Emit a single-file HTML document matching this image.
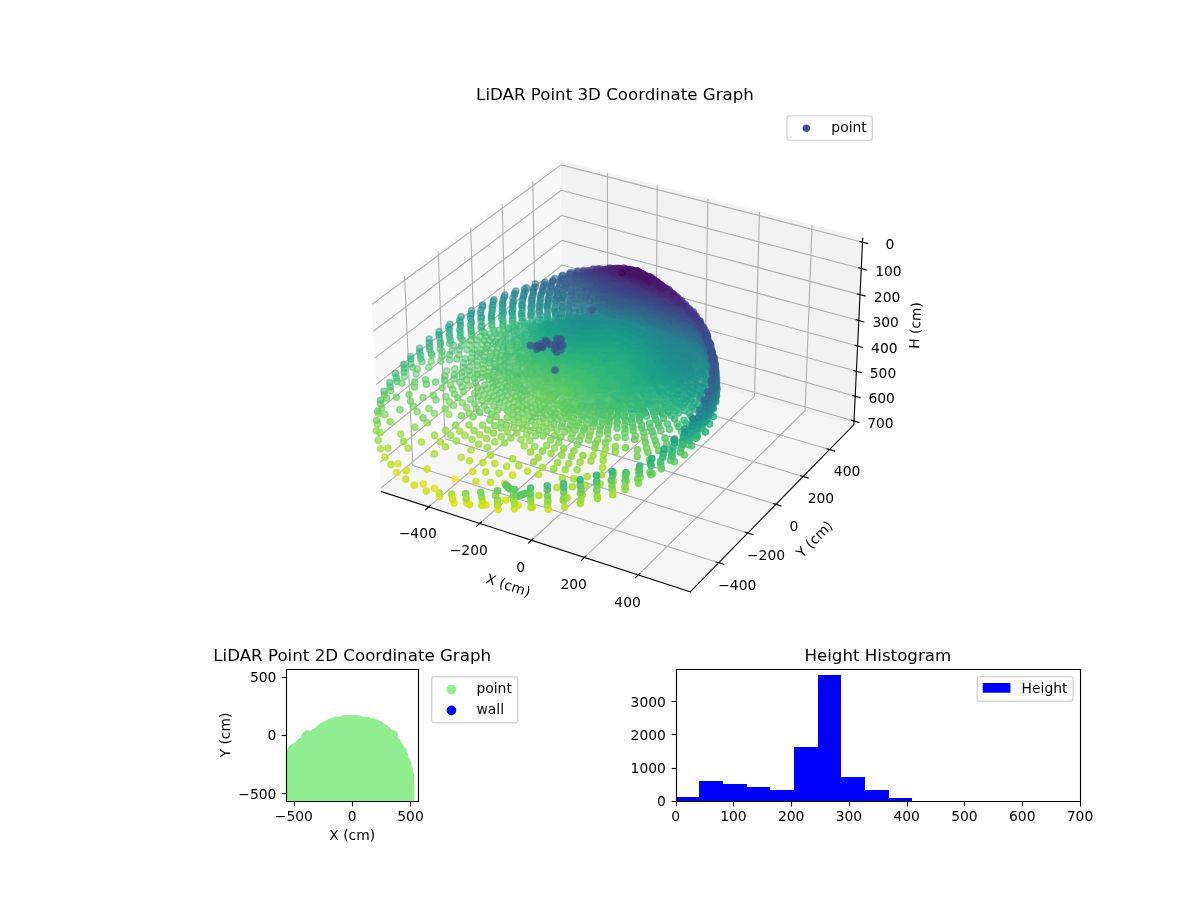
<!DOCTYPE html>
<html><head><meta charset="utf-8"><title>LiDAR Point Graphs</title>
<style>html,body{margin:0;padding:0;background:#fff}svg{display:block}</style></head>
<body>
<svg width="1200" height="900" viewBox="0 0 864 648" version="1.1">
 
 <defs>
  <style type="text/css">*{stroke-linejoin:round;stroke-linecap:butt}.d path{stroke-linecap:round;fill:none!important}.d use{stroke-width:1}.c0{stroke:#440154;fill:#440154}.c1{stroke:#460a5d;fill:#460a5d}.c2{stroke:#481467;fill:#481467}.c3{stroke:#481c6e;fill:#481c6e}.c4{stroke:#482576;fill:#482576}.c5{stroke:#472d7b;fill:#472d7b}.c6{stroke:#453581;fill:#453581}.c7{stroke:#433d84;fill:#433d84}.c8{stroke:#404588;fill:#404588}.c9{stroke:#3d4d8a;fill:#3d4d8a}.c10{stroke:#3a538b;fill:#3a538b}.c11{stroke:#375b8d;fill:#375b8d}.c12{stroke:#34618d;fill:#34618d}.c13{stroke:#31688e;fill:#31688e}.c14{stroke:#2e6e8e;fill:#2e6e8e}.c15{stroke:#2b748e;fill:#2b748e}.c16{stroke:#297b8e;fill:#297b8e}.c17{stroke:#26818e;fill:#26818e}.c18{stroke:#24878e;fill:#24878e}.c19{stroke:#228d8d;fill:#228d8d}.c20{stroke:#20938c;fill:#20938c}.c21{stroke:#1f998a;fill:#1f998a}.c22{stroke:#1fa088;fill:#1fa088}.c23{stroke:#21a585;fill:#21a585}.c24{stroke:#25ac82;fill:#25ac82}.c25{stroke:#2db27d;fill:#2db27d}.c26{stroke:#35b779;fill:#35b779}.c27{stroke:#40bd72;fill:#40bd72}.c28{stroke:#4cc26c;fill:#4cc26c}.c29{stroke:#5ac864;fill:#5ac864}.c30{stroke:#67cc5c;fill:#67cc5c}.c31{stroke:#77d153;fill:#77d153}.c32{stroke:#89d548;fill:#89d548}.c33{stroke:#98d83e;fill:#98d83e}.c34{stroke:#aadc32;fill:#aadc32}.c35{stroke:#bade28;fill:#bade28}.c36{stroke:#cde11d;fill:#cde11d}.c37{stroke:#dde318;fill:#dde318}.c38{stroke:#efe51c;fill:#efe51c}.c39{stroke:#fde725;fill:#fde725}</style>
 </defs>
 <defs><circle id="k" r="2.236"/></defs><g id="figure_1">
  <g id="patch_1">
   <path d="M 0 648 
L 864 648 
L 864 0 
L 0 0 
z
" style="fill: #ffffff"/>
  </g>
  <g id="patch_2">
   <path d="M 252.72 457.92 
L 632.88 457.92 
L 632.88 77.76 
L 252.72 77.76 
z
" style="fill: #ffffff"/>
  </g>
  <g id="pane3d_1">
   <g id="patch_3">
    <path d="M 267.680796 216.18586 
L 403.881306 116.035228 
L 405.421245 245.571476 
L 274.565229 353.897859 
" style="fill: #f2f2f2; opacity: 0.5; stroke: #f2f2f2; stroke-linejoin: miter"/>
   </g>
  </g>
  <g id="pane3d_2">
   <g id="patch_4">
    <path d="M 403.881306 116.035228 
L 621.142482 171.595328 
L 614.776617 305.757118 
L 405.421245 245.571476 
" style="fill: #e6e6e6; opacity: 0.5; stroke: #e6e6e6; stroke-linejoin: miter"/>
   </g>
  </g>
  <g id="pane3d_3">
   <g id="patch_5">
    <path d="M 274.565229 353.897859 
L 497.017399 426.096021 
L 614.776617 305.757118 
L 405.421245 245.571476 
" style="fill: #ececec; opacity: 0.5; stroke: #ececec; stroke-linejoin: miter"/>
   </g>
  </g>
  <g id="grid3d_1">
   <g id="Line3DCollection_1">
    <path d="M 308.711138 364.980115 
L 437.68707 254.84728 
L 437.312753 124.584636 
" style="fill: none; stroke: #b0b0b0; stroke-width: 0.8"/>
    <path d="M 345.381222 376.881607 
L 472.285316 264.793611 
L 473.182238 133.757523 
" style="fill: none; stroke: #b0b0b0; stroke-width: 0.8"/>
    <path d="M 382.734945 389.004978 
L 507.472512 274.909252 
L 509.685004 143.092358 
" style="fill: none; stroke: #b0b0b0; stroke-width: 0.8"/>
    <path d="M 420.791602 401.35649 
L 543.263826 285.198567 
L 546.837973 152.59347 
" style="fill: none; stroke: #b0b0b0; stroke-width: 0.8"/>
    <path d="M 459.571225 413.942645 
L 579.67495 295.666064 
L 584.658671 162.26534 
" style="fill: none; stroke: #b0b0b0; stroke-width: 0.8"/>
   </g>
  </g>
  <g id="grid3d_2">
   <g id="Line3DCollection_2">
    <path d="M 291.32191 198.802133 
L 297.215645 335.147192 
L 517.481529 405.183595 
" style="fill: none; stroke: #b0b0b0; stroke-width: 0.8"/>
    <path d="M 315.492775 181.02887 
L 320.400922 315.953751 
L 538.393797 383.813214 
" style="fill: none; stroke: #b0b0b0; stroke-width: 0.8"/>
    <path d="M 338.91015 163.809662 
L 342.889816 297.336797 
L 558.644113 363.119286 
" style="fill: none; stroke: #b0b0b0; stroke-width: 0.8"/>
    <path d="M 361.608727 147.118999 
L 364.713236 279.270741 
L 578.263417 343.070192 
" style="fill: none; stroke: #b0b0b0; stroke-width: 0.8"/>
    <path d="M 383.621102 130.932912 
L 385.90029 261.731487 
L 597.280752 323.636255 
" style="fill: none; stroke: #b0b0b0; stroke-width: 0.8"/>
   </g>
  </g>
  <g id="grid3d_3">
   <g id="Line3DCollection_3">
    <path d="M 621.010408 174.37882 
L 403.913197 118.717846 
L 267.823838 219.047196 
" style="fill: none; stroke: #b0b0b0; stroke-width: 0.8"/>
    <path d="M 620.110153 193.351864 
L 404.130642 137.008834 
L 268.798619 238.546111 
" style="fill: none; stroke: #b0b0b0; stroke-width: 0.8"/>
    <path d="M 619.219215 212.12855 
L 404.34595 155.120025 
L 269.762905 257.835104 
" style="fill: none; stroke: #b0b0b0; stroke-width: 0.8"/>
    <path d="M 618.33745 230.71191 
L 404.559151 173.054054 
L 270.716866 276.917548 
" style="fill: none; stroke: #b0b0b0; stroke-width: 0.8"/>
    <path d="M 617.464717 249.104914 
L 404.770277 190.81351 
L 271.660665 295.796741 
" style="fill: none; stroke: #b0b0b0; stroke-width: 0.8"/>
    <path d="M 616.600878 267.310473 
L 404.979358 208.400929 
L 272.594466 314.475915 
" style="fill: none; stroke: #b0b0b0; stroke-width: 0.8"/>
    <path d="M 615.745799 285.331436 
L 405.186424 225.818799 
L 273.518425 332.958231 
" style="fill: none; stroke: #b0b0b0; stroke-width: 0.8"/>
    <path d="M 614.899345 303.170599 
L 405.391502 243.069559 
L 274.432698 351.246786 
" style="fill: none; stroke: #b0b0b0; stroke-width: 0.8"/>
   </g>
  </g>
  <g id="axis3d_1">
   <g id="line2d_1">
    <path d="M 274.565229 353.897859 
L 497.017399 426.096021 
" style="fill: none; stroke: #000000; stroke-width: 0.8; stroke-linecap: square"/>
   </g>
   <g id="xtick_1">
    <g id="line2d_2">
     <path d="M 309.838522 364.017439 
L 306.451304 366.909792 
" style="fill: none; stroke: #000000; stroke-width: 0.8; stroke-linecap: square"/>
    </g>
    <g id="text_1">
     <text style="font-size: 10px; font-family: 'DejaVu Sans', 'Liberation Sans', sans-serif; text-anchor: middle" x="300.806394" y="387.354919" transform="rotate(-0 300.806394 387.354919)">−400</text>
    </g>
   </g>
   <g id="xtick_2">
    <g id="line2d_3">
     <path d="M 346.491365 375.901074 
L 343.155905 378.847118 
" style="fill: none; stroke: #000000; stroke-width: 0.8; stroke-linecap: square"/>
    </g>
    <g id="text_2">
     <text style="font-size: 10px; font-family: 'DejaVu Sans', 'Liberation Sans', sans-serif; text-anchor: middle" x="337.52168" y="399.431758" transform="rotate(-0 337.52168 399.431758)">−200</text>
    </g>
   </g>
   <g id="xtick_3">
    <g id="line2d_4">
     <path d="M 383.827003 388.006087 
L 380.54583 391.007331 
" style="fill: none; stroke: #000000; stroke-width: 0.8; stroke-linecap: square"/>
    </g>
    <g id="text_3">
     <text style="font-size: 10px; font-family: 'DejaVu Sans', 'Liberation Sans', sans-serif; text-anchor: middle" x="374.923677" y="411.734478" transform="rotate(-0 374.923677 411.734478)">0</text>
    </g>
   </g>
   <g id="xtick_4">
    <g id="line2d_5">
     <path d="M 421.864697 400.33872 
L 418.640455 403.39673 
" style="fill: none; stroke: #000000; stroke-width: 0.8; stroke-linecap: square"/>
    </g>
    <g id="text_4">
     <text style="font-size: 10px; font-family: 'DejaVu Sans', 'Liberation Sans', sans-serif; text-anchor: middle" x="413.031834" y="424.269476" transform="rotate(-0 413.031834 424.269476)">200</text>
    </g>
   </g>
   <g id="xtick_5">
    <g id="line2d_6">
     <path d="M 460.624436 412.905456 
L 457.459891 416.021858 
" style="fill: none; stroke: #000000; stroke-width: 0.8; stroke-linecap: square"/>
    </g>
    <g id="text_5">
     <text style="font-size: 10px; font-family: 'DejaVu Sans', 'Liberation Sans', sans-serif; text-anchor: middle" x="451.86634" y="437.043394" transform="rotate(-0 451.86634 437.043394)">400</text>
    </g>
   </g>
   <g id="text_6">
    <text style="font-size: 10px; font-family: 'DejaVu Sans', 'Liberation Sans', sans-serif; text-anchor: middle" x="364.836861" y="424.649564" transform="rotate(-342.018856 364.836861 424.649564)">X (cm)</text>
   </g>
  </g>
  <g id="axis3d_2">
   <g id="line2d_7">
    <path d="M 614.776617 305.757118 
L 497.017399 426.096021 
" style="fill: none; stroke: #000000; stroke-width: 0.8; stroke-linecap: square"/>
   </g>
   <g id="xtick_6">
    <g id="line2d_8">
     <path d="M 515.622193 404.592395 
L 521.20517 406.367575 
" style="fill: none; stroke: #000000; stroke-width: 0.8; stroke-linecap: square"/>
    </g>
    <g id="text_7">
     <text style="font-size: 10px; font-family: 'DejaVu Sans', 'Liberation Sans', sans-serif; text-anchor: middle" x="530.838385" y="424.970802" transform="rotate(-0 530.838385 424.970802)">−400</text>
    </g>
   </g>
   <g id="xtick_7">
    <g id="line2d_9">
     <path d="M 536.555195 383.240872 
L 542.075836 384.959404 
" style="fill: none; stroke: #000000; stroke-width: 0.8; stroke-linecap: square"/>
    </g>
    <g id="text_8">
     <text style="font-size: 10px; font-family: 'DejaVu Sans', 'Liberation Sans', sans-serif; text-anchor: middle" x="551.554691" y="403.384783" transform="rotate(-0 551.554691 403.384783)">−200</text>
    </g>
   </g>
   <g id="xtick_8">
    <g id="line2d_10">
     <path d="M 556.825874 362.564913 
L 562.285297 364.229466 
" style="fill: none; stroke: #000000; stroke-width: 0.8; stroke-linecap: square"/>
    </g>
    <g id="text_9">
     <text style="font-size: 10px; font-family: 'DejaVu Sans', 'Liberation Sans', sans-serif; text-anchor: middle" x="571.614661" y="382.482655" transform="rotate(-0 571.614661 382.482655)">0</text>
    </g>
   </g>
   <g id="xtick_9">
    <g id="line2d_11">
     <path d="M 576.465174 342.532956 
L 581.864485 344.146033 
" style="fill: none; stroke: #000000; stroke-width: 0.8; stroke-linecap: square"/>
    </g>
    <g id="text_10">
     <text style="font-size: 10px; font-family: 'DejaVu Sans', 'Liberation Sans', sans-serif; text-anchor: middle" x="591.048999" y="362.232423" transform="rotate(-0 591.048999 362.232423)">200</text>
    </g>
   </g>
   <g id="xtick_10">
    <g id="line2d_12">
     <path d="M 595.502143 323.115373 
L 600.842432 324.679327 
" style="fill: none; stroke: #000000; stroke-width: 0.8; stroke-linecap: square"/>
    </g>
    <g id="text_11">
     <text style="font-size: 10px; font-family: 'DejaVu Sans', 'Liberation Sans', sans-serif; text-anchor: middle" x="609.886525" y="342.604058" transform="rotate(-0 609.886525 342.604058)">400</text>
    </g>
   </g>
   <g id="text_12">
    <text style="font-size: 10px; font-family: 'DejaVu Sans', 'Liberation Sans', sans-serif; text-anchor: middle" x="588.842829" y="390.652061" transform="rotate(-45.620749 588.842829 390.652061)">Y (cm)</text>
   </g>
  </g>
  <g id="axis3d_3">
   <g id="line2d_13">
    <path d="M 614.776617 305.757118 
L 621.142482 171.595328 
" style="fill: none; stroke: #000000; stroke-width: 0.8; stroke-linecap: square"/>
   </g>
   <g id="xtick_11">
    <g id="line2d_14">
     <path d="M 619.181675 173.909956 
L 624.672565 175.317751 
" style="fill: none; stroke: #000000; stroke-width: 0.8; stroke-linecap: square"/>
    </g>
    <g id="text_13">
     <text style="font-size: 10px; font-family: 'DejaVu Sans', 'Liberation Sans', sans-serif; text-anchor: middle" x="640.677285" y="179.489939" transform="rotate(-0 640.677285 179.489939)">0</text>
    </g>
   </g>
   <g id="xtick_12">
    <g id="line2d_15">
     <path d="M 618.29131 192.877379 
L 623.752479 194.302046 
" style="fill: none; stroke: #000000; stroke-width: 0.8; stroke-linecap: square"/>
    </g>
    <g id="text_14">
     <text style="font-size: 10px; font-family: 'DejaVu Sans', 'Liberation Sans', sans-serif; text-anchor: middle" x="639.67699" y="198.433139" transform="rotate(-0 639.67699 198.433139)">100</text>
    </g>
   </g>
   <g id="xtick_13">
    <g id="line2d_16">
     <path d="M 617.410157 211.648585 
L 622.841923 213.089699 
" style="fill: none; stroke: #000000; stroke-width: 0.8; stroke-linecap: square"/>
    </g>
    <g id="text_15">
     <text style="font-size: 10px; font-family: 'DejaVu Sans', 'Liberation Sans', sans-serif; text-anchor: middle" x="638.687024" y="217.180728" transform="rotate(-0 638.687024 217.180728)">200</text>
    </g>
   </g>
   <g id="xtick_14">
    <g id="line2d_17">
     <path d="M 616.538072 230.226602 
L 621.94075 231.683751 
" style="fill: none; stroke: #000000; stroke-width: 0.8; stroke-linecap: square"/>
    </g>
    <g id="text_16">
     <text style="font-size: 10px; font-family: 'DejaVu Sans', 'Liberation Sans', sans-serif; text-anchor: middle" x="637.707229" y="235.735721" transform="rotate(-0 637.707229 235.735721)">300</text>
    </g>
   </g>
   <g id="xtick_15">
    <g id="line2d_18">
     <path d="M 615.674916 248.614398 
L 621.048816 250.087179 
" style="fill: none; stroke: #000000; stroke-width: 0.8; stroke-linecap: square"/>
    </g>
    <g id="text_17">
     <text style="font-size: 10px; font-family: 'DejaVu Sans', 'Liberation Sans', sans-serif; text-anchor: middle" x="636.737447" y="254.101072" transform="rotate(-0 636.737447 254.101072)">400</text>
    </g>
   </g>
   <g id="xtick_16">
    <g id="line2d_19">
     <path d="M 614.820553 266.81488 
L 620.16598 268.302898 
" style="fill: none; stroke: #000000; stroke-width: 0.8; stroke-linecap: square"/>
    </g>
    <g id="text_18">
     <text style="font-size: 10px; font-family: 'DejaVu Sans', 'Liberation Sans', sans-serif; text-anchor: middle" x="635.777526" y="272.279671" transform="rotate(-0 635.777526 272.279671)">500</text>
    </g>
   </g>
   <g id="xtick_17">
    <g id="line2d_20">
     <path d="M 613.974849 284.830894 
L 619.292102 286.333766 
" style="fill: none; stroke: #000000; stroke-width: 0.8; stroke-linecap: square"/>
    </g>
    <g id="text_19">
     <text style="font-size: 10px; font-family: 'DejaVu Sans', 'Liberation Sans', sans-serif; text-anchor: middle" x="634.827318" y="290.274354" transform="rotate(-0 634.827318 290.274354)">600</text>
    </g>
   </g>
   <g id="xtick_18">
    <g id="line2d_21">
     <path d="M 613.137674 302.665232 
L 618.427047 304.182583 
" style="fill: none; stroke: #000000; stroke-width: 0.8; stroke-linecap: square"/>
    </g>
    <g id="text_20">
     <text style="font-size: 10px; font-family: 'DejaVu Sans', 'Liberation Sans', sans-serif; text-anchor: middle" x="633.886674" y="308.087898" transform="rotate(-0 633.886674 308.087898)">700</text>
    </g>
   </g>
   <g id="text_21">
    <text style="font-size: 10px; font-family: 'DejaVu Sans', 'Liberation Sans', sans-serif; text-anchor: middle" x="662.549299" y="234.4502" transform="rotate(-87.2834 662.549299 234.4502)">H (cm)</text>
   </g>
  </g>
  <g id="axes_1">
   <g id="SCATTER3D">
    <defs>
     <path id="m24099ccb27" d="M 0 2.236068 
C 0.593012 2.236068 1.161816 2.000462 1.581139 1.581139 
C 2.000462 1.161816 2.236068 0.593012 2.236068 0 
C 2.236068 -0.593012 2.000462 -1.161816 1.581139 -1.581139 
C 1.161816 -2.000462 0.593012 -2.236068 0 -2.236068 
C -0.593012 -2.236068 -1.161816 -2.000462 -1.581139 -1.581139 
C -2.000462 -1.161816 -2.236068 -0.593012 -2.236068 0 
C -2.236068 0.593012 -2.000462 1.161816 -1.581139 1.581139 
C -1.161816 2.000462 -0.593012 2.236068 0 2.236068 
z
" style="stroke: #3b528b"/>
    </defs>
    <g clip-path="url(#pcbff7d88e8)">
     <g class="d" stroke-width="5.47"><g class="c25" fill-opacity=".5" stroke-opacity=".5"><use href="#k" x="377.5" y="232.5"/><use href="#k" x="375.9" y="231.4"/><use href="#k" x="369" y="230.9"/></g><path class="c25" opacity=".51" d="M379.9 233h0"/><g class="c21" fill-opacity=".5" stroke-opacity=".5"><use href="#k" x="394.1" y="227.4"/><use href="#k" x="389" y="226.7"/><use href="#k" x="388.3" y="224.6"/><use href="#k" x="382.6" y="224.7"/></g><path class="c21" opacity=".51" d="M400 228.5h0M399.9 231.1h0"/><path class="c21" opacity=".51" d="M401.8 229.5h0"/><g class="c23" fill-opacity=".5" stroke-opacity=".5"><use href="#k" x="375.7" y="227.2"/></g><path class="c23" opacity=".51" d="M388.4 229.9h0M385.9 231.8h0"/><path class="c23" opacity=".51" d="M390.6 230.8h0M387.7 232.5h0"/><g class="c22" fill-opacity=".5" stroke-opacity=".5"><use href="#k" x="382.5" y="227.2"/><use href="#k" x="382.1" y="226.1"/><use href="#k" x="375.4" y="225.7"/></g><path class="c22" opacity=".51" d="M388.1 228.6h0M395.6 230.2h0"/><path class="c22" opacity=".51" d="M394.1 228.9h0M397.6 231.2h0M394.7 232h0"/><path class="c22" opacity=".51" d="M393.4 230.9h0"/><g class="c24" fill-opacity=".5" stroke-opacity=".5"><use href="#k" x="375.9" y="229.2"/><use href="#k" x="369.2" y="229.5"/></g><path class="c24" opacity=".51" d="M383.2 231.2h0"/><path class="c24" opacity=".51" d="M382.6 230h0M382.8 233.1h0"/><g class="c27" fill-opacity=".5" stroke-opacity=".5"><use href="#k" x="362.1" y="234.9"/></g><g class="c20" fill-opacity=".5" stroke-opacity=".5"><use href="#k" x="399.9" y="226.6"/><use href="#k" x="394" y="226.1"/><use href="#k" x="388.5" y="223.3"/></g><path class="c20" opacity=".51" d="M404.5 228.2h0M407.6 229.6h0M404.7 231.2h0"/><path class="c20" opacity=".51" d="M405.9 229.7h0M402.6 229.9h0"/><g class="c19" fill-opacity=".5" stroke-opacity=".5"><use href="#k" x="399.9" y="225.3"/><use href="#k" x="404.5" y="225.2"/><use href="#k" x="394.6" y="223.3"/><use href="#k" x="399.4" y="223.8"/></g><path class="c19" opacity=".51" d="M409.7 228.5h0M414.5 228.8h0M404.3 226.6h0M412.2 229.8h0M418.1 228.6h0M421.1 228.6h0"/><path class="c19" opacity=".51" d="M409.5 227.1h0M413.7 227.9h0M419 229.5h0"/><path class="c19" opacity=".51" d="M411.6 228.9h0M415.6 229.1h0"/><g class="c26" fill-opacity=".5" stroke-opacity=".5"><use href="#k" x="369.1" y="233.1"/><use href="#k" x="371.5" y="233.8"/><use href="#k" x="362.1" y="233.4"/><use href="#k" x="373.9" y="234.7"/></g><g class="c18" fill-opacity=".5" stroke-opacity=".5"><use href="#k" x="409.7" y="224.9"/><use href="#k" x="404.5" y="223"/></g><path class="c18" opacity=".51" d="M418 227.3h0M414.2 225.7h0M420.9 226.6h0"/><g class="c17" fill-opacity=".5" stroke-opacity=".5"><use href="#k" x="409.5" y="223.5"/><use href="#k" x="405" y="221.7"/></g><path class="c17" opacity=".51" d="M414 224.7h0"/><g class="c27" fill-opacity=".5" stroke-opacity=".5"><use href="#k" x="365.7" y="236"/><use href="#k" x="354.2" y="235.5"/><use href="#k" x="355.6" y="237.8"/></g><path class="c21" opacity=".51" d="M400.9 231.3h0"/><g class="c17" fill-opacity=".5" stroke-opacity=".5"><use href="#k" x="409.4" y="221.8"/></g><path class="c17" opacity=".51" d="M417.6 225.7h0M424.7 226.8h0"/><path class="c17" opacity=".51" d="M417.4 223.8h0"/><g class="c18" fill-opacity=".5" stroke-opacity=".5"><use href="#k" x="399.4" y="222.1"/><use href="#k" x="399.9" y="220.6"/></g><path class="c18" opacity=".51" d="M425.6 228.1h0M422.1 228.7h0"/><path class="c18" opacity=".51" d="M427.9 229h0"/><g class="c23" fill-opacity=".5" stroke-opacity=".5"><use href="#k" x="369.1" y="227.2"/></g><path class="c23" opacity=".51" d="M390.1 233.4h0"/><g class="c25" fill-opacity=".5" stroke-opacity=".5"><use href="#k" x="362.3" y="231.2"/></g><path class="c25" opacity=".51" d="M377.9 235.1h0"/><g class="c20" fill-opacity=".5" stroke-opacity=".5"><use href="#k" x="382.4" y="221.8"/></g><path class="c20" opacity=".51" d="M409.6 230.3h0M406.3 231h0"/><path class="c20" opacity=".51" d="M410.6 231h0"/><path class="c16" opacity=".51" d="M413.8 222.3h0M409.9 220.4h0"/><g class="c19" fill-opacity=".5" stroke-opacity=".5"><use href="#k" x="393.9" y="221.6"/><use href="#k" x="388.5" y="221.2"/></g><path class="c19" opacity=".51" d="M413.7 230.3h0M425.8 229.5h0M416.9 230.1h0M419.7 229.3h0"/><path class="c24" opacity=".51" d="M385.2 233.8h0"/><path class="c26" opacity=".51" d="M369.4 235.8h0"/><g class="c22" fill-opacity=".5" stroke-opacity=".5"><use href="#k" x="376" y="224.1"/></g><path class="c22" opacity=".51" d="M396.3 232h0"/><g class="c17" fill-opacity=".5" stroke-opacity=".5"><use href="#k" x="404.5" y="220.7"/><use href="#k" x="400" y="218.2"/></g><path class="c17" opacity=".51" d="M421.1 225.1h0M427.7 227.4h0"/><g class="c27" fill-opacity=".5" stroke-opacity=".5"><use href="#k" x="359.2" y="237.9"/></g><g class="c22" fill-opacity=".5" stroke-opacity=".5"><use href="#k" x="368.7" y="225.1"/></g><path class="c22" opacity=".51" d="M392.4 233.3h0M398.6 233.5h0"/><g class="c21" fill-opacity=".5" stroke-opacity=".5"><use href="#k" x="375.9" y="221.6"/></g><path class="c21" opacity=".51" d="M402.6 232.4h0"/><path class="c25" opacity=".51" d="M380.1 235.1h0"/><g class="c19" fill-opacity=".5" stroke-opacity=".5"><use href="#k" x="388.3" y="220.2"/></g><path class="c19" opacity=".51" d="M417.7 230.4h0M420.9 230.3h0M426 229.9h0M414.8 231.2h0M411.7 231.4h0"/><path class="c19" opacity=".51" d="M423.1 229.9h0"/><path class="c16" opacity=".51" d="M421.6 224h0M417.6 222.4h0M424.7 225.1h0M413.8 221.2h0"/><path class="c16" opacity=".51" d="M424.6 223.7h0"/><g class="c18" fill-opacity=".5" stroke-opacity=".5"><use href="#k" x="393.8" y="220.1"/><use href="#k" x="394.7" y="219"/></g><path class="c18" opacity=".51" d="M430.9 228.5h0M428.5 229.5h0M433.5 228.7h0"/><path class="c18" opacity=".51" d="M430.8 229.5h0"/><path class="c26" opacity=".51" d="M371.6 237.2h0"/><g class="c20" fill-opacity=".5" stroke-opacity=".5"><use href="#k" x="382.4" y="221"/></g><path class="c20" opacity=".51" d="M407.5 232h0"/><g class="c24" fill-opacity=".5" stroke-opacity=".5"><use href="#k" x="361.3" y="229.5"/></g><path class="c24" opacity=".51" d="M388 235.3h0"/><g class="c16" fill-opacity=".5" stroke-opacity=".5"><use href="#k" x="409.4" y="218.8"/><use href="#k" x="404.8" y="218.1"/><use href="#k" x="404.7" y="216.6"/><use href="#k" x="399.9" y="215.5"/><use href="#k" x="401" y="214.1"/></g><path class="c16" opacity=".52" d="M427.4 225.2h0M420.6 221.9h0M430.5 225.1h0M435.8 225.7h0"/><path class="c16" opacity=".52" d="M433 225.2h0"/><g class="c27" fill-opacity=".5" stroke-opacity=".5"><use href="#k" x="348.7" y="239.5"/><use href="#k" x="346.9" y="238.2"/></g><path class="c27" opacity=".52" d="M362.6 238.2h0M356.5 240.1h0"/><g class="c28" fill-opacity=".5" stroke-opacity=".5"><use href="#k" x="352.7" y="240.3"/></g><g class="c22" fill-opacity=".5" stroke-opacity=".5"><use href="#k" x="368.7" y="223.8"/><use href="#k" x="362.6" y="225.4"/><use href="#k" x="361.5" y="224.1"/></g><path class="c22" opacity=".52" d="M394.1 233.7h0M391.7 234.8h0M397.5 234.7h0"/><path class="c22" opacity=".52" d="M395.9 234.3h0M393.6 235.6h0"/><g class="c24" fill-opacity=".5" stroke-opacity=".5"><use href="#k" x="354.1" y="230.7"/><use href="#k" x="353.7" y="229.2"/></g><path class="c24" opacity=".52" d="M382.6 235.8h0M387.4 236.4h0"/><path class="c24" opacity=".52" d="M384.7 236.6h0"/><g class="c23" fill-opacity=".5" stroke-opacity=".5"><use href="#k" x="361.4" y="227.4"/><use href="#k" x="353.8" y="227.4"/></g><path class="c23" opacity=".52" d="M389.8 235h0"/><g class="c21" fill-opacity=".5" stroke-opacity=".5"><use href="#k" x="369.2" y="222.1"/></g><path class="c21" opacity=".52" d="M400.1 232.9h0M402.5 234.5h0M407.3 234.2h0M410 235.2h0"/><path class="c21" opacity=".52" d="M404.1 234.6h0"/><g class="c20" fill-opacity=".5" stroke-opacity=".5"><use href="#k" x="375.9" y="219.9"/><use href="#k" x="375.9" y="219.2"/><use href="#k" x="369.2" y="219.7"/></g><path class="c20" opacity=".52" d="M404.1 232.7h0M413.4 232.1h0M409.1 232.9h0M419.1 233.8h0"/><path class="c20" opacity=".52" d="M414.7 232.9h0M405.3 233.2h0M410.6 233.3h0"/><path class="c20" opacity=".52" d="M411.4 233.4h0M408.4 234.4h0"/><g class="c18" fill-opacity=".5" stroke-opacity=".5"><use href="#k" x="388.9" y="218.2"/><use href="#k" x="388.8" y="216.5"/><use href="#k" x="383.1" y="216.1"/></g><path class="c18" opacity=".52" d="M433.5 229.2h0M436 228.4h0M427.1 230.3h0M440.6 229.7h0M429.9 230.3h0"/><path class="c18" opacity=".52" d="M437.9 229.6h0M432.3 230.3h0M441.5 230.3h0"/><path class="c18" opacity=".52" d="M436.5 230.1h0M439 230.7h0"/><path class="c18" opacity=".52" d="M438.3 229.8h0"/><path class="c18" opacity=".52" d="M440.4 230.1h0"/><g class="c17" fill-opacity=".5" stroke-opacity=".5"><use href="#k" x="394.8" y="217"/><use href="#k" x="400.1" y="216.6"/><use href="#k" x="394.6" y="215.7"/><use href="#k" x="389.3" y="215"/><use href="#k" x="394.9" y="214.5"/><use href="#k" x="389.2" y="212.9"/></g><path class="c17" opacity=".52" d="M430.3 226.7h0M433.5 227.1h0M438.2 227.2h0"/><path class="c17" opacity=".52" d="M435.8 226.7h0M440.3 227.4h0"/><g class="c19" fill-opacity=".5" stroke-opacity=".5"><use href="#k" x="383" y="219.3"/><use href="#k" x="382.6" y="216.9"/><use href="#k" x="376.1" y="216.5"/></g><path class="c19" opacity=".52" d="M416.1 231.5h0M424 230.3h0M429.5 230h0M419.2 231.9h0M434.1 230.4h0M422.2 232.8h0M426.6 232.4h0"/><path class="c19" opacity=".52" d="M425.5 231.1h0M421.8 231.5h0M431.9 230.4h0M417.4 232.6h0M436.2 230.9h0M429 231.3h0M414.6 232.9h0"/><path class="c19" opacity=".52" d="M419.7 232.2h0M423.3 231.7h0M430.4 231.8h0M427.9 231.4h0M435 231.2h0"/><path class="c19" opacity=".52" d="M425.6 231.7h0M418.4 232.6h0M433 231.3h0"/><path class="c19" opacity=".52" d="M423.4 232.1h0M420.8 232.3h0"/><g class="c15" fill-opacity=".5" stroke-opacity=".5"><use href="#k" x="405.2" y="214.8"/><use href="#k" x="405.5" y="213.5"/></g><path class="c15" opacity=".52" d="M418 220.7h0M413.9 218.7h0M425 222.3h0M421.4 220.2h0M410.4 217.1h0M427.6 222.8h0M430.8 223h0"/><path class="c15" opacity=".52" d="M418 218.9h0M413.9 217.8h0M424.8 220.2h0M410.4 216.4h0M421.5 219h0M433.2 223.4h0M428.1 221.5h0"/><path class="c15" opacity=".52" d="M414 216.5h0M430.5 221.7h0"/><g class="c26" fill-opacity=".5" stroke-opacity=".5"><use href="#k" x="354.2" y="233.7"/><use href="#k" x="346.3" y="235.7"/><use href="#k" x="366.5" y="237.1"/></g><path class="c26" opacity=".52" d="M369.5 238.5h0"/><g class="c25" fill-opacity=".5" stroke-opacity=".5"><use href="#k" x="346.9" y="234.6"/></g><path class="c25" opacity=".52" d="M374.8 236.7h0M377.9 237.1h0M380.6 237.7h0"/><path class="c14" opacity=".52" d="M418.3 217.3h0M424.5 218.6h0M427.9 220.5h0M422 217.5h0"/><path class="c14" opacity=".52" d="M418 215.9h0"/><g class="c16" fill-opacity=".5" stroke-opacity=".5"><use href="#k" x="395.7" y="212.6"/><use href="#k" x="389.8" y="211.4"/></g><path class="c16" opacity=".52" d="M440.3 226.5h0"/><path class="c16" opacity=".52" d="M438 225.9h0"/><g class="c28" fill-opacity=".5" stroke-opacity=".5"><use href="#k" x="340.3" y="241.9"/><use href="#k" x="345.7" y="242.6"/></g><g class="c22" fill-opacity=".5" stroke-opacity=".5"><use href="#k" x="354" y="225.5"/></g><path class="c22" opacity=".52" d="M399.6 235.6h0M395.1 236.2h0"/><g class="c21" fill-opacity=".5" stroke-opacity=".5"><use href="#k" x="361.8" y="221.4"/></g><path class="c21" opacity=".52" d="M401.5 235.4h0M405.4 235.5h0"/><path class="c21" opacity=".52" d="M407.1 235.7h0"/><g class="c14" fill-opacity=".5" stroke-opacity=".5"><use href="#k" x="410.6" y="212.6"/></g><path class="c14" opacity=".52" d="M425.4 217.4h0M428.5 218.7h0M414 215.3h0M430.8 221h0M422 215.9h0M418.3 214.7h0"/><path class="c14" opacity=".52" d="M415 213.1h0"/><g class="c24" fill-opacity=".5" stroke-opacity=".5"><use href="#k" x="346.4" y="231.3"/></g><path class="c24" opacity=".52" d="M389.4 237.5h0M382.6 237.5h0"/><g class="c19" fill-opacity=".5" stroke-opacity=".5"><use href="#k" x="376.4" y="215"/><use href="#k" x="369.8" y="217"/></g><path class="c19" opacity=".52" d="M435 231.6h0M431.2 231.8h0M424.8 232.7h0M412.8 233.5h0M427.4 232.6h0M439.2 231.4h0M417.9 233.7h0"/><path class="c19" opacity=".52" d="M429.7 232.7h0M433.3 232.2h0M441.2 231.8h0M424 233.2h0"/><path class="c19" opacity=".52" d="M431.9 232.1h0"/><g class="c15" fill-opacity=".5" stroke-opacity=".5"><use href="#k" x="405.7" y="212.5"/><use href="#k" x="405.5" y="212.1"/></g><path class="c15" opacity=".52" d="M400.7 212.6h0M409.6 214.1h0M436.3 223h0M433.8 221.9h0"/><path class="c15" opacity=".52" d="M438.2 224.1h0"/><g class="c27" fill-opacity=".5" stroke-opacity=".5"><use href="#k" x="339.3" y="240.4"/><use href="#k" x="364" y="240.8"/></g><path class="c27" opacity=".52" d="M360.2 240.8h0"/><g class="c20" fill-opacity=".5" stroke-opacity=".5"><use href="#k" x="369.1" y="218.2"/><use href="#k" x="362.1" y="219.5"/></g><path class="c20" opacity=".52" d="M416.4 233.6h0M420.7 234.2h0"/><path class="c20" opacity=".52" d="M414.5 234.5h0"/><g class="c17" fill-opacity=".5" stroke-opacity=".5"><use href="#k" x="383.7" y="212.9"/></g><path class="c17" opacity=".52" d="M442.1 228.7h0"/><g class="c18" fill-opacity=".5" stroke-opacity=".5"><use href="#k" x="382.9" y="214.5"/></g><path class="c18" opacity=".52" d="M436.9 231h0M445.7 230h0M440.1 231.1h0M442.8 230.4h0"/><path class="c18" opacity=".52" d="M444 230.4h0M437.6 231h0"/><path class="c18" opacity=".52" d="M446.1 230.9h0"/><path class="c18" opacity=".52" d="M444.4 231h0"/><path class="c26" opacity=".52" d="M372.4 238.9h0M375.4 239.5h0"/><path class="c17" opacity=".53" d="M444.4 228.8h0"/><g class="c16" fill-opacity=".5" stroke-opacity=".5"><use href="#k" x="395.7" y="210.9"/></g><path class="c16" opacity=".53" d="M441.8 226.4h0"/><path class="c23" opacity=".53" d="M391.5 236.8h0"/><path class="c20" opacity=".53" d="M421.2 234.4h0"/><g class="c26" fill-opacity=".5" stroke-opacity=".5"><use href="#k" x="339.3" y="238.4"/></g><path class="c19" opacity=".53" d="M430.6 233h0M442.4 231.5h0M434 232.2h0"/><path class="c19" opacity=".53" d="M435.4 232.6h0"/><g class="c15" fill-opacity=".5" stroke-opacity=".5"><use href="#k" x="400.9" y="210.7"/></g><path class="c15" opacity=".53" d="M435.7 222.1h0"/><path class="c14" opacity=".53" d="M433 220.3h0"/><g class="c18" fill-opacity=".5" stroke-opacity=".5"><use href="#k" x="377.1" y="213.3"/></g><path class="c18" opacity=".53" d="M447.2 231.2h0"/><path class="c21" opacity=".53" d="M403 236h0"/><g class="c19" fill-opacity=".5" stroke-opacity=".5"><use href="#k" x="369.3" y="214.6"/></g><path class="c19" opacity=".53" d="M432.5 232.9h0M439.3 231.9h0M425.9 233.2h0"/><path class="c19" opacity=".53" d="M438.1 232.5h0M423.7 234.1h0"/><path class="c13" opacity=".53" d="M424.9 216.4h0M418.6 213.4h0"/><g class="c15" fill-opacity=".5" stroke-opacity=".5"><use href="#k" x="395.7" y="209.9"/></g><g class="c21" fill-opacity=".5" stroke-opacity=".5"><use href="#k" x="354.6" y="223.2"/></g><g class="c16" fill-opacity=".5" stroke-opacity=".5"><use href="#k" x="390.6" y="210"/></g><path class="c16" opacity=".53" d="M443.9 227.2h0"/><path class="c22" opacity=".53" d="M397.5 237h0"/><g class="c25" fill-opacity=".5" stroke-opacity=".5"><use href="#k" x="339.1" y="236.6"/></g><path class="c14" opacity=".53" d="M438.3 221.9h0M431.1 218.7h0"/><path class="c20" opacity=".53" d="M411.7 234.8h0"/><g class="c27" fill-opacity=".5" stroke-opacity=".5"><use href="#k" x="349.7" y="242.2"/></g><path class="c14" opacity=".53" d="M411.3 211.7h0M435.4 220.5h0"/><g class="c15" fill-opacity=".5" stroke-opacity=".5"><use href="#k" x="401" y="209.6"/></g><path class="c15" opacity=".53" d="M442 224.5h0"/><path class="c15" opacity=".53" d="M440 224.4h0"/><path class="c26" opacity=".53" d="M367.1 240.7h0"/><path class="c13" opacity=".53" d="M427.9 217.2h0M421.7 214.3h0M414.9 212.2h0M431.1 217.4h0"/><g class="c20" fill-opacity=".5" stroke-opacity=".5"><use href="#k" x="361.8" y="218.3"/></g><path class="c20" opacity=".53" d="M418.5 235.8h0"/><path class="c19" opacity=".53" d="M437.1 233.1h0M428.3 233.5h0M444.3 231.9h0M434.6 232.9h0"/><path class="c19" opacity=".53" d="M429.1 233.8h0M426.3 234h0M433.3 233.9h0"/><g class="c18" fill-opacity=".5" stroke-opacity=".5"><use href="#k" x="377.1" y="212.1"/></g><path class="c18" opacity=".53" d="M447.3 231.2h0"/><path class="c18" opacity=".53" d="M448.9 231.3h0"/><path class="c24" opacity=".53" d="M385.3 238.4h0"/><g class="c22" fill-opacity=".5" stroke-opacity=".5"><use href="#k" x="346.5" y="228"/></g><path class="c22" opacity=".53" d="M394.1 237.3h0M399.9 236.7h0"/><path class="c21" opacity=".53" d="M408.4 236.1h0M404.6 236.7h0"/><path class="c21" opacity=".53" d="M410 236.7h0"/><path class="c16" opacity=".53" d="M445.5 227.4h0"/><g class="c17" fill-opacity=".5" stroke-opacity=".5"><use href="#k" x="384" y="210.8"/></g><path class="c25" opacity=".53" d="M377.7 239.9h0"/><g class="c28" fill-opacity=".5" stroke-opacity=".5"><use href="#k" x="354.2" y="243"/></g><path class="c24" opacity=".53" d="M387.7 238.8h0"/><g class="c16" fill-opacity=".5" stroke-opacity=".5"><use href="#k" x="390.7" y="208.8"/><use href="#k" x="384.1" y="209.5"/></g><path class="c16" opacity=".53" d="M443.4 225.8h0M445.8 226.2h0"/><g class="c28" fill-opacity=".5" stroke-opacity=".5"><use href="#k" x="333.4" y="245"/></g><path class="c20" opacity=".53" d="M420.2 235.2h0M415.7 235.1h0M412.9 235.5h0"/><path class="c20" opacity=".53" d="M422.6 235.2h0M416.6 235.6h0M411.1 236.7h0"/><g class="c13" fill-opacity=".5" stroke-opacity=".5"><use href="#k" x="411.2" y="209.7"/></g><path class="c13" opacity=".53" d="M426 214.2h0M428.3 215.5h0M433.6 218.4h0M422 213.4h0M418.9 212h0M415.6 210.9h0M410.8 210.3h0M436.1 219.1h0"/><path class="c13" opacity=".53" d="M422.1 212.3h0"/><g class="c18" fill-opacity=".5" stroke-opacity=".5"><use href="#k" x="370.6" y="212.3"/></g><path class="c18" opacity=".53" d="M446.5 231.2h0M450.2 231.3h0"/><path class="c18" opacity=".53" d="M447.9 231.8h0M450.7 231.6h0"/><g class="c19" fill-opacity=".5" stroke-opacity=".5"><use href="#k" x="362.2" y="216.2"/></g><path class="c19" opacity=".53" d="M430.9 233.3h0M442.7 232.3h0M424.6 234.3h0M437.9 232.8h0M449 232.1h0M435.6 233.7h0M451.6 232.3h0M446 232.3h0M427.9 234.8h0"/><path class="c19" opacity=".53" d="M441.1 232.2h0M431.1 234h0M436.9 232.9h0M444.4 232.8h0M425.6 234.8h0"/><path class="c19" opacity=".53" d="M442.3 232.6h0M430 234h0M427 234.3h0"/><path class="c19" opacity=".53" d="M440.5 232.4h0M444.6 233.2h0"/><path class="c19" opacity=".53" d="M441.6 233.1h0"/><g class="c21" fill-opacity=".5" stroke-opacity=".5"><use href="#k" x="354.3" y="221.3"/></g><path class="c21" opacity=".53" d="M406.3 236.8h0M403 237.3h0"/><g class="c15" fill-opacity=".5" stroke-opacity=".5"><use href="#k" x="396.5" y="207.8"/></g><path class="c15" opacity=".53" d="M441.7 223h0"/><path class="c15" opacity=".53" d="M440.6 222.8h0"/><path class="c17" opacity=".53" d="M447 228.7h0"/><path class="c17" opacity=".53" d="M449.2 229.6h0"/><path class="c25" opacity=".53" d="M381 240.1h0"/><path class="c22" opacity=".53" d="M396 238.1h0"/><g class="c14" fill-opacity=".5" stroke-opacity=".5"><use href="#k" x="405.9" y="209.3"/><use href="#k" x="400.9" y="208.6"/></g><path class="c14" opacity=".53" d="M438.1 220h0"/><path class="c14" opacity=".53" d="M440 220.8h0"/><g class="c27" fill-opacity=".5" stroke-opacity=".5"><use href="#k" x="332" y="243.7"/></g><g class="c23" fill-opacity=".5" stroke-opacity=".5"><use href="#k" x="346.4" y="229.3"/></g><path class="c23" opacity=".53" d="M389.2 238.8h0M391.9 239.8h0"/><path class="c26" opacity=".53" d="M370.5 241.3h0"/><g class="c24" fill-opacity=".5" stroke-opacity=".5"><use href="#k" x="338.8" y="233.9"/></g><path class="c24" opacity=".53" d="M383.4 240.1h0"/><path class="c27" opacity=".53" d="M358.3 242.9h0M361.9 243.3h0"/><g class="c17" fill-opacity=".5" stroke-opacity=".5"><use href="#k" x="370.4" y="211.2"/><use href="#k" x="378" y="210.1"/></g><path class="c17" opacity=".53" d="M452.1 230.4h0"/><path class="c17" opacity=".53" d="M450.7 228.7h0"/><path class="c22" opacity=".53" d="M397.7 238.2h0"/><path class="c22" opacity=".53" d="M399 239h0"/><g class="c21" fill-opacity=".5" stroke-opacity=".5"><use href="#k" x="345.9" y="225.2"/></g><path class="c21" opacity=".53" d="M401.5 237.5h0M407.7 237.4h0M404.7 238.1h0"/><g class="c20" fill-opacity=".5" stroke-opacity=".5"><use href="#k" x="355" y="219.8"/></g><path class="c20" opacity=".53" d="M414.5 236.2h0M420.3 235.8h0M417.4 236.5h0M424.4 235.9h0"/><path class="c20" opacity=".53" d="M415.6 236.3h0M426.6 235.6h0M419.5 236.7h0"/><g class="c13" fill-opacity=".5" stroke-opacity=".5"><use href="#k" x="406.5" y="207.9"/></g><path class="c13" opacity=".53" d="M415.4 210h0M430.9 215.9h0M419 210.4h0M434.2 217.5h0M438.1 218.9h0"/><path class="c13" opacity=".53" d="M436.1 217.2h0"/><g class="c16" fill-opacity=".5" stroke-opacity=".5"><use href="#k" x="384.2" y="207.7"/><use href="#k" x="377.7" y="208.1"/></g><path class="c16" opacity=".53" d="M448.4 227.7h0"/><path class="c16" opacity=".53" d="M447.7 226.7h0"/><g class="c28" fill-opacity=".5" stroke-opacity=".5"><use href="#k" x="338.9" y="245.1"/><use href="#k" x="343.3" y="244.8"/></g><path class="c19" opacity=".53" d="M436.5 234.1h0M423 234.4h0M447.8 232.9h0M439 233.4h0M433.8 234.5h0M451.8 232.6h0M442.8 233.2h0M430.7 235h0"/><path class="c19" opacity=".53" d="M435.3 234.3h0M440.1 234.2h0M449 232.4h0M432 233.9h0"/><path class="c19" opacity=".53" d="M440.6 233h0M447.8 233.4h0"/><path class="c19" opacity=".53" d="M439.5 233.4h0"/><path class="c19" opacity=".53" d="M441.6 233.2h0"/><path class="c12" opacity=".53" d="M425.8 213.1h0M431.1 214.4h0M428.4 214.8h0"/><path class="c12" opacity=".53" d="M425.8 211.6h0M428.5 213.2h0"/><g class="c14" fill-opacity=".5" stroke-opacity=".5"><use href="#k" x="401.8" y="207.4"/><use href="#k" x="396.7" y="206.4"/></g><path class="c14" opacity=".53" d="M442.3 221.7h0"/><path class="c15" opacity=".53" d="M446.1 224.3h0"/><path class="c15" opacity=".53" d="M444.8 223.7h0M447.3 225h0"/><path class="c18" opacity=".53" d="M453.6 232.3h0M450.5 232.5h0M446.1 232.4h0"/><g class="c26" fill-opacity=".5" stroke-opacity=".5"><use href="#k" x="331.3" y="241.9"/></g><path class="c26" opacity=".53" d="M373.2 241.3h0"/><path class="c24" opacity=".53" d="M385.8 240.6h0"/><path class="c26" opacity=".53" d="M375.3 242.2h0"/><path class="c21" opacity=".53" d="M409.4 238.1h0M405.9 238.6h0"/><g class="c15" fill-opacity=".5" stroke-opacity=".5"><use href="#k" x="390.9" y="207.1"/><use href="#k" x="385.4" y="206.6"/></g><g class="c13" fill-opacity=".5" stroke-opacity=".5"><use href="#k" x="403.2" y="205.2"/></g><path class="c13" opacity=".53" d="M407.3 207.1h0M411.5 207.3h0M440 219.8h0M438.4 217.6h0"/><path class="c13" opacity=".53" d="M407.4 205.7h0M441.9 220.2h0"/><g class="c18" fill-opacity=".5" stroke-opacity=".5"><use href="#k" x="362.9" y="214"/><use href="#k" x="363.5" y="212.5"/></g><path class="c18" opacity=".53" d="M454.1 231.1h0"/><path class="c18" opacity=".53" d="M454.2 232.9h0"/><path class="c18" opacity=".53" d="M452.8 232.8h0"/><path class="c16" opacity=".53" d="M449.6 226.5h0M452 228h0"/><path class="c16" opacity=".53" d="M450.7 226.4h0"/><path class="c20" opacity=".53" d="M422 236.5h0M412.3 236.8h0M429.9 235.8h0M436.2 235.2h0M432.8 235.2h0M416.8 237.2h0M425.3 236.3h0"/><path class="c20" opacity=".53" d="M420 237.4h0M427.8 236.7h0M413.8 237.3h0M434.7 235.3h0M423 236.9h0"/><path class="c20" opacity=".53" d="M433.4 235.5h0"/><g class="c25" fill-opacity=".5" stroke-opacity=".5"><use href="#k" x="331.5" y="239.3"/></g><path class="c12" opacity=".53" d="M423.3 210.7h0M419.3 209.2h0M433.7 215.3h0M415.3 207.8h0M436.2 216.2h0M428.8 211.7h0"/><path class="c12" opacity=".53" d="M423.1 209.4h0"/><g class="c28" fill-opacity=".5" stroke-opacity=".5"><use href="#k" x="348.5" y="245.1"/></g><g class="c14" fill-opacity=".5" stroke-opacity=".5"><use href="#k" x="396.8" y="205.8"/><use href="#k" x="391.8" y="205.8"/></g><path class="c14" opacity=".53" d="M443.6 221.6h0"/><g class="c19" fill-opacity=".5" stroke-opacity=".5"><use href="#k" x="355.1" y="217.2"/></g><path class="c19" opacity=".53" d="M442.4 234.2h0M449.2 232.7h0M435 234.5h0M444.8 233.2h0M452.7 232.9h0M428.9 235.4h0"/><path class="c19" opacity=".53" d="M446.3 233.5h0M437.2 234.5h0M449.9 233.5h0M443.6 233.6h0M431.3 235h0M440.2 234.5h0"/><path class="c19" opacity=".53" d="M451.6 233.3h0M447.1 233.2h0"/><g class="c23" fill-opacity=".5" stroke-opacity=".5"><use href="#k" x="339.5" y="231.8"/></g><path class="c23" opacity=".53" d="M394.2 239.7h0"/><path class="c22" opacity=".53" d="M401.2 238.9h0"/><g class="c17" fill-opacity=".5" stroke-opacity=".5"><use href="#k" x="371.4" y="209.6"/></g><path class="c17" opacity=".53" d="M453.3 229.5h0"/><path class="c24" opacity=".54" d="M388.1 240.8h0"/><path class="c17" opacity=".54" d="M455.3 231h0"/><path class="c27" opacity=".54" d="M365.3 243.5h0M368.5 243.6h0"/><path class="c12" opacity=".54" d="M426 210.6h0M411.1 206.1h0M433.7 214.3h0M416 207.1h0M438.1 216h0M431.1 213h0M418.9 207.9h0"/><path class="c12" opacity=".54" d="M436.2 214.6h0"/><path class="c21" opacity=".54" d="M415 238.2h0M410.8 238.4h0M407.9 239.2h0"/><g class="c14" fill-opacity=".5" stroke-opacity=".5"><use href="#k" x="385.4" y="204.4"/><use href="#k" x="391.8" y="204.5"/></g><path class="c14" opacity=".54" d="M446 222.7h0"/><path class="c14" opacity=".54" d="M447.7 222.7h0"/><path class="c25" opacity=".54" d="M378.7 241.1h0M382 242h0"/><g class="c18" fill-opacity=".5" stroke-opacity=".5"><use href="#k" x="355.6" y="215.9"/></g><path class="c18" opacity=".54" d="M456.2 232.3h0M453.7 233.2h0"/><path class="c18" opacity=".54" d="M457.3 232.4h0"/><path class="c18" opacity=".54" d="M455.5 232.1h0"/><path class="c19" opacity=".54" d="M445.7 234.2h0M440.7 234.6h0M428 235.8h0M449.9 233.9h0M435.7 235.1h0"/><path class="c19" opacity=".54" d="M441 234.3h0M444 234.7h0M448.9 234.2h0M437.7 235h0M452 233.5h0"/><path class="c19" opacity=".54" d="M444.8 234.1h0M448.5 234.4h0"/><path class="c15" opacity=".54" d="M449.2 224h0"/><path class="c15" opacity=".54" d="M450.3 224.8h0"/><g class="c16" fill-opacity=".5" stroke-opacity=".5"><use href="#k" x="379.1" y="207.3"/></g><path class="c16" opacity=".54" d="M452.8 227.1h0M454.6 228.9h0"/><g class="c22" fill-opacity=".5" stroke-opacity=".5"><use href="#k" x="338.8" y="229.4"/></g><path class="c22" opacity=".54" d="M395.9 239.7h0M403.2 240h0"/><path class="c22" opacity=".54" d="M397 240.2h0"/><g class="c20" fill-opacity=".5" stroke-opacity=".5"><use href="#k" x="346.4" y="223.2"/><use href="#k" x="347.5" y="220.8"/></g><path class="c20" opacity=".54" d="M417.8 236.9h0M436.5 235.5h0M421.5 237.5h0M412.5 238h0M442.6 235h0M431.7 236.4h0M426.3 236.3h0M439.6 235.8h0"/><path class="c20" opacity=".54" d="M438.5 235.5h0M430.4 236.1h0M443.6 235.3h0M418.8 237.5h0M427.6 237.3h0"/><path class="c13" opacity=".54" d="M440 217.6h0M446.3 220.6h0"/><path class="c13" opacity=".54" d="M444 220.3h0"/><path class="c11" opacity=".54" d="M422.7 207.8h0"/><g class="c28" fill-opacity=".5" stroke-opacity=".5"><use href="#k" x="326.5" y="248.6"/></g><path class="c14" opacity=".54" d="M448.2 223.3h0M450.7 223.4h0"/><path class="c26" opacity=".54" d="M371.1 244.2h0M374.2 243.6h0"/><path class="c22" opacity=".54" d="M404.4 240.2h0M399 240.4h0"/><path class="c22" opacity=".54" d="M401.9 240.5h0"/><g class="c13" fill-opacity=".5" stroke-opacity=".5"><use href="#k" x="403.3" y="204.4"/><use href="#k" x="392.4" y="203.2"/><use href="#k" x="398" y="202.7"/></g><path class="c13" opacity=".54" d="M442.3 218.3h0M407.8 205.1h0M397.2 203.8h0M402.8 202.9h0M447.4 221.1h0"/><path class="c13" opacity=".54" d="M443.4 218.5h0M447.5 219.5h0"/><path class="c13" opacity=".54" d="M446.1 219.7h0M449 220.9h0"/><g class="c23" fill-opacity=".5" stroke-opacity=".5"><use href="#k" x="331.6" y="234.6"/></g><path class="c23" opacity=".54" d="M390 240.9h0M394 241h0"/><path class="c23" opacity=".54" d="M392.4 240.7h0M396 241.5h0"/><path class="c18" opacity=".54" d="M458.3 233.6h0M455.5 233.4h0"/><path class="c18" opacity=".54" d="M459.5 233.6h0M457 233.9h0"/><path class="c18" opacity=".54" d="M458.1 232.6h0M454.6 234h0M460.6 233.8h0"/><path class="c18" opacity=".54" d="M456.7 233.9h0"/><path class="c18" opacity=".54" d="M457.9 234.1h0"/><g class="c19" fill-opacity=".5" stroke-opacity=".5"><use href="#k" x="347.5" y="219.5"/></g><path class="c19" opacity=".54" d="M447.4 235.1h0M450.1 234.4h0M454.8 233.9h0M443.2 235.3h0"/><path class="c19" opacity=".54" d="M446.1 234.7h0M451.7 233.7h0M454.1 234.7h0M448.8 234.6h0"/><path class="c19" opacity=".54" d="M451.6 234.2h0M447.9 234.9h0M444.4 235.3h0"/><path class="c19" opacity=".54" d="M452.9 234.3h0M446.5 235.1h0M449.5 235h0"/><path class="c19" opacity=".54" d="M447.8 235.5h0M451.5 234.8h0"/><path class="c20" opacity=".54" d="M422.1 237.7h0M442.4 235.6h0M437.2 235.7h0M434.2 235.7h0M428.8 236.9h0M415.9 238.1h0M445 235.4h0M426.2 237.8h0M431.4 237h0M439.6 236.6h0"/><path class="c20" opacity=".54" d="M423.5 236.9h0M441.7 235.2h0M435.7 236.7h0M420.5 238h0M432.8 236.7h0M417.4 238.5h0M427.9 237h0M445.1 235.5h0"/><path class="c20" opacity=".54" d="M424.5 237.7h0M440 236.1h0M434.8 236.8h0M429.8 237.3h0M421.1 238.5h0"/><path class="c20" opacity=".54" d="M423.4 237.8h0M440.1 236.6h0M431.7 237.5h0M427 238.3h0M436.4 236.3h0"/><path class="c20" opacity=".54" d="M439.5 236.1h0M442.1 236.5h0M428.4 237.9h0M433.3 236.9h0M436 237.1h0"/><path class="c20" opacity=".90" d="M434.3 237.6h0"/><g class="c24" fill-opacity=".5" stroke-opacity=".5"><use href="#k" x="331" y="237.3"/></g><path class="c24" opacity=".54" d="M383.7 242.1h0M386.8 242.6h0"/><path class="c12" opacity=".54" d="M412 204.7h0M440.1 216.8h0M419.5 207h0M416.3 205.5h0M407.9 203.9h0M438.2 214.9h0M404.1 202.2h0"/><path class="c12" opacity=".54" d="M441.9 216.4h0M412.3 203.6h0"/><path class="c12" opacity=".54" d="M440 215h0"/><g class="c21" fill-opacity=".5" stroke-opacity=".5"><use href="#k" x="338.7" y="227.3"/><use href="#k" x="339.5" y="225.9"/></g><path class="c21" opacity=".54" d="M409.5 239h0M413.8 238.5h0M406.2 239.5h0"/><path class="c21" opacity=".54" d="M415.1 239h0M410.3 239.1h0M407.7 239.6h0"/><path class="c21" opacity=".54" d="M412.4 239.3h0"/><path class="c21" opacity=".54" d="M413.3 240h0"/><path class="c15" opacity=".54" d="M451.6 226.1h0M454.2 227.4h0"/><path class="c15" opacity=".54" d="M451.5 224.5h0"/><path class="c15" opacity=".54" d="M453.1 225.9h0"/><path class="c11" opacity=".54" d="M426.5 208.9h0M431.9 211.9h0M429 210.3h0M423 206.9h0M420 205.1h0M435.6 214h0M417.1 204.7h0M434.4 210.7h0"/><path class="c11" opacity=".54" d="M433.9 213.1h0M429 208.5h0M426.5 208.1h0"/><path class="c11" opacity=".54" d="M433.7 211.5h0"/><g class="c28" fill-opacity=".5" stroke-opacity=".5"><use href="#k" x="332.2" y="249"/><use href="#k" x="337.5" y="248.2"/></g><path class="c16" opacity=".54" d="M455.8 229.2h0M459 230.2h0"/><path class="c16" opacity=".54" d="M457.4 228h0"/><path class="c17" opacity=".54" d="M457 230.1h0M459.6 231.8h0"/><g class="c27" fill-opacity=".5" stroke-opacity=".5"><use href="#k" x="352.4" y="245.2"/><use href="#k" x="356.8" y="245.9"/><use href="#k" x="323.8" y="247.4"/></g><path class="c27" opacity=".54" d="M360.7 246h0"/><g class="c26" fill-opacity=".5" stroke-opacity=".5"><use href="#k" x="324.4" y="245.1"/></g><path class="c26" opacity=".54" d="M377 244h0"/><path class="c25" opacity=".54" d="M379.7 243.8h0"/><path class="c19" opacity=".54" d="M448.5 235.6h0M452.3 235h0M459.1 234.9h0M456.3 234.9h0"/><path class="c19" opacity=".54" d="M454.8 234.9h0M446.9 235.6h0M449.4 235.9h0M458.4 235.1h0"/><path class="c19" opacity=".54" d="M453.6 234.8h0M457.1 234.9h0"/><path class="c14" opacity=".54" d="M453.1 224.5h0"/><path class="c14" opacity=".54" d="M452 222.5h0M454.6 225.1h0"/><g class="c13" fill-opacity=".5" stroke-opacity=".5"><use href="#k" x="398.2" y="201.8"/></g><path class="c13" opacity=".54" d="M450.2 221.3h0"/><path class="c18" opacity=".54" d="M456.6 234.4h0M460.2 233.7h0M463 234.5h0"/><path class="c18" opacity=".54" d="M462 233.5h0"/><path class="c18" opacity=".54" d="M461.3 234.3h0"/><path class="c15" opacity=".54" d="M455.7 226.8h0M458.3 228.2h0"/><g class="c20" fill-opacity=".5" stroke-opacity=".5"><use href="#k" x="339.6" y="223.6"/></g><path class="c20" opacity=".54" d="M419.8 238.9h0M438 236.4h0M424.5 238.4h0M443 236.7h0M451.1 236.1h0M430.3 237.6h0"/><path class="c20" opacity=".54" d="M438.1 236.6h0M418.9 238.9h0M444.2 236.2h0M440.8 236.7h0M422.5 238.5h0M448.7 236.2h0M432.5 237.7h0"/><path class="c20" opacity=".54" d="M436.9 237.7h0M442.4 236.5h0M445.4 236.2h0"/><path class="c22" opacity=".54" d="M402.9 241.4h0"/><path class="c22" opacity=".54" d="M404.8 241h0"/><path class="c12" opacity=".54" d="M408.1 202.8h0M444.3 217.1h0M447.1 218.7h0"/><path class="c21" opacity=".54" d="M415.8 239.5h0M409.2 240.9h0"/><path class="c21" opacity=".54" d="M417.4 239.6h0"/><path class="c11" opacity=".54" d="M431.5 210.7h0M442.9 214.8h0M416.5 203.6h0M436.2 211.8h0M426.3 206.7h0M420.1 204.9h0M423.1 205.6h0M428.8 208h0M438.6 213.3h0"/><path class="c11" opacity=".54" d="M440.8 214h0M431.9 209.1h0M443.4 215.3h0"/><path class="c27" opacity=".54" d="M364 245.9h0"/><path class="c24" opacity=".54" d="M388.5 243h0"/><path class="c24" opacity=".54" d="M391 243.1h0"/><g class="c28" fill-opacity=".5" stroke-opacity=".5"><use href="#k" x="342.6" y="248.2"/></g><path class="c27" opacity=".54" d="M367.3 246.2h0"/><path class="c16" opacity=".54" d="M459.5 230.6h0"/><g class="c12" fill-opacity=".5" stroke-opacity=".5"><use href="#k" x="399.5" y="200.6"/></g><path class="c12" opacity=".54" d="M445.9 217.2h0M449.5 219.3h0M404.5 200.9h0"/><path class="c12" opacity=".54" d="M450.5 219.5h0"/><path class="c15" opacity=".54" d="M457.1 226.5h0"/><path class="c24" opacity=".54" d="M392.4 243.1h0"/><path class="c23" opacity=".54" d="M398.3 242.3h0"/><path class="c21" opacity=".54" d="M418.1 240h0M410.6 240.4h0M429.3 239.1h0M414.6 240.6h0M433.3 238.7h0"/><path class="c14" opacity=".54" d="M454.6 223.5h0"/><path class="c14" opacity=".54" d="M455.8 224.7h0"/><path class="c19" opacity=".54" d="M451.8 235.8h0M457 235h0"/><path class="c19" opacity=".54" d="M449.9 235.7h0M453.9 235.7h0"/><path class="c19" opacity=".54" d="M453.8 236.1h0M450.6 235.6h0"/><path class="c20" opacity=".54" d="M439.7 237.5h0M447.7 236.3h0M445.1 236.3h0M425 238.6h0M435.8 237.2h0M429.6 238.1h0M421.5 239.2h0M452.2 236.5h0M432.5 238.7h0"/><path class="c20" opacity=".54" d="M438.4 237.8h0M446.2 236.7h0M431.8 238.5h0M434.5 237.8h0M443.2 237.1h0M427.8 238.6h0M423.3 239.2h0M452.5 237.3h0"/><path class="c20" opacity=".54" d="M437.1 238.1h0M441 236.9h0"/><path class="c20" opacity=".54" d="M436.4 237.8h0M441.8 237.1h0"/><path class="c20" opacity=".54" d="M440.5 237.7h0"/><g class="c25" fill-opacity=".5" stroke-opacity=".5"><use href="#k" x="323.6" y="242.5"/></g><path class="c25" opacity=".54" d="M382.4 244h0"/><path class="c13" opacity=".54" d="M451.5 221.5h0"/><path class="c11" opacity=".54" d="M438.5 211.7h0M412.6 202.5h0M409.2 200.8h0"/><path class="c11" opacity=".54" d="M437.2 210.3h0M440.5 212.2h0"/><path class="c17" opacity=".54" d="M461.4 232.6h0M464.2 234.1h0"/><path class="c17" opacity=".54" d="M462.6 232.2h0"/><g class="c22" fill-opacity=".5" stroke-opacity=".5"><use href="#k" x="331.5" y="232.5"/></g><path class="c22" opacity=".54" d="M399.8 242.2h0M405.7 241.6h0"/><path class="c10" opacity=".54" d="M434.6 208.7h0M429.4 206.9h0"/><path class="c10" opacity=".54" d="M432.4 208.2h0"/><g class="c28" fill-opacity=".5" stroke-opacity=".5"><use href="#k" x="347.3" y="247.8"/></g><path class="c18" opacity=".54" d="M459.9 234.9h0"/><path class="c18" opacity=".54" d="M462 234.7h0M457.8 235h0"/><path class="c18" opacity=".54" d="M460.6 234.5h0"/><path class="c25" opacity=".55" d="M385.3 244.4h0"/><path class="c10" opacity=".55" d="M426.4 206.2h0M436.3 209.4h0M438.5 210.8h0M423.5 205.1h0M429.9 206.1h0M432.1 208h0M420.4 202.7h0"/><path class="c10" opacity=".55" d="M434.6 208.1h0M423.6 203.3h0M427.1 205.1h0"/><path class="c11" opacity=".55" d="M445.8 215.8h0M441.9 213.7h0M413.4 201.7h0M417.6 202.7h0M420.5 203.1h0M408.7 200.5h0"/><path class="c11" opacity=".55" d="M444.2 214.1h0M417.3 201.2h0M413.3 201.1h0"/><path class="c11" opacity=".55" d="M445.8 215.1h0M442.8 212.1h0"/><path class="c11" opacity=".55" d="M443.6 212.8h0"/><path class="c19" opacity=".55" d="M460.3 235.9h0M455.3 235.6h0M450.8 236.3h0"/><path class="c19" opacity=".55" d="M457.1 236.1h0M454 236.2h0"/><path class="c19" opacity=".55" d="M456.4 236h0M453.3 236h0M459.1 236.2h0"/><path class="c19" opacity=".55" d="M454.5 235.9h0"/><path class="c19" opacity=".55" d="M455.9 236.1h0M453.3 236.2h0"/><path class="c19" opacity=".91" d="M454.1 236.9h0"/><path class="c18" opacity=".55" d="M459.4 235h0M463.7 235.8h0"/><path class="c18" opacity=".55" d="M461.6 235.3h0M465 235.4h0"/><path class="c18" opacity=".55" d="M463.5 235.4h0"/><path class="c18" opacity=".55" d="M461.7 235.7h0"/><path class="c22" opacity=".55" d="M402 242.3h0M408.4 241.7h0M405.6 242.7h0"/><path class="c22" opacity=".55" d="M409.5 241.9h0M403.8 242.9h0"/><path class="c22" opacity=".55" d="M410.7 242.6h0"/><g class="c12" fill-opacity=".5" stroke-opacity=".5"><use href="#k" x="404.2" y="200"/></g><path class="c12" opacity=".55" d="M447.2 217h0M450.3 218.5h0"/><path class="c12" opacity=".55" d="M449 217.7h0M452 219.9h0"/><path class="c26" opacity=".55" d="M370 245.8h0M372.7 245.8h0M376 245.8h0"/><g class="c20" fill-opacity=".5" stroke-opacity=".5"><use href="#k" x="332" y="228"/></g><path class="c20" opacity=".55" d="M424.2 239.3h0M438.8 237.6h0M430.5 238.5h0M444.5 237.8h0M435.2 238.6h0M449.4 237.2h0M415.4 239.9h0M427.3 238.7h0M452.3 237.2h0M441.9 238.2h0"/><path class="c20" opacity=".55" d="M426.1 238.5h0M441.1 238h0M446.1 237.1h0M438.3 238.5h0M448.7 237.1h0M434.2 238.5h0M451.4 236.8h0M431.1 238.9h0"/><path class="c20" opacity=".55" d="M442.9 237.7h0M447.6 237.1h0M439.2 238.2h0M450.9 237.3h0M428.8 239.5h0M433.2 239.1h0"/><path class="c20" opacity=".55" d="M444.1 236.9h0M447.2 237.4h0M438.5 238.4h0M433.7 239.2h0M430.1 238.9h0"/><path class="c20" opacity=".55" d="M446.5 237.4h0M449.2 237.3h0M440.5 237.9h0"/><path class="c20" opacity=".91" d="M446.2 237.2h0M446.1 237.3h0M444.2 237.7h0M449.5 237.4h0M442.2 237.4h0"/><path class="c16" opacity=".55" d="M461.2 229.5h0M463.8 232.1h0"/><path class="c16" opacity=".55" d="M462.8 231.7h0"/><path class="c16" opacity=".55" d="M462.4 229.4h0"/><path class="c16" opacity=".55" d="M462.6 229.9h0"/><path class="c23" opacity=".55" d="M394.7 242.7h0M397.4 242.9h0"/><g class="c21" fill-opacity=".5" stroke-opacity=".5"><use href="#k" x="330.9" y="230.6"/></g><path class="c21" opacity=".55" d="M412.6 240.9h0M436.9 238.6h0M425.3 239.9h0M422.7 240h0M429.8 239.4h0M419.6 240.1h0"/><path class="c21" opacity=".55" d="M435.8 239.5h0M421 240.6h0M417.2 240.8h0M413.6 241.1h0M426.2 240.3h0"/><path class="c21" opacity=".55" d="M423 240.2h0M419 241h0M414.8 241.9h0"/><path class="c21" opacity=".55" d="M424.9 240.2h0"/><path class="c15" opacity=".55" d="M459.6 228h0M462.4 228h0"/><path class="c15" opacity=".55" d="M458.6 226.6h0"/><g class="c24" fill-opacity=".5" stroke-opacity=".5"><use href="#k" x="323.4" y="240.3"/></g><path class="c24" opacity=".55" d="M387 244.4h0M389.5 244h0"/><path class="c13" opacity=".55" d="M453.6 222.1h0"/><path class="c13" opacity=".55" d="M454.8 222.1h0"/><path class="c13" opacity=".55" d="M455.5 223.2h0M453.3 220.6h0"/><path class="c14" opacity=".55" d="M456.8 223.8h0"/><path class="c17" opacity=".55" d="M466.5 234.9h0"/><path class="c17" opacity=".55" d="M465.2 234.4h0"/><g class="c28" fill-opacity=".5" stroke-opacity=".5"><use href="#k" x="318.3" y="253"/><use href="#k" x="350.8" y="248.5"/><use href="#k" x="325.5" y="252.7"/><use href="#k" x="316.9" y="251.3"/></g><g class="c27" fill-opacity=".5" stroke-opacity=".5"><use href="#k" x="355.2" y="247.7"/></g><path class="c12" opacity=".55" d="M451.4 218.3h0M454.1 220h0"/><path class="c12" opacity=".55" d="M452.5 218.9h0M456.1 220.7h0"/><path class="c12" opacity=".55" d="M454 219.2h0"/><path class="c12" opacity=".55" d="M455.8 220h0"/><path class="c27" opacity=".55" d="M359.1 248h0M362.9 248.4h0M366.1 248.4h0M369.3 248.2h0"/><g class="c10" fill-opacity=".5" stroke-opacity=".5"><use href="#k" x="410" y="197.7"/><use href="#k" x="410.4" y="196.6"/></g><path class="c10" opacity=".55" d="M438.6 209.4h0M440.9 211.1h0M417.7 200.2h0M424.4 202.6h0M430.1 203.9h0M434.7 207.3h0M421.2 201.6h0M426.7 203.9h0M414 199.6h0M445.8 212.8h0M432.4 205.5h0M444.7 210.3h0"/><path class="c10" opacity=".55" d="M436.8 208.4h0M441.3 209.5h0M430 205.1h0M427.8 203h0M444.7 211.7h0M424.7 201.7h0M417.9 199.2h0M421.7 200.7h0M414.6 199.1h0M434.8 206.6h0M447.4 213.2h0"/><path class="c10" opacity=".55" d="M442.5 211.1h0M436.8 207.8h0M440 209.1h0M446.1 212.4h0M421.5 199.7h0M414.6 197.9h0M418.6 198.1h0"/><path class="c10" opacity=".55" d="M442.4 210.3h0M438.3 208.2h0"/><path class="c10" opacity=".55" d="M442.3 209.2h0"/><path class="c14" opacity=".55" d="M458.8 224.2h0M463.1 227.3h0"/><path class="c14" opacity=".55" d="M460.8 225.7h0"/><path class="c14" opacity=".55" d="M458.9 225.9h0M461.7 226.1h0"/><path class="c14" opacity=".55" d="M460 224.5h0M463 226.3h0"/><g class="c11" fill-opacity=".5" stroke-opacity=".5"><use href="#k" x="404.7" y="198.6"/><use href="#k" x="405.3" y="198.2"/></g><path class="c11" opacity=".55" d="M448.7 216.2h0M409.4 198.9h0M451.8 216.7h0M454.4 217.1h0"/><path class="c11" opacity=".55" d="M446.8 215.7h0M450.3 217.2h0M449.2 214.7h0M453.4 217.7h0"/><path class="c11" opacity=".55" d="M447.9 215.1h0M451.8 215.3h0"/><path class="c11" opacity=".55" d="M450.1 216h0"/><path class="c11" opacity=".55" d="M452.5 215.9h0"/><path class="c18" opacity=".55" d="M462.2 236.3h0M465.6 236h0M459.7 235.9h0M468.5 236.9h0"/><path class="c18" opacity=".55" d="M460.5 235.9h0M464.5 236h0M467.4 236.1h0"/><path class="c18" opacity=".55" d="M463.4 236.4h0M467.2 236.2h0"/><path class="c18" opacity=".55" d="M461.5 236.3h0M465.3 236.3h0"/><path class="c18" opacity=".55" d="M464.5 236.5h0M462.1 237.2h0"/><path class="c18" opacity=".91" d="M463.5 237.2h0M466.5 236.7h0M466.6 236.8h0M465 237.6h0M466.5 237.6h0M464.3 237.4h0"/><g class="c26" fill-opacity=".5" stroke-opacity=".5"><use href="#k" x="317" y="248"/></g><path class="c26" opacity=".55" d="M378.6 246.1h0M371.9 247.7h0"/><path class="c20" opacity=".55" d="M445 237.9h0M448.1 237.6h0M437.4 239h0M440.3 238.3h0M453.1 237.4h0M434.2 239.3h0M428.7 240.3h0M450.5 238.7h0"/><path class="c20" opacity=".55" d="M446.9 238.3h0M444.4 238.5h0M453.3 238.3h0M449.8 237.9h0M439.6 239.1h0"/><path class="c20" opacity=".55" d="M443.8 238.4h0M448.4 238.3h0M452.2 237.9h0"/><path class="c20" opacity=".55" d="M442.4 238.5h0M446.2 238.3h0M449.8 238.1h0M453.7 238.3h0"/><path class="c20" opacity=".55" d="M442.3 239h0M447.4 238.6h0M451.5 238.7h0M454.4 238.7h0"/><path class="c20" opacity=".91" d="M449.6 239h0M447.1 238.2h0M449.9 238.2h0M441.4 239h0M448.3 238.9h0M445.4 238.4h0M448 239.2h0M451.7 238.7h0M447.8 239h0M451.1 239h0M445.9 239.4h0M443.2 239.3h0M446.8 239.2h0M453.1 238.4h0M450 239h0M452.5 238.6h0"/><path class="c16" opacity=".55" d="M465.5 232.3h0M464.1 230.2h0M468.7 233.8h0"/><path class="c16" opacity=".55" d="M467.9 233h0M465.1 230.9h0"/><path class="c16" opacity=".55" d="M466.8 233.3h0"/><g class="c28" fill-opacity=".5" stroke-opacity=".5"><use href="#k" x="330.8" y="251.7"/><use href="#k" x="336.3" y="251.8"/><use href="#k" x="341.4" y="251.9"/><use href="#k" x="346.1" y="251.9"/></g><path class="c21" opacity=".55" d="M422.6 240.6h0M432.8 239.5h0M420.2 241.8h0M440 239.2h0M443.9 239h0M428.3 240.7h0M435.6 239.4h0M425.4 240.7h0M416.2 241.3h0M412.2 242.2h0M407.1 242.1h0M437.9 240.8h0M447 239.7h0"/><path class="c21" opacity=".55" d="M435 239.4h0M427.3 240.6h0M430.9 240.1h0M422.7 240.5h0M438.5 239.4h0M444.4 239.1h0M414.7 242.6h0M417.3 241.4h0M441.2 240.1h0M419.8 242.1h0"/><path class="c21" opacity=".55" d="M433 239.7h0M436.9 239.6h0M446.3 239.2h0M440.5 239.3h0M429.7 240.8h0M420.6 241h0M424 241.1h0M427.2 241.9h0M415.1 242.6h0M418.5 242.6h0M443.5 239.8h0"/><path class="c21" opacity=".55" d="M436.5 239.9h0M433.4 239.8h0M442.8 240h0M422.2 241.7h0M426.7 241.4h0M431.3 241.2h0M416.7 242.9h0M446 239.7h0M439.3 240h0"/><path class="c21" opacity=".55" d="M438.9 239.3h0M431.5 240.1h0M435.1 240.4h0M422.8 242.5h0M441.8 240h0M446 240.3h0"/><path class="c21" opacity=".91" d="M431.3 240.9h0M436.9 239.9h0M438.8 239.6h0M429.5 240.7h0M434.3 240.5h0M437 240.2h0M438.6 240.3h0M432.6 240.7h0M435.6 240.1h0M444.6 239.6h0M442.4 240.4h0"/><g class="c23" fill-opacity=".5" stroke-opacity=".5"><use href="#k" x="323.6" y="237.4"/></g><path class="c23" opacity=".55" d="M398.8 244h0M401.8 244.1h0M405.3 244.7h0"/><path class="c23" opacity=".55" d="M400.6 243.5h0M397.7 245.5h0"/><path class="c23" opacity=".55" d="M399.3 245.3h0"/><path class="c19" opacity=".55" d="M456.5 236.3h0M459.1 236.2h0M451.3 236.7h0M454 237.1h0M463 237.5h0"/><path class="c19" opacity=".55" d="M458.4 236.4h0M455.7 236.9h0M461.3 238h0"/><path class="c19" opacity=".55" d="M456.3 236.6h0M459.9 236.6h0"/><path class="c19" opacity=".55" d="M455 237.5h0M460.5 237.1h0M457.8 238.1h0"/><path class="c19" opacity=".55" d="M457.3 236.9h0M460.2 237.1h0M454.9 237.9h0"/><path class="c19" opacity=".91" d="M455.4 237.7h0M458.9 237.6h0M458.9 237.6h0M456.7 238h0M456.1 238.2h0M460 238.1h0M457.2 238.4h0M456.6 238.4h0M459 238.4h0"/><path class="c24" opacity=".55" d="M392 244.4h0M395.6 245.3h0"/><path class="c24" opacity=".55" d="M393.9 244.7h0M390.6 246.3h0"/><path class="c25" opacity=".55" d="M381.2 246.3h0M384.3 246.1h0M388.4 246.3h0"/><path class="c25" opacity=".55" d="M386 246.6h0"/><path class="c15" opacity=".55" d="M460.6 228h0M466.3 230.4h0M464.2 228.1h0"/><path class="c13" opacity=".55" d="M456.4 223h0M460 223.9h0"/><path class="c13" opacity=".55" d="M457.6 222.2h0"/><path class="c13" opacity=".55" d="M456.9 221.4h0"/><path class="c13" opacity=".55" d="M459.1 222.4h0"/><g class="c22" fill-opacity=".5" stroke-opacity=".5"><use href="#k" x="323" y="235.6"/></g><path class="c22" opacity=".55" d="M409.9 242.8h0M403.7 243.8h0M421.7 243.1h0M412.6 243.5h0M407.3 243.9h0"/><path class="c22" opacity=".55" d="M408.1 242.4h0M410.9 243.6h0M413.4 243.4h0"/><path class="c17" opacity=".55" d="M468.5 236.1h0"/><path class="c17" opacity=".55" d="M469.5 236.1h0"/><path class="c17" opacity=".55" d="M470 234.7h0"/><path class="c17" opacity=".55" d="M469.3 236.6h0"/><path class="c9" opacity=".55" d="M432.4 205.1h0M439.2 207.5h0M427.5 202h0M430.2 203h0M435.4 205.2h0M425.2 200.8h0"/><path class="c9" opacity=".55" d="M441 207.6h0M432.7 203.9h0"/><path class="c26" opacity=".56" d="M375.4 248.5h0M381 248.2h0"/><path class="c26" opacity=".56" d="M377.6 247.8h0"/><path class="c12" opacity=".56" d="M456.3 219.9h0M458.5 221.2h0"/><path class="c12" opacity=".56" d="M457.9 220.9h0"/><path class="c12" opacity=".56" d="M458.2 220h0"/><path class="c12" opacity=".56" d="M460 220.9h0"/><path class="c10" opacity=".56" d="M449.3 213.5h0M445.6 211.5h0M411.3 196.3h0M452.9 214.4h0M455.9 215h0"/><path class="c10" opacity=".56" d="M448.8 212h0M451.7 212.9h0M454.7 215.3h0"/><path class="c10" opacity=".56" d="M447.4 211.4h0M450 213.3h0M454.4 213.6h0"/><path class="c10" opacity=".56" d="M447.3 211.1h0"/><path class="c18" opacity=".56" d="M468 237.1h0M463.6 237.5h0M470.9 237.3h0"/><path class="c18" opacity=".56" d="M470 237.6h0M465.5 238.3h0"/><path class="c18" opacity=".56" d="M471.6 237.8h0M466.3 238.3h0"/><path class="c18" opacity=".56" d="M467.3 238h0M470.5 237.8h0"/><path class="c18" opacity=".56" d="M469.3 238.1h0M466.3 238.4h0"/><path class="c18" opacity=".91" d="M467.7 238.4h0M466.8 238.4h0M469.6 238.5h0"/><path class="c20" opacity=".56" d="M449.3 239.2h0M458.5 239.1h0M455.1 238.9h0M452.2 239.6h0M445.4 239.6h0"/><path class="c20" opacity=".56" d="M448 239.5h0M451.5 238.7h0M456.1 238.9h0M458.8 240.1h0"/><path class="c20" opacity=".56" d="M454.1 238.9h0M446.3 239.6h0M449.2 239.9h0M457.8 239.2h0M451.7 239.8h0"/><path class="c20" opacity=".56" d="M453.3 239h0M449.1 239.5h0M456.1 239.5h0"/><path class="c20" opacity=".56" d="M455.1 238.7h0M450.6 239.6h0M447.7 239.9h0M457.6 239.7h0"/><path class="c20" opacity=".91" d="M455.3 239h0M451.9 239.4h0M449 239.8h0M454.6 239.8h0M453.9 239.5h0M454.1 239.5h0M453.2 240.2h0M457 240h0M453 239.9h0M451.2 239.7h0M456 239.9h0M449.3 240.1h0M450.4 239.9h0M455.2 240.2h0M450.9 240.5h0M454.2 239.7h0"/><g class="c28" fill-opacity=".5" stroke-opacity=".5"><use href="#k" x="350.4" y="250.8"/><use href="#k" x="354.9" y="251.3"/><use href="#k" x="358.3" y="250.8"/><use href="#k" x="311" y="255.8"/><use href="#k" x="318.1" y="256.2"/></g><path class="c16" opacity=".56" d="M467.5 232.2h0M470.5 232.9h0"/><path class="c16" opacity=".56" d="M468.9 232.1h0M471.4 233.9h0"/><g class="c24" fill-opacity=".5" stroke-opacity=".5"><use href="#k" x="316.5" y="243.2"/></g><path class="c24" opacity=".56" d="M393.6 246.2h0M398.8 247.1h0"/><path class="c24" opacity=".56" d="M395.2 246.3h0"/><g class="c21" fill-opacity=".5" stroke-opacity=".5"><use href="#k" x="324" y="233.5"/></g><path class="c21" opacity=".56" d="M440.2 240.4h0M435.4 240.9h0M428.8 241.4h0M425.8 241.6h0M448.1 239.8h0M451.2 240.1h0M417.2 242.5h0M443.6 240.3h0M422.1 243h0M431.3 242.1h0M446.4 241.9h0M419.6 244h0"/><path class="c21" opacity=".56" d="M433.5 241.1h0M441.1 240.7h0M428 242.6h0M430.7 241.4h0M437 240.3h0M419 242.8h0M448.2 240.2h0M424.7 242.1h0M444 240.1h0M452.7 240.6h0M439.1 242.1h0M422.5 243.6h0"/><path class="c21" opacity=".56" d="M439.3 240.8h0M436.8 240.7h0M425.8 242.4h0M433.2 241.7h0M441.9 240.5h0M429.1 241.7h0M446.2 240.3h0M423.3 242.9h0M419.7 242.7h0M449.3 240.6h0"/><path class="c21" opacity=".56" d="M441.4 240.5h0M426.4 242h0M435.9 241.3h0M445.6 240.9h0M438.4 241.1h0M429.1 242.7h0M418.7 243.8h0M431.8 242.2h0M448.7 240.5h0M423.6 243h0"/><path class="c21" opacity=".56" d="M428.4 242.4h0M442.9 241.1h0M437.8 241.4h0M434.9 242.1h0M447.8 240.4h0M431.8 242.8h0M445.5 241.6h0M425.5 243.6h0"/><path class="c21" opacity=".91" d="M426.5 242.4h0M439.5 240.2h0M444.6 240.7h0M433.6 241.6h0M444.3 240.3h0M441.4 241h0M440.5 241.1h0M437.3 241.6h0M445 240.8h0M437.5 241.5h0M443.7 241.4h0M443.6 240.9h0M441.9 241.4h0M443.1 241h0M441.4 241.8h0M436.2 242.3h0M447.2 241.1h0M432.7 242.4h0M432.2 242.6h0M447.9 241h0M439.9 241.1h0M446.4 240.9h0M427.1 243h0M434.9 242.5h0M435.2 241.9h0M446 240.8h0M450.2 240.7h0M448.1 240.8h0"/><path class="c9" opacity=".56" d="M437 205.9h0M428.3 201.2h0M434.9 204h0M425.3 199.7h0M443.2 208.6h0M414.9 197.1h0M446.3 209.9h0M418.5 197.9h0M422.4 199h0M441.1 206.8h0M430.7 199.9h0"/><path class="c9" opacity=".56" d="M430.1 202h0M433.5 203h0M439.2 206.5h0M444.7 209.6h0M437 204.7h0M447.6 209.3h0M442.1 206.8h0M425.7 200.1h0M422.7 197.8h0M415.4 195.9h0M419.3 197.2h0M428.2 199.7h0"/><path class="c9" opacity=".56" d="M439.1 205.2h0M434.9 203.5h0M430.2 201.3h0M446.5 208.8h0M427.6 200.7h0"/><path class="c9" opacity=".56" d="M433.4 202.4h0M436.9 204.1h0M445 208.5h0"/><path class="c9" opacity=".56" d="M437 203.2h0"/><path class="c9" opacity=".91" d="M439 204.5h0"/><path class="c14" opacity=".56" d="M465.8 228.3h0M464.5 225.9h0"/><path class="c14" opacity=".56" d="M466.2 228.6h0"/><path class="c14" opacity=".56" d="M465.6 226.2h0"/><path class="c14" opacity=".56" d="M466.3 227.5h0"/><path class="c19" opacity=".56" d="M462.2 238.1h0M458.7 238.3h0"/><path class="c19" opacity=".56" d="M462.3 238h0M456.8 238.2h0M459.6 239.7h0"/><path class="c19" opacity=".56" d="M462.6 238h0M458.8 239h0"/><path class="c19" opacity=".56" d="M460.1 239.2h0M464.4 238.6h0"/><path class="c19" opacity=".56" d="M461.1 238.6h0M458.6 239.2h0"/><path class="c19" opacity=".91" d="M461.3 238.5h0M462.1 238.5h0M463.4 238.6h0M460.7 239.4h0M463.1 239.3h0M461.2 239.1h0"/><path class="c11" opacity=".56" d="M450.6 214.6h0M455.6 218.6h0M455.5 216h0M459.6 219.1h0"/><path class="c11" opacity=".56" d="M456.8 217.2h0"/><path class="c11" opacity=".56" d="M457.5 217.5h0"/><path class="c13" opacity=".56" d="M461.6 224.3h0M464.7 225.4h0"/><path class="c13" opacity=".56" d="M461 222.8h0M463.8 224.3h0"/><path class="c13" opacity=".56" d="M461.5 222.5h0"/><path class="c13" opacity=".56" d="M462.1 224.7h0"/><path class="c22" opacity=".56" d="M408.4 244.7h0M415.6 243.6h0M430.1 242.6h0M412.4 244.3h0M404 244.7h0M439.8 242.3h0M421.8 243.9h0M435.1 242.7h0"/><path class="c22" opacity=".56" d="M409.9 244.2h0M416.3 243.8h0M406.7 245.4h0M413.9 244.8h0M433 243h0M421.4 245.1h0"/><path class="c22" opacity=".56" d="M408 245.8h0M414.6 244.9h0"/><path class="c22" opacity=".56" d="M409 245.2h0"/><g class="c25" fill-opacity=".5" stroke-opacity=".5"><use href="#k" x="317.1" y="246.4"/></g><path class="c25" opacity=".56" d="M383.3 247.9h0M388.2 248.4h0"/><path class="c25" opacity=".56" d="M386 248.2h0"/><g class="c23" fill-opacity=".5" stroke-opacity=".5"><use href="#k" x="316" y="241.1"/></g><path class="c23" opacity=".56" d="M401.8 245.5h0M396.9 246.1h0M412.8 246.1h0"/><path class="c23" opacity=".56" d="M403.2 245.8h0"/><path class="c23" opacity=".56" d="M400.8 246.5h0"/><path class="c17" opacity=".56" d="M471.5 235.4h0M473.3 237.9h0"/><path class="c17" opacity=".56" d="M472.5 237h0"/><path class="c15" opacity=".56" d="M467.6 229.6h0"/><path class="c15" opacity=".56" d="M468.2 230.5h0"/><path class="c27" opacity=".56" d="M362.6 250.2h0"/><path class="c8" opacity=".56" d="M422.9 196.9h0M435.4 202.3h0"/><path class="c16" opacity=".56" d="M472.2 234.7h0"/><path class="c16" opacity=".56" d="M473.6 235.8h0"/><g class="c27" fill-opacity=".5" stroke-opacity=".5"><use href="#k" x="310.5" y="254.3"/></g><path class="c27" opacity=".56" d="M369.1 250.5h0M365.2 250.7h0M374.8 250.4h0"/><path class="c27" opacity=".56" d="M371.5 250.3h0"/><path class="c25" opacity=".56" d="M389.6 248h0"/><path class="c23" opacity=".56" d="M402.9 246h0M409.2 246.3h0M405.9 246.4h0"/><path class="c23" opacity=".56" d="M404.4 246h0M407.4 246.4h0"/><path class="c18" opacity=".56" d="M466.5 238.9h0M470.1 239.1h0"/><path class="c18" opacity=".56" d="M468.7 238.4h0M471.3 238.5h0"/><path class="c18" opacity=".56" d="M467.6 239.3h0M471.4 239.7h0"/><path class="c18" opacity=".56" d="M469.7 239.1h0M467 239.4h0"/><path class="c18" opacity=".56" d="M469.2 239.9h0"/><path class="c11" opacity=".56" d="M456.8 217.1h0M459.4 219.4h0"/><path class="c11" opacity=".56" d="M458.7 217.6h0M460.9 219.1h0"/><path class="c11" opacity=".56" d="M459.9 217.4h0"/><g class="c28" fill-opacity=".5" stroke-opacity=".5"><use href="#k" x="323.7" y="255.5"/><use href="#k" x="330.4" y="255.4"/><use href="#k" x="345.4" y="254.2"/><use href="#k" x="340.2" y="254.2"/></g><path class="c21" opacity=".56" d="M452.3 240.8h0M430.6 242.9h0M437.6 242.1h0M423.7 243.8h0M448.1 241h0M426.4 243.2h0M433.2 242.4h0M445 241.1h0M440.1 242.7h0"/><path class="c21" opacity=".56" d="M439.9 241.8h0M436.7 242.6h0M449.7 241.3h0M443.9 241.5h0M446.7 241.6h0M453.3 241.2h0M429.1 243.3h0M432.6 243.3h0"/><path class="c21" opacity=".56" d="M438.7 242.2h0M444.1 241.6h0M451.2 241.5h0M447.9 241.3h0M435.3 242.9h0M441.3 242.3h0M428.5 243.8h0"/><path class="c21" opacity=".56" d="M451.2 241.3h0M443.4 242.2h0M440 241.9h0M447.5 241.7h0M430.6 243.6h0M436.5 243.3h0"/><path class="c21" opacity=".56" d="M445 242.2h0M438.8 241.8h0M448.7 241.2h0M441.8 242.2h0M452.9 241.3h0"/><path class="c21" opacity=".92" d="M444.9 241.5h0M443 241.7h0M442.7 241.9h0M440.8 241.8h0M447.8 242h0M443.2 242.3h0M443.9 242.4h0M450.1 242.3h0M446.9 242.4h0M448.1 241.4h0M446.9 241.6h0M442.5 242.6h0M449.1 241.9h0M451.5 242h0M444.6 242.4h0M446 242.2h0M444.1 242.4h0M452.5 242.2h0M449.6 242.1h0M451.3 241.5h0M447.9 242h0M447.7 242.6h0M446.3 242.8h0M450.1 242.3h0M447.1 242h0"/><path class="c10" opacity=".56" d="M453 213h0M450.1 211.8h0M456 214.3h0M458.4 216.5h0"/><path class="c10" opacity=".56" d="M451.9 211.6h0M453.9 213.3h0M456.5 215.8h0"/><path class="c10" opacity=".56" d="M457.4 214.7h0"/><path class="c10" opacity=".56" d="M456.1 214.3h0"/><path class="c9" opacity=".56" d="M448.6 211.2h0M425.7 198.7h0M443.4 206h0M440.7 206.5h0M446.4 207.7h0M451.8 211.3h0M449 208.6h0M455 212.6h0"/><path class="c9" opacity=".56" d="M444.6 207.1h0M441.2 205.2h0M448.6 210h0M451 211h0M453.9 212.1h0"/><path class="c9" opacity=".56" d="M444.4 206.8h0M447.5 207.9h0M452 212.3h0M449.5 209.5h0"/><path class="c9" opacity=".56" d="M451.3 210.4h0M448.4 207.9h0"/><path class="c17" opacity=".56" d="M472.6 238.2h0M475 237.2h0"/><path class="c17" opacity=".56" d="M473.8 238.6h0"/><path class="c17" opacity=".56" d="M475.5 238.9h0M471.4 238.8h0"/><path class="c17" opacity=".56" d="M473.9 238.2h0"/><path class="c17" opacity=".56" d="M475.5 238.6h0"/><path class="c19" opacity=".56" d="M462 240h0M465.5 239.4h0M459.1 239.9h0"/><path class="c19" opacity=".56" d="M464.3 239.8h0M461.8 239.6h0M466.8 240.3h0"/><path class="c19" opacity=".56" d="M459.5 239.8h0M462.2 240h0M466.2 240.2h0"/><path class="c19" opacity=".56" d="M462.6 240h0M465.1 239.9h0"/><path class="c19" opacity=".56" d="M463.9 239.7h0M460.5 239.8h0"/><path class="c19" opacity=".92" d="M464.6 239.7h0M461.4 240.7h0M462.6 240.8h0M463.8 240.8h0"/><path class="c15" opacity=".56" d="M469.9 231.4h0M474.3 233.6h0"/><path class="c15" opacity=".56" d="M471.2 232.1h0"/><path class="c15" opacity=".56" d="M472 232.3h0"/><path class="c12" opacity=".56" d="M462.6 222.4h0M466.3 223.3h0"/><path class="c12" opacity=".56" d="M461.4 221.1h0M464 222.9h0"/><path class="c12" opacity=".56" d="M462.5 220.7h0M464.5 222.9h0"/><path class="c12" opacity=".56" d="M464 221.3h0"/><path class="c14" opacity=".56" d="M467.1 227.8h0M469.4 229.2h0"/><path class="c14" opacity=".56" d="M467.6 228.4h0M470.3 230.2h0"/><g class="c22" fill-opacity=".5" stroke-opacity=".5"><use href="#k" x="316.2" y="238.8"/></g><path class="c22" opacity=".56" d="M431.7 243.3h0M428.6 243.6h0M420.8 244.5h0M425 244.4h0M411.4 245.7h0M415.9 244.8h0M436.2 243h0M440 243h0M445.9 242.8h0M443 243.1h0"/><path class="c22" opacity=".56" d="M428.3 243.7h0M423.2 244.5h0M413.9 245.7h0M417.8 244.9h0M436.8 243.2h0M420.3 244.5h0M440.9 243h0M434 243.5h0M410.8 246.2h0M443.8 242.9h0M446.5 243.5h0"/><path class="c22" opacity=".56" d="M430.7 244.2h0M426.4 244.1h0M418.3 245h0M414.9 245.1h0M435.1 243.7h0M438.3 243.1h0M441.1 243h0M422.7 245.1h0M445.7 243.1h0"/><path class="c22" opacity=".56" d="M429.9 244.3h0M425 244.7h0M438.3 243.6h0M432.8 244.1h0M421.2 245.3h0M441.8 243.1h0M416.8 245.8h0"/><path class="c22" opacity=".56" d="M431.9 244.5h0M425.3 245.5h0M438 243.3h0M428.5 244.2h0"/><path class="c22" opacity=".92" d="M435.9 243.7h0M438.9 243.2h0M427.6 245.1h0M427.1 245.2h0M433.7 243.8h0M433.9 244.2h0"/><path class="c24" opacity=".56" d="M393 248h0M400.2 247.9h0M396.2 247.9h0"/><path class="c24" opacity=".56" d="M394.7 248.2h0M398.1 247.7h0"/><path class="c13" opacity=".56" d="M466.3 224.9h0M468.2 226.7h0"/><path class="c13" opacity=".56" d="M467.4 225.8h0"/><path class="c20" opacity=".56" d="M451.2 240.6h0M456 240.3h0M459 240.9h0"/><path class="c20" opacity=".56" d="M453.5 240.3h0M457.1 239.8h0M449.2 240.9h0M459.4 241.7h0"/><path class="c20" opacity=".56" d="M452.2 240.7h0M457.5 239.9h0M455.1 240.8h0M460.4 240.8h0"/><path class="c20" opacity=".56" d="M451.9 240.7h0M455.8 240h0M459.4 241.2h0"/><path class="c20" opacity=".56" d="M456.2 241h0M453.1 241h0M460 240.9h0"/><path class="c20" opacity=".92" d="M454.2 240.7h0M455.2 240.7h0M456.7 240.3h0M457 241.3h0M453.6 241.2h0M457.1 241.1h0M454.1 240.9h0M456.3 241.1h0M455.1 241h0M457.8 240.8h0M450.8 241.3h0"/><path class="c8" opacity=".56" d="M433.4 201.4h0M431.4 199.3h0M416.2 195.2h0M419.5 195.9h0M428.1 199h0M443 205.4h0M425.8 197.6h0M437.4 202.4h0M439.7 203.7h0M423.3 196.9h0M447.3 206.3h0"/><path class="c8" opacity=".56" d="M435.3 201.3h0M441.2 203.5h0M420.2 195.5h0M426.3 196.7h0M423.6 195.5h0M428.9 198.3h0M433.5 199.5h0M446.1 206.9h0"/><path class="c8" opacity=".56" d="M433.7 200.7h0M439.7 202.7h0M431.5 198.7h0"/><g class="c26" fill-opacity=".5" stroke-opacity=".5"><use href="#k" x="309.3" y="251.6"/></g><path class="c26" opacity=".56" d="M377.6 250h0"/><path class="c26" opacity=".56" d="M380 249.9h0"/><g class="c28" fill-opacity=".5" stroke-opacity=".5"><use href="#k" x="357.5" y="253.6"/><use href="#k" x="349.3" y="253.6"/><use href="#k" x="353.5" y="254"/></g><path class="c11" opacity=".56" d="M462.6 219.1h0"/><path class="c11" opacity=".56" d="M464.3 219.8h0M461.3 217.9h0"/><path class="c11" opacity=".56" d="M463.4 219.4h0"/><g class="c25" fill-opacity=".5" stroke-opacity=".5"><use href="#k" x="309.4" y="249.6"/></g><path class="c25" opacity=".56" d="M385.2 249.6h0M390.3 250.1h0M394.5 249.9h0"/><path class="c25" opacity=".56" d="M388.3 249.4h0M391.9 249.7h0"/><path class="c13" opacity=".56" d="M466.7 224.5h0M469 227.4h0"/><path class="c13" opacity=".56" d="M467.4 224.9h0"/><path class="c13" opacity=".56" d="M469.3 225.5h0"/><path class="c16" opacity=".56" d="M476 236.8h0"/><path class="c16" opacity=".56" d="M474.2 235.2h0M477.3 236.7h0"/><path class="c18" opacity=".56" d="M470.6 240.2h0M468 240h0M474.4 240.4h0"/><path class="c18" opacity=".56" d="M473 240h0M469.5 240.4h0M466.8 240.6h0"/><path class="c18" opacity=".56" d="M472.3 239.9h0M469.6 241.2h0"/><path class="c18" opacity=".56" d="M471.4 239.8h0"/><path class="c18" opacity=".56" d="M470.2 240.8h0M472.7 240.4h0"/><path class="c18" opacity=".92" d="M473.1 240.5h0"/><path class="c10" opacity=".56" d="M458.3 216.3h0M456.8 213.8h0M460.8 216.2h0"/><path class="c10" opacity=".56" d="M458.3 215.2h0M462.1 217.4h0"/><path class="c10" opacity=".56" d="M459.8 216h0"/><path class="c10" opacity=".56" d="M459.7 215.6h0"/><path class="c9" opacity=".56" d="M453.4 210.4h0M450.4 208.4h0M456 212.2h0"/><path class="c9" opacity=".56" d="M455.4 211.5h0M452.6 209.3h0"/><path class="c9" opacity=".56" d="M454.1 211.2h0"/><path class="c8" opacity=".56" d="M435.9 200.5h0M444.5 205.3h0M420.3 194.7h0M447.1 206.2h0M441.1 203h0M433.3 199.1h0M450.8 208.7h0"/><path class="c8" opacity=".56" d="M437.6 201.8h0M444.6 205.2h0M449.2 207.5h0M443 202.5h0M447.1 205.3h0"/><path class="c8" opacity=".56" d="M446.1 206.1h0M439.6 202h0M443.3 204h0M448.5 207.4h0M451.2 208.3h0"/><path class="c8" opacity=".56" d="M437.7 200.8h0M443.3 204.5h0M441.6 201.4h0"/><path class="c8" opacity=".56" d="M445.8 204.8h0M441.4 202.4h0"/><path class="c23" opacity=".56" d="M412.6 246.9h0M403.5 247.9h0M407.3 247.8h0M400 248.6h0"/><path class="c23" opacity=".56" d="M402.3 247.9h0M405.5 247.9h0M410.6 247.8h0"/><path class="c23" opacity=".56" d="M408.8 247.8h0"/><path class="c14" opacity=".56" d="M472.1 230.9h0M471.4 228.3h0"/><path class="c14" opacity=".56" d="M472.2 229.3h0"/><path class="c22" opacity=".56" d="M438.8 243.3h0M418.3 245.2h0M413.2 246.5h0M436.1 244.5h0M420.9 246.7h0M443.6 243.6h0M432.4 244.2h0M423.5 245.3h0M427.7 244.6h0M446.3 243.4h0"/><path class="c22" opacity=".56" d="M439.8 243.3h0M434.4 244.3h0M430.4 244.6h0M419.5 246.3h0M425.3 245.9h0M415.5 245.9h0M442.1 244.2h0M422.1 246h0M437.5 244.7h0M446.2 243.8h0M411.9 247.3h0"/><path class="c22" opacity=".56" d="M440.7 243.8h0M438 244h0M431.5 244.8h0M434.8 244.4h0M429 245.2h0M417.9 246.7h0M423.1 246.2h0M426.4 245.2h0M444.6 244h0"/><path class="c22" opacity=".56" d="M440.4 243.4h0M436.7 243.6h0M429.6 244.6h0M443.2 243.5h0M418.9 246.5h0M432.8 244.8h0M424.6 245.9h0M427.1 245.8h0M421.6 247.1h0M446.2 244.4h0"/><path class="c22" opacity=".56" d="M439.4 243.5h0M436 244.5h0M442.6 243.8h0M416.6 246.4h0M432.6 244.8h0M426.6 246.3h0"/><path class="c22" opacity=".92" d="M441.1 243.5h0M440.7 244.1h0M441.7 244.1h0M436.5 244.8h0M442.8 243.8h0M436.4 244.9h0M439.2 244.3h0M439.7 243.8h0M436 244.2h0M435.1 244.8h0M444 243.7h0M444.6 243.8h0M431 244.9h0M442.2 244.5h0M434.3 244.5h0M438.9 244.4h0M428.9 246.1h0"/><path class="c21" opacity=".56" d="M452.5 241.7h0M438.6 243.1h0M455 241.9h0M449.4 242h0M444.9 242.4h0M435 243.5h0M441.9 243.2h0"/><path class="c21" opacity=".56" d="M452 241.6h0M446.8 242.6h0M443.3 242h0M456 242.7h0M449.3 242.3h0M439.7 243.4h0"/><path class="c21" opacity=".56" d="M450 242.6h0M452.6 242.6h0M444.3 242.6h0M447.2 243.2h0M438.2 243.7h0M456.2 242.8h0"/><path class="c21" opacity=".56" d="M452 241.9h0M449.1 242.4h0M445 243.2h0"/><path class="c21" opacity=".56" d="M450.9 242.1h0M448.4 242.8h0M443.1 242.8h0M453.7 242.8h0"/><path class="c21" opacity=".92" d="M451.4 242.4h0M453.4 242h0M447.2 243.2h0M451.7 242.1h0M454.3 242.7h0M444.6 242.8h0M453.3 242.8h0M450.5 243h0M447.9 243.4h0M446.8 242.7h0M447.2 243h0M451.2 242.8h0M451.7 242.5h0M449.2 242.6h0M450 242.9h0M449.3 243h0M450.1 243.2h0M445.2 243.4h0M452.1 242.8h0M448.2 243.1h0M448.1 243.2h0M448.1 243.5h0M443.6 243.3h0M450.8 243.2h0M448 243.5h0M443 243.5h0M452.2 243.3h0M451.7 243.5h0M449.9 243.3h0M448.6 243.2h0M450.2 243.6h0M446.3 243.4h0M453.6 243.4h0M454.1 242.5h0"/><path class="c19" opacity=".56" d="M463.2 241.2h0M468.3 241.1h0M460.2 241.1h0"/><path class="c19" opacity=".56" d="M462.2 240.8h0M465.9 241.4h0"/><path class="c19" opacity=".56" d="M464.2 240.7h0"/><path class="c19" opacity=".56" d="M464 241.5h0"/><path class="c19" opacity=".56" d="M465.5 241.6h0M462.2 241.1h0"/><path class="c19" opacity=".92" d="M464.7 241h0M466.3 241.3h0M463.5 241.8h0"/><path class="c15" opacity=".56" d="M473.3 232.4h0"/><path class="c15" opacity=".56" d="M475.1 233.2h0"/><path class="c20" opacity=".56" d="M455.2 241.6h0M458.8 241h0M461.2 242.3h0"/><path class="c20" opacity=".56" d="M458.2 241.7h0M454.5 241.9h0M460.9 241.9h0"/><path class="c20" opacity=".56" d="M455.9 241.9h0M458.9 241.6h0"/><path class="c20" opacity=".56" d="M458 241.6h0M455 241.9h0M461 241.8h0"/><path class="c20" opacity=".56" d="M456.2 241.5h0M459.7 241.7h0"/><path class="c20" opacity=".92" d="M456.8 242h0M454 242.1h0M457.8 242.2h0M459 242.1h0M460.4 242.2h0M457.3 242h0M456.9 242.6h0M461.4 241.8h0"/><path class="c12" opacity=".56" d="M464.6 221.4h0"/><path class="c12" opacity=".56" d="M465.3 222h0"/><path class="c12" opacity=".56" d="M466.6 222.7h0"/><path class="c17" opacity=".56" d="M476.9 239.3h0M473.6 239.4h0"/><path class="c17" opacity=".56" d="M475.8 239.5h0M478.7 239.8h0"/><path class="c17" opacity=".56" d="M477.1 238.3h0"/><path class="c17" opacity=".56" d="M476.5 240.2h0"/><path class="c7" opacity=".56" d="M427.5 196.2h0M431.9 198.1h0M435.7 199.5h0M423.6 195h0M439.9 201.2h0"/><path class="c7" opacity=".56" d="M429.3 197h0M434.1 198.8h0M437.6 200.8h0"/><path class="c7" opacity=".56" d="M427.3 195.8h0M436.5 199.3h0M431.6 197.3h0"/><path class="c7" opacity=".56" d="M428.8 196.4h0"/><path class="c26" opacity=".56" d="M382.2 249.6h0M376.8 251.7h0M380.2 251.5h0"/><path class="c26" opacity=".56" d="M382.7 251.7h0"/><path class="c27" opacity=".56" d="M361.5 252.9h0M365.2 252.9h0M371.2 252.5h0M367.7 252.6h0"/><path class="c24" opacity=".56" d="M397.8 249.4h0"/><path class="c24" opacity=".56" d="M396.2 248.9h0"/><path class="c27" opacity=".57" d="M374 252.7h0"/><path class="c13" opacity=".57" d="M470.3 226.6h0M473.3 228.7h0"/><path class="c13" opacity=".57" d="M471.4 227.5h0"/><path class="c11" opacity=".57" d="M465.9 220.2h0"/><path class="c11" opacity=".57" d="M466.8 220.6h0"/><path class="c19" opacity=".57" d="M466.6 241.6h0M462.4 241.8h0"/><path class="c19" opacity=".57" d="M468.1 241.6h0M464.6 241.5h0"/><path class="c19" opacity=".57" d="M463.9 242.1h0M468.4 241.9h0"/><path class="c19" opacity=".57" d="M466.5 242.9h0"/><path class="c19" opacity=".57" d="M466.4 241.8h0"/><path class="c19" opacity=".92" d="M465.4 241.7h0M465.5 242.4h0M468.8 242.1h0"/><path class="c9" opacity=".57" d="M458.4 213.4h0M455.4 210.7h0M460.9 213.7h0"/><path class="c9" opacity=".57" d="M456.3 212h0M453.7 209.6h0M459.9 213.7h0"/><path class="c9" opacity=".57" d="M457.2 212.5h0M455.9 210h0"/><path class="c9" opacity=".57" d="M458.8 212.3h0"/><path class="c9" opacity=".57" d="M456.9 211.7h0"/><path class="c26" opacity=".57" d="M384.9 251.7h0"/><g class="c24" fill-opacity=".5" stroke-opacity=".5"><use href="#k" x="309" y="246.8"/></g><path class="c24" opacity=".57" d="M401.9 249.3h0M395.6 250.5h0"/><path class="c23" opacity=".57" d="M405.5 248.5h0M416.1 248.2h0M413.4 247.8h0M419 247.9h0M408.9 248.9h0M422.9 247.5h0M437 246.4h0M433.2 246.9h0M426.4 247.8h0"/><path class="c23" opacity=".57" d="M403.9 248.6h0M420.7 247.8h0M411.5 249h0M406.8 249.3h0M414.5 249h0"/><path class="c23" opacity=".57" d="M410 249h0"/><path class="c7" opacity=".57" d="M424.2 194.9h0M434.5 197.6h0M440.2 200.1h0M442.5 201.9h0M429.6 195.8h0M426.8 194h0M437.8 199.4h0M445.9 203.5h0"/><path class="c7" opacity=".57" d="M441.3 200.7h0M435.5 198.7h0M431.7 196.8h0M438.2 198.9h0M444.5 202.1h0"/><path class="c7" opacity=".57" d="M440.1 199.7h0M436 197.9h0M443.4 201.2h0"/><path class="c7" opacity=".57" d="M434.5 197.3h0"/><path class="c8" opacity=".57" d="M448.9 206.4h0M452.9 209.1h0M445.2 203.8h0M451.3 205.7h0"/><path class="c8" opacity=".57" d="M450.3 206.7h0M446.5 203.9h0M454.2 209.7h0M449.1 204.1h0"/><path class="c8" opacity=".57" d="M451.9 207.3h0M446.8 204.9h0M449.9 205.7h0"/><path class="c8" opacity=".57" d="M444.9 203.5h0M449.1 204.8h0M453.7 208.3h0"/><path class="c8" opacity=".57" d="M452.7 207.9h0M448 204.3h0"/><path class="c14" opacity=".57" d="M473.3 230.3h0"/><path class="c14" opacity=".57" d="M475 232h0"/><path class="c14" opacity=".57" d="M474.7 230h0"/><path class="c22" opacity=".57" d="M433.6 245.3h0M438.2 245.2h0M425.9 246.2h0M429.3 245.2h0M444.4 244.5h0M441.9 244.7h0M420.2 246.4h0M447.2 244.1h0M449.6 244.8h0M414.8 247.6h0"/><path class="c22" opacity=".57" d="M434.1 246h0M439.2 245.2h0M431.1 245.7h0M424.6 247.1h0M443.2 244.9h0M417.9 247.4h0M427.9 246.3h0M446.4 244.5h0M449.5 245h0"/><path class="c22" opacity=".57" d="M436.5 245.5h0M440.3 244.6h0M432.6 245.5h0M444.9 243.9h0M429.4 246.1h0M425.4 247.2h0M448.5 244.3h0M422.2 247.1h0"/><path class="c22" opacity=".57" d="M434.8 245.8h0M430.5 246.4h0M444.7 244.1h0M440.8 245.4h0M437.2 245.3h0M447.4 244.4h0M427.7 247h0M424.2 247.6h0"/><path class="c22" opacity=".57" d="M445.3 244.2h0M439.8 244.3h0M442.7 244.2h0M437.3 245.4h0M431.5 245.7h0M448.3 244.5h0M426.9 247h0M434.7 246.2h0"/><path class="c22" opacity=".92" d="M443.2 244.4h0M442.1 245h0M442.3 244.2h0M438.8 245.6h0M441.7 245.1h0M444.8 244.6h0M445.5 244.6h0M438.7 245.3h0M443.6 244.7h0M438.5 245.5h0M441.4 245.8h0M436 245.7h0M446.9 244.3h0M433 245.7h0M430.4 246.3h0M445.8 244.2h0M440.5 245.4h0M433.4 246.4h0M438.6 245.9h0M443.3 245.2h0M446.9 245h0M447.6 244.4h0M444.9 244.3h0M439.1 245.8h0M431.8 246.2h0M446.5 245.4h0M441.6 245.4h0M445.1 244.7h0M445.6 244.9h0M433.9 246h0M446.5 245h0M444.2 245.4h0M437.5 246h0M440.9 245.5h0M429.1 246.9h0M447.6 244.9h0M443.2 245.3h0M438.9 245.4h0M440.9 245.2h0"/><path class="c18" opacity=".57" d="M471.5 241.2h0M475 240.8h0"/><path class="c18" opacity=".57" d="M473.8 240.5h0M470.4 241.1h0"/><path class="c18" opacity=".57" d="M469.4 241.3h0M473.2 241.6h0"/><path class="c18" opacity=".57" d="M472.2 241.7h0M469.5 241.5h0"/><path class="c18" opacity=".57" d="M470.6 242.2h0"/><path class="c21" opacity=".57" d="M455.1 242.7h0M446.3 243.1h0M450.3 243.4h0M457.9 243.7h0"/><path class="c21" opacity=".57" d="M453.6 243.1h0M448.3 243.3h0M456.7 243.6h0M451.1 243.6h0"/><path class="c21" opacity=".57" d="M453.8 243.3h0M456.5 243h0M446.4 243.5h0M449.1 243.7h0"/><path class="c21" opacity=".57" d="M453.7 243.4h0M449.9 244.1h0M446.9 243.6h0"/><path class="c21" opacity=".57" d="M452.1 243.6h0M455.7 243h0M448.9 243.9h0"/><path class="c21" opacity=".92" d="M452.7 243.9h0M451.4 243.4h0M453.3 242.9h0M454.6 243.3h0M456 243.6h0M449.3 244h0M452 244.4h0M455.1 243.2h0M449.7 244h0M450.7 243.8h0M453.6 243.8h0M450.7 244.3h0M452.4 243.8h0M451.9 244.2h0M453.5 244.3h0M453.3 244.1h0M452 243.8h0M450.4 244.3h0M448.7 244.1h0M455.7 243.6h0M446.6 244.3h0M455.6 243.7h0M454.4 244h0"/><g class="c29" fill-opacity=".5" stroke-opacity=".5"><use href="#k" x="310.5" y="260.2"/><use href="#k" x="317.4" y="260"/></g><path class="c20" opacity=".57" d="M459.1 242.1h0M454.8 242.4h0M462.9 242.5h0"/><path class="c20" opacity=".57" d="M458.4 242.4h0M455.1 242.5h0M463.8 242.8h0M460.9 242.8h0"/><path class="c20" opacity=".57" d="M460.2 242.3h0M457.5 242.9h0M463 242.9h0"/><path class="c20" opacity=".57" d="M458.6 242.7h0M464 243.2h0"/><path class="c20" opacity=".57" d="M458.5 243.5h0M462.2 242.7h0"/><path class="c20" opacity=".92" d="M459 242.6h0M462.6 243.5h0M460.9 243.1h0M462.8 243.1h0M457.2 243.2h0"/><path class="c16" opacity=".57" d="M478.9 238.4h0"/><path class="c16" opacity=".57" d="M478.5 236.7h0"/><path class="c12" opacity=".57" d="M468.2 222.7h0"/><path class="c12" opacity=".57" d="M469.2 224h0"/><path class="c25" opacity=".57" d="M386.5 251.2h0M391.8 251h0M397.7 250.9h0M389.2 251.3h0"/><path class="c25" opacity=".57" d="M394.2 250.9h0"/><path class="c10" opacity=".57" d="M462.6 218h0M460.6 215.1h0M465.8 218.4h0"/><path class="c10" opacity=".57" d="M462.1 217.1h0"/><path class="c10" opacity=".57" d="M464 218.5h0M461.5 215.5h0"/><path class="c10" opacity=".57" d="M463.4 216.8h0"/><path class="c15" opacity=".57" d="M475.9 234.3h0"/><path class="c15" opacity=".57" d="M477.2 234.6h0"/><path class="c15" opacity=".57" d="M475.7 233.5h0"/><path class="c17" opacity=".57" d="M477.3 240.4h0M479.9 239.9h0"/><path class="c17" opacity=".57" d="M479 241.1h0M475.7 241.2h0"/><path class="c17" opacity=".57" d="M478.1 240.4h0"/><g class="c28" fill-opacity=".5" stroke-opacity=".5"><use href="#k" x="303.8" y="260.5"/><use href="#k" x="329" y="258.5"/><use href="#k" x="353.2" y="256.6"/><use href="#k" x="323.8" y="259"/></g><path class="c6" opacity=".57" d="M430.4 194.4h0M438.6 197.7h0M427.2 193.7h0"/><path class="c24" opacity=".57" d="M405.2 250h0M399.8 250.1h0"/><path class="c24" opacity=".57" d="M401.6 250h0M406.9 250.2h0"/><path class="c24" opacity=".57" d="M403.1 250.4h0"/><path class="c10" opacity=".57" d="M463.3 217.3h0"/><path class="c10" opacity=".57" d="M463.1 215.5h0M465.2 217.1h0"/><path class="c10" opacity=".57" d="M465.7 217.8h0"/><path class="c11" opacity=".57" d="M468 221.9h0M466 219.2h0M470.5 223.1h0"/><path class="c11" opacity=".57" d="M468.6 222.2h0"/><path class="c11" opacity=".57" d="M467.8 220h0"/><path class="c11" opacity=".57" d="M468.8 220.7h0"/><path class="c20" opacity=".57" d="M461.7 243.7h0M456.9 243.3h0"/><path class="c20" opacity=".57" d="M459.6 243.4h0M463.4 243.7h0"/><path class="c20" opacity=".57" d="M461.5 243.6h0M457.2 243.4h0"/><path class="c20" opacity=".57" d="M459.5 243.3h0M462.7 243.7h0"/><path class="c20" opacity=".57" d="M459.5 243.6h0"/><path class="c20" opacity=".92" d="M460.1 243.9h0M457.3 243.8h0M459.8 244.3h0M460.9 244.1h0M460 244.1h0"/><g class="c28" fill-opacity=".5" stroke-opacity=".5"><use href="#k" x="339.2" y="257.7"/><use href="#k" x="357.3" y="256.3"/><use href="#k" x="334.9" y="258.2"/><use href="#k" x="349" y="257.1"/><use href="#k" x="344.3" y="256.7"/><use href="#k" x="361.1" y="255.7"/></g><path class="c21" opacity=".57" d="M450.2 244.3h0M456 244.5h0M453 244.3h0"/><path class="c21" opacity=".57" d="M451.1 244.6h0M447.8 244.4h0M454.4 243.8h0M458 244h0"/><path class="c21" opacity=".57" d="M448.7 244.5h0M451.7 244h0M455.8 244.1h0"/><path class="c21" opacity=".57" d="M451.7 244.5h0M448.7 244.5h0M457.7 245.3h0M454.6 245.3h0"/><path class="c21" opacity=".57" d="M453.4 244h0M457.8 244h0M448.3 244.5h0"/><path class="c21" opacity=".92" d="M451.5 244.8h0M451.3 244.7h0M453.9 244.2h0M453.2 244.3h0M449.1 244.4h0M453.9 245h0M454.1 244.5h0M452.3 244.8h0M456.1 244.3h0M450.2 244.9h0M450.5 244.5h0M448.7 244.7h0M452.8 244.7h0M454.6 244.5h0M456.4 244h0M453.5 244.7h0M454.7 244.3h0"/><path class="c19" opacity=".57" d="M468.2 242.9h0M465.1 242.7h0"/><path class="c19" opacity=".57" d="M467.1 242.9h0M463.4 242.9h0"/><path class="c19" opacity=".57" d="M469.5 243h0M465.8 243.1h0"/><path class="c19" opacity=".57" d="M468 242.4h0M464.9 243.2h0"/><path class="c19" opacity=".57" d="M466.6 242.9h0"/><path class="c19" opacity=".92" d="M464.9 243.2h0"/><path class="c7" opacity=".57" d="M442.6 200.5h0M446.3 202.3h0M440 199.2h0M450.3 204.5h0"/><path class="c7" opacity=".57" d="M447.5 203.1h0M443.8 200.2h0M451.5 205.4h0"/><path class="c7" opacity=".57" d="M441.6 199.6h0M444.5 200.8h0"/><path class="c7" opacity=".57" d="M445.1 201.2h0"/><path class="c7" opacity=".57" d="M446.5 201.7h0"/><path class="c13" opacity=".57" d="M472.3 227.2h0M475.3 229.8h0"/><path class="c13" opacity=".57" d="M473.6 228h0"/><path class="c12" opacity=".57" d="M470.4 224h0"/><path class="c12" opacity=".57" d="M471.7 225.9h0"/><path class="c12" opacity=".57" d="M470.9 223.7h0"/><path class="c6" opacity=".57" d="M434.3 196.2h0M436.7 197.1h0M430 194.3h0M440.5 198.5h0"/><path class="c6" opacity=".57" d="M432.2 196h0M436.6 196.6h0M430.7 193.6h0"/><path class="c6" opacity=".57" d="M432.5 195.2h0M438.9 197.3h0M435.6 195.5h0"/><path class="c6" opacity=".57" d="M432.8 195.1h0"/><path class="c17" opacity=".57" d="M476.9 240.8h0M479.3 241.4h0"/><path class="c17" opacity=".57" d="M474.7 241.2h0M479.2 241.9h0M481.4 240.4h0"/><path class="c17" opacity=".57" d="M477.3 241.8h0M480.7 241.1h0"/><path class="c16" opacity=".57" d="M480.8 238.3h0"/><path class="c22" opacity=".57" d="M448 245.1h0M450.5 245h0M422.9 247.6h0M441.4 245.6h0M436.6 246h0M445.2 245.3h0M431.5 246.6h0M427.6 247.7h0M419.9 248.5h0"/><path class="c22" opacity=".57" d="M449.5 244.8h0M447 245h0M443.2 244.8h0M436 246.5h0M432.7 246.7h0M440.1 246.2h0M451.9 245.5h0M421.9 248.2h0"/><path class="c22" opacity=".57" d="M446.4 245.7h0M450.5 244.9h0M435.1 246.3h0M441.9 245.9h0M430.6 246.7h0M439 246.2h0"/><path class="c22" opacity=".57" d="M448.2 245.3h0M450.8 245.1h0M444.3 245.1h0M435.8 246.8h0M440.2 245.7h0M433.1 246.7h0"/><path class="c22" opacity=".57" d="M446 244.6h0M442.2 245.7h0M451 245h0M448.3 245.6h0M433.5 246.5h0M437.3 246.1h0"/><path class="c22" opacity=".92" d="M447.8 244.6h0M445.2 245.2h0M443.5 244.9h0M445.8 245.1h0M443 246.2h0M444.5 245h0M444.1 245.5h0M450.7 245.2h0M449 245.5h0M447.5 245.1h0M447.4 244.7h0M443.6 246.1h0M450.1 245h0M446 245.4h0M442.6 245.5h0M447.1 245.6h0M449.7 245h0M436.2 246.9h0M446.1 245.6h0M444.7 245.7h0M446.4 245.4h0M434.5 246.7h0M446.2 245.6h0M439.5 245.8h0M447.5 245.5h0M444.8 244.9h0M444 245.9h0M443 245.6h0M443.7 246.3h0M446.8 245.4h0M444.9 245.9h0M443.9 245.9h0M449.7 244.9h0M445.2 246.3h0M442.4 245.8h0M442.4 246h0M445.6 246h0M444.3 245.2h0M440.4 246h0M434.6 246.9h0M450.7 245.2h0M449.9 245.3h0M448.9 245.4h0M436.9 247h0M449.4 245.6h0M448.8 245.5h0M441.3 246.6h0M438.1 246.8h0M436 246.9h0M450.3 246h0M448.5 245.8h0M450 245.5h0M437.3 246.1h0M451.2 245.5h0M445.2 246.7h0M449.6 245.9h0M440.2 245.5h0M451.7 245.5h0M447.5 246h0M442.7 246.5h0M450.6 245.3h0M441.7 246.4h0M447 246.4h0M446 246.1h0M445.7 245.8h0M447.9 245.5h0M449.3 245.8h0M443.9 246.1h0"/><g class="c23" fill-opacity=".5" stroke-opacity=".5"><use href="#k" x="309.1" y="244.2"/></g><path class="c23" opacity=".57" d="M425.2 248.4h0M412.9 248.7h0M438.7 246.6h0M417.7 248.3h0M429.5 247.9h0M422.6 249h0M408.2 249.7h0M434.2 247.6h0"/><path class="c23" opacity=".57" d="M418.9 248.6h0M415.7 248.7h0M424.4 248.3h0M438.4 247h0M421.5 249.1h0M430.6 247.6h0M412.9 249.8h0M409.9 250h0"/><path class="c23" opacity=".57" d="M419.7 248.8h0M425.2 248.2h0M411.8 249.8h0M439.1 247.3h0"/><path class="c9" opacity=".57" d="M457.8 211.2h0M462.1 214h0M464.3 215.5h0M460.2 212.2h0"/><path class="c9" opacity=".57" d="M459.6 211.7h0M461.4 214h0"/><path class="c9" opacity=".57" d="M459.7 211.4h0"/><path class="c14" opacity=".57" d="M476.2 231h0"/><path class="c14" opacity=".57" d="M477.4 233.2h0"/><path class="c18" opacity=".57" d="M473.7 241.4h0M476.8 242.7h0"/><path class="c18" opacity=".57" d="M471.5 242.5h0M474.9 242.4h0"/><path class="c18" opacity=".57" d="M472.5 241.7h0"/><path class="c18" opacity=".57" d="M473.8 242.8h0"/><path class="c8" opacity=".57" d="M452.8 206.3h0M457.2 210.1h0M454.8 207.9h0"/><path class="c8" opacity=".57" d="M453.5 207.6h0M455.4 209.5h0"/><path class="c8" opacity=".57" d="M454.7 207.9h0M457.7 210.1h0"/><path class="c8" opacity=".57" d="M456.9 209.4h0"/><g class="c27" fill-opacity=".5" stroke-opacity=".5"><use href="#k" x="302.8" y="258.3"/></g><path class="c27" opacity=".57" d="M364.7 255.1h0"/><path class="c15" opacity=".57" d="M479 234h0"/><path class="c15" opacity=".57" d="M479.8 236.4h0"/><path class="c26" opacity=".57" d="M389.6 253h0"/><path class="c28" opacity=".57" d="M367.4 255.5h0"/><path class="c27" opacity=".57" d="M373.7 254.7h0M376.8 254.8h0M371.2 254.6h0"/><path class="c19" opacity=".57" d="M467.6 243.9h0M471.7 243.5h0"/><path class="c19" opacity=".57" d="M469.1 243h0M466.4 243.9h0"/><path class="c19" opacity=".57" d="M469.7 243.8h0M466.4 243.5h0"/><path class="c19" opacity=".57" d="M470.7 243.4h0M468 243.8h0"/><path class="c19" opacity=".57" d="M469.7 244.3h0"/><path class="c12" opacity=".57" d="M472.7 225.2h0"/><path class="c12" opacity=".57" d="M473.9 226.5h0"/><path class="c7" opacity=".57" d="M450.2 203.8h0M447 202h0M452.7 205.4h0"/><path class="c7" opacity=".57" d="M448.2 204h0M451.6 204h0M453.8 205.9h0"/><path class="c7" opacity=".57" d="M452.5 205.4h0M448.5 202.7h0"/><path class="c7" opacity=".57" d="M449.9 203.1h0"/><path class="c7" opacity=".57" d="M450.9 204.2h0"/><path class="c11" opacity=".57" d="M470.3 221.2h0"/><path class="c11" opacity=".57" d="M471 223.3h0"/><path class="c14" opacity=".57" d="M476.8 231.1h0"/><path class="c14" opacity=".57" d="M478 232.9h0"/><path class="c21" opacity=".57" d="M451.3 244.8h0M455.3 244.3h0M457.9 244.8h0"/><path class="c21" opacity=".57" d="M449.8 244.9h0M454.8 245.2h0M458.5 245.6h0"/><path class="c21" opacity=".57" d="M452.9 245.2h0M456.9 244.3h0M459.5 245.1h0"/><path class="c21" opacity=".57" d="M457.1 245.4h0M452.8 245.1h0"/><path class="c21" opacity=".57" d="M456.1 245.2h0M452.5 245.5h0M459.1 245.3h0"/><path class="c21" opacity=".92" d="M453.6 245.3h0M455.6 245.8h0M455.5 245h0M453.7 245.4h0M458.2 245h0M454.3 245h0M456.2 244.8h0M455.6 245.1h0M457 245.1h0M451.4 245.4h0M451.8 245.6h0"/><path class="c6" opacity=".57" d="M437 196.4h0M432.6 194.7h0M440.6 197.8h0M443.5 199.5h0M446.6 200.3h0"/><path class="c6" opacity=".57" d="M434.8 195.5h0M438.5 197.2h0M446.7 200.8h0M443.6 199.1h0"/><path class="c6" opacity=".57" d="M444.9 200h0M442.1 200h0M447.2 201.1h0"/><path class="c6" opacity=".57" d="M442.5 197.8h0"/><g class="c26" fill-opacity=".5" stroke-opacity=".5"><use href="#k" x="302.9" y="255.7"/></g><path class="c26" opacity=".57" d="M380.1 253.3h0M382.7 253.7h0M387.2 252.9h0"/><path class="c26" opacity=".57" d="M384.6 252.8h0"/><path class="c25" opacity=".57" d="M393.5 252.5h0"/><path class="c25" opacity=".57" d="M391.3 252.9h0"/><path class="c22" opacity=".57" d="M447.4 245.8h0M430.5 247.3h0M442.5 246.4h0M426.2 247.9h0M454.1 245.6h0M433.7 247.1h0M439 246.7h0M450 246.6h0M445 246.5h0"/><path class="c22" opacity=".57" d="M448.6 245.1h0M446.2 246.5h0M451.8 245.9h0M427.9 248h0M442.5 245.5h0M432.8 247.2h0M440.3 247h0M435.8 247.4h0M456.2 246.2h0"/><path class="c22" opacity=".57" d="M447.6 245.8h0M443.3 246.1h0M451.4 245.5h0M440.2 246.7h0M430.5 247.5h0M454.1 245.8h0"/><path class="c22" opacity=".57" d="M447.6 245.5h0M444.9 246.1h0M441.1 246.5h0M450.6 246h0M432.4 247.4h0M453.8 246h0M438.3 247.1h0"/><path class="c22" opacity=".57" d="M446.6 245.6h0M449.3 245.6h0M443.7 246.7h0M452.1 245.6h0M438.3 246.9h0M440.9 246.7h0"/><path class="c22" opacity=".92" d="M446.2 246.3h0M448.5 245.6h0M448.5 245.8h0M448.2 245.1h0M445.4 245.6h0M445.4 245.5h0M447 246.3h0M444.3 246.4h0M448.7 246.3h0M449.3 245.5h0M448.2 246.4h0M446.2 245.9h0M446.5 245.8h0M450.6 246.1h0M450 246.5h0M449.1 245.7h0M450.3 246h0M447.8 246.4h0M446.8 246.7h0M450.9 245.9h0M447.6 245.9h0M447 246.2h0M449.2 245.8h0M445.3 246.5h0M448.2 246h0M451.2 245.9h0M451.2 246.1h0M444.7 246.8h0M445.9 246.4h0M447.7 246h0M443.8 246.3h0M449 246.1h0M446.2 246h0M444.8 246.9h0M444.7 246.6h0M449.1 246h0M448.9 246.4h0M446.5 246.9h0M450.1 246.3h0M445 246.7h0M451.9 245.9h0M442.5 246.8h0M441.3 246.8h0M444.4 247h0M442.3 246.9h0M439 247.1h0M446.1 246.4h0M447.5 246.2h0M440 246h0M438.5 247.2h0M447.3 245.9h0M449.2 247h0M449.6 246.4h0M446.3 246.5h0M448.8 246.7h0M448 246.5h0M447.2 247h0M446.6 246.7h0M450.5 246.6h0M444 246.4h0M443.8 246.8h0M447.8 246h0M451.7 246.7h0M445.2 246.9h0M448.5 246.4h0M449 246.4h0M447.2 246h0M448.5 246.8h0M446 246.4h0M443.3 246.8h0M446.9 247h0"/><path class="c20" opacity=".57" d="M463.1 243.8h0M459 244.2h0"/><path class="c20" opacity=".57" d="M464.2 244.2h0M460.7 244.1h0"/><path class="c20" opacity=".57" d="M461.9 244.1h0M464.5 244.6h0"/><path class="c20" opacity=".57" d="M462.1 244.3h0M464.8 244.8h0"/><path class="c20" opacity=".57" d="M461.2 244.7h0"/><path class="c20" opacity=".92" d="M459.8 244.5h0M461.5 245.1h0M462.4 244.9h0M463.4 244.8h0M463.4 244.3h0"/><path class="c23" opacity=".57" d="M414.5 249h0M418.5 249.1h0M428.9 248.3h0M424.2 248.5h0M438 247.8h0M433.3 248.9h0M442.2 247.4h0"/><path class="c23" opacity=".57" d="M416.2 250.3h0M437 247.4h0M433.8 247.6h0M422.7 249.1h0M427.5 249.1h0M440 247.4h0M431 248.8h0M420.1 249.8h0"/><path class="c23" opacity=".57" d="M414.9 250.6h0M436.1 247.8h0M426.2 249h0M417.8 250.2h0M428.8 248.8h0"/><path class="c23" opacity=".57" d="M416.9 249.6h0M437.5 247.9h0M425.8 249.3h0"/><path class="c23" opacity=".57" d="M436.7 247.5h0M416 249.9h0M418.7 250.1h0"/><path class="c8" opacity=".57" d="M453.7 207h0M459.9 211.3h0M456.7 208.3h0"/><path class="c8" opacity=".57" d="M455.6 207.7h0M459 209.8h0M461.5 211.9h0"/><path class="c8" opacity=".57" d="M454.6 206.7h0M458.1 208.6h0"/><path class="c8" opacity=".57" d="M455.5 207.4h0M459.9 210.3h0"/><path class="c17" opacity=".57" d="M481.2 242h0"/><path class="c17" opacity=".57" d="M482.6 241.5h0M478.9 242.6h0"/><path class="c17" opacity=".57" d="M483.1 241.8h0"/><path class="c10" opacity=".57" d="M467.4 219.1h0M464.8 216.3h0M469.8 220.1h0"/><path class="c10" opacity=".57" d="M466.2 216.7h0M468.5 219.6h0"/><path class="c13" opacity=".57" d="M475.4 227.9h0"/><path class="c13" opacity=".57" d="M476.3 229.7h0"/><path class="c18" opacity=".57" d="M473.3 243h0M480 242.7h0M476.5 243.2h0"/><path class="c18" opacity=".57" d="M475.4 242.3h0M473 243.1h0"/><path class="c18" opacity=".57" d="M477.8 242.7h0M474.3 243.5h0"/><path class="c18" opacity=".57" d="M472 243h0"/><path class="c24" opacity=".57" d="M409.8 250.9h0M403.3 251.5h0M399.4 251.7h0M406.9 251.4h0M396.1 251.8h0"/><path class="c24" opacity=".57" d="M397.5 251.8h0M401.5 251.8h0M405.9 251.4h0"/><path class="c16" opacity=".57" d="M481 238.5h0"/><path class="c9" opacity=".57" d="M461.5 212h0M463.2 214.2h0"/><path class="c9" opacity=".57" d="M462.1 212.9h0M464.9 215.2h0"/><path class="c9" opacity=".57" d="M463.4 213.3h0"/><path class="c15" opacity=".57" d="M480 234.4h0M481.9 236.9h0"/><path class="c24" opacity=".58" d="M409.1 251.2h0"/><path class="c12" opacity=".58" d="M473.8 224.8h0"/><path class="c10" opacity=".58" d="M467.2 217.3h0"/><path class="c10" opacity=".58" d="M469 218.8h0"/><path class="c10" opacity=".58" d="M468.5 218.1h0"/><path class="c20" opacity=".58" d="M464.4 245.3h0M460.4 244.9h0"/><path class="c20" opacity=".58" d="M462 245.3h0M465.4 244.5h0"/><path class="c20" opacity=".58" d="M462.7 244.5h0M466.2 245.2h0"/><path class="c20" opacity=".58" d="M461 245.1h0"/><path class="c20" opacity=".58" d="M461.1 245.2h0"/><path class="c6" opacity=".58" d="M441.4 198.2h0M438.9 196.3h0M444.8 198.8h0M447.7 200.7h0"/><path class="c6" opacity=".58" d="M437.7 196.2h0M440.5 197.5h0M443.4 198.4h0M446.2 199.8h0M448.6 201.4h0"/><path class="c6" opacity=".58" d="M440.3 197.1h0M447.3 200.2h0"/><path class="c21" opacity=".58" d="M455.8 245.8h0M459.5 245.3h0M452.3 245.9h0"/><path class="c21" opacity=".58" d="M453.5 245.7h0M458.1 245.6h0"/><path class="c21" opacity=".58" d="M454.2 245.7h0M457.1 246h0"/><path class="c21" opacity=".58" d="M453.5 245.8h0M457.4 245.4h0"/><path class="c21" opacity=".58" d="M458.1 246.1h0M454.6 245.8h0"/><path class="c21" opacity=".92" d="M455.6 245.9h0M456.7 246h0M455.7 245.5h0M456.1 246.3h0M458.7 245.6h0M453.8 246.1h0M454 246.1h0M457.3 245.8h0M457.2 246.7h0"/><path class="c14" opacity=".58" d="M478.4 231.4h0"/><path class="c7" opacity=".58" d="M452 204.8h0M454.7 206h0M448.3 202.5h0"/><path class="c7" opacity=".58" d="M453.1 205.3h0M450.7 202.6h0M455.9 206.9h0"/><path class="c7" opacity=".58" d="M450 202.5h0M454.5 205.3h0"/><path class="c7" opacity=".58" d="M451.8 203.3h0M455.4 205.9h0"/><path class="c22" opacity=".58" d="M450.3 246.7h0M441.3 247.1h0M446.3 246.8h0M454.8 247h0M431.5 247.7h0M436.5 247.5h0"/><path class="c22" opacity=".58" d="M448 246.6h0M451.3 246h0M442.9 246.7h0M438.9 246.9h0M445.4 247.2h0M454.4 246.8h0"/><path class="c22" opacity=".58" d="M449.2 246.3h0M453.3 246.1h0M446.3 246.9h0M442.3 247h0M439.5 247.3h0"/><path class="c22" opacity=".58" d="M450.3 246.1h0M446.8 246.3h0M443.9 246.8h0M441 247.4h0M453.4 246.8h0"/><path class="c22" opacity=".58" d="M448.8 247h0M451.9 246.6h0M446.2 246.9h0M443.3 247.3h0M438.7 247.7h0"/><path class="c22" opacity=".92" d="M449.3 247.1h0M448.9 246.7h0M450.1 245.7h0M447.9 246.9h0M452.6 246.4h0M447.4 247.1h0M447.7 246.2h0M444.5 247h0M451.1 246.7h0M446.7 246.6h0M449.1 246.8h0M447.2 246.3h0M444.4 247.1h0M445.1 246.8h0M446.2 246.9h0M447.6 246.2h0M442.3 247.3h0M449.1 245.6h0M449.7 246.7h0M451.1 246.6h0M449.5 246.2h0M450.8 246.8h0M443.3 247.3h0M446.9 247.4h0M441 247.1h0M445 246.4h0M448.9 247.4h0M447.5 246.6h0M447.8 246.7h0M446.2 247.2h0M446.6 246.8h0M449.1 245.9h0M446.8 246.7h0M448.1 246.6h0M447 246.4h0M447.6 247h0M450.1 246.1h0M447.5 246.2h0M450 246.4h0M451.6 246.9h0M447.6 247h0M447.4 246.9h0M446.6 247h0M452.7 246.2h0M448.8 247.1h0M446.7 246.3h0M445.1 246.8h0M448.2 247.3h0M448 247.2h0M447.9 247h0M444.2 247.4h0M449.9 247.1h0M441.8 247.1h0M447.8 247h0M448.2 246.7h0M445.2 247.5h0M447.2 247h0M448.2 247.1h0M451 247.1h0M446.4 247.4h0M448.3 246.8h0M449.1 247.1h0M447.2 247.1h0M447.7 246.8h0M447 247h0M448.2 246.8h0M443.2 247.2h0M447 247h0M447.9 247.4h0M448.2 246.7h0M448.9 247.3h0M450.1 246.4h0M449.1 246.7h0M449.5 246.5h0M451.6 246.8h0M448.3 246.5h0M447.8 246.8h0M450.3 246.8h0M448.9 247.6h0M446.1 246.9h0M449.7 246.9h0M439.9 247.5h0M448.1 247.2h0M448.5 246.7h0M448 247.2h0M449.6 247.2h0M444.6 246.9h0M448.1 247.4h0M447.8 247.1h0M446.4 247h0M447.3 247.4h0M446.8 247.6h0M446.6 247.1h0M448.7 246.6h0M442.7 247.5h0M450.4 246.2h0M448.9 247h0M448.6 247.7h0M448.1 247.2h0M448.4 247.1h0M450.8 246.5h0M447.9 246.9h0M448.1 246.8h0M451.6 246.5h0M454.2 246.4h0M448 247.4h0M447.7 247.4h0M445.1 246.8h0M447.8 246.6h0M448.4 246.8h0M453.7 246.4h0"/><path class="c23" opacity=".58" d="M445.7 247.4h0M411.3 250.7h0M441.5 247.4h0M428.3 249.2h0M433.5 248.6h0M424.1 249.8h0M439 248h0"/><path class="c23" opacity=".58" d="M430.4 248.4h0M444 247.8h0M434.5 247.9h0M413.5 250.2h0M422.6 249.4h0M447.7 247.6h0M425.6 249.4h0M440.2 247.9h0"/><path class="c23" opacity=".58" d="M445.3 247.5h0M441.9 247.9h0M433.9 248.7h0M431.1 248.5h0M421.6 249.8h0M427.2 249.8h0"/><path class="c23" opacity=".58" d="M435.3 248.1h0M432.2 248.6h0M429.6 249.3h0M443.3 248h0M447.1 247.7h0M440.2 248.3h0M426.7 249.8h0"/><path class="c23" opacity=".58" d="M435.6 248.2h0M444.1 247.9h0M433.1 248.8h0M447.3 247.6h0M441.4 248.3h0M429.7 249h0"/><path class="c23" opacity=".92" d="M435.4 248.7h0M434.6 248.7h0M435 248.7h0M447.6 247.9h0M443.5 247.9h0M442.4 248h0M446.2 247.9h0M429.8 249h0"/><path class="c8" opacity=".58" d="M456.6 207.4h0M458.9 209.1h0M461.1 211.4h0"/><path class="c8" opacity=".58" d="M462.3 211.9h0M459 208.2h0"/><path class="c8" opacity=".58" d="M457.6 208.3h0"/><path class="c8" opacity=".58" d="M459.2 208.8h0"/><path class="c19" opacity=".58" d="M469.2 243.8h0M465.3 243.8h0"/><path class="c19" opacity=".58" d="M466.9 244.7h0M471.3 244.9h0"/><path class="c19" opacity=".58" d="M468.5 244.1h0"/><path class="c19" opacity=".58" d="M467.6 244.4h0"/><path class="c5" opacity=".58" d="M432.8 193.7h0M435.6 194.1h0"/><path class="c5" opacity=".58" d="M434.5 194.2h0"/><path class="c18" opacity=".58" d="M470.9 243.6h0M475 244.3h0M478.3 243.5h0"/><path class="c18" opacity=".58" d="M472.7 244.2h0M477.2 243.5h0"/><path class="c18" opacity=".58" d="M475.8 244h0"/><path class="c9" opacity=".58" d="M465.4 216h0M464.4 213.4h0"/><path class="c9" opacity=".58" d="M467 215.8h0"/><g class="c25" fill-opacity=".5" stroke-opacity=".5"><use href="#k" x="302.1" y="253.5"/></g><path class="c11" opacity=".58" d="M472.3 223.5h0"/><path class="c11" opacity=".58" d="M470.7 221.9h0"/><path class="c11" opacity=".58" d="M472.3 221.9h0"/><path class="c16" opacity=".58" d="M482.9 238.9h0"/><path class="c17" opacity=".58" d="M480.9 243.4h0"/><path class="c13" opacity=".58" d="M476 228h0"/><path class="c14" opacity=".58" d="M479.7 233.8h0"/><path class="c17" opacity=".58" d="M485.3 241.8h0M479.2 243.3h0"/><path class="c17" opacity=".58" d="M481.5 243.4h0M484.3 242.8h0"/><path class="c17" opacity=".58" d="M483.5 243.2h0M479.7 243.6h0"/><path class="c15" opacity=".58" d="M481.3 234.9h0"/><path class="c20" opacity=".58" d="M466.8 245.2h0M463.3 245.1h0"/><path class="c20" opacity=".58" d="M465.1 245h0M462.2 245.2h0"/><path class="c20" opacity=".58" d="M463.7 245.8h0"/><path class="c20" opacity=".58" d="M463.2 245.8h0"/><path class="c20" opacity=".58" d="M465.5 245.9h0M462.3 245.8h0"/><path class="c19" opacity=".58" d="M470.7 245.1h0M468 245.4h0"/><path class="c19" opacity=".58" d="M468.8 244.5h0M471.5 245.2h0"/><path class="c5" opacity=".58" d="M437 194.9h0M442.6 196.7h0"/><path class="c5" opacity=".58" d="M440.9 196.3h0M435.6 194.3h0"/><path class="c5" opacity=".58" d="M438.8 195.7h0M442.5 196.8h0"/><path class="c5" opacity=".58" d="M439.2 195.2h0"/><path class="c5" opacity=".58" d="M437.4 194.4h0"/><path class="c21" opacity=".58" d="M455.5 245.6h0M459.6 246.1h0M462.4 246.8h0"/><path class="c21" opacity=".58" d="M460.7 246.7h0M457.7 245.9h0M453.8 246.3h0"/><path class="c21" opacity=".58" d="M459 245.4h0M455.3 246.3h0"/><path class="c21" opacity=".58" d="M458.6 245.9h0M454.6 245.9h0"/><path class="c21" opacity=".58" d="M457.4 246.5h0"/><path class="c21" opacity=".93" d="M456.6 246.6h0M458 246.6h0M456.3 246.9h0M456.4 246.4h0"/><path class="c28" opacity=".58" d="M360.1 258h0"/><path class="c22" opacity=".58" d="M447.8 247.6h0M452 246.2h0M444.1 247.5h0M439.8 247.6h0M454.9 247.1h0"/><path class="c22" opacity=".58" d="M447.7 246.9h0M440.9 247.7h0M451.9 246.8h0M445.2 247.3h0"/><path class="c22" opacity=".58" d="M448.4 247.2h0M445.6 247.6h0M451.8 246.3h0M441.6 247.4h0"/><path class="c22" opacity=".58" d="M447.8 247.2h0M450.2 246.7h0M445.2 247.7h0M453 247.1h0M442.7 247.9h0"/><path class="c22" opacity=".58" d="M447.1 247.3h0M449.9 246.8h0M453.7 247h0M444.2 247.3h0"/><path class="c22" opacity=".93" d="M447.6 247.1h0M447.3 247.4h0M448.3 247.3h0M449.2 247.6h0M447.7 247.4h0M448.8 247.4h0M446.1 247.4h0M447.8 247.1h0M447.7 247.8h0M446.7 247.3h0M448.8 246.7h0M446.5 247.7h0M448.1 247.4h0M447.6 247.5h0M447.7 247.7h0M447.4 247h0M448.8 247.2h0M448 247h0M447.7 247.2h0M447.7 247.3h0M449.5 246.7h0M448.4 247.5h0M448.8 246.9h0M448.3 247.3h0M447.6 247.8h0M448.8 247.6h0M447.2 246.9h0M448.7 247.4h0M447.5 247.5h0M447.6 247.2h0M448 247.3h0M446.1 247.1h0M448.5 247.8h0M448.6 246.8h0M449.4 247.2h0M448.4 246.6h0M448.1 246.9h0M447.7 246.9h0M447.7 246.9h0M447.8 247.2h0M446.4 247.5h0M448.7 246.5h0M448.6 247.2h0M448.7 247.7h0M448 247.1h0M452.6 246.9h0M452 246.5h0M451.8 247h0M448.6 247.7h0M449.9 247.1h0M447 247.5h0M449.8 247h0M448.3 247.7h0M447.6 247.9h0M445.5 247.1h0M451 247.4h0M448.1 247.5h0M443 247.4h0M447.3 246.9h0M449 247.5h0M447.4 247.8h0M448.1 247.6h0M446.2 247.3h0M447.7 247.5h0M451.1 247.5h0M449.9 247.4h0M450.7 247.3h0M451 247.4h0M446.8 247.5h0M448.9 247.1h0M449 247.7h0M447 247.4h0M451.4 246.6h0M446.7 247.9h0M449.3 247.5h0M448.6 247.6h0M449.3 247.8h0M447.5 247.6h0M447.9 247.4h0M446.2 247.3h0M448.7 246.7h0M446.1 247.6h0M447.4 247.3h0M446.3 246.9h0M450.2 247.9h0M447.1 247.5h0M450.3 247.5h0M448 247.9h0M447.6 247.5h0M449.1 247.6h0M450 247.4h0M448.3 247.5h0M450.8 246.5h0M447.8 247.6h0M448.9 247.1h0M449.3 247.8h0M448.3 248h0M444.5 247.5h0M450.3 247.5h0M445.9 247.8h0M452.7 247.1h0M452 246.9h0"/><path class="c13" opacity=".58" d="M478.1 229.3h0"/><path class="c13" opacity=".58" d="M479.3 231.4h0"/><path class="c12" opacity=".58" d="M474.9 226.6h0"/><path class="c12" opacity=".58" d="M476.3 226.3h0"/><path class="c26" opacity=".58" d="M388.8 254.5h0M391.9 254.7h0M384.3 255.2h0"/><path class="c23" opacity=".58" d="M437 248.9h0M423 250.6h0M427.4 249.8h0M446.5 247.9h0M432.6 249.5h0M417.5 251.4h0M414.1 251.5h0M443.2 248.6h0M440.6 247.9h0"/><path class="c23" opacity=".58" d="M438.2 248.2h0M444.4 248.1h0M447.6 248.3h0M421.4 250.7h0M424.1 250.4h0M435.5 249.7h0M418.7 251.2h0M431.1 249.6h0M428.2 249.5h0M440.7 249.5h0"/><path class="c23" opacity=".58" d="M437.8 248.6h0M419.5 251.1h0M445.5 248h0M434.3 249.5h0M442.3 248.2h0M448.3 248.2h0"/><path class="c23" opacity=".58" d="M437.1 248.4h0M446.5 248h0M439.6 248.6h0M443.8 248.4h0M433.4 248.8h0"/><path class="c23" opacity=".58" d="M444.1 247.9h0M439.4 248.6h0M446.8 248.1h0"/><path class="c23" opacity=".93" d="M444.1 248.1h0M438.1 250h0M439.8 248.8h0M446.6 248.2h0M445.3 248.2h0M437.4 248.5h0M438.4 248.9h0M439.5 249.3h0M446.1 248.2h0M444.4 248.5h0M441 248.3h0M444.2 248.4h0"/><path class="c6" opacity=".58" d="M443.8 198.4h0M448.6 200.6h0M446.3 199.2h0M451.6 202.2h0"/><path class="c6" opacity=".58" d="M444.8 199.3h0M449.3 201.9h0M447.3 200.2h0M452 202.6h0"/><path class="c6" opacity=".58" d="M450.2 201.1h0M445.7 198.6h0"/><path class="c7" opacity=".58" d="M453.4 204.3h0M456.2 206h0"/><path class="c7" opacity=".58" d="M453.1 203.2h0M455.7 205.4h0M457.8 207.4h0"/><path class="c7" opacity=".58" d="M454.1 204.4h0M457.3 206.6h0"/><path class="c9" opacity=".58" d="M467.9 217h0M466.5 214.7h0"/><path class="c9" opacity=".58" d="M465.1 213.7h0"/><path class="c8" opacity=".58" d="M462.9 211.4h0M461 209.4h0"/><path class="c8" opacity=".58" d="M462.1 211h0M460 208.6h0"/><path class="c24" opacity=".58" d="M401.2 252.4h0M411.8 251.7h0M404.8 252.6h0M416.2 251.6h0M424.2 251.6h0M408.4 252.1h0"/><path class="c24" opacity=".58" d="M412.9 252.1h0M409.9 252.6h0M406.4 252.8h0"/><path class="c18" opacity=".58" d="M473.3 243.9h0M477.1 244.3h0"/><path class="c18" opacity=".58" d="M475.5 244.8h0"/><path class="c18" opacity=".58" d="M474.6 244.6h0"/><path class="c25" opacity=".58" d="M397.7 253.2h0M393.6 253.9h0"/><path class="c25" opacity=".58" d="M395.6 254.4h0M399.8 253.2h0"/><path class="c11" opacity=".58" d="M473.3 222.7h0"/><path class="c11" opacity=".58" d="M472.9 221.5h0M475 224.5h0"/><path class="c27" opacity=".58" d="M370.7 256.6h0M366.8 256.9h0"/><path class="c10" opacity=".58" d="M470.4 219.9h0"/><path class="c18" opacity=".58" d="M481 244.5h0M472.5 244.9h0"/><g class="c29" fill-opacity=".5" stroke-opacity=".5"><use href="#k" x="343.4" y="260.3"/><use href="#k" x="308.6" y="264.6"/><use href="#k" x="339.4" y="260.6"/></g><path class="c27" opacity=".58" d="M378.9 256.4h0M375.3 257h0"/><path class="c27" opacity=".58" d="M374.3 256.7h0"/><path class="c26" opacity=".58" d="M381.7 255.5h0M386.8 254.6h0"/><path class="c12" opacity=".58" d="M478.1 228.3h0"/><path class="c10" opacity=".58" d="M471.7 220.5h0M470.5 218h0"/><path class="c19" opacity=".58" d="M466.5 245.1h0M469.1 245h0M474 245.8h0"/><path class="c19" opacity=".58" d="M466.9 245.2h0M470.2 245h0M474 245.7h0"/><path class="c19" opacity=".58" d="M467.6 245.8h0M470.3 245.6h0"/><path class="c19" opacity=".58" d="M472.7 245.5h0"/><path class="c22" opacity=".58" d="M448.7 247.3h0M451.2 248.1h0M454.8 247.5h0M444.8 247.8h0M441.8 248.1h0"/><path class="c22" opacity=".58" d="M447.9 247.6h0M454.2 247.2h0M445.4 247.3h0M450.9 248.1h0M457.1 248.1h0"/><path class="c22" opacity=".58" d="M449.2 247.8h0M455.4 247.4h0M445.3 247.9h0M451.8 247.3h0"/><path class="c22" opacity=".58" d="M447.7 247.7h0M450.4 246.5h0M452.9 246.9h0M455.6 247.2h0M444.7 247.9h0"/><path class="c22" opacity=".58" d="M448.4 247.2h0M454 247.3h0M451.4 248.1h0M443.7 248.1h0"/><path class="c22" opacity=".93" d="M448.1 248h0M448.6 247.3h0M449.8 248h0M447.8 247.1h0M448.8 248.1h0M448.3 248h0M449.9 247.3h0M450 247.7h0M448.8 247h0M448.7 247.7h0M447.7 247.1h0M447.4 247.8h0M447.7 247.7h0M446.9 247.9h0M447.9 247.4h0M449.1 247.4h0M447.8 248h0M450.8 247.1h0M450.6 246.9h0M448 247.6h0M449.7 247.4h0M447 247.8h0M449.6 247.8h0M446.5 247.9h0M446.7 248h0M449.2 248h0M447.6 248.2h0M448.6 247.4h0M446.7 248.1h0M449 248h0M447.3 248.1h0M450.4 247.3h0M449.3 247.6h0M447.4 248h0M454.7 247.6h0M452.4 247.7h0M446.7 248.2h0M454.6 247.8h0M448.2 248.2h0M452.8 247.7h0M451 247.4h0M446.3 247.8h0M451.9 248h0M447.1 247.8h0M448.3 247.9h0M449.7 247.9h0M448 248.3h0M451.2 247.5h0M454.3 247.9h0M448.6 248.3h0M446.8 248.3h0M448.8 248.4h0M453.7 247.5h0M451.3 247.6h0M452.1 247.7h0M447.9 248h0M449.2 248.1h0M449.8 248.1h0M449.8 247.8h0M452.9 247.9h0M453.4 248h0M454.3 247.4h0M447.5 248.3h0M448.1 248.4h0M453.5 247.9h0M450.4 248.6h0M452.4 248h0M446.7 248.2h0"/><path class="c17" opacity=".58" d="M484.6 243.9h0M479 244.2h0"/><path class="c17" opacity=".58" d="M482.9 244h0M486.3 243.5h0"/><path class="c17" opacity=".58" d="M482.2 243.7h0M485.8 243h0"/><path class="c9" opacity=".58" d="M469.3 217.5h0M466.1 214.2h0"/><path class="c9" opacity=".58" d="M467.4 216.3h0"/><path class="c9" opacity=".58" d="M468.7 216.5h0"/><path class="c13" opacity=".58" d="M478.5 229.4h0"/><path class="c23" opacity=".58" d="M442.2 249h0M433.6 250.1h0M439.3 248.8h0M425.1 249.8h0M445.7 248.4h0M428.6 250.5h0M419.9 250.7h0M436.5 249.6h0M448.7 248.5h0"/><path class="c23" opacity=".58" d="M440.3 248.8h0M432 250.1h0M434.5 249.6h0M447.3 248.2h0M444.3 248.1h0M429.4 250.1h0M426 250.8h0M437.3 249.5h0M423.2 250.6h0"/><path class="c23" opacity=".58" d="M441.2 248.8h0M433.1 249.4h0M438.7 249.7h0M445.9 248.1h0M425.4 250.9h0M427.7 249.8h0M448.7 248.8h0M436.1 249.7h0"/><path class="c23" opacity=".58" d="M440.7 248.7h0M445.1 248.3h0M432.4 249.7h0M448 248.3h0M426.6 251.4h0M436.4 249.2h0"/><path class="c23" opacity=".58" d="M446.1 248.2h0M442.2 248.5h0M439.4 248.8h0M430.8 249.8h0M424.9 251.4h0M448.5 248.5h0"/><path class="c23" opacity=".93" d="M446.5 248.4h0M441.2 248.8h0M444.4 248.9h0M445.5 248.3h0M445.5 248.4h0M441.7 248.8h0M446 248.8h0M447.4 248.7h0M443.7 248.8h0M441.7 248.8h0M443.9 248.7h0M438.8 248.7h0M441.7 249.3h0M445.7 248.6h0M447.2 248.4h0M447.3 248.3h0M430.9 250.7h0M437.5 249.7h0M445 248.6h0M445.8 249.7h0M444.5 249.1h0M429 250.9h0M442.3 249.3h0M446.3 249h0"/><g class="c28" fill-opacity=".5" stroke-opacity=".5"><use href="#k" x="352.2" y="259"/><use href="#k" x="356.6" y="258.4"/><use href="#k" x="348.4" y="259.6"/><use href="#k" x="333.7" y="261.2"/><use href="#k" x="297.2" y="264.6"/></g><path class="c28" opacity=".58" d="M363.9 257.6h0"/><path class="c16" opacity=".58" d="M485 240.2h0"/><path class="c21" opacity=".58" d="M459.6 246.2h0M462.2 247h0M457.2 246.8h0"/><path class="c21" opacity=".58" d="M461.3 246.3h0M456.2 246.9h0"/><path class="c21" opacity=".58" d="M459.3 246.8h0M456.4 247.5h0"/><path class="c21" opacity=".58" d="M460.1 246.6h0M457.3 247.5h0"/><path class="c21" opacity=".58" d="M458.9 246.6h0M461.5 246.8h0"/><path class="c21" opacity=".93" d="M458.4 246.8h0M459.7 246.4h0M460 247h0M457.7 247h0"/><path class="c8" opacity=".58" d="M464.2 212.5h0M460.4 208.7h0"/><path class="c8" opacity=".58" d="M465.1 213.2h0M462.8 211.2h0"/><path class="c8" opacity=".58" d="M461.7 209.6h0M463.7 211.4h0"/><path class="c8" opacity=".58" d="M462.4 209.7h0M464.9 212.1h0"/><path class="c8" opacity=".58" d="M463.4 210.8h0"/><path class="c7" opacity=".58" d="M456.6 205.5h0M458.8 208.1h0"/><path class="c7" opacity=".58" d="M458.1 206.6h0"/><path class="c7" opacity=".58" d="M459.3 208h0M458.1 205.5h0"/><path class="c5" opacity=".58" d="M443 197.6h0M439.5 195h0M446.2 198.8h0M437.3 193.7h0M448.7 199h0"/><path class="c5" opacity=".58" d="M439.8 194.8h0M445.1 197.7h0M442.5 196.2h0M447.8 199.3h0"/><path class="c5" opacity=".58" d="M438.3 194h0M440.9 195.3h0M446.1 198h0M443.4 197.1h0"/><path class="c5" opacity=".58" d="M440.8 195.5h0M447 198.6h0"/><path class="c5" opacity=".58" d="M443 195.6h0"/><g class="c24" fill-opacity=".5" stroke-opacity=".5"><use href="#k" x="302.1" y="250.8"/></g><path class="c24" opacity=".58" d="M403.2 252.8h0M416.2 252.2h0M410.6 253.6h0"/><path class="c24" opacity=".58" d="M417.7 252.7h0"/><path class="c15" opacity=".58" d="M483 237.6h0"/><path class="c15" opacity=".58" d="M483.2 235.9h0"/><path class="c15" opacity=".58" d="M484.7 237.5h0"/><path class="c6" opacity=".58" d="M452 202.1h0M449 200.3h0M455.6 203.9h0"/><path class="c6" opacity=".58" d="M452.6 202.6h0M450.3 200.5h0"/><path class="c6" opacity=".58" d="M450.7 202.1h0M453.5 203.5h0"/><path class="c6" opacity=".58" d="M450.8 201.6h0"/><path class="c6" opacity=".58" d="M452.7 202.3h0"/><path class="c6" opacity=".93" d="M452 201.9h0"/><path class="c14" opacity=".58" d="M481.2 233.6h0"/><path class="c20" opacity=".58" d="M464.7 246.7h0M469.2 246.6h0"/><path class="c20" opacity=".58" d="M464.4 246.2h0M467.1 246.5h0"/><path class="c20" opacity=".58" d="M463.2 246h0M466.3 246.3h0"/><path class="c20" opacity=".58" d="M465.3 246.1h0"/><path class="c20" opacity=".58" d="M466.2 246.4h0"/><path class="c11" opacity=".58" d="M475.2 223.3h0"/><path class="c11" opacity=".58" d="M476.6 224.6h0"/><path class="c13" opacity=".58" d="M480.8 231.7h0"/><path class="c14" opacity=".58" d="M482.8 234.4h0"/><path class="c9" opacity=".58" d="M469.7 217.5h0M467.3 214.5h0"/><path class="c9" opacity=".58" d="M468.5 215.4h0M471 217.6h0"/><path class="c9" opacity=".58" d="M469.5 215.2h0"/><g class="c29" fill-opacity=".5" stroke-opacity=".5"><use href="#k" x="300.6" y="265.6"/></g><path class="c12" opacity=".58" d="M477.1 226.2h0M479.1 228.8h0"/><path class="c10" opacity=".58" d="M471.3 219.8h0M474.3 221.6h0"/><path class="c10" opacity=".58" d="M472.8 220.9h0"/><path class="c10" opacity=".58" d="M472.8 219.1h0"/><path class="c18" opacity=".58" d="M476.1 245.5h0M478.7 244.5h0M481.8 245.3h0"/><path class="c18" opacity=".58" d="M475 245.4h0M479.8 245h0"/><path class="c18" opacity=".58" d="M476.9 244.7h0"/><path class="c24" opacity=".58" d="M408.4 253.2h0M410.9 252.8h0M403.1 253.8h0M434.9 251.1h0M417.3 253.1h0M426.7 251.9h0"/><path class="c24" opacity=".58" d="M406.7 254h0M413.3 252.9h0M416.1 253.6h0"/><path class="c24" opacity=".58" d="M404.6 253.4h0"/><path class="c7" opacity=".58" d="M461.7 208.7h0M456.2 204.7h0M459.8 206.9h0"/><path class="c7" opacity=".58" d="M460.8 208.2h0M455.9 204.7h0"/><path class="c7" opacity=".58" d="M457.9 205.6h0M461.8 207.5h0"/><path class="c7" opacity=".58" d="M456.9 205h0M462.8 208.8h0M459 206.7h0"/><path class="c7" opacity=".58" d="M461.2 207.3h0"/><path class="c22" opacity=".58" d="M451.2 247.6h0M447.4 248.1h0M454.5 248.1h0M444 248.3h0M458.8 248.4h0"/><path class="c22" opacity=".58" d="M449.5 248.1h0M453.1 247.5h0M446.7 247.9h0M456.5 248.3h0"/><path class="c22" opacity=".58" d="M452.6 247.1h0M449.4 248.6h0M455.1 247.9h0M446.5 248.4h0"/><path class="c22" opacity=".58" d="M452 248.3h0M447.4 248.5h0M455.1 248.6h0"/><path class="c22" opacity=".58" d="M451.1 247.7h0M448 248.6h0M453.7 248.6h0"/><path class="c22" opacity=".93" d="M451.4 247.9h0M452.9 248.1h0M450.9 248.4h0M452.7 248.5h0M450.7 248.6h0M449.6 247.5h0M450.3 247.5h0M452.1 248.2h0M450.2 248.3h0M450.7 248.9h0M448.8 248.4h0M452.9 248.1h0M451.1 248.8h0M449.2 248.7h0M452.4 248.1h0M452.2 249h0M449.5 248.6h0M448.1 248.7h0M451.2 248.1h0M450.2 248.8h0M447.9 248.8h0M453.9 248h0M455.9 248.5h0M449.3 248.5h0M454.2 248.7h0M448.9 248.9h0M448.2 248.6h0M451.8 248.8h0M451.6 249.2h0M449.2 248.9h0M452.9 248.4h0M449.7 248.8h0M448.7 248.8h0M453.6 248.5h0M454.6 248.3h0M453.1 247.9h0M450.9 248.8h0"/><path class="c21" opacity=".58" d="M459 246.9h0M456 247.4h0"/><path class="c21" opacity=".58" d="M461 246.9h0M456.9 247.7h0"/><path class="c21" opacity=".58" d="M460.5 247.6h0M457.9 247.1h0"/><path class="c21" opacity=".58" d="M456.7 247.9h0M459.2 247.7h0"/><path class="c21" opacity=".58" d="M458 247.4h0M461.3 247.4h0"/><path class="c21" opacity=".93" d="M459.6 247.7h0M457.7 248.2h0M458 247.5h0M457.4 247.9h0"/><path class="c25" opacity=".58" d="M401.3 254.3h0M397.4 255h0M392.8 255.2h0"/><path class="c25" opacity=".58" d="M399.3 254.6h0"/><path class="c20" opacity=".58" d="M462.6 246.4h0M468.3 246.5h0M465.3 247.6h0"/><path class="c20" opacity=".58" d="M464 246.6h0M467.1 246.5h0"/><path class="c20" opacity=".58" d="M462.7 247h0M466.2 246.7h0"/><path class="c20" opacity=".58" d="M462.3 247h0M468.1 247.1h0"/><path class="c20" opacity=".58" d="M463.6 247h0"/><path class="c23" opacity=".58" d="M444.6 248.8h0M434.6 249.7h0M442.1 249h0M418.8 251.8h0M421.4 251.3h0M430.6 249.6h0M449.5 248.9h0M414.1 252.2h0M439.5 250.1h0M428 251h0M452.6 249.5h0"/><path class="c23" opacity=".58" d="M442.8 249h0M446 249.1h0M433.5 250h0M422.6 251.7h0M430.9 250.9h0M439.5 250.5h0M436.5 250.1h0M426 251.8h0M450.3 249.3h0"/><path class="c23" opacity=".58" d="M444 249h0M435.2 250.6h0M431.7 250.5h0M440.5 249h0M423.8 251.4h0M437.6 249.9h0M447.7 248.8h0M428.5 251h0M420.3 252.3h0"/><path class="c23" opacity=".58" d="M445.1 248.6h0M442.5 249.8h0M435.6 250.1h0M438.3 249.9h0M447.8 249.3h0M430.4 251.4h0M432.8 250.9h0M421 251.8h0"/><path class="c23" opacity=".58" d="M445 248.9h0M442.4 248.7h0M434.7 250.3h0M437.4 249.7h0M431.9 251.2h0M447.5 249.8h0M439.9 250h0M428.4 251.6h0"/><path class="c23" opacity=".93" d="M446.4 248.8h0M444.8 249h0M441.1 249.3h0M446.3 249.1h0M446.5 249.3h0M444.9 249.6h0M446.1 249.6h0M440.3 249.8h0M447.1 249h0M443.1 249h0M443.3 249.4h0M444.9 249.5h0M443.4 249.9h0M443.6 249.3h0M445.2 249h0M446 248.9h0M447.1 249.1h0M447.2 249.4h0M438.6 250.2h0M446.5 249.8h0M442.7 249.3h0M436.3 250.8h0M445.1 249.7h0M445.6 250h0M440.8 249.8h0M440.7 249.9h0M445.1 249h0M448.9 249.1h0M447.2 249.7h0M448.7 249.4h0M441.3 249.5h0M442.3 249.7h0M440.3 250.2h0M447.8 249.3h0M445.1 250h0M449.6 249.8h0M446.5 249.7h0M445.9 249.8h0M431.3 251.2h0M446.4 249.3h0M439.4 250.3h0M444.5 249.5h0M430.2 251.5h0M444.1 249.4h0M435.5 251.1h0M442.1 250.3h0"/><path class="c19" opacity=".58" d="M472 245.6h0M469.6 246.6h0"/><path class="c19" opacity=".58" d="M470.5 245.9h0M473.9 246.3h0"/><path class="c19" opacity=".58" d="M472.9 246.8h0"/><path class="c5" opacity=".58" d="M445.5 197.5h0M449.4 200.1h0"/><path class="c5" opacity=".58" d="M443.8 196.2h0M450.8 200.3h0M447.8 198.6h0"/><path class="c5" opacity=".58" d="M445.2 197.1h0M448.8 199h0M451 200.9h0"/><path class="c5" opacity=".58" d="M443.9 196.2h0M449.6 199.4h0"/><path class="c5" opacity=".58" d="M445.9 197.4h0M448.6 198.1h0M451.6 200.7h0"/><path class="c5" opacity=".93" d="M450.2 198.9h0"/><path class="c4" opacity=".58" d="M438.8 193.8h0M441.5 194.6h0"/><path class="c4" opacity=".58" d="M441.1 194.7h0"/><path class="c4" opacity=".58" d="M442.3 195.5h0M439.3 193h0"/><path class="c4" opacity=".58" d="M440.6 193.6h0"/><path class="c4" opacity=".58" d="M442.6 194.9h0"/><path class="c6" opacity=".58" d="M452.8 202.3h0M455.4 202.7h0"/><path class="c6" opacity=".58" d="M454 202.2h0"/><path class="c6" opacity=".58" d="M454.1 202.9h0M452.3 201h0"/><path class="c6" opacity=".58" d="M455.3 203.3h0"/><path class="c6" opacity=".58" d="M454.1 201.2h0"/><path class="c6" opacity=".93" d="M455.6 203h0"/><path class="c17" opacity=".58" d="M480.9 244.9h0M486.9 245.1h0"/><path class="c17" opacity=".58" d="M482.6 244.3h0M488.1 244.9h0"/><path class="c17" opacity=".58" d="M484.8 245h0"/><path class="c15" opacity=".58" d="M484.6 237h0"/><path class="c8" opacity=".58" d="M464.7 210.7h0M467.1 213.1h0"/><path class="c8" opacity=".58" d="M465.6 212.9h0M463.4 210.2h0M467.7 214.6h0"/><path class="c8" opacity=".58" d="M466.8 212h0"/><path class="c26" opacity=".58" d="M394.9 255.6h0M391.2 256.4h0"/><path class="c11" opacity=".58" d="M475.5 223.8h0"/><path class="c16" opacity=".58" d="M486.4 241.2h0"/><path class="c27" opacity=".58" d="M382.1 257.6h0"/><path class="c13" opacity=".59" d="M480.7 230.4h0"/><path class="c10" opacity=".59" d="M473.3 220.5h0"/><path class="c10" opacity=".59" d="M474.8 222.1h0"/><g class="c27" fill-opacity=".5" stroke-opacity=".5"><use href="#k" x="295.7" y="262"/></g><path class="c27" opacity=".59" d="M376.8 257.8h0M373.5 258.5h0"/><path class="c27" opacity=".59" d="M378.5 257.7h0"/><path class="c12" opacity=".59" d="M478.4 226.5h0M480.2 228.4h0"/><path class="c26" opacity=".59" d="M387.1 256.9h0M384.3 256.3h0M389.2 255.4h0M395.3 257h0"/><path class="c20" opacity=".59" d="M465.2 247.3h0M468 248.1h0"/><path class="c20" opacity=".59" d="M464.3 247.6h0M467.1 247.5h0"/><path class="c20" opacity=".59" d="M465.5 247.9h0M468.5 247.7h0"/><path class="c20" opacity=".59" d="M467.2 248.2h0M463.7 247.7h0"/><path class="c14" opacity=".59" d="M482.3 232.9h0M484 235.2h0"/><path class="c19" opacity=".59" d="M471.4 246h0M473.8 246.9h0"/><path class="c19" opacity=".59" d="M472 247.4h0"/><path class="c19" opacity=".59" d="M469.6 247.1h0M472.4 247.7h0"/><path class="c19" opacity=".59" d="M470.4 247.1h0"/><path class="c19" opacity=".59" d="M471.6 247.1h0"/><path class="c5" opacity=".59" d="M446.1 196.8h0M449 197.8h0M451.4 199.1h0M453.9 200.9h0"/><path class="c5" opacity=".59" d="M445.3 196.9h0M450.8 199h0M447.7 197.9h0M454.8 201h0"/><path class="c5" opacity=".59" d="M446.2 196.9h0M450 198.4h0M452.6 200.3h0"/><path class="c5" opacity=".59" d="M449.1 197.5h0M451.9 199.7h0"/><path class="c5" opacity=".59" d="M450.5 199h0M453.1 200.4h0"/><path class="c24" opacity=".59" d="M410.9 253.3h0M414.2 253.5h0M418.9 252.9h0M434 252h0M430.9 252.3h0M421.8 253.4h0M424.7 253.3h0M439.4 251.8h0"/><path class="c24" opacity=".59" d="M412.7 253.5h0M419.2 253.9h0M424.1 253h0M431.3 252.3h0M435.8 252.3h0"/><path class="c24" opacity=".59" d="M410.4 254.2h0M417.3 253.6h0M422.8 252.9h0M420.1 253.1h0M429.8 252.4h0M433.6 252.6h0"/><path class="c24" opacity=".59" d="M423.3 253.5h0"/><path class="c24" opacity=".59" d="M422.1 252.9h0"/><path class="c18" opacity=".59" d="M477.5 246.3h0M481.5 246.5h0"/><path class="c18" opacity=".59" d="M475.4 246.3h0M478.5 246.2h0"/><path class="c18" opacity=".59" d="M476.2 246h0M479.9 246.4h0"/><path class="c18" opacity=".59" d="M480.8 246.1h0M478.2 247.2h0"/><path class="c18" opacity=".59" d="M477 247.1h0"/><path class="c21" opacity=".59" d="M459.6 248.2h0M462.9 247.8h0"/><path class="c21" opacity=".59" d="M460.3 247.8h0M463.3 248.7h0"/><path class="c21" opacity=".59" d="M458.4 248.2h0M461.3 248.4h0M464.3 248.5h0"/><path class="c21" opacity=".59" d="M461.3 247.7h0M458.6 248.9h0M465.2 248.6h0"/><path class="c21" opacity=".59" d="M460.4 248.2h0"/><path class="c21" opacity=".93" d="M461.2 248.5h0M459.6 248.3h0M459.5 248.5h0M458.1 248.3h0M462.7 248.5h0M461.5 248.2h0"/><path class="c6" opacity=".59" d="M454.9 202h0M457.9 204.3h0M460.2 205.8h0"/><path class="c6" opacity=".59" d="M453.1 201.7h0M457.3 204.2h0"/><path class="c6" opacity=".59" d="M457.7 204.4h0M455.9 202.5h0"/><path class="c6" opacity=".59" d="M456.7 203.7h0"/><path class="c6" opacity=".59" d="M458.6 204.9h0M456.1 203.1h0"/><path class="c6" opacity=".93" d="M458.2 204h0M456 203h0M458.5 203.6h0"/><path class="c11" opacity=".59" d="M477.1 225h0"/><path class="c11" opacity=".59" d="M477.3 223.5h0"/><path class="c11" opacity=".59" d="M478.2 224.6h0"/><path class="c23" opacity=".59" d="M434.4 251.2h0M440.6 250.7h0M443.4 249.6h0M448.2 249.5h0M437.9 250.2h0M427.9 251.5h0M451 249.7h0"/><path class="c23" opacity=".59" d="M436 250.6h0M443.8 250.4h0M439.5 250.3h0M446.9 249.8h0M449.5 249.4h0M426.6 252h0M432.5 251.5h0M451.8 250.5h0"/><path class="c23" opacity=".59" d="M433.7 251.1h0M443.2 249.2h0M447.4 249.7h0M438.6 250.8h0M450.7 249.9h0M427.4 252.1h0"/><path class="c23" opacity=".59" d="M445.5 249.9h0M449.2 249.6h0M441.7 250.5h0M439 251h0M435.8 250.6h0M433.4 251.8h0"/><path class="c23" opacity=".59" d="M444.1 250.6h0M447.2 249.5h0M449.7 250.1h0M436.9 251.1h0M441.3 250.6h0M432.1 251.8h0"/><path class="c23" opacity=".93" d="M443.5 250.8h0M445.7 250h0M447.5 249.4h0M447.7 249.5h0M445.7 250.3h0M449 249.8h0M447.8 250.2h0M442.5 251h0M449.1 249.9h0M442.8 250.6h0M447 250h0M446.8 250.2h0M447.8 249.9h0M438.5 250.4h0M445.6 250.3h0M436.5 251.3h0M447.7 249.7h0M446.9 250.9h0M446.3 249.7h0M448.7 249.7h0M442 250.5h0M448.3 249.5h0M450.6 250h0M440.6 251.1h0M447.6 250.1h0M442.3 250.7h0M447.9 250.6h0M440.1 250.7h0M447.1 250.1h0M444.3 250.2h0M444.4 250.3h0M435.3 251.5h0M443 250.6h0M439.6 250.6h0M445.9 249.9h0M438.9 251.6h0M448.6 249.8h0M444.1 251.1h0M441.4 250.6h0M437.2 251.7h0M444.1 250.5h0M446.2 249.9h0"/><path class="c22" opacity=".59" d="M450.7 248.7h0M456.2 248.2h0M453.8 249.3h0"/><path class="c22" opacity=".59" d="M450.8 249.3h0M455.5 248.5h0"/><path class="c22" opacity=".59" d="M451.6 248.9h0M454.1 248.6h0M448.7 249h0M456.7 248.7h0"/><path class="c22" opacity=".59" d="M451.7 249.5h0M456.4 249.2h0M448.5 249.4h0"/><path class="c22" opacity=".59" d="M449.7 249.1h0M452.8 249.3h0M456.2 249.1h0"/><path class="c22" opacity=".93" d="M450.5 249.2h0M450.6 249.2h0M452.2 248.9h0M451 249.2h0M452.2 248.9h0M457.6 248.9h0M454.1 249.5h0M454.4 248.7h0M452.9 249.3h0M451.8 249.7h0M456.4 249.3h0M452.3 249.7h0M454.8 248.7h0M453.2 249.7h0M454.3 250.2h0M454.6 248.9h0"/><path class="c25" opacity=".59" d="M405.2 254.7h0M401.2 256.1h0"/><path class="c25" opacity=".59" d="M406.7 255h0M403.4 255.5h0M399.2 255.6h0"/><path class="c7" opacity=".59" d="M462.8 209.1h0M460.1 206.6h0"/><path class="c7" opacity=".59" d="M460.1 205.8h0M464.3 210.2h0"/><path class="c7" opacity=".59" d="M461.3 207.6h0M463.9 209.1h0"/><path class="c7" opacity=".59" d="M460.7 206.3h0M463.6 208.2h0"/><path class="c7" opacity=".59" d="M462.2 206.8h0M465.2 209.8h0"/><path class="c8" opacity=".59" d="M465.1 211.7h0M468.4 213h0"/><path class="c8" opacity=".59" d="M465.9 211.2h0"/><path class="c8" opacity=".59" d="M465.1 210.8h0"/><path class="c17" opacity=".59" d="M486 245.1h0M483.5 245.9h0"/><path class="c17" opacity=".59" d="M484.7 245.3h0M488.4 245.3h0"/><path class="c17" opacity=".59" d="M487.4 245.8h0"/><path class="c4" opacity=".59" d="M446.3 196.3h0M448.7 196.9h0M442.5 195h0"/><path class="c4" opacity=".59" d="M447.7 196.8h0M444 195.9h0M440.9 193.6h0"/><path class="c4" opacity=".59" d="M445.1 196h0M447.7 196.6h0M442.6 194.3h0"/><path class="c4" opacity=".59" d="M443.8 195.5h0M447.7 196.3h0"/><path class="c4" opacity=".59" d="M445.6 195.4h0M443.6 193.9h0M449.6 197.4h0"/><path class="c4" opacity=".93" d="M446.9 195.6h0"/><path class="c9" opacity=".59" d="M469.5 215.5h0M472.6 217.8h0"/><path class="c9" opacity=".59" d="M471.3 217h0M474.1 219h0"/><path class="c9" opacity=".59" d="M473.5 218.2h0"/><path class="c9" opacity=".59" d="M472.1 216.9h0"/><path class="c16" opacity=".59" d="M488.6 242.7h0"/><g class="c28" fill-opacity=".5" stroke-opacity=".5"><use href="#k" x="352.4" y="261.5"/><use href="#k" x="360.3" y="260.4"/></g><path class="c28" opacity=".59" d="M370.9 259.5h0M367 259.9h0M363.8 259.7h0"/><path class="c15" opacity=".59" d="M486.3 239.4h0"/><path class="c15" opacity=".59" d="M486.4 237.6h0"/><path class="c16" opacity=".59" d="M488.2 240.3h0"/><path class="c8" opacity=".59" d="M469.4 213.4h0M467.4 211.2h0"/><path class="c8" opacity=".59" d="M470.1 213.5h0"/><path class="c8" opacity=".59" d="M470.2 214.6h0"/><path class="c8" opacity=".59" d="M468.7 212.7h0"/><path class="c13" opacity=".59" d="M482.2 230.8h0"/><path class="c13" opacity=".59" d="M483.6 231.5h0"/><path class="c11" opacity=".59" d="M480.2 225.3h0"/><path class="c11" opacity=".59" d="M478.7 223.4h0"/><path class="c10" opacity=".59" d="M476.6 222.1h0M474.5 220.2h0"/><path class="c10" opacity=".59" d="M476.2 220.5h0"/><path class="c10" opacity=".59" d="M477.9 222.2h0"/><path class="c18" opacity=".59" d="M475.9 246.8h0M479.5 246.5h0M483.2 247h0"/><path class="c18" opacity=".59" d="M475.1 247.2h0M481.1 247.2h0M477.4 248.2h0"/><path class="c18" opacity=".59" d="M481.5 246.4h0"/><path class="c12" opacity=".59" d="M480.1 227.4h0"/><path class="c12" opacity=".59" d="M481.6 229.4h0"/><path class="c12" opacity=".59" d="M481.3 227.9h0"/><g class="c28" fill-opacity=".5" stroke-opacity=".5"><use href="#k" x="347.6" y="262.4"/><use href="#k" x="355.9" y="261.8"/></g><path class="c21" opacity=".59" d="M461.8 248h0M457.5 248.9h0"/><path class="c21" opacity=".59" d="M460.9 249.1h0M457.8 248.3h0"/><path class="c21" opacity=".59" d="M462.6 248.2h0M460.3 249.6h0M457.5 249h0"/><path class="c21" opacity=".59" d="M462.3 249.2h0M459.2 249.4h0"/><path class="c21" opacity=".59" d="M463.3 248.7h0M460.4 249.8h0"/><path class="c21" opacity=".93" d="M461.4 250h0M462.5 249.3h0M463.2 249.8h0M462.1 249.2h0"/><path class="c6" opacity=".59" d="M457.5 203.2h0M460.6 206h0"/><path class="c6" opacity=".59" d="M457.4 202.8h0M459.7 204.7h0M462.6 206.1h0"/><path class="c6" opacity=".59" d="M458.4 204h0M461.6 205.9h0"/><path class="c6" opacity=".59" d="M459.5 204.2h0"/><path class="c6" opacity=".59" d="M461 205.3h0"/><path class="c6" opacity=".93" d="M461.5 204.9h0"/><path class="c19" opacity=".59" d="M474.6 248h0M470.4 248.1h0"/><path class="c19" opacity=".59" d="M473.7 247.6h0M470.8 247.9h0"/><path class="c19" opacity=".59" d="M472.4 247.7h0M475.6 248.1h0"/><path class="c19" opacity=".59" d="M470.5 247.8h0"/><path class="c23" opacity=".59" d="M444 251.4h0M449.1 250.4h0M446.6 251.2h0M440.3 251.5h0M453.4 250.4h0M436.9 251.3h0M425.7 253.1h0M433.8 252.1h0"/><path class="c23" opacity=".59" d="M445.5 251h0M440.3 251h0M442.8 250.9h0M451 250.1h0M448.5 250.8h0M433.9 252.4h0M437.3 252.2h0M428 252.7h0"/><path class="c23" opacity=".59" d="M444.4 251h0M440.3 251.4h0M450.8 250.3h0M447.4 250.7h0M435.9 251.8h0"/><path class="c23" opacity=".59" d="M446.5 250.9h0M443 251.1h0M452.3 250.6h0M449.2 250h0M438.9 251.8h0"/><path class="c23" opacity=".59" d="M445.5 250.4h0M442.1 251.3h0M451.9 250.5h0M448.6 250.6h0M438.1 251.8h0"/><path class="c23" opacity=".93" d="M444.5 250.4h0M446.5 250.5h0M445.8 250.7h0M442.1 251.4h0M443.4 251.8h0M451.6 250.9h0M450 250.8h0M446.8 250.8h0M449.2 250.8h0M442.9 251.3h0M452.5 250.8h0M443 251.4h0M444.9 251.2h0M449.7 250.7h0M448.4 250.7h0M442.9 251.6h0M440.8 251.7h0M447.8 251.4h0M441.4 251.4h0M449.9 250.5h0M446.2 251.7h0M447.3 250.8h0M442.2 251.2h0M451 251h0M447 251.5h0M443.8 250.9h0M446.4 252.2h0M449.4 250.9h0M450 250.5h0M450.9 250.9h0M444 252.1h0M443 252.2h0"/><path class="c17" opacity=".59" d="M485.1 246.2h0M489.8 245.6h0"/><path class="c17" opacity=".59" d="M490.3 244.4h0M485.4 246.8h0"/><path class="c14" opacity=".59" d="M484 233.8h0M485.7 235.6h0"/><path class="c22" opacity=".59" d="M450.4 249.7h0M455.3 249.3h0M458.1 249.5h0"/><path class="c22" opacity=".59" d="M450.1 249.2h0M456 249.4h0M452.7 249.3h0M459.2 250.4h0"/><path class="c22" opacity=".59" d="M451.3 249.8h0M455.5 249.5h0"/><path class="c22" opacity=".59" d="M453.9 249.6h0M456.7 249.6h0M450.9 250.1h0"/><path class="c22" opacity=".59" d="M455.7 249.3h0M453.1 250.5h0"/><path class="c22" opacity=".93" d="M456.9 249.1h0M455.7 249.8h0M456.8 250h0M454.4 249.9h0M454.3 250.1h0M454.3 250.6h0M457.9 249.6h0M454.8 250.4h0M456.2 250.1h0M452.6 250h0M453.5 249.7h0"/><path class="c9" opacity=".59" d="M470.7 215.6h0M474.8 219.4h0"/><path class="c9" opacity=".59" d="M472 215.7h0M474.4 217.9h0"/><path class="c9" opacity=".59" d="M472.5 216.6h0"/><path class="c20" opacity=".59" d="M467.8 248.4h0M464.5 248.6h0"/><path class="c20" opacity=".59" d="M467.4 248.6h0M464.4 249h0"/><path class="c20" opacity=".59" d="M465.4 248.2h0M469.3 248.3h0"/><path class="c20" opacity=".59" d="M466 248.9h0"/><path class="c20" opacity=".59" d="M467.9 248.9h0"/><path class="c20" opacity=".93" d="M467.7 249.1h0M465.8 249.5h0"/><path class="c24" opacity=".59" d="M427.3 252.8h0M408.4 254.2h0M421 253.3h0M414.6 254.4h0M435.1 252.1h0M430.8 252.5h0M411.5 254.9h0M423.7 253.5h0M439.9 252.2h0M445.2 252.1h0"/><path class="c24" opacity=".59" d="M429 252.7h0M415.8 253.6h0M431.8 252.8h0M434.9 252.7h0M419.7 254.2h0M410 254.3h0M438.6 252.6h0M425.4 254.2h0M445.1 252.2h0M422.7 253.8h0"/><path class="c24" opacity=".59" d="M429.3 252.9h0M426.6 253.1h0M433.1 252.4h0M413.5 254.4h0M418.9 253.8h0M435.7 252.7h0M440.8 252.5h0"/><path class="c24" opacity=".59" d="M435.5 252.5h0M430.6 253.2h0M416.7 254.4h0M427.3 253.7h0M439.8 252.7h0"/><path class="c24" opacity=".59" d="M430.2 253.8h0M432.7 253.4h0M415.8 254.6h0"/><path class="c24" opacity=".93" d="M428.7 253.9h0"/><g class="c26" fill-opacity=".5" stroke-opacity=".5"><use href="#k" x="295.8" y="258.5"/></g><path class="c26" opacity=".59" d="M397.3 257.1h0M389.3 257.7h0M393.4 257.5h0"/><path class="c26" opacity=".59" d="M391.5 257.4h0"/><path class="c7" opacity=".59" d="M465.6 210.6h0M463.2 207.7h0"/><path class="c7" opacity=".59" d="M464.6 208.5h0M466.9 210.9h0"/><path class="c7" opacity=".59" d="M464.1 208.5h0"/><path class="c7" opacity=".59" d="M463.2 207.5h0M465.6 209.5h0"/><path class="c7" opacity=".59" d="M463.5 207.4h0"/><path class="c7" opacity=".93" d="M464.4 208h0"/><path class="c4" opacity=".59" d="M444.5 194.8h0M449.7 197.9h0M447.6 195.8h0M453.6 199.3h0"/><path class="c4" opacity=".59" d="M446.9 195.1h0M442.7 193.5h0M451.1 198.1h0"/><path class="c4" opacity=".59" d="M445.3 195.4h0M450.9 197.4h0M448.4 196.7h0"/><path class="c4" opacity=".59" d="M443.6 194.2h0M449.3 196.7h0M452 198.2h0M446.5 194.8h0"/><path class="c4" opacity=".59" d="M450.8 198h0M445.3 194.7h0M449 196.2h0"/><path class="c4" opacity=".93" d="M444.7 194.3h0M447.3 194.9h0M450.7 197.3h0M447.4 194.7h0M446.5 194.8h0"/><path class="c5" opacity=".59" d="M456 201.4h0M453.3 199.3h0M458.7 203h0"/><path class="c5" opacity=".59" d="M454.8 201.1h0M451.7 198.8h0M457.1 202.4h0"/><path class="c5" opacity=".59" d="M453.6 200.5h0M456.7 201.7h0"/><path class="c5" opacity=".59" d="M455.1 200.2h0M452.7 198.7h0"/><path class="c5" opacity=".59" d="M453.8 199.6h0"/><path class="c5" opacity=".93" d="M454.5 199.8h0M455.2 201.3h0M455.6 201.2h0M455.1 200.1h0"/><path class="c25" opacity=".59" d="M406.8 255.9h0M404.1 256.5h0"/><path class="c25" opacity=".59" d="M405.9 256.2h0M408.6 255.8h0"/><g class="c29" fill-opacity=".5" stroke-opacity=".5"><use href="#k" x="343.6" y="263.1"/><use href="#k" x="327.5" y="265.6"/><use href="#k" x="338.2" y="264.1"/><use href="#k" x="321.6" y="267.2"/></g><path class="c3" opacity=".59" d="M445.6 194h0"/><path class="c3" opacity=".59" d="M443.8 193.1h0"/><path class="c3" opacity=".59" d="M445.5 193.4h0"/><path class="c15" opacity=".59" d="M487.8 239.2h0"/><path class="c27" opacity=".59" d="M378.8 259.2h0M384.1 258.4h0M381.5 258.8h0"/><path class="c11" opacity=".59" d="M478.6 224.1h0M481.5 226.3h0"/><path class="c12" opacity=".59" d="M483.4 230.3h0"/><path class="c19" opacity=".59" d="M473.6 248.9h0M470.6 249.1h0M477.4 249.2h0"/><path class="c19" opacity=".59" d="M472 248.4h0M474.8 248.4h0"/><path class="c19" opacity=".59" d="M475.5 248.7h0M472.6 249.1h0"/><path class="c19" opacity=".59" d="M473.5 249.1h0"/><path class="c19" opacity=".59" d="M471.3 248.8h0"/><path class="c9" opacity=".59" d="M472.5 216.5h0M475.8 219.8h0"/><path class="c9" opacity=".59" d="M474.2 216.5h0"/><path class="c9" opacity=".59" d="M475.8 217.7h0"/><path class="c16" opacity=".59" d="M490.3 242.2h0"/><path class="c7" opacity=".59" d="M466.7 209.9h0M469.6 211.3h0"/><path class="c7" opacity=".59" d="M466.2 208.4h0M468.1 211.6h0"/><path class="c7" opacity=".59" d="M468.1 210.5h0"/><path class="c7" opacity=".59" d="M467.1 209.3h0"/><path class="c7" opacity=".59" d="M467.9 210.4h0"/><path class="c7" opacity=".93" d="M468.6 211h0"/><path class="c23" opacity=".59" d="M446.1 251.7h0M448.9 251.3h0M433.5 252.6h0M441.2 252.2h0M455 251.5h0M452.5 252.1h0"/><path class="c23" opacity=".59" d="M446.1 251.5h0M451.1 252h0M453.6 251.8h0M441.9 252.4h0M434.1 252.9h0M439.3 252.5h0M448.5 252.6h0"/><path class="c23" opacity=".59" d="M447.6 251.1h0M444.5 251.8h0M451.4 251.7h0M454 251.3h0"/><path class="c23" opacity=".59" d="M447.6 252.1h0M444 252.3h0M452.4 251.1h0"/><path class="c23" opacity=".59" d="M449.8 251.3h0M442.8 252.3h0M452.4 251.5h0M446.7 252.2h0"/><path class="c23" opacity=".93" d="M449.3 251.5h0M448.7 251.5h0M448.6 251.7h0M449.2 251.1h0M445.7 252.1h0M451 251.6h0M449.6 252h0M447.7 252.2h0M445 252.4h0M444.2 252.2h0M444.7 252.1h0M447.2 251.6h0M450.5 251.9h0M448.1 252.1h0M450.5 252h0M445.2 252.7h0M446.9 252.4h0M444.8 252.9h0"/><path class="c5" opacity=".59" d="M456.3 200.6h0M459.2 203.1h0"/><path class="c5" opacity=".59" d="M457.3 201.9h0M460.2 203.1h0"/><path class="c5" opacity=".59" d="M456 201.5h0M461 204h0M458.9 201.9h0"/><path class="c5" opacity=".59" d="M457.8 202.2h0"/><path class="c5" opacity=".59" d="M457.9 201.2h0M460.1 202.8h0"/><path class="c5" opacity=".93" d="M459.1 202.9h0M456.8 200.8h0M457.9 201.9h0M459.7 203.1h0M458 201.6h0"/><path class="c22" opacity=".59" d="M451.6 250.5h0M457.3 250.4h0M454.4 250.3h0M461.3 251.3h0"/><path class="c22" opacity=".59" d="M459.7 250.4h0M455.2 250.5h0M451.8 250.9h0"/><path class="c22" opacity=".59" d="M457.7 250.1h0M452.8 251h0M460.7 251h0"/><path class="c22" opacity=".59" d="M458.7 250.4h0M455 250.8h0"/><path class="c22" opacity=".59" d="M456.5 251.1h0M453.2 251.1h0M459.1 251.4h0"/><path class="c22" opacity=".93" d="M457.6 250.8h0M455.7 251.2h0M458.6 250.6h0M457.6 250.9h0M454.8 251.2h0M457.9 250.9h0"/><path class="c8" opacity=".59" d="M469.1 212.6h0M470.6 214.8h0M473.8 216.1h0"/><path class="c8" opacity=".59" d="M470.5 213.8h0"/><path class="c8" opacity=".59" d="M472.2 214.5h0"/><path class="c20" opacity=".59" d="M464.8 249.3h0M469.4 248.9h0"/><path class="c20" opacity=".59" d="M466 248.7h0M470.8 249.3h0"/><path class="c20" opacity=".59" d="M467.4 248.8h0M471.3 249.9h0"/><path class="c20" opacity=".59" d="M467.2 249.6h0"/><path class="c20" opacity=".59" d="M469.5 249.7h0"/><path class="c20" opacity=".93" d="M468.1 249.5h0"/><path class="c18" opacity=".59" d="M477.9 247.9h0M481.7 247.7h0"/><path class="c18" opacity=".59" d="M479.1 247.4h0M483.2 247.9h0"/><path class="c18" opacity=".59" d="M480 247.8h0M476.9 248.4h0M484.1 248.1h0"/><path class="c18" opacity=".59" d="M478.3 248.4h0"/><path class="c18" opacity=".59" d="M480.3 248.6h0"/><path class="c21" opacity=".59" d="M465.7 250.2h0M459.6 249.7h0M462.6 250.4h0"/><path class="c21" opacity=".59" d="M459.8 249.3h0M463.5 249.4h0"/><path class="c21" opacity=".59" d="M461 250h0M463.9 250.6h0"/><path class="c21" opacity=".59" d="M460.3 250.5h0M465.4 250.6h0"/><path class="c21" opacity=".59" d="M460.4 250.7h0M464.8 250h0"/><path class="c21" opacity=".93" d="M461.7 250.2h0M462.2 251h0"/><path class="c4" opacity=".59" d="M452.2 197.9h0M448.4 196.7h0M454.9 199h0"/><path class="c4" opacity=".59" d="M453.5 199.1h0M449.7 195.9h0M456.7 200.1h0"/><path class="c4" opacity=".59" d="M451.9 197.1h0M448.9 195.6h0M454.9 199h0"/><path class="c4" opacity=".59" d="M451.8 198.2h0M449 196h0M454.6 199.6h0"/><path class="c4" opacity=".59" d="M448.2 195.6h0M453.4 198.6h0M450.8 196.4h0M456.6 200.5h0"/><path class="c4" opacity=".93" d="M450.3 195.9h0M452.4 198.1h0M452.7 197.1h0M451.8 197.2h0M450.1 196.1h0M454 198.5h0M453.1 197.8h0M455.5 199.2h0M456.1 199.6h0M452.4 196.9h0"/><path class="c13" opacity=".59" d="M485.7 233.8h0"/><path class="c13" opacity=".59" d="M485.4 232.4h0"/><path class="c24" opacity=".59" d="M421.6 254.3h0M414.1 255.6h0M443.2 253.5h0M433.7 253.7h0M429.3 254.4h0M437.4 252.8h0M440.5 252.9h0M411.1 255.5h0M424.3 254.2h0M417.9 255.1h0"/><path class="c24" opacity=".59" d="M419.3 255.1h0M442.3 252.6h0M431.3 254h0M436.8 253.2h0M427.5 253.7h0M412.6 255.7h0M422.1 255.3h0M425.1 254.8h0M433.9 253.8h0"/><path class="c24" opacity=".59" d="M420 254.4h0M430.5 254.2h0M440.4 252.8h0M436.9 252.9h0M426.1 254.4h0M444.4 252.8h0M423 254.9h0M414.9 255.8h0"/><path class="c24" opacity=".59" d="M435.8 253.4h0M440.8 252.8h0M432.8 253.7h0M428 255.2h0M438.5 254h0M420.4 255.5h0"/><path class="c24" opacity=".59" d="M437.9 253.4h0M441.8 253.5h0M434.7 253.3h0M431.7 253.8h0M429.4 255.3h0"/><path class="c24" opacity=".93" d="M439.9 253.1h0M432.1 254.5h0M441.5 253h0M442.1 253h0M441.3 253.3h0M436.7 254.1h0M436.5 253.9h0M430.1 254.1h0"/><path class="c17" opacity=".59" d="M484.3 247.1h0M489.8 246.5h0M487.1 246.3h0"/><path class="c17" opacity=".59" d="M488.4 247.2h0M491.3 247.4h0"/><path class="c17" opacity=".59" d="M486.4 247.7h0"/><path class="c6" opacity=".59" d="M463.2 205.8h0M460.2 204.2h0M465.9 207.8h0"/><path class="c6" opacity=".59" d="M462.5 205.9h0M464.8 207h0"/><path class="c6" opacity=".59" d="M461.2 204.9h0M464.2 206.8h0"/><path class="c6" opacity=".59" d="M462.1 204.7h0M465 206.9h0"/><path class="c6" opacity=".59" d="M463.9 206.7h0"/><g class="c25" fill-opacity=".5" stroke-opacity=".5"><use href="#k" x="295.7" y="256.7"/></g><path class="c25" opacity=".59" d="M401.8 256.8h0M415.4 256h0M409.8 256.8h0M404.6 257.3h0"/><path class="c25" opacity=".59" d="M399.6 257h0M408.4 256.5h0"/><path class="c25" opacity=".59" d="M406.7 256.9h0"/><path class="c10" opacity=".59" d="M478.9 222.6h0"/><path class="c10" opacity=".59" d="M477 221h0"/><path class="c26" opacity=".59" d="M386.5 257.9h0M398.4 257.8h0M395.7 258h0M391.6 259.1h0"/><path class="c26" opacity=".59" d="M393.7 258.5h0"/><g class="c28" fill-opacity=".5" stroke-opacity=".5"><use href="#k" x="333.4" y="264.4"/><use href="#k" x="363.3" y="262.7"/></g><path class="c28" opacity=".59" d="M373 260.6h0M376.2 260.7h0M369.9 261h0M366.7 261.6h0"/><path class="c3" opacity=".59" d="M446.6 193.7h0M449.6 195h0"/><path class="c3" opacity=".59" d="M446.2 194.2h0M448.7 195.1h0M451.4 196.2h0"/><path class="c3" opacity=".59" d="M447.8 194.9h0"/><path class="c3" opacity=".59" d="M447.9 194.6h0"/><path class="c3" opacity=".59" d="M445.9 193.4h0M449.1 194.9h0"/><path class="c3" opacity=".93" d="M447.2 194.3h0M447.5 193.9h0M449.8 195.2h0"/><path class="c14" opacity=".59" d="M488.1 236.9h0"/><path class="c15" opacity=".59" d="M489.8 240.7h0"/><path class="c17" opacity=".60" d="M491.9 245.8h0M488.6 247.9h0"/><path class="c17" opacity=".60" d="M488.5 248h0"/><path class="c17" opacity=".60" d="M486.9 248h0"/><path class="c12" opacity=".60" d="M482.7 228.3h0M485.1 231h0"/><path class="c12" opacity=".60" d="M485.3 229.5h0"/><path class="c11" opacity=".60" d="M481.1 225.3h0M482.7 227.3h0"/><path class="c11" opacity=".60" d="M482.6 225.5h0"/><path class="c10" opacity=".60" d="M479 221.5h0"/><path class="c10" opacity=".60" d="M480.4 223.3h0"/><path class="c23" opacity=".60" d="M456.2 252.2h0M447.1 252.1h0M451.5 253h0M444.7 253h0"/><path class="c23" opacity=".60" d="M451.6 252h0M448.5 252.4h0M454.5 252.7h0M444.3 253h0"/><path class="c23" opacity=".60" d="M452 252.4h0M446.6 253h0M455.2 252.5h0M449.5 252.9h0M444 252.9h0"/><path class="c23" opacity=".60" d="M447.1 252.8h0M449.8 252.3h0M453.1 252.5h0M456.6 253.4h0"/><path class="c23" opacity=".60" d="M448.4 253.1h0M452.7 252.1h0"/><path class="c23" opacity=".93" d="M450.6 252.4h0M450.8 252.5h0M450.6 253h0M447.8 253.1h0M447.5 252.5h0M446.6 253h0M448.7 252.8h0M453.4 252h0M447.1 253.3h0M449.6 253.5h0M453.3 252.5h0M448.1 253.5h0M450 252.8h0M451 252.1h0M449 253h0M452.8 252.9h0M452.4 252.2h0M453.4 252.8h0M452.4 253.8h0"/><g class="c29" fill-opacity=".5" stroke-opacity=".5"><use href="#k" x="299.6" y="269.2"/><use href="#k" x="291.3" y="271.1"/><use href="#k" x="352.2" y="264.7"/><use href="#k" x="342.4" y="266.4"/></g><path class="c27" opacity=".60" d="M386.7 260.4h0M383.7 260.8h0"/><path class="c27" opacity=".60" d="M389 259.9h0M381.4 261.1h0"/><path class="c22" opacity=".60" d="M456.7 251.8h0M460.1 251.2h0M453.9 251.1h0M462.6 251.9h0"/><path class="c22" opacity=".60" d="M455.1 251.8h0M459.2 251.8h0M461.7 251.9h0"/><path class="c22" opacity=".60" d="M457.1 251.8h0M461.2 251.7h0"/><path class="c22" opacity=".60" d="M455.8 251.5h0M459.9 251.5h0"/><path class="c22" opacity=".60" d="M454.9 252h0M458.1 251.6h0"/><path class="c22" opacity=".93" d="M456.5 251.8h0M457.2 252.4h0M460.3 252h0M458 251.2h0M455 252.5h0M458.8 252h0"/><path class="c20" opacity=".60" d="M466.6 250.4h0M469.5 250h0"/><path class="c20" opacity=".60" d="M467.7 250h0M470.5 250.8h0"/><path class="c20" opacity=".60" d="M468.1 249.6h0"/><path class="c20" opacity=".60" d="M467.5 250.6h0"/><path class="c20" opacity=".60" d="M469.4 251.2h0"/><path class="c20" opacity=".93" d="M468.9 250.5h0"/><path class="c9" opacity=".60" d="M475.4 217.9h0M478.9 221h0"/><path class="c9" opacity=".60" d="M476.6 220.1h0"/><path class="c9" opacity=".60" d="M477.6 218.2h0"/><path class="c6" opacity=".60" d="M463.4 205.4h0M466.6 207.9h0"/><path class="c6" opacity=".60" d="M463.3 205.3h0M466.1 207.7h0M468.3 209.3h0"/><path class="c6" opacity=".60" d="M465.5 206.9h0"/><path class="c6" opacity=".60" d="M467 208.3h0"/><path class="c6" opacity=".60" d="M466.1 206.5h0"/><path class="c19" opacity=".60" d="M474.6 249.6h0M472.1 250.1h0"/><path class="c19" opacity=".60" d="M476 249.5h0M472.5 249.9h0"/><path class="c19" opacity=".60" d="M474.3 250.1h0"/><path class="c19" opacity=".60" d="M476 249.9h0"/><path class="c24" opacity=".60" d="M440.6 253.4h0M445.1 253.4h0M437.5 253.9h0M434.5 254h0M424 255.5h0M419.5 256h0M427.1 255.1h0M430.3 255.3h0"/><path class="c24" opacity=".60" d="M440.5 253.3h0M443 253.5h0M438.1 254.3h0M418.1 256.2h0M423 255.5h0M432.4 253.7h0M446.1 254h0M428.5 255.5h0M435.3 254.7h0"/><path class="c24" opacity=".60" d="M442.6 253.1h0M439.7 253.7h0M424.9 255.9h0M432.3 254.7h0M437.3 254.6h0M445.1 253.5h0M428.6 255.5h0"/><path class="c24" opacity=".60" d="M438.7 254h0M442.2 253.5h0M432.8 254.8h0M430.1 255.3h0M435.8 254.4h0M425 255.9h0M446.9 254.2h0"/><path class="c24" opacity=".60" d="M443.2 254h0M433.9 254.4h0M437 254.5h0M427.1 255.6h0M440 253.8h0M423.2 256.1h0"/><path class="c24" opacity=".93" d="M441 254.1h0M442.7 254h0M431.7 255.1h0M438.4 254.3h0M438.7 254.3h0M433.4 254.9h0M436.4 254.7h0M432.6 255.1h0M426.5 255.7h0M441.8 253.9h0M442.3 254.1h0M439.5 255.2h0M435.5 255.4h0"/><path class="c7" opacity=".60" d="M469.8 211.6h0M467.7 208.9h0M472.4 212.9h0"/><path class="c7" opacity=".60" d="M471 212.2h0M468.7 209.8h0"/><path class="c7" opacity=".60" d="M471.3 212.2h0"/><path class="c7" opacity=".60" d="M470.1 210.7h0"/><path class="c7" opacity=".60" d="M471.1 211.6h0"/><path class="c5" opacity=".60" d="M461.5 204h0M458.6 201.8h0M464.7 205.2h0"/><path class="c5" opacity=".60" d="M462.2 203.2h0M464.5 205h0"/><path class="c5" opacity=".60" d="M463 204.7h0M460.7 202.6h0M466.2 205.6h0"/><path class="c5" opacity=".60" d="M463.9 204.7h0M460.5 203.1h0"/><path class="c5" opacity=".60" d="M461.5 202.7h0M463.6 204.5h0"/><path class="c5" opacity=".93" d="M462.3 203.4h0M461.6 202.6h0"/><path class="c8" opacity=".60" d="M471.5 213.2h0M474.8 216.2h0"/><path class="c8" opacity=".60" d="M473 214.5h0"/><path class="c8" opacity=".60" d="M472.4 213.9h0M474.7 215.4h0"/><path class="c21" opacity=".60" d="M464 251.2h0"/><path class="c21" opacity=".60" d="M465.1 251h0M462 251.2h0"/><path class="c21" opacity=".60" d="M466.1 251.6h0M462.8 250.9h0"/><path class="c21" opacity=".60" d="M463.5 250.9h0M466.4 251.5h0"/><path class="c21" opacity=".60" d="M464.9 252h0"/><path class="c21" opacity=".93" d="M463.3 251.9h0"/><path class="c15" opacity=".60" d="M490.3 238.7h0"/><path class="c4" opacity=".60" d="M453.7 198.5h0M456.9 199.9h0M460 201.5h0"/><path class="c4" opacity=".60" d="M453.7 198h0M457.9 200.4h0M460.4 202h0"/><path class="c4" opacity=".60" d="M453.5 196.9h0M457.7 200.3h0M455.3 199.2h0M460.7 201.6h0"/><path class="c4" opacity=".60" d="M457.3 200.1h0M454.9 198.2h0"/><path class="c4" opacity=".60" d="M458.9 201.3h0M454.9 197.5h0"/><path class="c4" opacity=".93" d="M458.2 200.9h0M456 198.8h0M455.8 199h0M456.7 199.1h0M458.9 201.2h0M454.8 197.7h0M455.5 198.4h0M454.5 198.1h0"/><path class="c16" opacity=".60" d="M492.1 244.3h0"/><path class="c26" opacity=".60" d="M401.3 258.8h0M397.5 259h0"/><path class="c26" opacity=".60" d="M399.2 259.3h0M402.3 258.3h0"/><g class="c28" fill-opacity=".5" stroke-opacity=".5"><use href="#k" x="356.9" y="263.9"/><use href="#k" x="359.9" y="263.4"/></g><path class="c28" opacity=".60" d="M379.2 262h0"/><path class="c13" opacity=".60" d="M486.8 234.3h0"/><path class="c3" opacity=".60" d="M450.6 195.7h0M453.8 197.2h0M449 193h0"/><path class="c3" opacity=".60" d="M449.3 194.3h0M452.4 196.6h0"/><path class="c3" opacity=".60" d="M451.3 195.8h0M448.5 194.6h0M454.2 197.5h0"/><path class="c3" opacity=".60" d="M451.5 195.6h0M448.7 194.3h0"/><path class="c3" opacity=".60" d="M452.1 196h0M449.9 194.4h0"/><path class="c3" opacity=".93" d="M452.9 196.8h0M451.3 195h0M450.6 194.6h0M452.2 195.7h0M451 195.2h0M450.4 194.7h0M452.3 195.9h0M452.3 194.9h0M451.2 195.3h0M449.3 194.2h0M453.3 196h0M452.9 196.5h0M450.6 194.1h0"/><path class="c25" opacity=".60" d="M413 256.5h0M416.8 256.7h0M410.2 257.6h0M421 256.8h0M407.1 258.3h0"/><path class="c25" opacity=".60" d="M411.6 257.6h0M415.2 257.2h0"/><path class="c25" opacity=".60" d="M413.7 257.7h0"/><path class="c14" opacity=".60" d="M487.7 236.2h0M489.8 237.9h0"/><path class="c18" opacity=".60" d="M491.2 248.4h0M482.9 248.7h0M477.5 249.2h0M487.1 249.5h0M480.2 249.1h0"/><path class="c18" opacity=".60" d="M481.9 248.2h0M492.6 248.3h0M478.4 249.3h0M485.3 248.7h0"/><path class="c18" opacity=".60" d="M479.3 249h0M483.7 249.3h0"/><path class="c19" opacity=".60" d="M472.8 250.7h0M475.5 250.8h0"/><path class="c19" opacity=".60" d="M476.9 249.9h0M473.6 250.7h0"/><path class="c19" opacity=".60" d="M474.8 251.1h0"/><path class="c9" opacity=".60" d="M478.3 218.7h0M479.8 221.1h0"/><path class="c9" opacity=".60" d="M479.2 220.1h0"/><path class="c6" opacity=".60" d="M466.6 207h0M470.1 209.6h0"/><path class="c6" opacity=".60" d="M468.4 208.2h0"/><path class="c6" opacity=".60" d="M466.6 206.7h0M469.2 208.4h0"/><path class="c6" opacity=".60" d="M468.4 207.4h0"/><path class="c6" opacity=".60" d="M469.1 208.2h0"/><path class="c6" opacity=".94" d="M469.1 207.6h0"/><g class="c29" fill-opacity=".6" stroke-opacity=".6"><use href="#k" x="347.8" y="265.4"/><use href="#k" x="332.6" y="268"/><use href="#k" x="337.6" y="267.2"/></g><path class="c17" opacity=".60" d="M494.4 247.7h0M489.5 249.4h0"/><path class="c17" opacity=".60" d="M494.1 246.1h0"/><path class="c23" opacity=".60" d="M449.3 252.6h0M453.5 252.8h0M456.2 253.1h0M446.5 253.9h0M451.8 254.8h0"/><path class="c23" opacity=".60" d="M451.5 253.3h0M448.1 253.8h0M455.3 253.5h0M444.5 253.9h0"/><path class="c23" opacity=".60" d="M453.1 253.7h0M450.5 253.3h0M456.4 253.5h0"/><path class="c23" opacity=".60" d="M449.3 253.8h0M453.2 253.8h0"/><path class="c23" opacity=".60" d="M455.1 253.6h0M450.3 253.6h0"/><path class="c23" opacity=".94" d="M452.6 253.9h0M449.3 253.5h0M451.5 254.1h0M453.5 254.6h0M453.5 253.7h0M450.5 254.8h0"/><g class="c28" fill-opacity=".6" stroke-opacity=".6"><use href="#k" x="291" y="268"/></g><path class="c28" opacity=".60" d="M373.4 262.8h0M370.8 263.6h0"/><path class="c5" opacity=".60" d="M462.3 203.8h0M466.5 206h0"/><path class="c5" opacity=".60" d="M462.3 202.6h0M465.2 205.5h0M467.5 206.8h0"/><path class="c5" opacity=".60" d="M463.2 203.6h0"/><path class="c5" opacity=".60" d="M464.8 205.2h0"/><path class="c5" opacity=".60" d="M464.2 204.2h0"/><path class="c5" opacity=".94" d="M463.6 203.5h0"/><path class="c26" opacity=".60" d="M395.6 259.8h0M405 258.9h0M393 260h0M402.1 259.8h0M407.6 259.7h0"/><path class="c26" opacity=".60" d="M403.3 259.1h0M400.1 260.6h0"/><path class="c22" opacity=".60" d="M460.9 252.5h0M458.1 252.6h0M455.3 252.6h0M463.7 252.8h0"/><path class="c22" opacity=".60" d="M459.7 252.4h0M454.8 252.7h0M462.2 252.9h0"/><path class="c22" opacity=".60" d="M457.9 252.9h0"/><path class="c22" opacity=".60" d="M458.1 252.8h0"/><path class="c22" opacity=".60" d="M458.5 253h0"/><path class="c22" opacity=".94" d="M459.2 252.8h0M460.2 252.9h0M456.4 253.3h0M459.7 252.6h0M457.2 253h0M459.4 253.9h0M458.6 253.7h0"/><path class="c25" opacity=".60" d="M422.5 257.9h0M408.7 258.5h0M427.6 257.1h0M412 258.2h0M418.8 257.5h0M416.5 258.3h0"/><path class="c25" opacity=".60" d="M410.3 258.3h0M417.3 257.5h0M422.6 257.5h0M412.9 259.3h0"/><path class="c25" opacity=".60" d="M409.3 259.1h0M419.6 257.5h0M415.2 258.7h0"/><path class="c25" opacity=".60" d="M418.4 258.2h0"/><path class="c20" opacity=".60" d="M468.9 251.9h0M472.5 251.9h0"/><path class="c20" opacity=".60" d="M468 251.3h0M470.6 251h0"/><path class="c20" opacity=".60" d="M469.6 251.5h0"/><path class="c20" opacity=".60" d="M467.6 251.9h0M471.8 251.1h0"/><path class="c20" opacity=".60" d="M471 252.5h0"/><path class="c13" opacity=".60" d="M486.2 232.3h0M488.3 234.5h0"/><path class="c11" opacity=".60" d="M484.1 228.2h0"/><path class="c11" opacity=".60" d="M484.1 226.9h0"/><path class="c8" opacity=".60" d="M476.1 217.8h0M473.7 214.5h0"/><path class="c8" opacity=".60" d="M476 216.7h0"/><path class="c8" opacity=".60" d="M477.5 217.8h0M475.1 214.6h0"/><path class="c8" opacity=".60" d="M477.2 217.3h0"/><path class="c8" opacity=".60" d="M475.8 216.1h0"/><path class="c7" opacity=".60" d="M469.4 209.9h0M471.8 212h0"/><path class="c7" opacity=".60" d="M470.4 210.7h0M473.8 213.5h0"/><path class="c7" opacity=".60" d="M472.4 210.8h0"/><path class="c7" opacity=".60" d="M473.2 212.4h0"/><path class="c16" opacity=".60" d="M491.7 242.3h0M494.4 244.6h0"/><path class="c24" opacity=".60" d="M420.1 256.4h0M443.6 254h0M446.3 254.2h0M434.4 255.7h0M440.2 254.6h0M429.3 256.7h0M437.6 254.6h0M424.8 256.8h0M451.1 254.6h0M432 256.8h0"/><path class="c24" opacity=".60" d="M443.9 254.4h0M447.5 254.3h0M436.1 255.1h0M440.9 254.6h0M430.2 255.9h0M426.6 256.7h0M420.5 257h0M433.1 255.9h0"/><path class="c24" opacity=".60" d="M435.9 255.8h0M446.8 254.1h0M440.8 254.8h0M431.9 255.6h0M424.3 256.6h0M443.7 255h0M427.8 256.9h0M449.7 254.8h0M438.5 255.8h0"/><path class="c24" opacity=".60" d="M437.2 255.4h0M434.4 255.6h0M442.4 255h0M445 254.2h0M447.8 255.1h0M430.2 256.4h0M425.6 256.9h0"/><path class="c24" opacity=".60" d="M439.3 255.1h0M445.7 254.3h0M442.6 255h0M435.3 256.4h0M426.8 257.3h0M448.7 255h0"/><path class="c24" opacity=".94" d="M447.5 254.8h0M441.5 254.5h0M439.3 255.4h0M440.4 255.1h0M445.3 254.5h0M441.7 255.3h0M445.7 255.2h0M447 255.3h0M446.7 254.9h0M444.9 255.4h0M441.1 255.7h0M438.5 255.8h0"/><path class="c4" opacity=".60" d="M456.6 199.1h0M459 200.1h0M461.1 201.9h0"/><path class="c4" opacity=".60" d="M457.7 199.2h0M460.6 201.3h0M462.7 203h0"/><path class="c4" opacity=".60" d="M457.5 199.8h0M460.1 200.4h0M462.2 202.3h0"/><path class="c4" opacity=".60" d="M459.2 199.6h0M461 201.6h0"/><path class="c4" opacity=".60" d="M457.6 198.7h0M459.3 201.1h0M462.4 201.9h0"/><path class="c4" opacity=".94" d="M459.1 199.7h0M459.7 199.9h0M458.1 199h0M458.6 199.5h0M458.6 199h0M461 201.1h0M461 200.9h0M459.8 199.6h0M460.1 200.8h0M460.3 199.7h0M462.1 201.7h0M461.6 200.8h0"/><path class="c10" opacity=".60" d="M480.2 222h0M482.2 224.4h0"/><path class="c10" opacity=".60" d="M481.4 222.9h0"/><path class="c3" opacity=".60" d="M452.9 195.7h0M455.9 198.1h0M450.1 194.8h0M459.3 199.4h0"/><path class="c3" opacity=".60" d="M453.8 196.8h0M457.4 198h0M451.6 195h0"/><path class="c3" opacity=".60" d="M454.9 196.8h0M452.6 194.8h0M457.7 198.8h0"/><path class="c3" opacity=".60" d="M455 197.1h0M458.1 198.1h0"/><path class="c3" opacity=".60" d="M456.3 198.4h0M454 196.2h0"/><path class="c3" opacity=".94" d="M456.4 197.5h0M455.8 197.7h0M452.9 195.9h0M454.1 196.3h0M455.8 197.4h0M454.4 196.2h0M457.1 197.6h0M456 197.7h0M453.4 195.3h0M456.6 197h0M455.4 197.9h0M453.5 195.5h0M457.3 197.4h0"/><g class="c27" fill-opacity=".6" stroke-opacity=".6"><use href="#k" x="291.1" y="265.1"/></g><path class="c27" opacity=".60" d="M376.2 261.4h0M390.9 260.5h0M385.8 261.9h0"/><path class="c27" opacity=".60" d="M388.8 261.1h0"/><path class="c21" opacity=".60" d="M466 251.8h0M462.8 252.4h0"/><path class="c21" opacity=".60" d="M463.5 252.5h0M467.8 252.2h0"/><path class="c21" opacity=".60" d="M463.6 253.2h0"/><path class="c21" opacity=".60" d="M464.6 252.5h0"/><path class="c21" opacity=".60" d="M465.7 251.8h0"/><path class="c14" opacity=".60" d="M489.2 235.5h0"/><path class="c18" opacity=".60" d="M487.5 249.5h0M482.7 250.3h0M490.4 249.4h0M478.3 250.3h0M493.6 249.2h0"/><path class="c18" opacity=".60" d="M481.9 250.1h0M479.3 250.5h0M485.7 249.7h0M495.8 249.4h0"/><path class="c18" opacity=".60" d="M484.3 250.4h0M481.1 250.7h0M487.3 250.1h0"/><path class="c2" opacity=".60" d="M449.6 193.6h0M452.2 194.1h0"/><path class="c2" opacity=".60" d="M451.1 194.2h0"/><path class="c2" opacity=".60" d="M451.2 193.9h0"/><path class="c2" opacity=".60" d="M450.6 194.4h0M453.3 194h0"/><path class="c2" opacity=".60" d="M452 194.4h0"/><path class="c2" opacity=".94" d="M451.5 194.3h0M452.8 194.5h0"/><path class="c12" opacity=".60" d="M486.4 231h0"/><path class="c12" opacity=".60" d="M486.4 229.8h0"/><path class="c15" opacity=".60" d="M491.4 240.8h0"/><path class="c15" opacity=".60" d="M490.8 239.4h0"/><path class="c11" opacity=".60" d="M486.4 227.8h0"/><path class="c11" opacity=".60" d="M486 226.6h0"/><path class="c9" opacity=".60" d="M479.3 219.1h0M481.3 221.6h0"/><path class="c9" opacity=".60" d="M480.9 219.4h0"/><path class="c9" opacity=".60" d="M480.8 219.4h0"/><path class="c16" opacity=".60" d="M493.7 242.5h0"/><path class="c6" opacity=".60" d="M471.4 210h0M469.5 208.1h0"/><path class="c6" opacity=".60" d="M470.2 209.1h0M472.5 210.4h0"/><path class="c6" opacity=".60" d="M471.6 208.8h0"/><path class="c6" opacity=".60" d="M471.9 209.6h0"/><path class="c6" opacity=".60" d="M470.7 208.7h0"/><path class="c17" opacity=".60" d="M488.5 249.8h0M496.2 247.8h0"/><path class="c17" opacity=".60" d="M490.8 250.2h0"/><path class="c20" opacity=".60" d="M468 252.6h0M472.2 252h0"/><path class="c20" opacity=".60" d="M470.1 252.3h0"/><path class="c20" opacity=".60" d="M471.4 253.1h0"/><path class="c10" opacity=".60" d="M484.1 225.2h0"/><path class="c10" opacity=".60" d="M483 224.4h0"/><path class="c10" opacity=".60" d="M483.1 223.1h0"/><path class="c21" opacity=".60" d="M462 252.7h0M465.7 253.5h0M468.5 252.9h0"/><path class="c21" opacity=".60" d="M466.6 252.6h0M462.5 253.1h0"/><path class="c21" opacity=".60" d="M464.6 253.5h0M468.7 253.8h0"/><path class="c21" opacity=".60" d="M466.9 253h0"/><path class="c21" opacity=".60" d="M466.6 253.2h0"/><path class="c21" opacity=".94" d="M466.8 253.7h0M465.2 254h0M468.6 254.1h0"/><path class="c22" opacity=".60" d="M461.1 253.4h0M457.8 253.8h0"/><path class="c22" opacity=".60" d="M461.6 253.2h0M459.1 254.1h0"/><path class="c22" opacity=".60" d="M461.6 253.9h0M457.9 254.2h0"/><path class="c22" opacity=".60" d="M459.9 254.2h0M462.8 254h0M457.2 254.5h0"/><path class="c22" opacity=".60" d="M460.5 254.3h0"/><path class="c22" opacity=".94" d="M462.3 254h0"/><path class="c5" opacity=".60" d="M465.7 205h0M469.4 207.2h0"/><path class="c5" opacity=".60" d="M465.2 203.9h0M467.3 205.4h0M469.4 206.9h0"/><path class="c5" opacity=".60" d="M465.8 205.4h0M468.2 206.2h0"/><path class="c5" opacity=".60" d="M466.5 204.5h0M468.8 205.9h0"/><path class="c5" opacity=".60" d="M467.8 206.6h0M465.5 204.4h0"/><path class="c5" opacity=".94" d="M467.2 205.4h0M467.7 205.4h0M467 204.8h0"/><path class="c19" opacity=".60" d="M474 251.9h0M476.6 251h0M480.1 251.7h0"/><path class="c19" opacity=".60" d="M477.1 251.3h0M473.6 252.3h0"/><path class="c19" opacity=".60" d="M475.2 252.2h0M477.9 252.4h0"/><path class="c19" opacity=".60" d="M476.3 252.3h0"/><path class="c19" opacity=".60" d="M475.8 252.9h0"/><path class="c3" opacity=".60" d="M456.5 197.3h0M459 199.6h0M453.8 195.3h0M461.6 200.1h0"/><path class="c3" opacity=".60" d="M454.6 196h0M458.3 198.5h0M460.5 199.9h0"/><path class="c3" opacity=".60" d="M454.6 195.9h0M457.3 198.1h0M460.4 199.5h0"/><path class="c3" opacity=".60" d="M455.3 196.5h0M458 198.3h0M462 200.6h0"/><path class="c3" opacity=".60" d="M455 195.9h0M459.2 198.9h0"/><path class="c3" opacity=".94" d="M454.4 195.9h0M456.6 196h0M454.6 196.6h0M456.1 196.5h0M456.3 195.8h0M456.5 197.3h0M458.1 198.1h0M456.4 197.7h0M458.6 197.8h0M458.1 197.3h0M459.3 198.7h0M458.3 196.9h0M457.5 197.1h0M457.9 197.2h0M461.2 199.7h0M460.2 199.1h0M459 197.1h0M460.3 198.8h0M460.5 198.7h0"/><path class="c8" opacity=".60" d="M476.9 215.3h0"/><path class="c8" opacity=".60" d="M478.2 216.6h0"/><path class="c8" opacity=".60" d="M478.3 216.4h0"/><path class="c24" opacity=".60" d="M436.9 256.4h0M443.5 255.4h0M450.9 255.1h0M429.6 256.7h0M433.4 256.7h0M423.8 257.8h0M440.7 256.1h0M447.4 255.3h0"/><path class="c24" opacity=".60" d="M436.2 256.2h0M443.5 256h0M448.9 255.3h0M439.2 256h0M430.3 257.6h0M446 255.4h0M433.4 257.2h0M451.7 255.9h0"/><path class="c24" opacity=".60" d="M442.7 255.2h0M449 255.1h0M439.2 256.5h0M435.1 257h0M445.7 256.2h0M428.5 257.5h0M431.1 257.7h0"/><path class="c24" opacity=".60" d="M441.3 255.6h0M444.1 255.7h0M436 256.7h0M449.8 255.5h0M431.8 257.3h0M429.2 257.6h0M438.5 257.2h0"/><path class="c24" opacity=".60" d="M435.9 256.1h0M441.2 256.3h0M446 256.4h0M450.2 255.7h0"/><path class="c24" opacity=".94" d="M438.1 256.4h0M442.1 256.2h0M435 257.4h0M444.2 255.6h0M448 255.6h0M433.9 257.3h0M437.4 256.9h0M445.4 256.3h0M440.1 256.9h0M449.6 255.8h0M435.8 257.4h0M444.8 256.5h0M441.8 256.5h0"/><path class="c18" opacity=".60" d="M482 251.1h0M492.8 249.6h0M478.5 251.2h0M490.1 250.4h0M485.6 251.3h0"/><path class="c18" opacity=".60" d="M482.9 251.8h0M492.7 250.8h0"/><path class="c18" opacity=".60" d="M480.7 251.3h0M484.1 251.1h0"/><path class="c18" opacity=".60" d="M481.7 251.7h0"/><path class="c23" opacity=".60" d="M454.9 253.7h0M445.6 254.6h0M449.8 254.8h0M459.4 254.9h0"/><path class="c23" opacity=".60" d="M454.6 254.4h0M452 254.8h0M459.1 255.2h0M445.9 255.2h0"/><path class="c23" opacity=".60" d="M456.2 254.1h0M453.1 254.5h0"/><path class="c23" opacity=".60" d="M455.2 253.9h0M451.2 255.4h0"/><path class="c23" opacity=".60" d="M452.9 254.5h0M456.3 254.7h0"/><path class="c23" opacity=".94" d="M454.7 254.9h0M451.2 255h0M455.2 255h0M454.2 254.6h0"/><path class="c26" opacity=".60" d="M398 260.7h0M406.1 260.5h0M402.7 260.9h0"/><path class="c26" opacity=".60" d="M404.5 260.5h0M396.2 260.9h0M408.1 261.1h0M400.2 261.5h0"/><path class="c27" opacity=".60" d="M383.9 262.3h0M393.9 262.3h0"/><path class="c27" opacity=".60" d="M392 262.7h0"/><g class="c25" fill-opacity=".6" stroke-opacity=".6"><use href="#k" x="290.7" y="262.4"/></g><path class="c25" opacity=".60" d="M432.9 257.2h0M411.8 259.5h0M420.1 258.8h0M416.7 258.3h0M423.4 258.6h0M428.1 258.4h0"/><path class="c25" opacity=".60" d="M431.7 257.9h0M421.5 258.1h0M418.9 258.6h0M409.7 259.9h0M415.6 259.6h0M426 258.5h0"/><path class="c25" opacity=".60" d="M414 260h0M421.6 259.2h0M424.2 259.4h0M417.7 259.7h0"/><path class="c25" opacity=".60" d="M420.6 259.3h0M425.6 258.7h0"/><path class="c25" opacity=".60" d="M425.8 258.7h0"/><path class="c4" opacity=".60" d="M463.1 202.8h0M461.4 200.4h0M466.2 204.2h0"/><path class="c4" opacity=".60" d="M464.5 203.4h0M462.6 201.6h0"/><path class="c4" opacity=".60" d="M463.3 202.5h0M465.9 203.9h0"/><path class="c4" opacity=".60" d="M464.7 203.9h0M463.2 201.1h0"/><path class="c4" opacity=".60" d="M462.9 202h0M465.4 203.4h0"/><path class="c4" opacity=".94" d="M461.9 200.6h0M464.2 201.1h0M464.3 202.5h0M464 203.2h0M465.2 203.1h0"/><g class="c29" fill-opacity=".6" stroke-opacity=".6"><use href="#k" x="320.2" y="270.5"/><use href="#k" x="327.1" y="269.8"/><use href="#k" x="351.8" y="267.7"/><use href="#k" x="306.4" y="273.4"/></g><path class="c14" opacity=".60" d="M491.1 238h0"/><path class="c14" opacity=".60" d="M491.1 235.8h0"/><path class="c7" opacity=".60" d="M473.8 212.8h0M476.2 215h0"/><path class="c7" opacity=".60" d="M473.2 211h0M475.1 213.3h0"/><path class="c7" opacity=".60" d="M474.1 211.5h0M475.9 213.8h0"/><path class="c7" opacity=".60" d="M475.2 212.9h0"/><g class="c28" fill-opacity=".6" stroke-opacity=".6"><use href="#k" x="356.4" y="266.3"/></g><path class="c28" opacity=".60" d="M367.1 264.5h0M360.2 266h0M381.4 263.6h0M363.7 264.4h0M378.4 263.7h0M375.9 264.8h0"/><path class="c2" opacity=".60" d="M453.2 194.9h0M456.1 195.4h0"/><path class="c2" opacity=".60" d="M453.4 195.2h0M456.1 195.9h0"/><path class="c2" opacity=".60" d="M452.8 194.2h0M454.9 195.6h0"/><path class="c2" opacity=".60" d="M453.1 194.7h0M456.8 196.4h0"/><path class="c2" opacity=".60" d="M454 194.8h0M457 196.7h0"/><path class="c2" opacity=".94" d="M454 195.3h0M455.4 194.7h0M454.5 194.8h0M454.7 195.4h0M455.4 196h0"/><path class="c12" opacity=".60" d="M487.9 232.1h0"/><path class="c12" opacity=".60" d="M487.8 229.8h0"/><path class="c12" opacity=".60" d="M487.8 230.5h0"/><path class="c15" opacity=".60" d="M493 241.4h0"/><path class="c17" opacity=".61" d="M496.1 247h0"/><path class="c13" opacity=".61" d="M491 234.8h0"/><path class="c13" opacity=".61" d="M490.1 233.6h0"/><g class="c30" fill-opacity=".6" stroke-opacity=".6"><use href="#k" x="298.6" y="275"/></g><path class="c23" opacity=".61" d="M456 255.7h0M452.3 255.8h0M449.7 256h0"/><path class="c23" opacity=".61" d="M457.9 255.3h0M454.9 255.6h0M452.2 255.8h0"/><path class="c23" opacity=".61" d="M455.5 255.7h0M458 256.4h0M452.8 256.3h0"/><path class="c23" opacity=".61" d="M454.9 255h0M452.3 256.5h0"/><path class="c23" opacity=".61" d="M453.3 255.2h0M456 256.2h0"/><path class="c23" opacity=".94" d="M454.2 256.5h0"/><path class="c21" opacity=".61" d="M464.2 253.6h0M469.6 254.2h0M467 254.9h0"/><path class="c21" opacity=".61" d="M464.5 254.3h0M468 255.1h0"/><path class="c21" opacity=".61" d="M466.4 254.6h0M462.9 254.2h0M469 254.4h0"/><path class="c21" opacity=".61" d="M465.4 254.9h0"/><path class="c21" opacity=".61" d="M466.7 255.1h0"/><path class="c8" opacity=".61" d="M480.2 218.3h0"/><path class="c8" opacity=".61" d="M479.2 217.3h0M482 219.4h0"/><path class="c28" opacity=".61" d="M372.5 264.9h0M386.9 263.9h0M369.2 266.4h0M365.9 267.1h0"/><path class="c28" opacity=".61" d="M384.7 264h0"/><path class="c24" opacity=".61" d="M449.6 256.1h0M436.7 257.7h0M443.3 255.9h0M445.7 256.9h0M440.6 257.2h0M428.4 258.3h0M433.9 258.1h0M454.3 257.2h0M431 258.6h0"/><path class="c24" opacity=".61" d="M447.1 256.1h0M443.6 256.5h0M451.8 256.4h0M437.5 257.5h0M440.1 258h0M429.9 258.4h0"/><path class="c24" opacity=".61" d="M445 256.5h0M442.3 257.5h0M439.4 257.5h0M448.4 256.9h0M451 256.7h0M431.9 258.5h0"/><path class="c24" opacity=".61" d="M447.4 257h0M439.2 257.6h0M444 257h0M450.3 257.1h0"/><path class="c24" opacity=".61" d="M444 257.7h0M446.9 256.9h0M440.8 258.1h0M437.5 258.4h0M449.6 257.3h0"/><path class="c24" opacity=".94" d="M445.7 257.4h0M449.1 256.5h0M446.3 257.3h0M448.3 257.4h0"/><path class="c5" opacity=".61" d="M470.5 207.6h0M468.3 205.5h0M473.9 209.5h0"/><path class="c5" opacity=".61" d="M470.6 207.3h0"/><path class="c5" opacity=".61" d="M471.3 208h0M469.7 205.6h0"/><path class="c5" opacity=".61" d="M471.7 208.5h0"/><path class="c5" opacity=".61" d="M471.3 207.1h0"/><path class="c5" opacity=".94" d="M471 206.7h0"/><path class="c9" opacity=".61" d="M482.5 221.8h0"/><path class="c9" opacity=".61" d="M482.9 221.1h0"/><path class="c9" opacity=".61" d="M484.4 222.5h0"/><path class="c19" opacity=".61" d="M474.4 252.7h0M478.8 252.5h0M481.4 253h0"/><path class="c19" opacity=".61" d="M477.5 253.3h0M481.8 253.4h0"/><path class="c19" opacity=".61" d="M475.9 252.9h0M478.5 253.7h0"/><path class="c10" opacity=".61" d="M485.6 225.3h0"/><path class="c10" opacity=".61" d="M484.6 223.8h0M486.8 226.9h0"/><path class="c14" opacity=".61" d="M492.3 239.6h0"/><path class="c14" opacity=".61" d="M492.9 237.7h0"/><path class="c4" opacity=".61" d="M464 201.3h0M466.4 203.2h0M468.7 204.9h0"/><path class="c4" opacity=".61" d="M464.9 202.5h0M467.1 204.1h0M469.9 205.1h0"/><path class="c4" opacity=".61" d="M466.2 203.1h0M463.9 201.6h0M469.2 205.3h0"/><path class="c4" opacity=".61" d="M465.5 202.4h0M467.9 204h0"/><path class="c4" opacity=".61" d="M464.8 201.6h0M467.1 203.5h0"/><path class="c4" opacity=".94" d="M466.8 202.6h0M467.7 203.9h0M466.4 202.5h0M468.9 204.3h0"/><path class="c27" opacity=".61" d="M389 263.7h0M396.8 262.7h0M399.8 263.3h0"/><path class="c27" opacity=".61" d="M395.1 263.7h0"/><path class="c3" opacity=".61" d="M461.3 199.2h0M458.5 198.1h0M463.4 200.9h0M465.9 201.7h0"/><path class="c3" opacity=".61" d="M460.2 198.8h0M462.8 199.8h0M465.6 201.4h0"/><path class="c3" opacity=".61" d="M459.2 197.8h0M463.3 201.1h0M461.3 199.2h0"/><path class="c3" opacity=".61" d="M460.9 198.8h0M463.4 200.1h0"/><path class="c3" opacity=".61" d="M459.9 197.3h0M461.2 199.7h0M464.4 201.7h0"/><path class="c3" opacity=".94" d="M462 199.8h0M460.5 198.6h0M461.4 198.4h0M463.5 200.6h0M462.4 199.4h0M463.5 201.1h0M464.1 201.1h0M462 198.1h0M462.5 199.1h0M464.8 200.4h0M463 199.4h0M463.7 200.4h0M462.3 199.3h0"/><path class="c6" opacity=".61" d="M473.8 211h0"/><path class="c6" opacity=".61" d="M475.1 211.6h0M473.2 209.5h0"/><path class="c6" opacity=".61" d="M472.6 209.3h0M474.7 211.1h0"/><path class="c6" opacity=".61" d="M474.2 210.4h0"/><path class="c18" opacity=".61" d="M494.1 250.8h0M486.7 251.8h0M480.1 252.1h0M489.7 251.8h0M482.8 252.4h0M498.4 250.8h0"/><path class="c18" opacity=".61" d="M485 252.5h0M495.7 250.7h0M489.1 251.6h0M492.7 251.8h0"/><path class="c18" opacity=".61" d="M491.6 252h0M497 250.9h0M486.4 252.6h0"/><path class="c18" opacity=".61" d="M487 252.9h0"/><path class="c25" opacity=".61" d="M412.2 260.4h0M432.4 258.5h0M435.1 258.3h0M416.4 260.1h0M442.5 258.2h0M422.7 259.9h0M425.5 259.4h0M419.7 260.1h0M429.1 259.4h0"/><path class="c25" opacity=".61" d="M427.2 259.1h0M436.4 258.5h0M421.5 260.1h0M440.7 258.5h0M414.4 260.3h0M417.8 260.9h0M424.7 259.9h0M432.6 259.3h0"/><path class="c25" opacity=".61" d="M435.2 258.6h0M423.2 260.7h0M426.6 259.2h0"/><path class="c25" opacity=".61" d="M436 258.7h0M422.1 260.6h0"/><path class="c11" opacity=".61" d="M487.2 227.8h0"/><path class="c2" opacity=".61" d="M456.3 195.7h0M459.3 196.4h0"/><path class="c2" opacity=".61" d="M455.5 194.8h0M458.1 196.6h0M460.5 197.7h0"/><path class="c2" opacity=".61" d="M454.9 195.2h0M457.3 196.2h0M459.7 197.5h0"/><path class="c2" opacity=".61" d="M455.9 195.7h0M458.6 196.7h0M461.1 197.8h0"/><path class="c2" opacity=".61" d="M457.2 195.9h0M459.7 196.7h0"/><path class="c2" opacity=".94" d="M457.4 195.9h0M456.1 194.9h0M456.5 195.8h0M457.9 196.1h0M457.9 196.7h0M456.7 195.4h0M457.4 196.3h0M458.6 196.8h0M458.7 195h0M458 195.5h0M460.3 197.6h0M456.5 195.4h0M457.3 195.7h0M456.9 196.1h0M459.3 196.3h0M459.2 196.4h0M457.6 195.4h0M457.8 196.1h0M459.9 197.5h0M460.3 197.3h0M460.1 197.3h0M459.2 196.4h0M460.6 197h0M459.2 196.5h0"/><path class="c20" opacity=".61" d="M472.1 253.4h0M469.3 253.9h0M475.1 254.3h0"/><path class="c20" opacity=".61" d="M473.3 253.8h0M470.7 254.7h0"/><path class="c20" opacity=".61" d="M472.9 253.6h0"/><path class="c20" opacity=".61" d="M471.2 253.9h0"/><path class="c20" opacity=".61" d="M472 253.8h0"/><path class="c20" opacity=".94" d="M472.7 254.8h0"/><g class="c29" fill-opacity=".6" stroke-opacity=".6"><use href="#k" x="346.8" y="268.6"/><use href="#k" x="289.4" y="275.8"/><use href="#k" x="338.3" y="270.1"/><use href="#k" x="343.6" y="269.4"/></g><path class="c16" opacity=".61" d="M495.9 245.2h0"/><path class="c16" opacity=".61" d="M495.2 243.9h0"/><path class="c26" opacity=".61" d="M399.2 262h0M406.5 260.9h0M411.4 261h0M403.8 262.5h0M414 261.5h0"/><path class="c26" opacity=".61" d="M405.7 261.6h0M409 261.4h0M401.7 262.5h0M411.8 261.7h0"/><path class="c26" opacity=".61" d="M408.5 262.1h0"/><path class="c7" opacity=".61" d="M478 215.3h0M476.7 213h0"/><path class="c7" opacity=".61" d="M477 213.5h0M478.9 215.2h0"/><path class="c7" opacity=".61" d="M476.9 214.4h0M479.1 215.9h0"/><path class="c22" opacity=".61" d="M461.3 254.7h0M463.8 256h0M457.1 255.4h0"/><path class="c22" opacity=".61" d="M460.3 255.1h0M464.3 255.7h0"/><path class="c22" opacity=".61" d="M461.6 254.5h0M459.1 255h0M464.8 256.3h0"/><path class="c22" opacity=".61" d="M460.8 255.1h0M463.3 255.7h0"/><path class="c22" opacity=".61" d="M462.3 254.9h0M459.9 255.5h0"/><path class="c12" opacity=".61" d="M489.8 231.4h0"/><path class="c13" opacity=".61" d="M492.7 235.8h0"/><path class="c13" opacity=".61" d="M492.3 234.9h0"/><path class="c17" opacity=".61" d="M498.1 248.9h0"/><path class="c17" opacity=".61" d="M498.4 247.4h0"/><path class="c11" opacity=".61" d="M488.7 230h0"/><path class="c11" opacity=".61" d="M488.6 229.1h0"/><path class="c15" opacity=".61" d="M495.8 242.4h0"/><path class="c15" opacity=".61" d="M495.3 240.4h0"/><path class="c19" opacity=".61" d="M483.4 254h0M480.1 253.9h0M476.2 254.4h0"/><path class="c19" opacity=".61" d="M481.9 254.2h0M477.4 254.9h0"/><path class="c19" opacity=".61" d="M481.2 254.4h0M478 255.7h0"/><path class="c19" opacity=".61" d="M479.4 255.2h0"/><path class="c27" opacity=".61" d="M392.3 264.5h0M398.2 264.7h0M402.8 264.1h0"/><path class="c27" opacity=".61" d="M390.6 264.6h0M396.5 264.3h0"/><path class="c6" opacity=".61" d="M476.1 211.7h0"/><path class="c6" opacity=".61" d="M477.9 212.9h0M476.2 210.5h0"/><path class="c6" opacity=".61" d="M477.3 212.5h0"/><path class="c6" opacity=".61" d="M476.8 211.7h0"/><path class="c25" opacity=".61" d="M420.1 260.8h0M428.7 260.1h0M432.1 259.6h0M425.1 260.2h0M436.8 259h0M440.9 259h0M414.4 261.6h0M438.8 260.9h0"/><path class="c25" opacity=".61" d="M427.9 260h0M417.7 260.8h0M437.9 259.1h0M432.8 260.1h0M423.9 261.4h0M420.8 261.6h0M430.5 261.4h0"/><path class="c25" opacity=".61" d="M430.2 259.5h0M426.9 260.3h0M435.1 259.4h0M418.6 260.8h0M437.6 260.5h0M432.4 261h0"/><path class="c25" opacity=".61" d="M434 259.6h0M430.9 260.9h0M428.4 260.7h0M420 261.8h0"/><path class="c25" opacity=".61" d="M435.7 259.3h0M426.3 261.5h0M433.3 260.7h0"/><path class="c23" opacity=".61" d="M455.8 256.5h0M459.3 256.4h0M453.3 257.4h0"/><path class="c23" opacity=".61" d="M456.7 256.7h0M453.4 256.3h0M459.1 258.3h0"/><path class="c23" opacity=".61" d="M457.8 256.4h0M454.3 256.9h0M451.3 257.7h0"/><path class="c23" opacity=".61" d="M455.7 256.7h0M458.5 257.6h0"/><path class="c23" opacity=".61" d="M458 257.1h0M454.5 258.2h0"/><path class="c23" opacity=".94" d="M457.4 257h0M456.2 258h0M457.7 258.1h0M456.2 258.2h0"/><path class="c24" opacity=".61" d="M443.4 258.3h0M451.1 257.2h0M447.2 257.9h0M439.6 258.1h0M433.9 259h0M454 258.3h0"/><path class="c24" opacity=".61" d="M441.5 258h0M445.2 257.9h0M452.1 257.3h0M449 257.5h0M439.2 259.1h0"/><path class="c24" opacity=".61" d="M443.6 258.4h0M439.1 258.1h0M448 257.9h0M452.7 258h0M445.8 259.8h0"/><path class="c24" opacity=".61" d="M441.2 258.9h0M447 258.4h0M450.7 258.1h0M444.2 259.6h0"/><path class="c24" opacity=".61" d="M445.9 258.2h0M442.9 258.1h0M439.6 259.2h0M448.8 258.1h0M451.7 258.3h0"/><path class="c24" opacity=".94" d="M447.5 257.9h0M444.6 259.1h0M445.8 258.3h0M443.5 259.2h0M448 259h0M443.2 259.1h0M447.1 258.2h0M453 258.5h0M450.5 258.9h0M444.3 259.6h0M449.6 259.1h0M441.6 259.7h0"/><path class="c8" opacity=".61" d="M481.4 218.6h0"/><path class="c8" opacity=".61" d="M481.1 217h0"/><path class="c8" opacity=".61" d="M482.6 218.7h0"/><path class="c8" opacity=".61" d="M482.3 217.9h0"/><path class="c5" opacity=".61" d="M472.8 208.4h0M474.9 209.9h0"/><path class="c5" opacity=".61" d="M472.7 207.6h0M474.3 209.5h0"/><path class="c5" opacity=".61" d="M473.7 208.9h0"/><path class="c5" opacity=".61" d="M473.4 208.2h0"/><path class="c5" opacity=".61" d="M473 207.6h0"/><path class="c5" opacity=".94" d="M474.6 208.1h0"/><path class="c21" opacity=".61" d="M468.8 254.9h0M465.9 256.1h0M471.1 256.3h0"/><path class="c21" opacity=".61" d="M467 255.8h0M469.6 255.4h0"/><path class="c21" opacity=".61" d="M467.7 255.8h0"/><path class="c21" opacity=".61" d="M469.6 255.9h0M466.9 256.5h0"/><path class="c4" opacity=".61" d="M468.6 203.7h0M470.9 205.9h0"/><path class="c4" opacity=".61" d="M467.6 203.5h0M471.4 206.8h0M470.2 204.5h0"/><path class="c4" opacity=".61" d="M470.4 205.8h0"/><path class="c4" opacity=".61" d="M471.6 206.2h0M470 203.4h0"/><path class="c4" opacity=".61" d="M470.8 205.2h0"/><path class="c4" opacity=".94" d="M472.3 206.6h0M471.1 205.5h0M472.3 205.8h0"/><path class="c9" opacity=".61" d="M483.7 221.3h0"/><path class="c9" opacity=".61" d="M483.5 221.1h0M485.6 222.6h0"/><path class="c9" opacity=".61" d="M484.9 221.9h0"/><path class="c20" opacity=".61" d="M472.6 255.8h0M475.2 255.6h0"/><path class="c20" opacity=".61" d="M472.4 255.5h0M475.4 255.5h0"/><path class="c20" opacity=".61" d="M474.2 254.4h0M472.1 256.3h0"/><path class="c20" opacity=".61" d="M473.8 256.2h0"/><path class="c22" opacity=".61" d="M460.4 256.3h0M464.6 256.9h0"/><path class="c22" opacity=".61" d="M458.9 255.9h0M462.1 255.9h0M465.2 256.8h0"/><path class="c22" opacity=".61" d="M462.3 256.2h0M466 256.9h0"/><path class="c22" opacity=".61" d="M460.6 257.2h0M463.2 256.3h0"/><path class="c22" opacity=".61" d="M460.6 257h0"/><path class="c22" opacity=".94" d="M460.2 256.9h0M461.5 257.6h0"/><path class="c2" opacity=".61" d="M461.4 197.7h0M458.3 195.6h0M463.9 198.8h0"/><path class="c2" opacity=".61" d="M461.3 198h0M459.3 195.6h0M464.1 199.2h0"/><path class="c2" opacity=".61" d="M460.7 198.1h0M463.2 198.6h0M465.7 199.7h0"/><path class="c2" opacity=".61" d="M462.5 198.2h0M460 196.4h0M465.1 199h0"/><path class="c2" opacity=".61" d="M463.4 198.5h0M460.6 196.9h0"/><path class="c2" opacity=".94" d="M459.7 197.1h0M462.2 198.5h0M462.3 198.2h0M461.6 197.1h0M459.4 196.6h0M461.2 197h0M462.1 197.8h0M462.4 198h0M460.6 196.2h0M460.8 196.7h0M461.7 197h0M463.5 198.3h0M463.3 198.2h0M462.6 197.8h0M462.1 196.9h0M462.1 197.2h0M460.6 196.6h0M464.7 199.6h0M464.2 198.5h0M463.3 197.8h0M464.1 199.1h0"/><path class="c3" opacity=".61" d="M464.7 200.9h0M467.3 202.5h0"/><path class="c3" opacity=".61" d="M466.6 201.6h0M464 199.5h0M469.4 203.4h0"/><path class="c3" opacity=".61" d="M467.5 202.9h0M464.9 200.5h0"/><path class="c3" opacity=".61" d="M466.6 201.9h0M469.1 203.6h0"/><path class="c3" opacity=".61" d="M465.7 201.2h0M468.5 203.1h0"/><path class="c3" opacity=".94" d="M466.1 201.6h0M467.2 201.2h0M468.7 202.7h0M464.8 200.3h0M468.2 202.4h0M465.4 200.2h0M467.7 201.8h0M467.2 201h0M465.9 200.6h0"/><path class="c7" opacity=".61" d="M478.4 213.7h0M479.8 216h0"/><path class="c7" opacity=".61" d="M479.8 214h0"/><path class="c7" opacity=".61" d="M480 215.4h0"/><g class="c29" fill-opacity=".6" stroke-opacity=".6"><use href="#k" x="333" y="271.1"/><use href="#k" x="285.8" y="274.5"/><use href="#k" x="326.9" y="272.8"/><use href="#k" x="355.1" y="269.9"/><use href="#k" x="320.1" y="273.9"/><use href="#k" x="351" y="270.7"/></g><path class="c26" opacity=".61" d="M415.7 262h0M406.2 262.5h0M410.7 262.4h0M423.6 262.1h0M418.3 262.8h0M413.1 263.2h0"/><path class="c26" opacity=".61" d="M404.3 263.1h0M408.7 263.6h0M416.6 262.4h0"/><path class="c26" opacity=".61" d="M408 264.1h0"/><g class="c28" fill-opacity=".6" stroke-opacity=".6"><use href="#k" x="363.1" y="267.5"/><use href="#k" x="359" y="268.4"/></g><path class="c28" opacity=".61" d="M379.6 265.9h0M388.2 265.3h0M376.6 266.7h0M373.7 267.5h0M385.5 266.2h0M370.2 268.3h0M393.8 265.7h0"/><path class="c28" opacity=".61" d="M382 265.6h0"/><path class="c28" opacity=".61" d="M383.4 266.9h0"/><path class="c12" opacity=".61" d="M491.8 233h0"/><path class="c18" opacity=".61" d="M488.8 252.9h0M496.3 252.3h0M485.8 254.3h0M491.4 253.7h0M499.5 252.8h0M494.2 254.1h0"/><path class="c18" opacity=".61" d="M489.9 253h0M494.2 252.8h0M484.2 254h0M487.4 253.9h0M497.1 252.4h0"/><path class="c18" opacity=".61" d="M493 254.3h0"/><path class="c10" opacity=".61" d="M486.3 225.5h0M488.7 226.9h0"/><path class="c10" opacity=".61" d="M486.1 224.1h0"/><path class="c10" opacity=".61" d="M487.8 225.5h0"/><path class="c14" opacity=".61" d="M494.9 238.8h0"/><path class="c13" opacity=".62" d="M494.4 236.7h0"/><path class="c13" opacity=".62" d="M494.2 235.8h0"/><path class="c5" opacity=".62" d="M473.8 207.9h0M476 209.9h0M478.4 211.4h0"/><path class="c5" opacity=".62" d="M476.3 211h0"/><path class="c5" opacity=".62" d="M476 209.9h0"/><path class="c5" opacity=".62" d="M477.5 210h0"/><path class="c5" opacity=".62" d="M477.2 209.9h0"/><path class="c5" opacity=".94" d="M476.8 209h0"/><path class="c15" opacity=".62" d="M497.3 243.8h0"/><path class="c15" opacity=".62" d="M497 241.7h0"/><g class="c27" fill-opacity=".6" stroke-opacity=".6"><use href="#k" x="285.4" y="272.1"/></g><path class="c27" opacity=".62" d="M400.9 264.8h0M391.6 265.7h0M405.7 264.3h0M408.6 265.2h0M394.9 266.5h0"/><path class="c27" opacity=".62" d="M399.3 265.5h0M404.2 265.5h0"/><path class="c27" opacity=".62" d="M402.3 265.8h0M406.1 265.4h0"/><path class="c3" opacity=".62" d="M467.1 200.7h0M468.9 202.6h0M471.4 203.8h0"/><path class="c3" opacity=".62" d="M466.4 201.2h0M470.3 203.6h0M473 205.1h0"/><path class="c3" opacity=".62" d="M467 200.6h0M469.6 202.9h0M471.9 205.1h0"/><path class="c3" opacity=".62" d="M468.7 201.3h0M470.5 203.9h0"/><path class="c3" opacity=".62" d="M468.2 202.3h0M470.8 203h0"/><path class="c3" opacity=".94" d="M469.6 202.5h0M469.6 202.3h0M468.5 202.1h0M470.2 203h0M472.3 204.8h0M469.8 202.2h0M472.1 203.1h0"/><path class="c19" opacity=".62" d="M477.4 255.8h0M480.6 254.7h0M485.7 255.6h0"/><path class="c19" opacity=".62" d="M480 255.7h0M484.4 256.5h0"/><path class="c19" opacity=".62" d="M478.5 256.4h0M481.9 255.9h0"/><path class="c19" opacity=".62" d="M483.6 256.4h0M477.8 256.9h0M480.7 256.8h0"/><path class="c22" opacity=".62" d="M464 257h0M461.5 258.2h0M466.2 258.4h0"/><path class="c22" opacity=".62" d="M464.5 257h0M462.3 258.4h0"/><path class="c22" opacity=".62" d="M462.3 257.9h0M465.2 258.5h0"/><path class="c22" opacity=".62" d="M463.5 257.9h0M460.8 258.6h0"/><path class="c22" opacity=".62" d="M464.3 258.3h0"/><path class="c12" opacity=".62" d="M491.8 230.4h0M493.4 234.4h0"/><path class="c12" opacity=".62" d="M491.5 231.6h0"/><path class="c12" opacity=".62" d="M493.8 232.4h0"/><path class="c8" opacity=".62" d="M485 220.6h0"/><path class="c8" opacity=".62" d="M484.4 219.2h0M486.2 221h0"/><path class="c8" opacity=".62" d="M484 218.8h0"/><path class="c20" opacity=".62" d="M474.7 256.4h0M470 256.2h0M476.6 258.3h0"/><path class="c20" opacity=".62" d="M472.7 256.5h0M475.9 256.7h0"/><path class="c20" opacity=".62" d="M473.6 257.4h0M476.6 256.8h0"/><path class="c20" opacity=".62" d="M475 257.3h0"/><path class="c25" opacity=".62" d="M439.9 260.1h0M422 262.3h0M442.8 260.2h0M434.2 261h0M425.7 261.9h0M429.9 261h0M436.9 261.6h0M431.6 263h0"/><path class="c25" opacity=".62" d="M438.5 260.2h0M426.9 262h0M432.1 261h0M445.3 260.3h0M424.4 262.5h0M436 261.4h0M420.6 262.9h0M441.5 261.1h0"/><path class="c25" opacity=".62" d="M440.9 260.3h0M427.4 262.1h0M432.7 261.4h0M438 261.3h0M423.1 263.2h0M430.1 262.5h0M443.3 261.6h0M435 262.6h0"/><path class="c25" opacity=".62" d="M426.8 262.5h0M439.4 261.4h0M431.1 262.3h0M434.2 262.5h0"/><path class="c25" opacity=".62" d="M425.3 263h0M438.4 261.5h0M435.8 261.5h0M432.1 261.8h0"/><path class="c25" opacity=".94" d="M440.5 260.9h0M434 262.3h0M439.7 261.6h0M438.4 262.4h0M436.6 262.9h0"/><path class="c4" opacity=".62" d="M470.6 204.5h0M474 206.8h0M476.8 208h0"/><path class="c4" opacity=".62" d="M473.7 205.7h0M471.1 205.4h0M475.6 207.5h0"/><path class="c4" opacity=".62" d="M473.1 206.4h0M475.4 208.1h0"/><path class="c4" opacity=".62" d="M474.5 207.3h0"/><path class="c4" opacity=".62" d="M474.4 206h0"/><path class="c2" opacity=".62" d="M462.8 197.7h0M465.5 199.9h0M467.9 201.5h0"/><path class="c2" opacity=".62" d="M463.1 197.6h0M465.3 200.1h0M467.8 200.4h0"/><path class="c2" opacity=".62" d="M463.8 199.1h0M467 200.4h0"/><path class="c2" opacity=".62" d="M465 198.8h0M467.4 200.1h0"/><path class="c2" opacity=".62" d="M465.6 199.6h0M469.3 201.4h0"/><path class="c2" opacity=".94" d="M463.5 198.2h0M463.9 198.4h0M464.4 198.4h0M466.5 199.4h0M466.1 199.5h0M467.3 200.2h0M467.4 199.3h0M468.3 201.4h0M466.1 199.1h0M467.9 200.7h0"/><path class="c18" opacity=".62" d="M484.8 254.6h0M488.3 254.1h0M500.3 252.2h0M491.1 254.1h0M496.2 253.8h0M498.7 254.3h0M501.4 254.9h0"/><path class="c18" opacity=".62" d="M483.3 254.8h0M490.1 254.9h0M486.7 255.5h0M497.6 253.7h0M493 255.2h0"/><path class="c18" opacity=".62" d="M488.2 256.3h0M494.1 255.2h0"/><path class="c18" opacity=".62" d="M486.1 256.3h0"/><path class="c16" opacity=".62" d="M497.6 245.6h0M499.8 247.5h0"/><path class="c24" opacity=".62" d="M436 259.9h0M447.3 260h0M453.1 259.5h0M444 259.9h0M441.4 260.5h0M450.1 261.3h0"/><path class="c24" opacity=".62" d="M436.4 259.9h0M449.5 259.7h0M454.3 259.3h0M445 260.1h0"/><path class="c24" opacity=".62" d="M448.4 260.1h0M451.3 259h0M443.4 260.6h0M454 260.6h0"/><path class="c24" opacity=".62" d="M451 258.8h0M447.4 259.2h0M444.9 260.9h0M453.5 259.5h0M449.2 261.2h0"/><path class="c24" opacity=".62" d="M452.8 259.8h0M448.9 259.8h0M445.7 260.7h0"/><path class="c24" opacity=".94" d="M451.1 259.2h0M447.3 260.3h0M449.6 260h0M451.1 260h0M446.6 261.1h0"/><path class="c21" opacity=".62" d="M467.9 257h0M471 256.8h0"/><path class="c21" opacity=".62" d="M468.7 257.4h0M472.1 257.9h0"/><path class="c21" opacity=".62" d="M467 257.7h0M469.9 258h0"/><path class="c21" opacity=".62" d="M467 257.9h0M469.7 257.9h0"/><path class="c21" opacity=".62" d="M468.3 258.8h0"/><g class="c28" fill-opacity=".6" stroke-opacity=".6"><use href="#k" x="374.5" y="269.3"/></g><path class="c28" opacity=".62" d="M380.8 267.6h0M367.3 268.7h0M397.1 266.4h0M389.9 267.5h0M387.2 267.4h0"/><path class="c28" opacity=".62" d="M378.7 268.8h0"/><path class="c6" opacity=".62" d="M479.1 212.9h0"/><path class="c6" opacity=".62" d="M478.6 212.1h0M480.6 214.7h0"/><path class="c6" opacity=".62" d="M479.5 212.3h0"/><path class="c6" opacity=".62" d="M480.4 213.6h0"/><path class="c23" opacity=".62" d="M455.8 258.8h0M460.2 258.2h0M463 259.7h0M457.8 260.2h0"/><path class="c23" opacity=".62" d="M454.3 258.3h0M458.6 257.9h0M460.9 259.6h0M456.7 260.3h0"/><path class="c23" opacity=".62" d="M457.5 259.7h0M455 259.5h0M460.1 259.8h0"/><path class="c23" opacity=".62" d="M455.8 258.9h0M458.6 258.9h0"/><path class="c23" opacity=".62" d="M456.6 258.2h0M459.3 259.1h0"/><path class="c23" opacity=".94" d="M455.6 259.4h0"/><path class="c10" opacity=".62" d="M487.6 224.9h0M489.8 227.9h0"/><path class="c10" opacity=".62" d="M489.3 226.3h0"/><path class="c17" opacity=".62" d="M500.1 251h0"/><path class="c17" opacity=".62" d="M499.7 249.1h0"/><g class="c29" fill-opacity=".6" stroke-opacity=".6"><use href="#k" x="313.6" y="275.1"/><use href="#k" x="346.9" y="271.6"/><use href="#k" x="363.6" y="269.9"/><use href="#k" x="341.7" y="272.2"/><use href="#k" x="307" y="276.6"/><use href="#k" x="359.8" y="271"/><use href="#k" x="298.3" y="278.6"/></g><g class="c26" fill-opacity=".6" stroke-opacity=".6"><use href="#k" x="284.6" y="268.9"/></g><path class="c26" opacity=".62" d="M411.3 263.1h0M418.5 263.2h0M415 263.3h0M427.4 263.7h0M421.9 263.8h0"/><path class="c26" opacity=".62" d="M416.8 263.6h0M410.4 264.6h0M413.5 264.4h0M420 264h0M429 263.5h0M425.9 263.7h0"/><path class="c26" opacity=".62" d="M416.6 263.8h0M412.6 264.6h0"/><path class="c26" opacity=".62" d="M415.4 265.1h0M418.2 264.2h0"/><path class="c7" opacity=".62" d="M481.9 217.4h0M480.9 215h0"/><path class="c7" opacity=".62" d="M481.6 215.9h0"/><path class="c7" opacity=".62" d="M483.4 217.4h0"/><path class="c7" opacity=".62" d="M483.4 217h0"/><path class="c7" opacity=".62" d="M482.3 215.5h0"/><path class="c14" opacity=".62" d="M497.4 240.4h0"/><path class="c11" opacity=".62" d="M491 228.7h0"/><path class="c9" opacity=".62" d="M487.7 222.8h0M489 225.2h0"/><path class="c9" opacity=".62" d="M486.9 222.8h0"/><path class="c13" opacity=".63" d="M496.2 237.4h0"/><path class="c13" opacity=".63" d="M496 235.1h0"/><path class="c16" opacity=".63" d="M500.3 246.1h0"/><path class="c8" opacity=".63" d="M485.9 219.5h0M488.3 222.2h0"/><path class="c8" opacity=".63" d="M485.7 218.5h0M488 221.5h0"/><path class="c8" opacity=".63" d="M487.4 219.5h0"/><path class="c2" opacity=".63" d="M469.3 201.3h0M471.6 202.7h0M474.4 204.8h0"/><path class="c2" opacity=".63" d="M468.4 200.3h0M471.2 202.6h0M473.7 203.7h0"/><path class="c2" opacity=".63" d="M469.9 201.6h0M472.4 203.5h0"/><path class="c2" opacity=".63" d="M469.1 200.1h0M472.4 202.9h0"/><path class="c2" opacity=".63" d="M470.7 201.3h0M472.8 203.2h0"/><path class="c2" opacity=".95" d="M470.5 201.8h0M472 202.6h0"/><path class="c4" opacity=".63" d="M475.3 207.5h0M478.5 209.6h0"/><path class="c4" opacity=".63" d="M475.9 206.9h0M477.8 209.2h0"/><path class="c4" opacity=".63" d="M477 207.6h0M479.4 210.5h0"/><path class="c4" opacity=".63" d="M477.6 208.2h0"/><path class="c4" opacity=".63" d="M479 209.5h0"/><path class="c20" opacity=".63" d="M476.4 257.9h0M473.4 258.5h0M479.3 258.1h0"/><path class="c20" opacity=".63" d="M477.2 258.4h0M479.7 259.4h0"/><path class="c20" opacity=".63" d="M478.6 258.5h0M475.3 259.1h0"/><path class="c20" opacity=".63" d="M476 259.2h0"/><path class="c11" opacity=".63" d="M492.4 229.8h0M495.2 231h0"/><path class="c11" opacity=".63" d="M492.9 230.8h0"/><path class="c22" opacity=".63" d="M465 259.7h0M468.5 260.3h0"/><path class="c22" opacity=".63" d="M467.3 259.1h0M463.3 259.5h0M465.4 261.4h0"/><path class="c22" opacity=".63" d="M465.8 259.5h0M462.7 259.9h0"/><path class="c22" opacity=".63" d="M464.4 260.4h0"/><path class="c22" opacity=".63" d="M464.5 260.4h0"/><path class="c22" opacity=".95" d="M466.3 260.3h0M466.5 260.6h0"/><path class="c15" opacity=".63" d="M499.5 244.1h0"/><path class="c15" opacity=".63" d="M499.3 243.1h0"/><path class="c14" opacity=".63" d="M496.9 239.1h0M499.3 241.3h0"/><path class="c27" opacity=".63" d="M405.1 266.1h0M409.6 266.1h0M400.1 266.6h0M414.6 267h0M404.4 268.9h0"/><path class="c27" opacity=".63" d="M398.3 267.1h0M403.3 267.6h0M411.8 266.9h0M407.6 267.4h0"/><path class="c27" opacity=".63" d="M400.9 267.8h0M406.2 267.4h0M410.9 267.1h0M413.7 267.7h0"/><g class="c29" fill-opacity=".6" stroke-opacity=".6"><use href="#k" x="355.4" y="271.9"/><use href="#k" x="336" y="273.4"/><use href="#k" x="331.1" y="275.2"/><use href="#k" x="352.1" y="273.2"/><use href="#k" x="365.5" y="272"/><use href="#k" x="342.4" y="275.7"/><use href="#k" x="360.9" y="273.8"/><use href="#k" x="356.8" y="275"/></g><path class="c29" opacity=".63" d="M382.4 269.6h0M368.8 271.2h0M376.2 271.2h0"/><path class="c29" opacity=".63" d="M383.8 271.3h0"/><g class="c28" fill-opacity=".6" stroke-opacity=".6"><use href="#k" x="373.1" y="272"/></g><path class="c28" opacity=".63" d="M393.7 267.2h0M385.2 269.1h0M371.8 270.2h0M396.3 267.7h0M390.7 267.7h0M379.1 269.9h0M388.7 269.2h0M399.7 268.7h0"/><path class="c28" opacity=".63" d="M394.2 269.4h0M386.2 269.9h0"/><path class="c3" opacity=".63" d="M473.7 205.8h0M472 203.8h0M476.3 206.2h0"/><path class="c3" opacity=".63" d="M473 204.5h0M475.4 206.7h0M478 207.8h0"/><path class="c3" opacity=".63" d="M473.4 204h0M477 207h0"/><path class="c3" opacity=".63" d="M473.5 204.5h0M476.1 205.3h0"/><path class="c3" opacity=".63" d="M474.2 205.7h0"/><path class="c3" opacity=".95" d="M473.8 204.3h0M474 204.9h0"/><path class="c24" opacity=".63" d="M446.2 261.3h0M452.1 260.8h0M455 260.8h0M449.8 262.7h0M453.3 263.6h0"/><path class="c24" opacity=".63" d="M450.7 261.6h0M454 261.3h0M447.3 261.8h0"/><path class="c24" opacity=".63" d="M448.4 261.5h0M451.1 261.8h0M455.6 262.2h0"/><path class="c24" opacity=".63" d="M450.1 261.9h0M452.6 261.3h0M446.8 262.6h0"/><path class="c24" opacity=".63" d="M453.1 261.7h0M450.2 261.5h0"/><path class="c24" opacity=".95" d="M452.9 262.8h0M451.4 262.1h0M451.6 263h0M454.6 262.2h0M454.5 262.9h0"/><path class="c26" opacity=".63" d="M424.4 263.9h0M411.5 265.6h0M420.4 264.9h0M417.1 265.7h0M435 265.3h0M431 265.7h0"/><path class="c26" opacity=".63" d="M423.6 264.8h0M413.5 265.6h0M426.6 264.4h0M419.7 265.3h0M416.3 266.1h0"/><path class="c26" opacity=".63" d="M418.8 265.9h0M422.3 265.3h0M424.8 265.2h0"/><path class="c26" opacity=".63" d="M424.3 265.6h0M420.8 266h0M417.5 267.1h0"/><path class="c26" opacity=".63" d="M426 265.4h0"/><path class="c18" opacity=".63" d="M489.9 256h0M495.6 255.4h0M501.9 254.6h0M492.8 257h0M499.1 256.7h0M503.1 257.1h0"/><path class="c18" opacity=".63" d="M491.5 256h0M502.5 253.1h0M497.8 255.9h0M488.3 257.7h0M494.3 256.9h0M501.1 256h0"/><path class="c18" opacity=".63" d="M495.7 257h0M489.7 257.8h0M492.4 257.8h0"/><path class="c18" opacity=".63" d="M491 258.2h0M497.6 258.2h0"/><path class="c21" opacity=".63" d="M472.7 258.2h0M468.7 259.1h0M474.6 260.2h0M472 260.7h0"/><path class="c21" opacity=".63" d="M471.2 258.8h0M474.2 259.2h0M468 259.4h0"/><path class="c21" opacity=".63" d="M469.5 259.9h0M472.6 259.5h0"/><path class="c21" opacity=".63" d="M473.4 260h0M470.9 259.9h0"/><path class="c21" opacity=".63" d="M469 260.2h0"/><path class="c19" opacity=".63" d="M482.2 256.6h0M487.1 256.9h0M483.6 259.4h0"/><path class="c19" opacity=".63" d="M483.1 257.3h0M486.4 258.4h0M481.3 259.5h0"/><path class="c19" opacity=".63" d="M480.7 257.5h0M484.2 257.7h0M488 258.4h0"/><path class="c19" opacity=".63" d="M480.8 257.9h0"/><path class="c19" opacity=".63" d="M482.3 258.7h0"/><path class="c10" opacity=".63" d="M491.5 227.3h0"/><path class="c10" opacity=".63" d="M491.8 228.5h0"/><path class="c10" opacity=".63" d="M491 226.2h0"/><path class="c25" opacity=".63" d="M444.4 261.8h0M440.9 262.6h0M428.3 263.5h0M431 263.7h0M436 263.5h0M448.8 263h0M433.3 264.8h0"/><path class="c25" opacity=".63" d="M439.6 263h0M432.7 263.4h0M444.9 262.1h0M442.1 262.1h0M429.8 264.1h0M435.2 263.9h0M426.9 264.7h0M448.3 263.8h0"/><path class="c25" opacity=".63" d="M438.4 263h0M434.5 263.6h0M445.7 262.2h0M442 262.7h0M429.1 264.3h0"/><path class="c25" opacity=".63" d="M444.2 263h0M432.5 263.8h0M438.8 262.9h0"/><path class="c25" opacity=".63" d="M440.5 263.3h0M437.8 263.8h0M433.4 264.2h0M445.2 262.7h0"/><path class="c25" opacity=".95" d="M440.4 263.5h0M431.2 264.3h0M439.3 263.8h0M437.2 264.7h0M442.6 263.3h0M443.8 263.6h0M446.5 263.4h0M445.5 263.3h0M440 264.4h0M438.1 264.5h0M442 264.2h0"/><path class="c9" opacity=".63" d="M489.1 223.8h0"/><path class="c9" opacity=".63" d="M490.5 224.4h0"/><path class="c5" opacity=".63" d="M478.7 210.7h0M480.8 212.8h0"/><path class="c5" opacity=".63" d="M478.8 210.7h0M482.7 213.5h0"/><path class="c5" opacity=".63" d="M479.9 211.4h0M482.6 212.2h0"/><path class="c5" opacity=".63" d="M479.4 211.1h0"/><path class="c6" opacity=".63" d="M481.8 213.7h0M483.9 215.4h0M485.8 217h0"/><path class="c6" opacity=".63" d="M481.3 213h0M483.3 215.2h0"/><path class="c23" opacity=".63" d="M457.1 260.6h0M461.4 260.8h0M454.1 261.2h0"/><path class="c23" opacity=".63" d="M458.2 260h0M455.4 260.4h0M463 261.3h0"/><path class="c23" opacity=".63" d="M460.3 260.7h0M457.2 261.4h0M462.8 262h0"/><path class="c23" opacity=".63" d="M459.3 261h0M456.7 262.2h0"/><path class="c23" opacity=".63" d="M460.9 261.5h0M458.3 262.5h0"/><path class="c23" opacity=".95" d="M459.3 261.6h0M460.6 261.7h0M459.5 261.9h0M458.3 262.5h0"/><path class="c7" opacity=".63" d="M485.1 217.8h0"/><path class="c7" opacity=".63" d="M484.1 216.8h0M486.5 219.1h0"/><path class="c7" opacity=".63" d="M486.6 217.4h0"/><g class="c30" fill-opacity=".6" stroke-opacity=".6"><use href="#k" x="324.4" y="277.2"/><use href="#k" x="281.3" y="281.2"/><use href="#k" x="318.4" y="279.2"/></g><path class="c12" opacity=".63" d="M495.1 233.9h0"/><path class="c12" opacity=".63" d="M495.1 232.8h0"/><path class="c17" opacity=".63" d="M502.5 251.5h0"/><path class="c17" opacity=".63" d="M502.1 249.9h0"/><path class="c2" opacity=".63" d="M475 204.5h0"/><path class="c2" opacity=".63" d="M476.1 205.8h0"/><path class="c11" opacity=".63" d="M493.7 230.1h0M426.2 223.2h0M496.5 233.3h0"/><path class="c11" opacity=".63" d="M495.7 231.2h0"/><path class="c21" opacity=".63" d="M469.9 260.9h0M472.5 260.4h0M475.3 261h0M473.7 263.6h0"/><path class="c21" opacity=".63" d="M470.7 261.7h0M473.8 261.2h0M476.1 262.5h0"/><path class="c21" opacity=".63" d="M474.2 262h0"/><path class="c21" opacity=".63" d="M472 262.4h0"/><path class="c21" opacity=".63" d="M472.9 262.7h0"/><path class="c8" opacity=".63" d="M488.7 220.8h0M489.9 223.1h0"/><path class="c8" opacity=".63" d="M489.3 221.6h0M491.5 223.2h0"/><path class="c8" opacity=".63" d="M490.7 222.6h0"/><path class="c3" opacity=".63" d="M478.6 208.4h0M482 209.8h0"/><path class="c3" opacity=".63" d="M477.1 206.3h0M479.9 208.6h0"/><path class="c3" opacity=".63" d="M477.3 206.8h0M481.5 208.5h0"/><path class="c3" opacity=".63" d="M478.8 207.5h0"/><path class="c3" opacity=".63" d="M479.3 207.4h0"/><path class="c6" opacity=".63" d="M485.4 215.9h0M487.5 217.5h0"/><path class="c6" opacity=".63" d="M484.8 215.1h0M486.9 217.2h0"/><g class="c28" fill-opacity=".6" stroke-opacity=".6"><use href="#k" x="280.9" y="278.5"/></g><path class="c28" opacity=".63" d="M397.8 270h0M392.8 270h0M403.3 269.7h0M407.5 269.6h0M381 271.8h0M388.1 271.8h0M391 272.3h0"/><path class="c28" opacity=".63" d="M390.5 270.4h0M395 270.4h0M401 270.6h0M398.5 270.8h0M404.3 270.6h0M407.5 271.1h0"/><path class="c28" opacity=".63" d="M393.2 271h0M397.2 272h0M402.2 271.8h0"/><path class="c4" opacity=".63" d="M481.2 210.9h0M483.4 212.4h0"/><path class="c4" opacity=".63" d="M480.4 210.6h0M482.8 211h0"/><path class="c4" opacity=".63" d="M480.4 209.3h0M483.5 211.1h0"/><path class="c4" opacity=".63" d="M482.1 209.9h0"/><path class="c12" opacity=".63" d="M497.7 235h0"/><path class="c14" opacity=".63" d="M498.2 239.5h0M501.2 243.4h0"/><path class="c14" opacity=".63" d="M501.3 241.7h0"/><path class="c15" opacity=".63" d="M501.6 246.1h0"/><path class="c15" opacity=".63" d="M501.3 244.9h0"/><path class="c25" opacity=".63" d="M448.6 263.8h0M436.4 265.4h0M444.7 264.2h0M432.5 265.4h0M440.5 264.8h0M439 266.9h0M450.4 266.1h0M434.7 267.6h0M446.6 266.6h0M443.3 266.6h0"/><path class="c25" opacity=".63" d="M446.9 264.4h0M434.7 265.1h0M443.4 264.5h0M437.7 265.4h0M449.7 265h0M441.7 266.6h0M431.4 266.6h0M445.3 266.7h0"/><path class="c25" opacity=".63" d="M442 265.4h0M439.3 266h0M445.3 265.4h0M436.3 266h0M448.5 265h0M433.5 266.9h0"/><path class="c25" opacity=".63" d="M443.2 265h0M446.8 264.7h0M437.6 266.8h0M448.8 266.3h0"/><path class="c25" opacity=".63" d="M443.1 266h0M445.7 266.2h0M435.8 266.1h0M438.9 267.1h0"/><path class="c25" opacity=".95" d="M446.7 265.6h0M441.8 266.6h0M437.6 267.3h0"/><path class="c9" opacity=".63" d="M492.5 226.1h0"/><path class="c9" opacity=".63" d="M492.3 225.2h0"/><path class="c17" opacity=".63" d="M504.1 254.1h0"/><path class="c17" opacity=".63" d="M504.4 252h0"/><path class="c26" opacity=".63" d="M425.5 266.6h0M428.3 265.9h0M422.5 267h0M419.7 266.8h0M432.1 267.1h0M425.2 269.6h0M436.5 268.8h0M429.2 269.7h0"/><path class="c26" opacity=".63" d="M427.1 267.1h0M422.3 267.7h0M429.7 266.3h0M434.1 266.6h0M417.5 267.7h0M432 268.2h0"/><path class="c26" opacity=".63" d="M424.4 267.4h0M428.7 267h0M421.5 269.1h0"/><path class="c26" opacity=".63" d="M426.7 267.8h0M423.4 268.4h0M430.8 268.3h0"/><path class="c26" opacity=".63" d="M428.4 267.8h0M425.5 268.9h0"/><path class="c26" opacity=".95" d="M426.9 268.5h0"/><path class="c22" opacity=".63" d="M466.5 261.8h0M469.1 262.4h0"/><path class="c22" opacity=".63" d="M467.8 261h0M465 263h0M470.2 263.3h0"/><path class="c22" opacity=".63" d="M468.8 262h0M465.4 263.7h0M471 263.6h0M468.6 264.8h0"/><path class="c22" opacity=".63" d="M466.6 261.8h0M468.3 263.6h0"/><path class="c22" opacity=".63" d="M467.4 262.6h0"/><path class="c22" opacity=".95" d="M465.6 264h0"/><path class="c18" opacity=".63" d="M504.8 256.6h0M498.8 258h0M494.2 258.9h0M502.3 259.1h0M496.1 260.6h0"/><path class="c18" opacity=".63" d="M504.2 255.5h0M500.6 258.3h0M496 259h0M492.2 259.9h0M504.5 259h0"/><path class="c18" opacity=".63" d="M497.8 259.7h0M500.7 260.4h0"/><path class="c18" opacity=".63" d="M499.4 259.8h0"/><path class="c24" opacity=".63" d="M450.7 263.8h0M457.1 263.8h0M453.4 263.5h0M448.1 264.1h0M460.1 264.9h0"/><path class="c24" opacity=".63" d="M452.2 263.8h0M454.8 263.7h0M457.8 264.8h0"/><path class="c24" opacity=".63" d="M451.8 264.2h0M457.1 264.1h0M453.9 265.8h0"/><path class="c24" opacity=".63" d="M454 264.7h0M450.6 265h0"/><path class="c24" opacity=".63" d="M454.9 264.8h0M451.9 265.2h0"/><path class="c24" opacity=".95" d="M453.7 265.4h0M455.7 265h0"/><path class="c23" opacity=".63" d="M456.7 262.5h0M463.8 262.7h0M460.3 262.6h0M461.6 265.1h0"/><path class="c23" opacity=".63" d="M462.1 262.2h0M458.7 263.5h0M463.7 264.6h0M460.6 265.5h0"/><path class="c23" opacity=".63" d="M462.6 262.5h0M459.7 263.6h0M464.5 265h0"/><path class="c23" opacity=".63" d="M461.5 264.1h0"/><path class="c23" opacity=".63" d="M463.7 263.6h0"/><path class="c23" opacity=".95" d="M461.6 264h0"/><path class="c20" opacity=".63" d="M477.8 260.5h0M482.1 260.7h0M479.3 262.7h0"/><path class="c20" opacity=".63" d="M478.8 260.4h0M476.4 261h0M484.1 261.6h0M481.3 262.1h0"/><path class="c20" opacity=".63" d="M479.6 260.9h0M477.1 261.6h0M483.1 262.2h0"/><path class="c20" opacity=".63" d="M478.7 262.5h0"/><path class="c20" opacity=".63" d="M477 263h0"/><g class="c27" fill-opacity=".6" stroke-opacity=".6"><use href="#k" x="280.7" y="275.5"/></g><path class="c27" opacity=".63" d="M416.4 267.6h0M408.7 267.9h0M412.1 267.6h0M406.3 269.5h0M420.9 269h0M415.4 270.5h0M411.9 270.9h0"/><path class="c27" opacity=".63" d="M418.4 268.1h0M411.3 269.2h0M415.3 268.1h0M422.6 269.4h0M413.2 271.4h0"/><path class="c27" opacity=".63" d="M413.7 269h0M409 270h0M416.3 268.9h0M419.1 269.6h0"/><path class="c27" opacity=".63" d="M417.6 269.9h0M410.9 271.5h0"/><path class="c5" opacity=".63" d="M481.6 212.2h0M484.2 214.4h0"/><path class="c5" opacity=".63" d="M483.5 213.5h0M486.3 215.3h0"/><path class="c5" opacity=".63" d="M484.8 213.6h0"/><path class="c5" opacity=".63" d="M485.4 214.3h0"/><path class="c13" opacity=".63" d="M497.8 236.1h0M499.8 240h0"/><path class="c13" opacity=".63" d="M498.1 237.7h0"/><path class="c13" opacity=".63" d="M500.3 238h0"/><path class="c10" opacity=".63" d="M494.1 228.7h0"/><path class="c10" opacity=".63" d="M493.1 226.7h0M495.6 229.9h0"/><path class="c10" opacity=".63" d="M494.9 228.5h0"/><path class="c19" opacity=".63" d="M487.9 259.4h0M485 259.7h0M491.5 259.9h0M494.1 261.6h0M486.6 262.1h0M506.5 260.2h0"/><path class="c19" opacity=".63" d="M489.9 259.6h0M486.7 260.5h0M491.7 261.8h0"/><path class="c19" opacity=".63" d="M488.1 260.8h0M485.1 261.1h0"/><path class="c19" opacity=".63" d="M489.3 261.2h0"/><path class="c19" opacity=".63" d="M490 260.9h0M487.6 262h0"/><g class="c30" fill-opacity=".6" stroke-opacity=".6"><use href="#k" x="337.3" y="277.5"/><use href="#k" x="332.6" y="278.6"/><use href="#k" x="294.5" y="284.1"/><use href="#k" x="325.9" y="280.3"/><use href="#k" x="343.9" y="279.1"/></g><path class="c16" opacity=".63" d="M502.2 248.4h0M504.2 250.4h0"/><path class="c16" opacity=".63" d="M504.2 248.9h0"/><g class="c29" fill-opacity=".6" stroke-opacity=".6"><use href="#k" x="354.4" y="275.8"/><use href="#k" x="366.8" y="274.2"/><use href="#k" x="363.7" y="275.6"/><use href="#k" x="349.1" y="277.2"/><use href="#k" x="371.4" y="276"/><use href="#k" x="358.8" y="276.6"/></g><path class="c29" opacity=".63" d="M370.4 273.3h0M378 273.7h0M375.4 274.5h0M385.2 272.7h0M394.7 273.2h0M388.9 273.6h0"/><path class="c29" opacity=".63" d="M383.4 274h0"/><path class="c7" opacity=".63" d="M488.2 219.4h0"/><path class="c7" opacity=".63" d="M487.9 219h0M490.4 220.5h0"/><path class="c7" opacity=".63" d="M489.6 220.5h0"/><path class="c0" opacity=".63" d="M447.9 196.4h0"/><path class="c4" opacity=".65" d="M484.9 212.6h0M488.2 214.8h0"/><path class="c4" opacity=".65" d="M484.3 211.1h0M486.8 213.3h0"/><path class="c11" opacity=".65" d="M498.4 233.7h0"/><path class="c9" opacity=".65" d="M494.5 227.1h0"/><path class="c9" opacity=".65" d="M493.8 226.5h0"/><path class="c9" opacity=".65" d="M494.1 225h0M495.8 227.9h0"/><path class="c9" opacity=".65" d="M495.1 226.5h0"/><path class="c24" opacity=".65" d="M449.8 266.2h0M458.3 265.7h0M454.4 266.6h0M457.8 268.5h0M453 268.8h0"/><path class="c24" opacity=".65" d="M451.5 266.4h0M455.8 265.6h0M458.5 266.7h0M454.7 267.9h0"/><path class="c24" opacity=".65" d="M452.2 266.7h0M456.7 267h0M460 268.4h0"/><path class="c24" opacity=".65" d="M459.1 266.8h0M452.3 267.8h0M455.2 268.3h0"/><path class="c24" opacity=".65" d="M457.5 267.3h0M459.6 268.7h0"/><path class="c24" opacity=".96" d="M456.9 269h0M455.5 268.8h0"/><path class="c6" opacity=".65" d="M489.5 218.3h0M492.7 220.3h0"/><path class="c6" opacity=".65" d="M487.5 217.2h0M490.9 219.7h0"/><path class="c6" opacity=".65" d="M490.4 218.9h0"/><path class="c3" opacity=".65" d="M485.3 212.2h0"/><path class="c20" opacity=".65" d="M483.5 262.5h0M479.7 263.8h0M487.2 264.6h0M482.1 266.2h0"/><path class="c20" opacity=".65" d="M477.4 263.3h0M484.7 263.3h0M481.3 264h0M478.9 265.9h0M486.9 266.4h0"/><path class="c20" opacity=".65" d="M482.9 264.3h0M478.8 264.3h0M485.7 265.4h0"/><path class="c20" opacity=".65" d="M479.4 265h0M484.4 264.5h0"/><path class="c20" opacity=".65" d="M481.2 264.9h0"/><path class="c26" opacity=".65" d="M427.3 269.9h0M431.7 269h0M434.8 269.2h0M437.9 268.6h0M424 270.2h0M442.3 269.9h0M433.1 272.2h0M430 271.5h0M437.5 271.5h0M426.8 272.8h0"/><path class="c26" opacity=".65" d="M428.8 269.9h0M436.3 269h0M433.4 269.4h0M425.6 270.4h0M422.3 271.2h0M429.2 272.6h0M434.8 271.8h0"/><path class="c26" opacity=".65" d="M431.1 269.8h0M427.7 270.9h0M435.7 270.2h0M436.8 272.5h0M431.3 272.8h0"/><path class="c26" opacity=".65" d="M432.9 270.3h0M430.3 270.8h0M426.9 272.3h0"/><path class="c26" opacity=".65" d="M435 270.4h0"/><path class="c21" opacity=".65" d="M472.1 263.9h0M474.7 263.6h0M476.6 265.3h0M480.2 267.2h0"/><path class="c21" opacity=".65" d="M472.6 264.7h0M475.6 265h0"/><path class="c21" opacity=".65" d="M474.4 265.7h0M477.5 265.6h0"/><path class="c21" opacity=".65" d="M474.4 265.9h0"/><path class="c21" opacity=".65" d="M475.6 266.8h0"/><path class="c21" opacity=".96" d="M476.3 267.2h0"/><path class="c15" opacity=".65" d="M503.4 245.1h0M506.2 249.6h0"/><path class="c15" opacity=".65" d="M503.6 247h0"/><path class="c15" opacity=".65" d="M505.6 248.3h0"/><path class="c5" opacity=".65" d="M487.9 216.9h0"/><path class="c5" opacity=".65" d="M487.3 214.5h0M490 217.8h0"/><path class="c5" opacity=".65" d="M487.6 215.3h0"/><path class="c5" opacity=".65" d="M489.3 216h0"/><path class="c5" opacity=".65" d="M489.6 216.7h0"/><path class="c25" opacity=".65" d="M440.7 267.9h0M447.9 266.8h0M444.2 268.2h0M450.5 267.6h0M437.8 268.6h0M446.8 269.1h0M440.1 270.6h0M442.8 270.5h0M453.6 269.7h0"/><path class="c25" opacity=".65" d="M442.8 267.9h0M448.7 267.6h0M446.2 268.1h0M439.9 269.4h0M451 270h0M443.7 270.7h0M448.3 270.3h0"/><path class="c25" opacity=".65" d="M440.6 268.5h0M444.5 268.5h0M451 268.3h0M448.6 268.9h0M437.7 270.1h0M446.3 270.3h0M441.6 271.3h0"/><path class="c25" opacity=".65" d="M446.3 267.2h0M442.5 267.7h0M448.9 269.6h0M444.4 269.3h0M439.5 270.6h0M446.4 271h0"/><path class="c25" opacity=".65" d="M450.7 268.7h0M444.2 270.8h0"/><path class="c17" opacity=".65" d="M506.9 255.9h0M506.6 253.1h0M509.4 257.8h0"/><path class="c17" opacity=".65" d="M507.2 254.8h0"/><g class="c29" fill-opacity=".6" stroke-opacity=".6"><use href="#k" x="355.3" y="278.7"/><use href="#k" x="365.2" y="278.3"/><use href="#k" x="350.9" y="279.9"/><use href="#k" x="374.2" y="277.1"/><use href="#k" x="361.8" y="279.2"/><use href="#k" x="346.5" y="281"/><use href="#k" x="276.8" y="284.3"/><use href="#k" x="371.4" y="278.9"/><use href="#k" x="357.2" y="280.9"/><use href="#k" x="367.2" y="280.1"/></g><path class="c29" opacity=".65" d="M379.5 275h0M387 275h0M369.1 276.8h0M392.9 274.2h0M398.8 274h0M376.6 276.5h0M384.5 276h0M378.6 278.3h0M393.1 277.5h0"/><path class="c29" opacity=".65" d="M391.1 275.1h0M396.8 275.2h0M381 276.8h0M388.4 276.3h0M400.4 275.3h0"/><path class="c29" opacity=".65" d="M398.6 275.7h0M386.3 277.6h0"/><path class="c22" opacity=".65" d="M467.4 264.3h0M470.1 264.8h0M468.1 266.7h0M472.4 267.4h0"/><path class="c22" opacity=".65" d="M468.4 265.5h0M471.4 266h0M472.9 268h0"/><path class="c22" opacity=".65" d="M466 265.8h0M470.1 265.5h0"/><path class="c22" opacity=".65" d="M466.6 266.5h0M469.6 267.7h0"/><path class="c22" opacity=".65" d="M469 266.9h0"/><path class="c18" opacity=".65" d="M506.9 258.4h0M496.9 261.7h0M509.1 261.1h0"/><path class="c18" opacity=".65" d="M508.7 259.3h0"/><path class="c10" opacity=".65" d="M497.8 231.3h0M497.2 228.8h0"/><path class="c10" opacity=".65" d="M497.3 230.5h0"/><g class="c28" fill-opacity=".6" stroke-opacity=".6"><use href="#k" x="276.5" y="281.7"/></g><path class="c28" opacity=".65" d="M406.7 271.8h0M400.9 273h0M403.7 273.1h0M410.9 273.3h0M406.7 274.6h0M394.4 275.2h0"/><path class="c28" opacity=".65" d="M409.1 272.2h0M402.1 274h0M413.2 273.9h0M407.8 275.9h0"/><path class="c28" opacity=".65" d="M408.2 272.7h0M404.3 275.1h0M411.7 274.9h0"/><path class="c28" opacity=".65" d="M409.7 274.3h0"/><path class="c13" opacity=".65" d="M502.2 240.3h0"/><path class="c19" opacity=".65" d="M503.5 261.3h0M488.8 262.3h0M493.1 262.6h0M499.6 262.2h0M486.1 263.9h0M506.5 262.3h0M496.8 263.7h0M509 262.6h0M488.7 265.2h0M499.9 265h0M504.6 264.6h0"/><path class="c19" opacity=".65" d="M504.8 261.9h0M490.2 264h0M500.8 262.7h0M495.3 262.7h0M498.2 263.7h0"/><path class="c19" opacity=".65" d="M492.2 263.7h0M502.9 262.6h0M495.5 265.2h0"/><path class="c19" opacity=".65" d="M493.7 264.5h0M490.3 265.2h0"/><path class="c12" opacity=".65" d="M499.6 236.5h0M502.1 238.7h0"/><path class="c12" opacity=".65" d="M499.4 235.2h0"/><path class="c12" opacity=".65" d="M501.3 236.4h0"/><path class="c12" opacity=".65" d="M501 236.7h0"/><path class="c27" opacity=".65" d="M417 271.2h0M420.4 270.5h0M412.4 272h0M425.3 271.6h0M422.9 273.7h0M419.9 274.4h0M415.5 274.2h0"/><path class="c27" opacity=".65" d="M415.7 272.2h0M419.4 271.7h0M424.1 272.4h0"/><path class="c27" opacity=".65" d="M421.8 272.1h0M415.2 272.7h0M418.5 272.5h0"/><path class="c27" opacity=".65" d="M416.8 273.6h0M419.9 272.4h0"/><path class="c23" opacity=".65" d="M462.7 266h0M460 266h0M465.5 265.8h0M462.7 268.7h0M467.2 267.9h0"/><path class="c23" opacity=".65" d="M461.2 267.1h0M464.1 266.9h0M463 269.3h0M468.4 268.5h0"/><path class="c23" opacity=".65" d="M462.8 265.6h0M464.7 267.3h0"/><path class="c23" opacity=".65" d="M461.8 267.8h0M464.3 268.5h0"/><g class="c30" fill-opacity=".6" stroke-opacity=".6"><use href="#k" x="285.3" y="286"/><use href="#k" x="312" y="284.7"/><use href="#k" x="278.5" y="286.8"/><use href="#k" x="333.6" y="282"/><use href="#k" x="304.6" y="286.2"/><use href="#k" x="327.4" y="283.9"/><use href="#k" x="295.6" y="288.9"/><use href="#k" x="321.1" y="285.6"/><use href="#k" x="341.7" y="283.3"/></g><path class="c14" opacity=".65" d="M503 243.2h0M505.1 246.3h0"/><path class="c14" opacity=".65" d="M503.2 242.4h0"/><path class="c7" opacity=".65" d="M491.9 222.5h0"/><path class="c7" opacity=".65" d="M491.8 220.6h0M493.7 222.8h0"/><path class="c7" opacity=".65" d="M493.3 221.5h0"/><path class="c16" opacity=".65" d="M506.5 251.4h0"/><path class="c8" opacity=".65" d="M493.3 223.6h0"/><path class="c8" opacity=".65" d="M495.3 225.1h0"/><path class="c8" opacity=".65" d="M494.5 223.8h0"/><path class="c10" opacity=".66" d="M499.7 233.1h0"/><path class="c10" opacity=".66" d="M498.6 231.6h0"/><path class="c14" opacity=".66" d="M504.5 244.7h0"/><path class="c4" opacity=".66" d="M490.7 216.7h0"/><path class="c17" opacity=".66" d="M508.1 256.4h0"/><path class="c24" opacity=".66" d="M453.5 269.9h0M456.2 268.9h0M460.3 269.5h0M456.4 272.4h0M459.1 271.9h0"/><path class="c24" opacity=".66" d="M458.4 270h0M461.1 270.3h0M453.5 270.9h0"/><path class="c24" opacity=".66" d="M456.1 270.5h0M461.7 271.2h0M453.8 272.2h0"/><path class="c24" opacity=".66" d="M458.5 270.7h0"/><g class="c29" fill-opacity=".6" stroke-opacity=".6"><use href="#k" x="364" y="281.4"/><use href="#k" x="372.6" y="281.4"/><use href="#k" x="359.9" y="283"/></g><path class="c29" opacity=".66" d="M383.3 279.2h0M375.8 279.7h0M402.3 276.7h0M397.3 277.1h0M389.6 278.5h0M394.4 278.5h0M380.1 280.6h0M404.6 278h0"/><path class="c29" opacity=".66" d="M400.7 277.5h0M387.9 279.2h0M391.5 279.3h0"/><path class="c9" opacity=".66" d="M498.1 228h0"/><path class="c9" opacity=".66" d="M498 230h0M497.2 227.4h0"/><path class="c13" opacity=".66" d="M504 242.4h0"/><path class="c13" opacity=".66" d="M504.3 240.8h0"/><path class="c23" opacity=".66" d="M465.4 269.4h0M469.1 270.6h0"/><path class="c23" opacity=".66" d="M463 269.9h0M466.8 270.2h0"/><path class="c23" opacity=".66" d="M464.1 270.8h0M466.5 271.6h0"/><path class="c11" opacity=".66" d="M500.1 234.9h0M502.4 236.2h0"/><path class="c21" opacity=".66" d="M477.3 268.5h0M481.3 267.9h0"/><path class="c21" opacity=".66" d="M482.2 268.6h0M478.8 268.8h0"/><path class="c20" opacity=".66" d="M483.5 267h0M491.8 266.7h0M487.8 267.1h0"/><path class="c20" opacity=".66" d="M484.4 267.1h0M489.1 267.7h0M493.3 267.5h0"/><path class="c20" opacity=".66" d="M486.2 268.2h0M490.5 268h0"/><path class="c20" opacity=".66" d="M487.1 268.4h0"/><path class="c26" opacity=".66" d="M441.7 272.7h0M431.9 273.3h0M439.2 272.8h0M436.5 272.9h0M430 275.4h0"/><path class="c26" opacity=".66" d="M434.1 272.9h0M439 273.6h0"/><path class="c26" opacity=".66" d="M433.1 273.3h0M441 273.7h0M435.9 274.4h0"/><path class="c26" opacity=".66" d="M433.3 275.2h0M440.9 274.5h0M438 274h0"/><path class="c27" opacity=".66" d="M427.9 273.8h0M418.6 275h0M421.7 274.9h0M424.6 274.4h0M430.2 275h0"/><path class="c27" opacity=".66" d="M427.4 274.8h0M417.8 275.9h0M424.4 274.5h0M421.3 275.4h0"/><path class="c27" opacity=".66" d="M423.7 276.3h0M420.2 276.7h0"/><path class="c27" opacity=".66" d="M425.9 275.9h0"/><path class="c6" opacity=".66" d="M491.9 219.2h0M495 222.1h0"/><path class="c28" opacity=".66" d="M405.7 276.5h0M414.2 275.8h0M410.3 276.8h0"/><path class="c28" opacity=".66" d="M409.3 277.1h0M413.3 277.1h0"/><path class="c25" opacity=".66" d="M451.1 271h0M448.2 270.9h0M446.2 272.4h0M449.2 273.3h0M443.5 273.9h0"/><path class="c25" opacity=".66" d="M443.9 272.6h0M448.6 272.2h0M451.4 271.7h0"/><path class="c25" opacity=".66" d="M446.2 272.7h0M451.2 272.6h0"/><path class="c25" opacity=".66" d="M444 273.5h0"/><path class="c22" opacity=".66" d="M470.9 268.9h0M474.2 268.5h0M472.8 270.6h0"/><path class="c22" opacity=".66" d="M469 269.1h0M471.6 269.3h0M474.7 269.5h0"/><path class="c22" opacity=".66" d="M476.1 269.7h0M473.5 270.5h0"/><g class="c30" fill-opacity=".6" stroke-opacity=".6"><use href="#k" x="353.2" y="282.7"/><use href="#k" x="313.9" y="288"/><use href="#k" x="348.7" y="284.2"/><use href="#k" x="329.7" y="286.4"/></g><path class="c19" opacity=".66" d="M506.7 264.2h0M496.3 265.7h0M501.9 265.3h0M504.3 266.5h0M511.6 265.3h0M500.3 267.4h0"/><path class="c19" opacity=".66" d="M508.7 265.3h0M498 266.1h0M494.4 267.2h0M505.9 266h0"/><path class="c19" opacity=".66" d="M510.5 264.4h0"/><path class="c5" opacity=".66" d="M491.3 218.1h0M494.1 220.3h0"/><path class="c12" opacity=".66" d="M503 239.2h0"/><path class="c12" opacity=".66" d="M503.5 237.4h0"/><path class="c16" opacity=".66" d="M508.5 253.6h0"/><path class="c16" opacity=".66" d="M508.4 252.3h0"/><path class="c8" opacity=".66" d="M496.7 225.9h0"/><path class="c7" opacity=".66" d="M495.6 223.1h0"/><path class="c7" opacity=".66" d="M496.5 224.7h0"/><g class="c31" fill-opacity=".6" stroke-opacity=".6"><use href="#k" x="274.9" y="293.8"/></g><path class="c5" opacity=".66" d="M493.2 219.1h0"/><path class="c15" opacity=".66" d="M507.9 250.7h0"/><path class="c11" opacity=".66" d="M501.7 234.7h0"/><path class="c18" opacity=".66" d="M510.9 261.9h0"/><path class="c10" opacity=".66" d="M501.3 232.9h0"/><path class="c10" opacity=".66" d="M501.5 232h0"/><path class="c14" opacity=".66" d="M507.6 248.6h0"/><path class="c14" opacity=".66" d="M507 247.1h0"/><path class="c21" opacity=".66" d="M480.2 269.6h0M484.5 270.5h0M478 271.4h0"/><path class="c21" opacity=".66" d="M480.7 270.2h0"/><path class="c21" opacity=".66" d="M481.5 271.5h0"/><g class="c29" fill-opacity=".6" stroke-opacity=".6"><use href="#k" x="369.3" y="282.9"/><use href="#k" x="377.7" y="281.5"/><use href="#k" x="365.3" y="284.6"/><use href="#k" x="374.6" y="283.4"/><use href="#k" x="361.5" y="285.9"/></g><path class="c29" opacity=".66" d="M398.8 278.9h0M403 279h0M407.5 278.9h0M385 280.7h0M390.7 281.7h0M395.2 281.2h0M399.4 281.9h0M403.9 281.4h0M379.6 284.1h0"/><path class="c29" opacity=".66" d="M397.1 280.4h0M401.1 279.4h0M405.5 280.3h0M383.1 282h0M408.5 280.9h0"/><path class="c24" opacity=".66" d="M456.6 272.2h0M459.5 272.8h0M465.1 272.8h0M462.4 273.3h0M456.9 274.9h0"/><path class="c24" opacity=".66" d="M461.7 272.3h0M456.9 273.9h0M460.1 274.5h0"/><path class="c24" opacity=".66" d="M459.6 273.3h0M463.3 273.8h0"/><path class="c19" opacity=".66" d="M496.4 268.3h0M501.4 268.6h0M492.3 268.3h0M507.8 266.8h0M509.8 268.5h0M498.8 269.8h0"/><path class="c19" opacity=".66" d="M503.9 268.6h0M498.2 268.7h0"/><path class="c23" opacity=".66" d="M464.9 271.8h0M467.8 272h0M471 271.8h0"/><path class="c23" opacity=".66" d="M468.5 272.6h0M465.9 273.6h0"/><path class="c23" opacity=".66" d="M468.8 273.7h0"/><g class="c30" fill-opacity=".6" stroke-opacity=".6"><use href="#k" x="355.6" y="285.2"/><use href="#k" x="344.1" y="285.4"/><use href="#k" x="297.8" y="292.6"/><use href="#k" x="274.1" y="290.8"/><use href="#k" x="338.7" y="287.6"/><use href="#k" x="371.1" y="285.3"/><use href="#k" x="351.5" y="286.8"/></g><path class="c30" opacity=".66" d="M388.1 282.7h0"/><path class="c22" opacity=".66" d="M470.5 270.8h0M477.5 271.2h0M473.8 271.5h0"/><path class="c22" opacity=".66" d="M471.2 272.2h0M474.8 272.8h0M478.5 272.2h0"/><path class="c25" opacity=".66" d="M453.8 273.1h0M446.5 273.5h0M443.2 274.9h0M449.2 275.3h0M452.1 275.7h0"/><path class="c25" opacity=".66" d="M448.4 274.3h0M451.6 273.8h0M446.1 275.8h0M454.6 275.1h0"/><path class="c25" opacity=".66" d="M446.6 274.6h0M454 274.3h0M449.1 275.8h0"/><path class="c25" opacity=".66" d="M452.2 274.7h0"/><path class="c27" opacity=".66" d="M422.6 276.9h0M428.7 276.5h0M425.8 276.6h0M424.2 279.3h0"/><path class="c27" opacity=".66" d="M428.1 277.9h0M422.3 278.2h0M425 278.1h0"/><g class="c28" fill-opacity=".6" stroke-opacity=".6"><use href="#k" x="274.1" y="288.2"/></g><path class="c28" opacity=".66" d="M416.1 277.1h0M411.7 278.1h0M418.7 277.9h0M413.3 280.2h0M420.8 279.5h0"/><path class="c28" opacity=".66" d="M411 278.9h0M414.7 278.1h0M418.1 279.4h0"/><path class="c17" opacity=".66" d="M511.3 260.3h0"/><path class="c17" opacity=".66" d="M511 258.5h0"/><path class="c26" opacity=".66" d="M435.8 275.5h0M438.5 275.2h0M432.3 275.5h0M443.4 276.3h0M436.9 278h0M431.6 278h0"/><path class="c26" opacity=".66" d="M440.7 275.4h0M434.5 275.5h0M438 277h0M432 276.9h0"/><path class="c26" opacity=".66" d="M440.8 276.3h0M434.9 277.6h0"/><path class="c9" opacity=".66" d="M499.6 229.1h0"/><path class="c9" opacity=".66" d="M500.4 230.3h0"/><path class="c13" opacity=".66" d="M506.6 243.1h0"/><path class="c13" opacity=".66" d="M506.7 245.4h0"/><path class="c20" opacity=".66" d="M483.8 269.2h0M488.7 269.1h0M494.2 269.7h0M486.2 270.8h0M491.6 271.6h0"/><path class="c20" opacity=".66" d="M489.9 270h0M495.7 270.9h0"/><path class="c8" opacity=".66" d="M498.6 227.9h0"/><g class="c31" fill-opacity=".6" stroke-opacity=".6"><use href="#k" x="323.5" y="289.3"/><use href="#k" x="332.9" y="290"/></g><path class="c7" opacity=".66" d="M498.4 226.2h0"/><path class="c7" opacity=".66" d="M497.7 224.5h0"/><path class="c12" opacity=".66" d="M505.5 239.8h0"/><path class="c12" opacity=".66" d="M505.8 241.6h0"/><path class="c16" opacity=".66" d="M509.6 256h0"/><path class="c6" opacity=".66" d="M496.8 223.5h0"/><path class="c6" opacity=".66" d="M496.1 222.4h0"/><path class="c15" opacity=".67" d="M510.4 253.9h0"/><path class="c15" opacity=".67" d="M509.5 253.2h0"/><path class="c11" opacity=".67" d="M504.7 238.6h0"/><path class="c11" opacity=".67" d="M504.2 236.2h0"/><path class="c10" opacity=".67" d="M503.7 235.6h0"/><path class="c10" opacity=".67" d="M502.9 233.5h0"/><path class="c19" opacity=".67" d="M505.6 269.2h0M512.5 268.3h0M501.5 270.5h0M510.3 270.4h0"/><path class="c19" opacity=".67" d="M512.8 267.2h0M507.7 270h0M512.5 271.4h0"/><path class="c14" opacity=".67" d="M509.4 251.5h0M508.7 248.9h0"/><path class="c29" opacity=".67" d="M392.7 282.9h0M397.1 283.1h0M412.1 281.4h0M408 281.9h0M401.9 282.7h0M405.5 283.7h0"/><path class="c29" opacity=".67" d="M395.3 284.3h0M410.5 282.5h0M400.7 284.1h0"/><path class="c29" opacity=".67" d="M408.9 283.9h0"/><path class="c18" opacity=".67" d="M512.6 265.4h0"/><path class="c25" opacity=".67" d="M446.1 276.8h0M457.7 275.9h0M454.9 276.3h0M452.3 277.2h0M448.4 278.4h0"/><path class="c25" opacity=".67" d="M448.5 277h0M455.3 277.4h0M451.7 277.9h0M458.4 278.1h0"/><path class="c25" opacity=".67" d="M452.6 278.7h0M455.9 278h0"/><path class="c21" opacity=".67" d="M482.7 272.6h0M489.1 272.5h0M486 274.5h0"/><path class="c21" opacity=".67" d="M480.2 272.8h0M484.8 273.5h0M487.3 274.9h0"/><path class="c22" opacity=".67" d="M476.5 273.3h0M473.4 274.2h0M480.8 274.5h0M478 275.8h0"/><path class="c22" opacity=".67" d="M477.5 274.5h0M482.6 275h0"/><path class="c24" opacity=".67" d="M465.9 275h0M460.3 275.9h0M457.2 276.6h0M461.8 278h0"/><path class="c24" opacity=".67" d="M463.6 275.1h0M460.8 276.7h0M467.5 276.6h0"/><path class="c24" opacity=".67" d="M464.1 276h0"/><path class="c24" opacity=".67" d="M465.4 277.2h0"/><path class="c27" opacity=".67" d="M427.5 279.2h0M431.1 279.7h0M423.3 280.1h0M426.2 281.5h0"/><path class="c27" opacity=".67" d="M427.3 279.8h0M430 280.4h0"/><path class="c27" opacity=".67" d="M428.6 281.7h0"/><path class="c9" opacity=".67" d="M501.6 232.3h0"/><path class="c9" opacity=".67" d="M501.8 231.3h0"/><path class="c26" opacity=".67" d="M440.6 277.3h0M443.3 277.4h0M434 277.7h0M437.7 279.4h0M446.3 278.3h0M433 280.8h0"/><path class="c26" opacity=".67" d="M439.7 278.1h0M443 278.4h0M433.1 279.5h0M436.6 280.2h0M445.5 279.3h0"/><path class="c26" opacity=".67" d="M439.2 279.7h0M443 279.4h0"/><path class="c23" opacity=".67" d="M472.6 273.6h0M470 274.7h0"/><path class="c23" opacity=".67" d="M467.7 275.5h0M474 275.6h0M471.7 276.5h0"/><path class="c23" opacity=".67" d="M470.2 275.2h0"/><path class="c8" opacity=".67" d="M501.1 229.1h0"/><g class="c30" fill-opacity=".6" stroke-opacity=".6"><use href="#k" x="288" y="295"/><use href="#k" x="346.9" y="288.3"/><use href="#k" x="367.8" y="287"/><use href="#k" x="357.8" y="287.6"/><use href="#k" x="376.1" y="286.1"/><use href="#k" x="341.9" y="290.7"/><use href="#k" x="353.1" y="289"/><use href="#k" x="373.5" y="287.6"/><use href="#k" x="363.7" y="288.6"/></g><path class="c30" opacity=".67" d="M385.4 284.2h0M390.2 284.2h0M381.9 285.9h0M387.5 285.9h0M379.4 288h0M392.7 285.8h0M398.7 285.8h0"/><path class="c20" opacity=".67" d="M487.5 271.7h0M497.7 271h0M492.6 272h0M503.7 271.7h0M490.3 273.1h0M506.1 272.2h0M500.7 273.1h0"/><path class="c20" opacity=".67" d="M494.8 272.8h0M499.3 271.9h0"/><path class="c28" opacity=".67" d="M416 280.4h0M419.8 280.6h0M422.2 281.8h0M413.9 283.2h0"/><path class="c28" opacity=".67" d="M415.5 281.9h0M418.7 282.2h0"/><path class="c7" opacity=".67" d="M500.4 228.1h0"/><path class="c7" opacity=".67" d="M499.6 226.3h0"/><path class="c13" opacity=".67" d="M508.4 247.5h0M508.5 244h0"/><path class="c13" opacity=".67" d="M508.4 246h0"/><path class="c17" opacity=".67" d="M512.3 264.3h0M512.6 261.8h0"/><g class="c31" fill-opacity=".6" stroke-opacity=".6"><use href="#k" x="308.8" y="294.1"/><use href="#k" x="326.5" y="292"/><use href="#k" x="277.1" y="298.4"/><use href="#k" x="300.3" y="296.5"/><use href="#k" x="320.5" y="294.3"/></g><path class="c6" opacity=".67" d="M499.3 224.7h0"/><path class="c12" opacity=".67" d="M506.6 242.4h0"/><path class="c16" opacity=".67" d="M511.8 260.2h0"/><path class="c15" opacity=".68" d="M511.5 256.2h0"/><path class="c19" opacity=".68" d="M513.8 271.7h0"/><path class="c10" opacity=".68" d="M505.3 237.4h0"/><path class="c10" opacity=".68" d="M505 235.2h0"/><path class="c9" opacity=".68" d="M504.5 233.7h0"/><path class="c14" opacity=".68" d="M511.2 254.3h0M509.9 252.1h0"/><path class="c11" opacity=".68" d="M507 240.4h0M508.2 243.1h0"/><path class="c11" opacity=".68" d="M505.7 239.7h0"/><path class="c8" opacity=".68" d="M503.8 231.9h0"/><path class="c8" opacity=".68" d="M502.8 230.9h0"/><path class="c21" opacity=".68" d="M496.1 274.6h0M491.7 274.8h0M488.7 276.4h0M500.1 276.7h0M496.2 277.8h0"/><path class="c21" opacity=".68" d="M492.5 275.6h0M495.1 276.8h0"/><path class="c21" opacity=".68" d="M490.3 276.7h0"/><g class="c31" fill-opacity=".6" stroke-opacity=".6"><use href="#k" x="336.1" y="293.4"/><use href="#k" x="272.5" y="297.7"/><use href="#k" x="312.7" y="297.5"/><use href="#k" x="342.9" y="294.1"/><use href="#k" x="337.8" y="297.4"/></g><path class="c24" opacity=".68" d="M468 277.7h0M465.3 278.6h0M462.6 278.6h0M459.2 279.8h0M470.1 279.9h0M466.9 281h0"/><path class="c24" opacity=".68" d="M468.8 278.7h0M465.3 279.7h0M462.1 279.6h0"/><path class="c18" opacity=".68" d="M514.5 269.8h0"/><path class="c18" opacity=".68" d="M514.2 268.5h0"/><g class="c29" fill-opacity=".6" stroke-opacity=".6"><use href="#k" x="359.5" y="290"/><use href="#k" x="375.6" y="288.2"/><use href="#k" x="271.9" y="295.9"/></g><path class="c29" opacity=".68" d="M403.6 285h0M412.3 284.3h0M406.8 285.3h0M402 287h0M405.2 287.4h0M399.7 287.9h0M409.5 288h0"/><path class="c29" opacity=".68" d="M411.1 286h0M404.8 288.4h0"/><path class="c26" opacity=".68" d="M439.5 280.8h0M435.8 281.3h0M443 280.6h0M445.7 280.5h0M449.2 282.5h0M438.5 283.3h0M445.4 283.5h0M442 283.6h0"/><path class="c26" opacity=".68" d="M439.2 282.2h0M442.2 281.5h0M445.6 281.6h0M435.2 283.6h0"/><path class="c20" opacity=".68" d="M507.9 273.3h0M502.6 274.2h0M497.4 275h0M505 275.4h0M512.3 274.8h0"/><path class="c20" opacity=".68" d="M509.6 274h0M506.9 276.9h0"/><path class="c27" opacity=".68" d="M424.9 282.5h0M432.8 282.4h0M428.2 283.5h0M436 283h0M431.4 285.4h0M433.9 285h0"/><path class="c27" opacity=".68" d="M424.6 283.8h0M431.9 283.1h0M427.2 284.6h0"/><path class="c22" opacity=".68" d="M479.2 276.1h0M483.8 275.8h0M481.8 278.3h0M486.4 278.3h0M491.5 278.7h0"/><path class="c22" opacity=".68" d="M480.6 276.6h0M485.6 277.2h0"/><path class="c7" opacity=".68" d="M502 229.7h0"/><path class="c16" opacity=".68" d="M510.9 258.1h0M514 261.7h0"/><path class="c28" opacity=".68" d="M417.1 283.3h0M421.1 283.2h0M423 285.7h0M418.5 286.4h0M415 286.5h0"/><path class="c28" opacity=".68" d="M416.5 284.9h0M420.2 285h0"/><path class="c23" opacity=".68" d="M475.4 276.3h0M472.6 277.7h0M476.9 279.3h0M474.2 279.7h0"/><path class="c23" opacity=".68" d="M473.6 277.9h0M476.5 277.7h0M478.6 279.8h0"/><path class="c25" opacity=".68" d="M448.6 278.9h0M455.8 279.7h0M452.7 280.2h0M458.7 279.2h0M462.4 281.2h0M452 282.9h0M449.2 282.8h0"/><path class="c25" opacity=".68" d="M449.1 279.9h0M455.7 280.6h0M452.8 281.2h0M459.4 281.4h0"/><path class="c25" opacity=".68" d="M456.4 281.8h0"/><g class="c30" fill-opacity=".6" stroke-opacity=".6"><use href="#k" x="348.7" y="292.1"/><use href="#k" x="370" y="289.5"/><use href="#k" x="366.1" y="291.3"/><use href="#k" x="355.7" y="292.7"/><use href="#k" x="393.7" y="288.5"/><use href="#k" x="387.7" y="289"/><use href="#k" x="379.3" y="291.8"/><use href="#k" x="362.7" y="293.6"/><use href="#k" x="350.8" y="295.3"/></g><path class="c30" opacity=".68" d="M384.9 287.5h0M395.9 287.1h0M390.6 287.8h0M381.8 289.6h0M373.1 291.6h0"/><path class="c13" opacity=".68" d="M510.7 250.4h0"/><path class="c13" opacity=".68" d="M510.2 248.6h0"/><path class="c6" opacity=".68" d="M501.2 227.8h0"/><path class="c12" opacity=".68" d="M509.9 247h0M509 244.5h0"/><path class="c17" opacity=".68" d="M513.6 266.4h0"/><path class="c17" opacity=".68" d="M514 264.9h0"/><g class="c32" fill-opacity=".6" stroke-opacity=".6"><use href="#k" x="323.2" y="298.4"/></g><path class="c15" opacity=".70" d="M513.7 260h0"/><path class="c15" opacity=".70" d="M513.5 258.1h0"/><path class="c8" opacity=".70" d="M504.7 235.1h0"/><path class="c19" opacity=".70" d="M515 274.7h0"/><path class="c7" opacity=".70" d="M504.5 232.7h0"/><path class="c7" opacity=".70" d="M503.9 231.2h0"/><path class="c14" opacity=".70" d="M512.4 256.7h0"/><g class="c20" fill-opacity=".7" stroke-opacity=".7"><use href="#k" x="506.6" y="279.3"/></g><path class="c20" opacity=".70" d="M501.9 277h0M515.1 275.7h0M510.1 276.9h0M512.2 278.6h0M514.8 279.5h0"/><path class="c10" opacity=".70" d="M507.2 239.9h0M509.5 243h0"/><path class="c10" opacity=".70" d="M507.4 241.1h0M506.5 238h0"/><path class="c10" opacity=".70" d="M509 241.4h0"/><path class="c25" opacity=".70" d="M460.3 282.9h0M455.8 283.2h0M453 283.7h0M460.7 285.9h0"/><path class="c25" opacity=".70" d="M457.6 284.7h0M460.1 283.9h0M452.4 285.1h0M460.9 287.1h0"/><g class="c30" fill-opacity=".7" stroke-opacity=".7"><use href="#k" x="369.4" y="293.2"/><use href="#k" x="391.6" y="290.8"/><use href="#k" x="358.3" y="295.2"/><use href="#k" x="376.3" y="293.2"/><use href="#k" x="345.5" y="296.9"/><use href="#k" x="395.2" y="291.9"/><use href="#k" x="382.4" y="293.2"/><use href="#k" x="365.6" y="295.9"/><use href="#k" x="388.8" y="293.5"/><use href="#k" x="372.6" y="295.1"/><use href="#k" x="353.9" y="297.9"/><use href="#k" x="393.2" y="294"/><use href="#k" x="386.4" y="294.9"/><use href="#k" x="379.1" y="294.9"/><use href="#k" x="398.2" y="294.6"/></g><path class="c30" opacity=".70" d="M398.7 289.4h0M385.4 291.1h0M402.7 290.7h0"/><path class="c30" opacity=".70" d="M400.8 291.9h0"/><g class="c22" fill-opacity=".7" stroke-opacity=".7"><use href="#k" x="497" y="282.3"/></g><path class="c22" opacity=".70" d="M483.5 279.8h0M487.5 279h0M489.2 281h0M495.2 280.8h0"/><path class="c22" opacity=".70" d="M483.8 280.6h0M490.8 281.6h0"/><g class="c32" fill-opacity=".7" stroke-opacity=".7"><use href="#k" x="280.9" y="303.7"/><use href="#k" x="271.8" y="305.2"/><use href="#k" x="307.6" y="304.4"/></g><g class="c21" fill-opacity=".7" stroke-opacity=".7"><use href="#k" x="499.2" y="278.5"/><use href="#k" x="502.7" y="281.6"/></g><path class="c21" opacity=".70" d="M494 279h0M503.8 278.5h0M500.8 279.9h0M508.2 281.3h0"/><g class="c31" fill-opacity=".7" stroke-opacity=".7"><use href="#k" x="304.6" y="300.9"/><use href="#k" x="332.2" y="299.3"/><use href="#k" x="340.6" y="300"/><use href="#k" x="271.1" y="302.8"/></g><path class="c24" opacity=".70" d="M471.3 281.5h0M467.3 282.3h0M463.5 282.2h0M473.3 283.5h0M477.8 284.8h0M464.9 284.5h0M469.3 284.7h0"/><path class="c24" opacity=".70" d="M471.9 282h0M468.3 283.3h0M463.7 283.4h0M473.7 284.5h0"/><path class="c28" opacity=".70" d="M426.2 286.5h0M417.4 288h0M422.6 286.8h0M429.4 288.9h0M424 289.2h0M420.4 290.7h0M432.9 290.1h0"/><path class="c28" opacity=".70" d="M425.4 287.8h0M421.7 288.9h0M428.3 290.1h0M423.6 291.3h0"/><path class="c27" opacity=".70" d="M438 285.4h0M430.4 287h0M434.3 287h0M442 286.9h0M436.9 287.9h0"/><path class="c27" opacity=".70" d="M437.9 286.4h0M433.2 288.5h0M441.4 288.1h0M437.1 290h0"/><path class="c13" opacity=".70" d="M511.9 255h0"/><path class="c13" opacity=".70" d="M511.5 252.7h0"/><path class="c18" opacity=".70" d="M515.2 272.9h0"/><path class="c18" opacity=".70" d="M515.1 271.3h0"/><path class="c29" opacity=".70" d="M413.5 288.2h0M408 289.4h0M416.6 289.8h0M410.6 291.3h0M404.9 292.6h0"/><path class="c29" opacity=".70" d="M412.6 289.7h0M406.3 291h0M414.9 291.3h0"/><path class="c26" opacity=".70" d="M445.6 283.7h0M442.1 285h0M449 284.4h0M445.1 287.4h0M456.7 286.4h0M452.6 286.8h0M449.1 288h0"/><path class="c26" opacity=".70" d="M445.2 286.1h0M449.1 285.9h0"/><g class="c23" fill-opacity=".7" stroke-opacity=".7"><use href="#k" x="487.5" y="283.6"/></g><path class="c23" opacity=".70" d="M474.6 281.6h0M480 281.4h0M485.9 282.1h0M482.8 283.7h0"/><path class="c23" opacity=".70" d="M476.1 282.4h0M481.2 282.3h0"/><path class="c9" opacity=".70" d="M505.9 236h0M508.5 239.7h0"/><path class="c12" opacity=".70" d="M510.9 249.1h0"/><path class="c12" opacity=".70" d="M511.2 251.1h0"/><path class="c17" opacity=".70" d="M515.3 268.8h0"/><path class="c11" opacity=".70" d="M510.2 247h0"/><path class="c11" opacity=".70" d="M510.1 245.5h0"/><path class="c16" opacity=".70" d="M515 264.9h0"/><path class="c16" opacity=".70" d="M515.1 266.7h0"/><path class="c19" opacity=".71" d="M515.2 278.2h0"/><path class="c8" opacity=".71" d="M506.6 235.9h0M509.1 241.2h0"/><path class="c8" opacity=".71" d="M507.5 237.8h0"/><path class="c18" opacity=".71" d="M515.9 276.1h0"/><g class="c22" fill-opacity=".7" stroke-opacity=".7"><use href="#k" x="498.6" y="283.1"/><use href="#k" x="494.8" y="285"/><use href="#k" x="501.7" y="284.2"/><use href="#k" x="496.7" y="286"/><use href="#k" x="503.4" y="286.4"/></g><path class="c22" opacity=".71" d="M492.7 282.8h0M488.8 284.3h0"/><path class="c12" opacity=".71" d="M512.9 255.1h0"/><path class="c12" opacity=".71" d="M512.6 252.9h0"/><path class="c15" opacity=".71" d="M514.9 262.6h0M515.1 267.7h0"/><g class="c24" fill-opacity=".7" stroke-opacity=".7"><use href="#k" x="486.1" y="288.5"/></g><path class="c24" opacity=".71" d="M478.7 285.3h0M483.2 285.6h0M481.1 287.9h0"/><path class="c24" opacity=".71" d="M479.9 286.6h0"/><path class="c17" opacity=".71" d="M515.9 273.6h0"/><path class="c17" opacity=".71" d="M515.8 271.8h0"/><g class="c30" fill-opacity=".7" stroke-opacity=".7"><use href="#k" x="391.1" y="295.8"/><use href="#k" x="369.2" y="298.3"/><use href="#k" x="383.8" y="297.1"/><use href="#k" x="376.4" y="297.6"/><use href="#k" x="402" y="294.6"/><use href="#k" x="396.3" y="296.6"/><use href="#k" x="372.8" y="300.2"/><use href="#k" x="388.5" y="297.5"/><use href="#k" x="381.2" y="299.5"/><use href="#k" x="399.9" y="297.6"/><use href="#k" x="393.3" y="298.8"/><use href="#k" x="405.9" y="297.4"/><use href="#k" x="398.6" y="299.5"/><use href="#k" x="385.4" y="300.3"/></g><g class="c26" fill-opacity=".7" stroke-opacity=".7"><use href="#k" x="462.2" y="289.1"/><use href="#k" x="457.9" y="289.2"/><use href="#k" x="453.5" y="290.7"/><use href="#k" x="445.6" y="290.6"/><use href="#k" x="463.2" y="292.5"/><use href="#k" x="458.8" y="292.6"/></g><path class="c26" opacity=".71" d="M445.8 289h0M449.7 288.7h0M452.8 288.6h0M458.4 290.5h0M462.3 290.7h0M453.3 292h0"/><path class="c26" opacity=".71" d="M449.6 291.1h0"/><path class="c11" opacity=".71" d="M511.7 251h0"/><path class="c11" opacity=".71" d="M511.4 248.7h0"/><path class="c21" opacity=".71" d="M511.1 282h0M504.8 283.1h0M513.5 283.8h0M515.9 284.8h0M510.1 285.2h0"/><path class="c21" opacity=".71" d="M506.4 284.6h0"/><g class="c25" fill-opacity=".7" stroke-opacity=".7"><use href="#k" x="466" y="287"/><use href="#k" x="466.5" y="288.5"/><use href="#k" x="467.1" y="290.1"/><use href="#k" x="467.6" y="291.3"/><use href="#k" x="472.2" y="290.4"/><use href="#k" x="483" y="290.4"/></g><path class="c25" opacity=".71" d="M470.2 286.6h0M457.6 287.4h0M475 286.9h0M472.2 289.1h0M477.7 290.1h0"/><path class="c25" opacity=".71" d="M470.3 287.9h0M476.4 288.7h0"/><path class="c20" opacity=".71" d="M515.7 280h0M515.5 283.7h0"/><g class="c29" fill-opacity=".7" stroke-opacity=".7"><use href="#k" x="409.2" y="293.1"/><use href="#k" x="413.7" y="294"/><use href="#k" x="418" y="294.1"/><use href="#k" x="411.8" y="295.1"/><use href="#k" x="407.1" y="295.4"/><use href="#k" x="422.2" y="295.1"/><use href="#k" x="416.6" y="296.5"/><use href="#k" x="410.3" y="297.3"/><use href="#k" x="420.9" y="297.3"/></g><path class="c29" opacity=".71" d="M426.2 295.8h0"/><g class="c28" fill-opacity=".7" stroke-opacity=".7"><use href="#k" x="428.1" y="292.1"/><use href="#k" x="419" y="292.1"/><use href="#k" x="423.1" y="293.2"/><use href="#k" x="427.6" y="293.7"/><use href="#k" x="431.9" y="293.2"/><use href="#k" x="430.9" y="295.6"/><use href="#k" x="435.7" y="295.1"/></g><path class="c28" opacity=".71" d="M436.5 293.7h0"/><path class="c14" opacity=".71" d="M514.2 260.8h0M515.2 265.9h0"/><path class="c14" opacity=".71" d="M513.7 258.9h0M515 262.9h0"/><path class="c10" opacity=".71" d="M404.2 244.5h0M401 244.1h0M392.8 245h0M509.6 245.4h0M511.2 247.4h0M389.4 247.6h0"/><path class="c10" opacity=".71" d="M403.2 244.3h0"/><g class="c27" fill-opacity=".7" stroke-opacity=".7"><use href="#k" x="441.5" y="290.1"/><use href="#k" x="441.1" y="292.1"/><use href="#k" x="444.6" y="292.3"/><use href="#k" x="449.4" y="292.5"/><use href="#k" x="445" y="295.1"/><use href="#k" x="439.8" y="294.9"/><use href="#k" x="454.4" y="294.2"/></g><path class="c27" opacity=".71" d="M432.4 291.8h0M436.4 291.9h0M440 293.3h0"/><path class="c13" opacity=".71" d="M513.3 256.8h0M514.6 261.5h0"/><g class="c31" fill-opacity=".7" stroke-opacity=".7"><use href="#k" x="357.3" y="300"/><use href="#k" x="365.2" y="300.8"/><use href="#k" x="352.7" y="302.6"/><use href="#k" x="360.8" y="304"/><use href="#k" x="369.8" y="302.4"/><use href="#k" x="377.2" y="302.1"/></g><g class="c23" fill-opacity=".7" stroke-opacity=".7"><use href="#k" x="490.5" y="286.7"/><use href="#k" x="492.1" y="287.8"/><use href="#k" x="498" y="287.9"/></g><path class="c23" opacity=".71" d="M484.6 286.6h0"/><g class="c33" fill-opacity=".7" stroke-opacity=".7"><use href="#k" x="273.7" y="311.5"/><use href="#k" x="288.6" y="312.5"/></g><path class="c16" opacity=".71" d="M515.4 269.6h0"/><g class="c32" fill-opacity=".7" stroke-opacity=".7"><use href="#k" x="298.6" y="307.7"/><use href="#k" x="328.1" y="306.1"/><use href="#k" x="270.9" y="310.1"/><use href="#k" x="337.7" y="306"/><use href="#k" x="347.5" y="306.1"/></g><path class="c9" opacity=".71" d="M509.1 243.2h0M393.4 245.9h0"/><path class="c18" opacity=".73" d="M516.2 279.3h0"/><g class="c22" fill-opacity=".7" stroke-opacity=".7"><use href="#k" x="505.1" y="287.5"/></g><path class="c22" opacity=".73" d="M507.7 289.9h0M510.1 291.9h0"/><path class="c21" opacity=".73" d="M512.5 287.6h0M515.4 289.2h0"/><path class="c21" opacity=".73" d="M514.7 288.8h0"/><path class="c16" opacity=".73" d="M515.4 274.9h0"/><g class="c23" fill-opacity=".7" stroke-opacity=".7"><use href="#k" x="493.4" y="289.8"/><use href="#k" x="499.9" y="290"/><use href="#k" x="502.7" y="291.6"/></g><path class="c23" opacity=".73" d="M505.3 293.4h0"/><path class="c19" opacity=".73" d="M516.1 280.9h0M515.7 284.4h0"/><g class="c30" fill-opacity=".7" stroke-opacity=".7"><use href="#k" x="391.1" y="301.1"/><use href="#k" x="403.5" y="299.7"/><use href="#k" x="409" y="299.6"/><use href="#k" x="382.6" y="302.9"/><use href="#k" x="396.7" y="301.6"/><use href="#k" x="413.1" y="301.1"/><use href="#k" x="408" y="301.2"/><use href="#k" x="401.5" y="301.9"/><use href="#k" x="418.7" y="302"/><use href="#k" x="398.8" y="305.2"/><use href="#k" x="412.1" y="303.5"/><use href="#k" x="405.1" y="304.7"/><use href="#k" x="416.7" y="304.5"/></g><path class="c12" opacity=".73" d="M514.3 259.5h0M514.6 263.9h0"/><path class="c12" opacity=".73" d="M514.3 257.6h0M514.4 261.6h0"/><path class="c11" opacity=".73" d="M512.8 255.4h0M514 259.7h0"/><path class="c11" opacity=".73" d="M512.6 253.3h0"/><g class="c24" fill-opacity=".7" stroke-opacity=".7"><use href="#k" x="487.7" y="290.1"/><use href="#k" x="489.7" y="291.6"/><use href="#k" x="495.8" y="291.5"/><use href="#k" x="491.2" y="293.1"/><use href="#k" x="498.1" y="293.1"/></g><g class="c27" fill-opacity=".7" stroke-opacity=".7"><use href="#k" x="449.4" y="294.5"/><use href="#k" x="445.1" y="296.5"/><use href="#k" x="450.3" y="296.8"/><use href="#k" x="459.4" y="296.3"/><use href="#k" x="455.3" y="297.6"/><use href="#k" x="460.4" y="298.7"/></g><path class="c15" opacity=".73" d="M515.3 272.8h0"/><path class="c15" opacity=".73" d="M515.3 271h0"/><g class="c32" fill-opacity=".7" stroke-opacity=".7"><use href="#k" x="341.3" y="310"/><use href="#k" x="351.1" y="309.6"/></g><g class="c29" fill-opacity=".7" stroke-opacity=".7"><use href="#k" x="415.2" y="298.5"/><use href="#k" x="425.2" y="298.2"/><use href="#k" x="419.7" y="299.7"/><use href="#k" x="424.7" y="299.5"/><use href="#k" x="429" y="300"/><use href="#k" x="423.2" y="302.2"/><use href="#k" x="428.4" y="302.8"/><use href="#k" x="433.9" y="302.4"/></g><path class="c10" opacity=".73" d="M393.6 246.9h0M511.8 248.7h0M400.2 247.6h0M512 251.2h0M387.4 249.3h0M382 248.8h0M405.3 248.8h0M390.6 249.8h0M400.5 250.1h0M403.9 252h0M401 253.4h0M513.5 257.3h0"/><path class="c10" opacity=".73" d="M400.8 249.2h0M386.5 248.9h0M399.4 251.4h0"/><path class="c10" opacity=".73" d="M402.9 249.3h0M386.5 251.2h0"/><g class="c26" fill-opacity=".7" stroke-opacity=".7"><use href="#k" x="473" y="292.5"/><use href="#k" x="458.9" y="294.4"/><use href="#k" x="468.6" y="293.1"/><use href="#k" x="463.2" y="294.1"/><use href="#k" x="454.7" y="294.9"/><use href="#k" x="463.8" y="295.6"/><use href="#k" x="474.7" y="294.7"/><use href="#k" x="470.2" y="295.2"/><use href="#k" x="480.8" y="295.7"/><use href="#k" x="475.5" y="296.4"/><use href="#k" x="470.6" y="297"/><use href="#k" x="464.6" y="297.2"/><use href="#k" x="481.7" y="297.2"/></g><path class="c9" opacity=".73" d="M510.8 247.1h0M396 247.9h0M403.6 249h0M390.3 249.9h0"/><path class="c9" opacity=".73" d="M388.7 250h0"/><g class="c31" fill-opacity=".7" stroke-opacity=".7"><use href="#k" x="356.1" y="306.5"/><use href="#k" x="364.6" y="306.1"/><use href="#k" x="373.6" y="304.4"/><use href="#k" x="388.4" y="303.6"/><use href="#k" x="378.8" y="305.8"/><use href="#k" x="393.4" y="304.9"/><use href="#k" x="360.8" y="308.2"/><use href="#k" x="369.9" y="307.8"/><use href="#k" x="385.4" y="306.5"/><use href="#k" x="376.2" y="308.5"/><use href="#k" x="391" y="307.8"/></g><g class="c25" fill-opacity=".7" stroke-opacity=".7"><use href="#k" x="478.5" y="291.4"/><use href="#k" x="483.9" y="292.1"/><use href="#k" x="479.4" y="293.4"/><use href="#k" x="484.9" y="293.4"/><use href="#k" x="486.7" y="295.9"/><use href="#k" x="492.9" y="295.7"/></g><path class="c14" opacity=".73" d="M515.3 267.9h0"/><g class="c28" fill-opacity=".7" stroke-opacity=".7"><use href="#k" x="430.4" y="297.7"/><use href="#k" x="439.8" y="296.6"/><use href="#k" x="435.2" y="297.4"/><use href="#k" x="434.2" y="299"/><use href="#k" x="439.9" y="299.5"/><use href="#k" x="444.8" y="299"/><use href="#k" x="449.6" y="299.2"/><use href="#k" x="444.2" y="300.4"/><use href="#k" x="438.5" y="301.3"/><use href="#k" x="455.2" y="300.2"/></g><g class="c33" fill-opacity=".7" stroke-opacity=".7"><use href="#k" x="320.8" y="309.9"/><use href="#k" x="331" y="310.5"/><use href="#k" x="312.8" y="313.5"/><use href="#k" x="324.5" y="313.5"/><use href="#k" x="272.2" y="317"/><use href="#k" x="290.6" y="317.8"/><use href="#k" x="334.8" y="313.5"/><use href="#k" x="345.5" y="313"/></g><path class="c17" opacity=".73" d="M515.8 277h0M515.8 279.7h0"/><path class="c20" opacity=".73" d="M515.2 286.7h0"/><path class="c13" opacity=".73" d="M515 266.1h0"/><g class="c34" fill-opacity=".7" stroke-opacity=".7"><use href="#k" x="303.4" y="318.2"/></g><path class="c18" opacity=".75" d="M515.7 282.2h0"/><g class="c24" fill-opacity=".7" stroke-opacity=".7"><use href="#k" x="500.1" y="294.9"/></g><path class="c22" opacity=".75" d="M512.8 293.5h0"/><path class="c22" opacity=".75" d="M513.5 294.5h0"/><path class="c16" opacity=".75" d="M515.2 278.3h0"/><g class="c32" fill-opacity=".7" stroke-opacity=".7"><use href="#k" x="355.3" y="311.9"/><use href="#k" x="365.3" y="311"/><use href="#k" x="372.2" y="311.8"/><use href="#k" x="360.9" y="314.4"/><use href="#k" x="379.2" y="312.8"/></g><path class="c15" opacity=".75" d="M515.6 275.9h0"/><g class="c26" fill-opacity=".7" stroke-opacity=".7"><use href="#k" x="477.1" y="298.1"/><use href="#k" x="483.5" y="299.3"/></g><g class="c31" fill-opacity=".7" stroke-opacity=".7"><use href="#k" x="396.7" y="308.1"/><use href="#k" x="381.6" y="310"/><use href="#k" x="387.9" y="309.8"/><use href="#k" x="401" y="309.8"/><use href="#k" x="393.5" y="310.7"/></g><path class="c10" opacity=".75" d="M512.8 254.8h0M513.8 262.2h0"/><g class="c27" fill-opacity=".7" stroke-opacity=".7"><use href="#k" x="465.4" y="299.7"/><use href="#k" x="471.3" y="299.4"/><use href="#k" x="460.4" y="300.8"/><use href="#k" x="477.7" y="301.1"/><use href="#k" x="472.1" y="302"/></g><path class="c21" opacity=".75" d="M513.4 293.1h0"/><g class="c29" fill-opacity=".7" stroke-opacity=".7"><use href="#k" x="427.6" y="304.8"/><use href="#k" x="444.4" y="303.7"/><use href="#k" x="433.7" y="304.4"/><use href="#k" x="438.7" y="303.8"/><use href="#k" x="444.2" y="305.1"/><use href="#k" x="438.2" y="306.4"/></g><path class="c14" opacity=".75" d="M514.8 274.1h0"/><g class="c30" fill-opacity=".7" stroke-opacity=".7"><use href="#k" x="410.6" y="306.2"/><use href="#k" x="422.4" y="305.1"/><use href="#k" x="404.2" y="306.9"/><use href="#k" x="415.6" y="306.6"/><use href="#k" x="420.9" y="308"/><use href="#k" x="409.1" y="308.9"/><use href="#k" x="426.8" y="307.3"/><use href="#k" x="432.2" y="306.9"/><use href="#k" x="414.1" y="309.6"/></g><g class="c28" fill-opacity=".7" stroke-opacity=".7"><use href="#k" x="449.5" y="300.9"/><use href="#k" x="450.5" y="302.9"/><use href="#k" x="454.5" y="301.7"/><use href="#k" x="460.5" y="302.8"/><use href="#k" x="455.3" y="304.8"/></g><path class="c9" opacity=".75" d="M511.8 253.3h0M512.5 259.2h0"/><g class="c25" fill-opacity=".7" stroke-opacity=".7"><use href="#k" x="488.4" y="297.4"/><use href="#k" x="496.1" y="297.2"/><use href="#k" x="497.5" y="299.9"/></g><g class="c34" fill-opacity=".7" stroke-opacity=".7"><use href="#k" x="317" y="318.1"/><use href="#k" x="279.3" y="322.6"/><use href="#k" x="293.8" y="322.8"/><use href="#k" x="273.9" y="323.1"/></g><path class="c13" opacity=".75" d="M514.7 271.3h0"/><path class="c23" opacity=".75" d="M507.4 295.3h0M510.6 297.9h0"/><g class="c33" fill-opacity=".7" stroke-opacity=".7"><use href="#k" x="339.8" y="316.4"/><use href="#k" x="328.6" y="317.6"/><use href="#k" x="350.3" y="315.7"/></g><path class="c20" opacity=".75" d="M513.6 289.8h0"/><path class="c11" opacity=".75" d="M513.7 263.2h0"/><path class="c12" opacity=".75" d="M514.4 269.1h0M514.9 266.6h0"/><path class="c19" opacity=".75" d="M514.2 287.6h0"/><path class="c17" opacity=".76" d="M514.4 285.3h0"/><path class="c17" opacity=".76" d="M514.1 283.4h0"/><g class="c26" fill-opacity=".7" stroke-opacity=".7"><use href="#k" x="485.8" y="301.5"/><use href="#k" x="492.5" y="302.6"/></g><g class="c34" fill-opacity=".7" stroke-opacity=".7"><use href="#k" x="320.7" y="321.7"/></g><g class="c32" fill-opacity=".7" stroke-opacity=".7"><use href="#k" x="367.9" y="315.3"/><use href="#k" x="375.1" y="316.5"/></g><g class="c28" fill-opacity=".7" stroke-opacity=".7"><use href="#k" x="473.9" y="304.6"/><use href="#k" x="461.9" y="305.8"/><use href="#k" x="467.7" y="304.7"/></g><g class="c31" fill-opacity=".7" stroke-opacity=".7"><use href="#k" x="385.6" y="313.7"/><use href="#k" x="406.5" y="311.2"/><use href="#k" x="391" y="313.9"/><use href="#k" x="425.1" y="311"/><use href="#k" x="399.3" y="313.7"/><use href="#k" x="412.2" y="312.3"/></g><path class="c15" opacity=".76" d="M514.7 280.8h0"/><g class="c23" fill-opacity=".7" stroke-opacity=".7"><use href="#k" x="513.6" y="299.9"/></g><g class="c30" fill-opacity=".7" stroke-opacity=".7"><use href="#k" x="420" y="310"/><use href="#k" x="432" y="309.5"/><use href="#k" x="437.6" y="309.5"/></g><g class="c29" fill-opacity=".7" stroke-opacity=".7"><use href="#k" x="449.8" y="306.1"/><use href="#k" x="444.3" y="308.4"/><use href="#k" x="455.7" y="307.5"/><use href="#k" x="450" y="308.8"/></g><g class="c33" fill-opacity=".7" stroke-opacity=".7"><use href="#k" x="356.3" y="318.1"/><use href="#k" x="344.6" y="319.8"/><use href="#k" x="363.3" y="319"/></g><path class="c22" opacity=".76" d="M511.2 298h0"/><path class="c14" opacity=".76" d="M515.3 278.1h0"/><path class="c14" opacity=".76" d="M514.5 276.6h0"/><path class="c25" opacity=".76" d="M499.5 302.3h0"/><path class="c21" opacity=".76" d="M511.7 295.6h0"/><path class="c13" opacity=".77" d="M514.6 274.1h0"/><path class="c20" opacity=".77" d="M512.5 293.4h0"/><g class="c32" fill-opacity=".7" stroke-opacity=".7"><use href="#k" x="381.6" y="317.2"/></g><path class="c12" opacity=".77" d="M513.6 271.4h0"/><g class="c27" fill-opacity=".7" stroke-opacity=".7"><use href="#k" x="487.6" y="305.1"/><use href="#k" x="480.6" y="305.3"/></g><g class="c28" fill-opacity=".7" stroke-opacity=".7"><use href="#k" x="474.5" y="306.8"/><use href="#k" x="468.1" y="307.8"/></g><g class="c31" fill-opacity=".7" stroke-opacity=".7"><use href="#k" x="418.4" y="313.8"/><use href="#k" x="403.8" y="314.7"/><use href="#k" x="396.5" y="316.8"/></g><g class="c26" fill-opacity=".7" stroke-opacity=".7"><use href="#k" x="494" y="304.7"/></g><path class="c11" opacity=".77" d="M513.1 268.8h0"/><g class="c29" fill-opacity=".7" stroke-opacity=".7"><use href="#k" x="462.1" y="308.3"/></g><path class="c10" opacity=".77" d="M513.3 267.3h0"/><g class="c34" fill-opacity=".7" stroke-opacity=".7"><use href="#k" x="312.8" y="326.8"/></g><g class="c30" fill-opacity=".7" stroke-opacity=".7"><use href="#k" x="437.5" y="312"/></g><g class="c33" fill-opacity=".7" stroke-opacity=".7"><use href="#k" x="350.9" y="322.2"/></g><path class="c18" opacity=".77" d="M512.8 290.8h0"/><g class="c31" fill-opacity=".7" stroke-opacity=".7"><use href="#k" x="424.5" y="313.5"/><use href="#k" x="411.2" y="315.6"/></g><path class="c25" opacity=".77" d="M502.3 304.7h0"/><g class="c34" fill-opacity=".7" stroke-opacity=".7"><use href="#k" x="339.1" y="324"/></g><g class="c30" fill-opacity=".7" stroke-opacity=".7"><use href="#k" x="431.5" y="312.6"/><use href="#k" x="449.9" y="311.7"/></g><g class="c35" fill-opacity=".7" stroke-opacity=".7"><use href="#k" x="277.2" y="329.2"/></g><path class="c17" opacity=".77" d="M512.5 289.2h0"/><g class="c27" fill-opacity=".7" stroke-opacity=".7"><use href="#k" x="488.7" y="307.4"/></g><g class="c29" fill-opacity=".7" stroke-opacity=".7"><use href="#k" x="455.8" y="309.9"/><use href="#k" x="469.7" y="311"/></g><path class="c16" opacity=".77" d="M513.3 286.5h0"/><path class="c11" opacity=".77" d="M399.6 266.4h0"/><g class="c24" fill-opacity=".7" stroke-opacity=".7"><use href="#k" x="510.9" y="305.2"/></g><g class="c28" fill-opacity=".7" stroke-opacity=".7"><use href="#k" x="482" y="309.1"/></g><g class="c33" fill-opacity=".7" stroke-opacity=".7"><use href="#k" x="377.4" y="321.2"/></g><path class="c23" opacity=".78" d="M508.1 303.4h0"/><path class="c15" opacity=".78" d="M512.9 284.1h0"/><path class="c26" opacity=".78" d="M496.3 307.2h0"/><path class="c14" opacity=".78" d="M513.3 281.1h0"/><g class="c31" fill-opacity=".7" stroke-opacity=".7"><use href="#k" x="402.4" y="318.4"/><use href="#k" x="417.2" y="317.2"/><use href="#k" x="430.3" y="316.8"/><use href="#k" x="444.3" y="314.8"/><use href="#k" x="423.7" y="316.8"/><use href="#k" x="437.9" y="315.9"/><use href="#k" x="415.9" y="320"/></g><g class="c29" fill-opacity=".7" stroke-opacity=".7"><use href="#k" x="475.8" y="309.9"/><use href="#k" x="463.4" y="311.2"/><use href="#k" x="470.6" y="313.8"/></g><path class="c22" opacity=".78" d="M509.6 301.4h0"/><g class="c39" fill-opacity=".7" stroke-opacity=".7"><use href="#k" x="327.6" y="344.7"/></g><path class="c13" opacity=".78" d="M512.9 279.1h0"/><g class="c32" fill-opacity=".7" stroke-opacity=".7"><use href="#k" x="393.6" y="320.7"/><use href="#k" x="384.9" y="321.5"/><use href="#k" x="399.3" y="322.5"/></g><path class="c25" opacity=".78" d="M505.3 307.3h0"/><path class="c21" opacity=".78" d="M509.9 299h0"/><g class="c36" fill-opacity=".7" stroke-opacity=".7"><use href="#k" x="286.6" y="333.9"/></g><g class="c30" fill-opacity=".7" stroke-opacity=".7"><use href="#k" x="457.3" y="313.9"/><use href="#k" x="450.2" y="315"/><use href="#k" x="463.8" y="314.9"/></g><g class="c35" fill-opacity=".7" stroke-opacity=".7"><use href="#k" x="332.1" y="329.3"/></g><path class="c12" opacity=".78" d="M512.3 277h0"/><g class="c28" fill-opacity=".7" stroke-opacity=".7"><use href="#k" x="490.7" y="310.6"/></g><path class="c11" opacity=".78" d="M512.1 274.2h0"/><path class="c19" opacity=".78" d="M510.4 296.2h0"/><path class="c18" opacity=".78" d="M510.7 294.4h0"/><path class="c26" opacity=".80" d="M499 310.4h0"/><g class="c31" fill-opacity=".8" stroke-opacity=".8"><use href="#k" x="436" y="318.7"/><use href="#k" x="428.8" y="319.3"/></g><path class="c17" opacity=".80" d="M510.9 291.1h0"/><g class="c25" fill-opacity=".8" stroke-opacity=".8"><use href="#k" x="507.9" y="311.1"/></g><path class="c25" opacity=".80" d="M505.2 308.5h0"/><g class="c35" fill-opacity=".8" stroke-opacity=".8"><use href="#k" x="281.5" y="334.5"/><use href="#k" x="338.1" y="331.7"/></g><path class="c16" opacity=".80" d="M510.5 289.4h0"/><g class="c30" fill-opacity=".8" stroke-opacity=".8"><use href="#k" x="457" y="316.5"/><use href="#k" x="464.6" y="318.4"/></g><g class="c28" fill-opacity=".8" stroke-opacity=".8"><use href="#k" x="492.7" y="313.2"/></g><path class="c14" opacity=".80" d="M510.4 286h0"/><path class="c23" opacity=".80" d="M505.9 305.3h0"/><g class="c33" fill-opacity=".8" stroke-opacity=".8"><use href="#k" x="381.9" y="325.4"/><use href="#k" x="396.8" y="326.6"/></g><g class="c34" fill-opacity=".8" stroke-opacity=".8"><use href="#k" x="353.1" y="327.7"/><use href="#k" x="369.1" y="330.4"/></g><g class="c29" fill-opacity=".8" stroke-opacity=".8"><use href="#k" x="485.6" y="316"/><use href="#k" x="478.8" y="315.6"/><use href="#k" x="471.7" y="317.2"/></g><path class="c13" opacity=".80" d="M510.4 284h0"/><g class="c32" fill-opacity=".8" stroke-opacity=".8"><use href="#k" x="390.6" y="324.8"/><use href="#k" x="405.9" y="323"/><use href="#k" x="413.2" y="324.6"/><use href="#k" x="443.1" y="321.6"/><use href="#k" x="428.3" y="322.7"/><use href="#k" x="436" y="323.1"/></g><g class="c27" fill-opacity=".8" stroke-opacity=".8"><use href="#k" x="502.1" y="314.2"/></g><g class="c36" fill-opacity=".8" stroke-opacity=".8"><use href="#k" x="292.7" y="339"/><use href="#k" x="307.5" y="337.7"/></g><path class="c12" opacity=".80" d="M509.7 282.1h0"/><path class="c22" opacity=".80" d="M506.9 303.6h0"/><path class="c20" opacity=".81" d="M506.3 301.2h0"/><path class="c19" opacity=".81" d="M507.5 299.6h0"/><g class="c27" fill-opacity=".8" stroke-opacity=".8"><use href="#k" x="501.2" y="315.5"/></g><path class="c18" opacity=".81" d="M507.8 296.5h0"/><g class="c35" fill-opacity=".8" stroke-opacity=".8"><use href="#k" x="347.6" y="333.1"/><use href="#k" x="356.2" y="333.8"/><use href="#k" x="364.8" y="335.7"/></g><g class="c30" fill-opacity=".8" stroke-opacity=".8"><use href="#k" x="472.8" y="320.4"/></g><g class="c31" fill-opacity=".8" stroke-opacity=".8"><use href="#k" x="450.4" y="322.3"/><use href="#k" x="465.5" y="322.6"/><use href="#k" x="458.9" y="323.8"/></g><g class="c29" fill-opacity=".8" stroke-opacity=".8"><use href="#k" x="487.8" y="318.6"/><use href="#k" x="480" y="319.9"/></g><g class="c25" fill-opacity=".8" stroke-opacity=".8"><use href="#k" x="501.2" y="313.3"/></g><g class="c32" fill-opacity=".8" stroke-opacity=".8"><use href="#k" x="404.5" y="327.7"/><use href="#k" x="411.4" y="328.5"/><use href="#k" x="443" y="325.5"/><use href="#k" x="419.7" y="328"/></g><g class="c28" fill-opacity=".8" stroke-opacity=".8"><use href="#k" x="495.7" y="317.2"/><use href="#k" x="498" y="321"/></g><path class="c16" opacity=".81" d="M508 293.8h0"/><path class="c15" opacity=".81" d="M507.5 290.6h0"/><g class="c36" fill-opacity=".8" stroke-opacity=".8"><use href="#k" x="285.7" y="340.2"/><use href="#k" x="340.2" y="339.6"/></g><g class="c33" fill-opacity=".8" stroke-opacity=".8"><use href="#k" x="387.5" y="329.5"/><use href="#k" x="427" y="327.9"/><use href="#k" x="434.6" y="327.3"/><use href="#k" x="384.2" y="332.6"/><use href="#k" x="401.5" y="333"/></g><path class="c24" opacity=".81" d="M502 310.7h0"/><path class="c13" opacity=".81" d="M507.1 288h0"/><path class="c23" opacity=".81" d="M501.6 308.5h0"/><g class="c34" fill-opacity=".8" stroke-opacity=".8"><use href="#k" x="373.5" y="335.3"/></g><path class="c21" opacity=".82" d="M502.6 305.6h0"/><g class="c28" fill-opacity=".8" stroke-opacity=".8"><use href="#k" x="495.5" y="320.2"/></g><path class="c20" opacity=".82" d="M503.1 303.7h0"/><g class="c30" fill-opacity=".8" stroke-opacity=".8"><use href="#k" x="474.2" y="324.5"/><use href="#k" x="466.5" y="325.8"/></g><g class="c29" fill-opacity=".8" stroke-opacity=".8"><use href="#k" x="482.1" y="323.9"/></g><g class="c18" fill-opacity=".8" stroke-opacity=".8"><use href="#k" x="502.9" y="300.4"/></g><g class="c34" fill-opacity=".8" stroke-opacity=".8"><use href="#k" x="390.7" y="336.5"/></g><g class="c35" fill-opacity=".8" stroke-opacity=".8"><use href="#k" x="349.7" y="339.9"/><use href="#k" x="359.3" y="340.8"/></g><g class="c26" fill-opacity=".8" stroke-opacity=".8"><use href="#k" x="496.3" y="317.2"/></g><g class="c33" fill-opacity=".8" stroke-opacity=".8"><use href="#k" x="409.5" y="333.8"/><use href="#k" x="417.7" y="332.7"/><use href="#k" x="425.4" y="331.9"/><use href="#k" x="434.3" y="331.5"/></g><g class="c31" fill-opacity=".8" stroke-opacity=".8"><use href="#k" x="458.8" y="328.6"/></g><g class="c36" fill-opacity=".8" stroke-opacity=".8"><use href="#k" x="292.1" y="345"/></g><path class="c16" opacity=".83" d="M503.9 295.2h0"/><g class="c25" fill-opacity=".8" stroke-opacity=".8"><use href="#k" x="496.8" y="315.2"/></g><g class="c17" fill-opacity=".8" stroke-opacity=".8"><use href="#k" x="503.7" y="298.3"/></g><g class="c37" fill-opacity=".8" stroke-opacity=".8"><use href="#k" x="304.8" y="348.4"/></g><g class="c35" fill-opacity=".8" stroke-opacity=".8"><use href="#k" x="379.9" y="339.3"/></g><g class="c23" fill-opacity=".8" stroke-opacity=".8"><use href="#k" x="496.5" y="312.7"/></g><g class="c29" fill-opacity=".8" stroke-opacity=".8"><use href="#k" x="492.7" y="327.6"/><use href="#k" x="484" y="328.4"/></g><g class="c31" fill-opacity=".8" stroke-opacity=".8"><use href="#k" x="467.6" y="331"/></g><g class="c33" fill-opacity=".8" stroke-opacity=".8"><use href="#k" x="398.7" y="337.6"/><use href="#k" x="407" y="338.2"/></g><g class="c36" fill-opacity=".8" stroke-opacity=".8"><use href="#k" x="369.1" y="342.1"/><use href="#k" x="342.6" y="346.7"/></g><path class="c22" opacity=".83" d="M497.9 310.2h0"/><g class="c28" fill-opacity=".8" stroke-opacity=".8"><use href="#k" x="489.9" y="325.6"/></g><g class="c20" fill-opacity=".8" stroke-opacity=".8"><use href="#k" x="498.2" y="307.2"/></g><g class="c27" fill-opacity=".8" stroke-opacity=".8"><use href="#k" x="490.3" y="322.7"/></g><g class="c35" fill-opacity=".8" stroke-opacity=".8"><use href="#k" x="387.8" y="341.7"/></g><path class="c19" opacity=".85" d="M499 304.1h0"/><g class="c17" fill-opacity=".8" stroke-opacity=".8"><use href="#k" x="498.9" y="301.6"/></g><g class="c24" fill-opacity=".8" stroke-opacity=".8"><use href="#k" x="491.5" y="317.6"/></g><g class="c33" fill-opacity=".8" stroke-opacity=".8"><use href="#k" x="415.5" y="338.3"/><use href="#k" x="451.2" y="340.8"/></g><g class="c21" fill-opacity=".8" stroke-opacity=".8"><use href="#k" x="493.1" y="311.4"/></g><g class="c32" fill-opacity=".8" stroke-opacity=".8"><use href="#k" x="459.6" y="338.4"/></g><g class="c36" fill-opacity=".8" stroke-opacity=".8"><use href="#k" x="298.3" y="349.4"/><use href="#k" x="353.2" y="347.2"/><use href="#k" x="363.3" y="348"/><use href="#k" x="306.9" y="353.5"/><use href="#k" x="370" y="352.5"/></g><g class="c26" fill-opacity=".8" stroke-opacity=".8"><use href="#k" x="491.6" y="320.2"/><use href="#k" x="484.3" y="325.1"/></g><g class="c34" fill-opacity=".8" stroke-opacity=".8"><use href="#k" x="433.9" y="336.6"/><use href="#k" x="404.9" y="344.2"/><use href="#k" x="441.8" y="340.1"/><use href="#k" x="433.1" y="341.9"/><use href="#k" x="422.8" y="343.1"/><use href="#k" x="413.1" y="344.7"/></g><g class="c29" fill-opacity=".8" stroke-opacity=".8"><use href="#k" x="485.6" y="332.4"/><use href="#k" x="482.9" y="331.3"/><use href="#k" x="475.8" y="334.9"/></g><g class="c27" fill-opacity=".8" stroke-opacity=".8"><use href="#k" x="483.5" y="328.2"/></g><g class="c37" fill-opacity=".8" stroke-opacity=".8"><use href="#k" x="312.8" y="351.6"/><use href="#k" x="316.4" y="357.5"/></g><g class="c23" fill-opacity=".8" stroke-opacity=".8"><use href="#k" x="492" y="314.8"/><use href="#k" x="485.5" y="318.9"/></g><g class="c20" fill-opacity=".8" stroke-opacity=".8"><use href="#k" x="493.1" y="308.9"/></g><g class="c25" fill-opacity=".8" stroke-opacity=".8"><use href="#k" x="484.6" y="322.1"/></g><g class="c30" fill-opacity=".8" stroke-opacity=".8"><use href="#k" x="476.2" y="337.5"/></g><g class="c31" fill-opacity=".8" stroke-opacity=".8"><use href="#k" x="469.8" y="341.1"/></g><g class="c22" fill-opacity=".8" stroke-opacity=".8"><use href="#k" x="485.4" y="316.7"/></g><g class="c27" fill-opacity=".8" stroke-opacity=".8"><use href="#k" x="475.6" y="332.4"/></g><g class="c35" fill-opacity=".8" stroke-opacity=".8"><use href="#k" x="401.1" y="351.1"/><use href="#k" x="316.3" y="355"/></g><g class="c32" fill-opacity=".8" stroke-opacity=".8"><use href="#k" x="461.1" y="343.6"/></g><g class="c26" fill-opacity=".8" stroke-opacity=".8"><use href="#k" x="477.2" y="329.3"/></g><g class="c34" fill-opacity=".8" stroke-opacity=".8"><use href="#k" x="441.6" y="346.4"/><use href="#k" x="421.5" y="349.6"/><use href="#k" x="432.1" y="348.3"/><use href="#k" x="412.1" y="350.5"/></g><g class="c30" fill-opacity=".8" stroke-opacity=".8"><use href="#k" x="468.7" y="341.7"/></g><g class="c36" fill-opacity=".8" stroke-opacity=".8"><use href="#k" x="378.2" y="355.4"/></g><g class="c25" fill-opacity=".8" stroke-opacity=".8"><use href="#k" x="477.6" y="326.7"/></g><g class="c33" fill-opacity=".8" stroke-opacity=".8"><use href="#k" x="450.9" y="346.4"/></g><g class="c29" fill-opacity=".8" stroke-opacity=".8"><use href="#k" x="468" y="340"/></g><g class="c37" fill-opacity=".8" stroke-opacity=".8"><use href="#k" x="327" y="362.3"/></g><g class="c23" fill-opacity=".8" stroke-opacity=".8"><use href="#k" x="478.2" y="323.4"/></g><g class="c27" fill-opacity=".9" stroke-opacity=".9"><use href="#k" x="468.8" y="335.4"/></g><g class="c32" fill-opacity=".9" stroke-opacity=".9"><use href="#k" x="459.7" y="348"/></g><g class="c35" fill-opacity=".9" stroke-opacity=".9"><use href="#k" x="388" y="356.8"/></g><g class="c26" fill-opacity=".9" stroke-opacity=".9"><use href="#k" x="468.5" y="333.3"/></g><g class="c37" fill-opacity=".9" stroke-opacity=".9"><use href="#k" x="338.1" y="363.3"/><use href="#k" x="364" y="360.2"/><use href="#k" x="349.9" y="363.6"/></g><g class="c31" fill-opacity=".9" stroke-opacity=".9"><use href="#k" x="459.2" y="344.8"/></g><g class="c34" fill-opacity=".9" stroke-opacity=".9"><use href="#k" x="325.2" y="355.8"/></g><g class="c36" fill-opacity=".9" stroke-opacity=".9"><use href="#k" x="325.9" y="359.2"/><use href="#k" x="336.1" y="362.2"/></g><g class="c25" fill-opacity=".9" stroke-opacity=".9"><use href="#k" x="469.3" y="330.1"/></g><g class="c29" fill-opacity=".9" stroke-opacity=".9"><use href="#k" x="364.3" y="349.2"/><use href="#k" x="365.3" y="350.1"/><use href="#k" x="460.2" y="341"/><use href="#k" x="366.2" y="351.1"/></g><g class="c33" fill-opacity=".9" stroke-opacity=".9"><use href="#k" x="450.1" y="352.5"/></g><g class="c26" fill-opacity=".9" stroke-opacity=".9"><use href="#k" x="460.6" y="335.6"/></g><g class="c30" fill-opacity=".9" stroke-opacity=".9"><use href="#k" x="450.1" y="346.1"/></g><g class="c32" fill-opacity=".9" stroke-opacity=".9"><use href="#k" x="450" y="350.4"/><use href="#k" x="335.3" y="355.4"/><use href="#k" x="440.8" y="352.5"/></g><g class="c37" fill-opacity=".9" stroke-opacity=".9"><use href="#k" x="373.1" y="363.8"/><use href="#k" x="358.7" y="366.8"/></g><g class="c28" fill-opacity=".9" stroke-opacity=".9"><use href="#k" x="460.4" y="338.6"/><use href="#k" x="450.6" y="340.3"/></g><g class="c34" fill-opacity=".9" stroke-opacity=".9"><use href="#k" x="419.5" y="356.3"/><use href="#k" x="335.7" y="359.1"/><use href="#k" x="441.2" y="356.2"/><use href="#k" x="430.2" y="359"/><use href="#k" x="417.8" y="362.5"/></g><g class="c29" fill-opacity=".9" stroke-opacity=".9"><use href="#k" x="367.1" y="352"/><use href="#k" x="378.4" y="355.2"/><use href="#k" x="450.3" y="343.2"/><use href="#k" x="376.7" y="355.9"/><use href="#k" x="375" y="356.5"/><use href="#k" x="373.2" y="357.2"/><use href="#k" x="371.5" y="357.8"/></g><g class="c35" fill-opacity=".9" stroke-opacity=".9"><use href="#k" x="408.4" y="358.5"/><use href="#k" x="347.3" y="360.9"/><use href="#k" x="358.2" y="363.7"/><use href="#k" x="406.5" y="365.1"/></g><g class="c36" fill-opacity=".9" stroke-opacity=".9"><use href="#k" x="347" y="363.8"/><use href="#k" x="383.3" y="365.1"/><use href="#k" x="370.3" y="366.3"/><use href="#k" x="394.8" y="366.7"/></g><g class="c31" fill-opacity=".9" stroke-opacity=".9"><use href="#k" x="440.6" y="349.6"/></g><g class="c33" fill-opacity=".9" stroke-opacity=".9"><use href="#k" x="346.8" y="357.7"/><use href="#k" x="429.9" y="356.9"/><use href="#k" x="358.4" y="360.1"/></g><g class="c29" fill-opacity=".9" stroke-opacity=".9"><use href="#k" x="440.1" y="345.8"/></g><g class="c35" fill-opacity=".9" stroke-opacity=".9"><use href="#k" x="382.3" y="365.3"/></g><g class="c31" fill-opacity=".9" stroke-opacity=".9"><use href="#k" x="346.1" y="354.4"/><use href="#k" x="429.7" y="353"/><use href="#k" x="418" y="355.3"/></g><g class="c34" fill-opacity=".9" stroke-opacity=".9"><use href="#k" x="370.6" y="362.7"/><use href="#k" x="394.2" y="363.5"/></g><g class="c32" fill-opacity=".9" stroke-opacity=".9"><use href="#k" x="356.8" y="356.7"/></g><g class="c33" fill-opacity=".9" stroke-opacity=".9"><use href="#k" x="418.2" y="359.7"/><use href="#k" x="405.6" y="360.3"/><use href="#k" x="382" y="361.1"/><use href="#k" x="369.7" y="359.8"/></g><g class="c28" fill-opacity=".9" stroke-opacity=".9"><use href="#k" x="441.1" y="342.3"/></g><g class="c26" fill-opacity=".9" stroke-opacity=".9"><use href="#k" x="440.7" y="339.5"/></g><g class="c30" fill-opacity=".9" stroke-opacity=".9"><use href="#k" x="429.7" y="349.3"/><use href="#k" x="358.3" y="353.3"/><use href="#k" x="418.4" y="352.5"/></g><g class="c28" fill-opacity=".9" stroke-opacity=".9"><use href="#k" x="429.6" y="346.3"/></g><g class="c32" fill-opacity=".9" stroke-opacity=".9"><use href="#k" x="394.4" y="360.5"/><use href="#k" x="405.8" y="358.7"/><use href="#k" x="382.1" y="358.4"/></g><g class="c30" fill-opacity=".9" stroke-opacity=".9"><use href="#k" x="405.9" y="354.5"/></g><g class="c31" fill-opacity=".9" stroke-opacity=".9"><use href="#k" x="369.7" y="356.3"/><use href="#k" x="394.2" y="356.9"/></g><g class="c26" fill-opacity=".9" stroke-opacity=".9"><use href="#k" x="429.4" y="342.2"/></g><g class="c29" fill-opacity=".9" stroke-opacity=".9"><use href="#k" x="417.7" y="349.6"/><use href="#k" x="370.6" y="352.5"/><use href="#k" x="394.1" y="352.7"/></g><g class="c30" fill-opacity=".9" stroke-opacity=".9"><use href="#k" x="382" y="355.7"/></g><g class="c28" fill-opacity=".9" stroke-opacity=".9"><use href="#k" x="405.9" y="351"/><use href="#k" x="382" y="351.4"/></g><g class="c26" fill-opacity=".9" stroke-opacity=".9"><use href="#k" x="417.7" y="345.4"/></g><g class="c27" fill-opacity=".9" stroke-opacity=".9"><use href="#k" x="405.7" y="348.2"/><use href="#k" x="394" y="349.8"/></g></g>
    </g>
   </g>
   <g id="text_22">
    <text style="font-size: 12px; font-family: 'DejaVu Sans', 'Liberation Sans', sans-serif; text-anchor: middle" x="442.8" y="71.76" transform="rotate(-0 442.8 71.76)">LiDAR Point 3D Coordinate Graph</text>
   </g>
   <g id="legend_1" transform="translate(0.2,0.65)">
    <g id="patch_6">
     <path d="M 568.376875 100.438125 
L 625.88 100.438125 
Q 627.88 100.438125 627.88 98.438125 
L 627.88 84.76 
Q 627.88 82.76 625.88 82.76 
L 568.376875 82.76 
Q 566.376875 82.76 566.376875 84.76 
L 566.376875 98.438125 
Q 566.376875 100.438125 568.376875 100.438125 
z
" style="fill: #ffffff; opacity: 0.8; stroke: #cccccc; stroke-linejoin: miter"/>
    </g>
    <g id="Path3DCollection_1">
     <g>
      <use href="#m24099ccb27" x="580.376875" y="91.733438" style="fill: #3b528b; stroke: #3b528b"/>
     </g>
    </g>
    <g id="text_23">
     <text style="font-size: 10px; font-family: 'DejaVu Sans', 'Liberation Sans', sans-serif; text-anchor: start" x="598.376875" y="94.358438" transform="rotate(-0 598.376875 94.358438)">point</text>
    </g>
   </g>
  </g>
  <g id="axes_2">
   <g id="patch_7">
    <path d="M 206.045217 576.72 
L 301.085217 576.72 
L 301.085217 481.68 
L 206.045217 481.68 
z
" style="fill: #ffffff"/>
   </g>
   <g id="SCATTER2D">
    <defs>
     <path id="m0f09bfcae3" d="M 0 3 
C 0.795609 3 1.55874 2.683901 2.12132 2.12132 
C 2.683901 1.55874 3 0.795609 3 0 
C 3 -0.795609 2.683901 -1.55874 2.12132 -2.12132 
C 1.55874 -2.683901 0.795609 -3 0 -3 
C -0.795609 -3 -1.55874 -2.683901 -2.12132 -2.12132 
C -2.683901 -1.55874 -3 -0.795609 -3 0 
C -3 0.795609 -2.683901 1.55874 -2.12132 2.12132 
C -1.55874 2.683901 -0.795609 3 0 3 
z
" style="stroke: #90ee90"/>
    </defs>
    <g clip-path="url(#pb62c29a046)">
     <g class="d"><path fill="none" stroke="#90ee90" stroke-width="7" d="M202 546.5h0M202 547.6h0M202 580h0M203 546.5h0M203 580h0M204.1 546.5h0M204.1 548.6h0M204.1 550.8h0M204.1 553h0M204.1 555.1h0M204.1 557.3h0M204.1 560.5h0M204.1 562.7h0M204.1 564.8h0M204.1 567h0M204.1 569.2h0M204.1 571.3h0M204.1 574.6h0M204.1 576.7h0M204.1 578.9h0M204.1 580h0M205.2 545.4h0M205.2 546.5h0M205.2 580h0M206.3 545.4h0M206.3 546.5h0M206.3 548.6h0M206.3 550.8h0M206.3 553h0M206.3 555.1h0M206.3 557.3h0M206.3 560.5h0M206.3 562.7h0M206.3 564.8h0M206.3 567h0M206.3 569.2h0M206.3 571.3h0M206.3 574.6h0M206.3 576.7h0M206.3 578.9h0M206.3 580h0M207.4 544.3h0M207.4 580h0M208.4 543.2h0M208.4 546.5h0M208.4 548.6h0M208.4 550.8h0M208.4 553h0M208.4 555.1h0M208.4 557.3h0M208.4 560.5h0M208.4 562.7h0M208.4 564.8h0M208.4 567h0M208.4 569.2h0M208.4 571.3h0M208.4 574.6h0M208.4 576.7h0M208.4 578.9h0M208.4 580h0M209.5 542.2h0M209.5 580h0M210.6 540h0M210.6 541.1h0M210.6 543.2h0M210.6 546.5h0M210.6 548.6h0M210.6 550.8h0M210.6 553h0M210.6 555.1h0M210.6 557.3h0M210.6 560.5h0M210.6 562.7h0M210.6 564.8h0M210.6 567h0M210.6 569.2h0M210.6 571.3h0M210.6 574.6h0M210.6 576.7h0M210.6 578.9h0M210.6 580h0M211.7 538.9h0M211.7 540h0M211.7 580h0M212.8 538.9h0M212.8 541.1h0M212.8 543.2h0M212.8 546.5h0M212.8 548.6h0M212.8 550.8h0M212.8 553h0M212.8 555.1h0M212.8 557.3h0M212.8 560.5h0M212.8 562.7h0M212.8 564.8h0M212.8 567h0M212.8 569.2h0M212.8 571.3h0M212.8 574.6h0M212.8 576.7h0M212.8 578.9h0M212.8 580h0M213.8 537.8h0M213.8 580h0M214.9 536.8h0M214.9 580h0M216 535.7h0M216 536.8h0M216 538.9h0M216 541.1h0M216 543.2h0M216 546.5h0M216 548.6h0M216 550.8h0M216 553h0M216 555.1h0M216 557.3h0M216 560.5h0M216 562.7h0M216 564.8h0M216 567h0M216 569.2h0M216 571.3h0M216 574.6h0M216 576.7h0M216 578.9h0M216 580h0M217.1 534.6h0M217.1 535.7h0M217.1 580h0M218.2 534.6h0M218.2 536.8h0M218.2 538.9h0M218.2 541.1h0M218.2 543.2h0M218.2 546.5h0M218.2 548.6h0M218.2 550.8h0M218.2 553h0M218.2 555.1h0M218.2 557.3h0M218.2 560.5h0M218.2 562.7h0M218.2 564.8h0M218.2 567h0M218.2 569.2h0M218.2 571.3h0M218.2 574.6h0M218.2 576.7h0M218.2 578.9h0M218.2 580h0M219.2 533.5h0M219.2 534.6h0M219.2 580h0M220.3 530.3h0M220.3 533.5h0M220.3 534.6h0M220.3 536.8h0M220.3 538.9h0M220.3 541.1h0M220.3 543.2h0M220.3 546.5h0M220.3 548.6h0M220.3 550.8h0M220.3 553h0M220.3 555.1h0M220.3 557.3h0M220.3 560.5h0M220.3 562.7h0M220.3 564.8h0M220.3 567h0M220.3 569.2h0M220.3 571.3h0M220.3 574.6h0M220.3 576.7h0M220.3 578.9h0M220.3 580h0M221.4 529.2h0M221.4 530.3h0M221.4 532.4h0M221.4 580h0M222.5 532.4h0M222.5 534.6h0M222.5 536.8h0M222.5 538.9h0M222.5 541.1h0M222.5 543.2h0M222.5 546.5h0M222.5 548.6h0M222.5 550.8h0M222.5 553h0M222.5 555.1h0M222.5 557.3h0M222.5 560.5h0M222.5 562.7h0M222.5 564.8h0M222.5 567h0M222.5 569.2h0M222.5 571.3h0M222.5 574.6h0M222.5 576.7h0M222.5 578.9h0M222.5 580h0M223.6 531.4h0M223.6 580h0M224.6 530.3h0M224.6 531.4h0M224.6 534.6h0M224.6 536.8h0M224.6 538.9h0M224.6 541.1h0M224.6 543.2h0M224.6 546.5h0M224.6 548.6h0M224.6 550.8h0M224.6 553h0M224.6 555.1h0M224.6 557.3h0M224.6 560.5h0M224.6 562.7h0M224.6 564.8h0M224.6 567h0M224.6 569.2h0M224.6 571.3h0M224.6 574.6h0M224.6 576.7h0M224.6 578.9h0M224.6 580h0M225.7 529.2h0M225.7 530.3h0M225.7 580h0M226.8 528.1h0M226.8 529.2h0M226.8 580h0M227.9 528.1h0M227.9 529.2h0M227.9 531.4h0M227.9 534.6h0M227.9 536.8h0M227.9 538.9h0M227.9 541.1h0M227.9 543.2h0M227.9 546.5h0M227.9 548.6h0M227.9 550.8h0M227.9 553h0M227.9 555.1h0M227.9 557.3h0M227.9 560.5h0M227.9 562.7h0M227.9 564.8h0M227.9 567h0M227.9 569.2h0M227.9 571.3h0M227.9 574.6h0M227.9 576.7h0M227.9 578.9h0M227.9 580h0M229 527h0M229 580h0M230 526h0M230 527h0M230 529.2h0M230 531.4h0M230 534.6h0M230 536.8h0M230 538.9h0M230 541.1h0M230 543.2h0M230 546.5h0M230 548.6h0M230 550.8h0M230 553h0M230 555.1h0M230 557.3h0M230 560.5h0M230 562.7h0M230 564.8h0M230 567h0M230 569.2h0M230 571.3h0M230 574.6h0M230 576.7h0M230 578.9h0M230 580h0M231.1 524.9h0M231.1 580h0M232.2 523.8h0M232.2 524.9h0M232.2 527h0M232.2 529.2h0M232.2 531.4h0M232.2 534.6h0M232.2 536.8h0M232.2 538.9h0M232.2 541.1h0M232.2 543.2h0M232.2 546.5h0M232.2 548.6h0M232.2 550.8h0M232.2 553h0M232.2 555.1h0M232.2 557.3h0M232.2 560.5h0M232.2 562.7h0M232.2 564.8h0M232.2 567h0M232.2 569.2h0M232.2 571.3h0M232.2 574.6h0M232.2 576.7h0M232.2 578.9h0M232.2 580h0M233.3 523.8h0M233.3 580h0M234.4 522.7h0M234.4 524.9h0M234.4 527h0M234.4 529.2h0M234.4 531.4h0M234.4 534.6h0M234.4 536.8h0M234.4 538.9h0M234.4 541.1h0M234.4 543.2h0M234.4 546.5h0M234.4 548.6h0M234.4 550.8h0M234.4 553h0M234.4 555.1h0M234.4 557.3h0M234.4 560.5h0M234.4 562.7h0M234.4 564.8h0M234.4 567h0M234.4 569.2h0M234.4 571.3h0M234.4 574.6h0M234.4 576.7h0M234.4 578.9h0M234.4 580h0M235.4 522.7h0M235.4 580h0M236.5 521.6h0M236.5 522.7h0M236.5 524.9h0M236.5 527h0M236.5 529.2h0M236.5 531.4h0M236.5 534.6h0M236.5 536.8h0M236.5 538.9h0M236.5 541.1h0M236.5 543.2h0M236.5 546.5h0M236.5 548.6h0M236.5 550.8h0M236.5 553h0M236.5 555.1h0M236.5 557.3h0M236.5 560.5h0M236.5 562.7h0M236.5 564.8h0M236.5 567h0M236.5 569.2h0M236.5 571.3h0M236.5 574.6h0M236.5 576.7h0M236.5 578.9h0M236.5 580h0M237.6 521.6h0M237.6 580h0M238.7 520.6h0M238.7 522.7h0M238.7 524.9h0M238.7 527h0M238.7 529.2h0M238.7 531.4h0M238.7 534.6h0M238.7 536.8h0M238.7 538.9h0M238.7 541.1h0M238.7 543.2h0M238.7 546.5h0M238.7 548.6h0M238.7 550.8h0M238.7 553h0M238.7 555.1h0M238.7 557.3h0M238.7 560.5h0M238.7 562.7h0M238.7 564.8h0M238.7 567h0M238.7 569.2h0M238.7 571.3h0M238.7 574.6h0M238.7 576.7h0M238.7 578.9h0M238.7 580h0M239.8 520.6h0M239.8 580h0M240.8 520.6h0M240.8 580h0M241.9 519.5h0M241.9 520.6h0M241.9 522.7h0M241.9 524.9h0M241.9 527h0M241.9 529.2h0M241.9 531.4h0M241.9 534.6h0M241.9 536.8h0M241.9 538.9h0M241.9 541.1h0M241.9 543.2h0M241.9 546.5h0M241.9 548.6h0M241.9 550.8h0M241.9 553h0M241.9 555.1h0M241.9 557.3h0M241.9 560.5h0M241.9 562.7h0M241.9 564.8h0M241.9 567h0M241.9 569.2h0M241.9 571.3h0M241.9 574.6h0M241.9 576.7h0M241.9 578.9h0M241.9 580h0M243 519.5h0M243 580h0M244.1 519.5h0M244.1 520.6h0M244.1 522.7h0M244.1 524.9h0M244.1 527h0M244.1 529.2h0M244.1 531.4h0M244.1 534.6h0M244.1 536.8h0M244.1 538.9h0M244.1 541.1h0M244.1 543.2h0M244.1 546.5h0M244.1 548.6h0M244.1 550.8h0M244.1 553h0M244.1 555.1h0M244.1 557.3h0M244.1 560.5h0M244.1 562.7h0M244.1 564.8h0M244.1 567h0M244.1 569.2h0M244.1 571.3h0M244.1 574.6h0M244.1 576.7h0M244.1 578.9h0M244.1 580h0M245.2 519.5h0M245.2 580h0M246.2 519.5h0M246.2 520.6h0M246.2 522.7h0M246.2 524.9h0M246.2 527h0M246.2 529.2h0M246.2 531.4h0M246.2 534.6h0M246.2 536.8h0M246.2 538.9h0M246.2 541.1h0M246.2 543.2h0M246.2 546.5h0M246.2 548.6h0M246.2 550.8h0M246.2 553h0M246.2 555.1h0M246.2 557.3h0M246.2 560.5h0M246.2 562.7h0M246.2 564.8h0M246.2 567h0M246.2 569.2h0M246.2 571.3h0M246.2 574.6h0M246.2 576.7h0M246.2 578.9h0M246.2 580h0M247.3 518.4h0M247.3 519.5h0M247.3 580h0M248.4 518.4h0M248.4 520.6h0M248.4 522.7h0M248.4 524.9h0M248.4 527h0M248.4 529.2h0M248.4 531.4h0M248.4 534.6h0M248.4 536.8h0M248.4 538.9h0M248.4 541.1h0M248.4 543.2h0M248.4 546.5h0M248.4 548.6h0M248.4 550.8h0M248.4 553h0M248.4 555.1h0M248.4 557.3h0M248.4 560.5h0M248.4 562.7h0M248.4 564.8h0M248.4 567h0M248.4 569.2h0M248.4 571.3h0M248.4 574.6h0M248.4 576.7h0M248.4 578.9h0M248.4 580h0M249.5 518.4h0M249.5 580h0M250.6 518.4h0M250.6 520.6h0M250.6 522.7h0M250.6 524.9h0M250.6 527h0M250.6 529.2h0M250.6 531.4h0M250.6 534.6h0M250.6 536.8h0M250.6 538.9h0M250.6 541.1h0M250.6 543.2h0M250.6 546.5h0M250.6 548.6h0M250.6 550.8h0M250.6 553h0M250.6 555.1h0M250.6 557.3h0M250.6 560.5h0M250.6 562.7h0M250.6 564.8h0M250.6 567h0M250.6 569.2h0M250.6 571.3h0M250.6 574.6h0M250.6 576.7h0M250.6 578.9h0M250.6 580h0M251.6 518.4h0M251.6 580h0M252.7 518.4h0M252.7 520.6h0M252.7 522.7h0M252.7 524.9h0M252.7 527h0M252.7 529.2h0M252.7 531.4h0M252.7 534.6h0M252.7 536.8h0M252.7 538.9h0M252.7 541.1h0M252.7 543.2h0M252.7 546.5h0M252.7 548.6h0M252.7 550.8h0M252.7 553h0M252.7 555.1h0M252.7 557.3h0M252.7 560.5h0M252.7 562.7h0M252.7 564.8h0M252.7 567h0M252.7 569.2h0M252.7 571.3h0M252.7 574.6h0M252.7 576.7h0M252.7 578.9h0M252.7 580h0M253.8 518.4h0M253.8 580h0M254.9 518.4h0M254.9 580h0M256 518.4h0M256 520.6h0M256 522.7h0M256 524.9h0M256 527h0M256 529.2h0M256 531.4h0M256 534.6h0M256 536.8h0M256 538.9h0M256 541.1h0M256 543.2h0M256 546.5h0M256 548.6h0M256 550.8h0M256 553h0M256 555.1h0M256 557.3h0M256 560.5h0M256 562.7h0M256 564.8h0M256 567h0M256 569.2h0M256 571.3h0M256 574.6h0M256 576.7h0M256 578.9h0M256 580h0M257 518.4h0M257 580h0M258.1 518.4h0M258.1 519.5h0M258.1 520.6h0M258.1 522.7h0M258.1 524.9h0M258.1 527h0M258.1 529.2h0M258.1 531.4h0M258.1 534.6h0M258.1 536.8h0M258.1 538.9h0M258.1 541.1h0M258.1 543.2h0M258.1 546.5h0M258.1 548.6h0M258.1 550.8h0M258.1 553h0M258.1 555.1h0M258.1 557.3h0M258.1 560.5h0M258.1 562.7h0M258.1 564.8h0M258.1 567h0M258.1 569.2h0M258.1 571.3h0M258.1 574.6h0M258.1 576.7h0M258.1 578.9h0M258.1 580h0M259.2 519.5h0M259.2 580h0M260.3 519.5h0M260.3 520.6h0M260.3 522.7h0M260.3 524.9h0M260.3 527h0M260.3 529.2h0M260.3 531.4h0M260.3 534.6h0M260.3 536.8h0M260.3 538.9h0M260.3 541.1h0M260.3 543.2h0M260.3 546.5h0M260.3 548.6h0M260.3 550.8h0M260.3 553h0M260.3 555.1h0M260.3 557.3h0M260.3 560.5h0M260.3 562.7h0M260.3 564.8h0M260.3 567h0M260.3 569.2h0M260.3 571.3h0M260.3 574.6h0M260.3 576.7h0M260.3 578.9h0M260.3 580h0M261.4 519.5h0M261.4 580h0M262.4 519.5h0M262.4 520.6h0M262.4 522.7h0M262.4 524.9h0M262.4 527h0M262.4 529.2h0M262.4 531.4h0M262.4 534.6h0M262.4 536.8h0M262.4 538.9h0M262.4 541.1h0M262.4 543.2h0M262.4 546.5h0M262.4 548.6h0M262.4 550.8h0M262.4 553h0M262.4 555.1h0M262.4 557.3h0M262.4 560.5h0M262.4 562.7h0M262.4 564.8h0M262.4 567h0M262.4 569.2h0M262.4 571.3h0M262.4 574.6h0M262.4 576.7h0M262.4 578.9h0M262.4 580h0M263.5 519.5h0M263.5 580h0M264.6 519.5h0M264.6 520.6h0M264.6 522.7h0M264.6 524.9h0M264.6 527h0M264.6 529.2h0M264.6 531.4h0M264.6 534.6h0M264.6 536.8h0M264.6 538.9h0M264.6 541.1h0M264.6 543.2h0M264.6 546.5h0M264.6 548.6h0M264.6 550.8h0M264.6 553h0M264.6 555.1h0M264.6 557.3h0M264.6 560.5h0M264.6 562.7h0M264.6 564.8h0M264.6 567h0M264.6 569.2h0M264.6 571.3h0M264.6 574.6h0M264.6 576.7h0M264.6 578.9h0M264.6 580h0M265.7 520.6h0M265.7 580h0M266.8 520.6h0M266.8 580h0M267.8 520.6h0M267.8 522.7h0M267.8 524.9h0M267.8 527h0M267.8 529.2h0M267.8 531.4h0M267.8 534.6h0M267.8 536.8h0M267.8 538.9h0M267.8 541.1h0M267.8 543.2h0M267.8 546.5h0M267.8 548.6h0M267.8 550.8h0M267.8 553h0M267.8 555.1h0M267.8 557.3h0M267.8 560.5h0M267.8 562.7h0M267.8 564.8h0M267.8 567h0M267.8 569.2h0M267.8 571.3h0M267.8 574.6h0M267.8 576.7h0M267.8 578.9h0M267.8 580h0M268.9 520.6h0M268.9 521.6h0M268.9 580h0M270 521.6h0M270 522.7h0M270 524.9h0M270 527h0M270 529.2h0M270 531.4h0M270 534.6h0M270 536.8h0M270 538.9h0M270 541.1h0M270 543.2h0M270 546.5h0M270 548.6h0M270 550.8h0M270 553h0M270 555.1h0M270 557.3h0M270 560.5h0M270 562.7h0M270 564.8h0M270 567h0M270 569.2h0M270 571.3h0M270 574.6h0M270 576.7h0M270 578.9h0M270 580h0M271.1 521.6h0M271.1 522.7h0M271.1 580h0M272.2 522.7h0M272.2 524.9h0M272.2 527h0M272.2 529.2h0M272.2 531.4h0M272.2 534.6h0M272.2 536.8h0M272.2 538.9h0M272.2 541.1h0M272.2 543.2h0M272.2 546.5h0M272.2 548.6h0M272.2 550.8h0M272.2 553h0M272.2 555.1h0M272.2 557.3h0M272.2 560.5h0M272.2 562.7h0M272.2 564.8h0M272.2 567h0M272.2 569.2h0M272.2 571.3h0M272.2 574.6h0M272.2 576.7h0M272.2 578.9h0M272.2 580h0M273.2 522.7h0M273.2 523.8h0M273.2 580h0M274.3 523.8h0M274.3 524.9h0M274.3 527h0M274.3 529.2h0M274.3 531.4h0M274.3 534.6h0M274.3 536.8h0M274.3 538.9h0M274.3 541.1h0M274.3 543.2h0M274.3 546.5h0M274.3 548.6h0M274.3 550.8h0M274.3 553h0M274.3 555.1h0M274.3 557.3h0M274.3 560.5h0M274.3 562.7h0M274.3 564.8h0M274.3 567h0M274.3 569.2h0M274.3 571.3h0M274.3 574.6h0M274.3 576.7h0M274.3 578.9h0M274.3 580h0M275.4 524.9h0M275.4 580h0M276.5 524.9h0M276.5 526h0M276.5 527h0M276.5 529.2h0M276.5 531.4h0M276.5 534.6h0M276.5 536.8h0M276.5 538.9h0M276.5 541.1h0M276.5 543.2h0M276.5 546.5h0M276.5 548.6h0M276.5 550.8h0M276.5 553h0M276.5 555.1h0M276.5 557.3h0M276.5 560.5h0M276.5 562.7h0M276.5 564.8h0M276.5 567h0M276.5 569.2h0M276.5 571.3h0M276.5 574.6h0M276.5 576.7h0M276.5 578.9h0M276.5 580h0M277.6 526h0M277.6 527h0M277.6 580h0M278.6 527h0M278.6 528.1h0M278.6 529.2h0M278.6 531.4h0M278.6 534.6h0M278.6 536.8h0M278.6 538.9h0M278.6 541.1h0M278.6 543.2h0M278.6 546.5h0M278.6 548.6h0M278.6 550.8h0M278.6 553h0M278.6 555.1h0M278.6 557.3h0M278.6 560.5h0M278.6 562.7h0M278.6 564.8h0M278.6 567h0M278.6 569.2h0M278.6 571.3h0M278.6 574.6h0M278.6 576.7h0M278.6 578.9h0M278.6 580h0M279.7 529.2h0M279.7 580h0M280.8 530.3h0M280.8 580h0M281.9 529.2h0M281.9 531.4h0M281.9 532.4h0M281.9 534.6h0M281.9 536.8h0M281.9 538.9h0M281.9 541.1h0M281.9 543.2h0M281.9 546.5h0M281.9 548.6h0M281.9 550.8h0M281.9 553h0M281.9 555.1h0M281.9 557.3h0M281.9 560.5h0M281.9 562.7h0M281.9 564.8h0M281.9 567h0M281.9 569.2h0M281.9 571.3h0M281.9 574.6h0M281.9 576.7h0M281.9 578.9h0M281.9 580h0M283 529.2h0M283 530.3h0M283 532.4h0M283 533.5h0M283 580h0M284 533.5h0M284 534.6h0M284 536.8h0M284 538.9h0M284 541.1h0M284 543.2h0M284 546.5h0M284 548.6h0M284 550.8h0M284 553h0M284 555.1h0M284 557.3h0M284 560.5h0M284 562.7h0M284 564.8h0M284 567h0M284 569.2h0M284 571.3h0M284 574.6h0M284 576.7h0M284 578.9h0M284 580h0M285.1 534.6h0M285.1 535.7h0M285.1 580h0M286.2 536.8h0M286.2 537.8h0M286.2 538.9h0M286.2 541.1h0M286.2 543.2h0M286.2 546.5h0M286.2 548.6h0M286.2 550.8h0M286.2 553h0M286.2 555.1h0M286.2 557.3h0M286.2 560.5h0M286.2 562.7h0M286.2 564.8h0M286.2 567h0M286.2 569.2h0M286.2 571.3h0M286.2 574.6h0M286.2 576.7h0M286.2 578.9h0M286.2 580h0M287.3 537.8h0M287.3 538.9h0M287.3 580h0M288.4 540h0M288.4 541.1h0M288.4 543.2h0M288.4 546.5h0M288.4 548.6h0M288.4 550.8h0M288.4 553h0M288.4 555.1h0M288.4 557.3h0M288.4 560.5h0M288.4 562.7h0M288.4 564.8h0M288.4 567h0M288.4 569.2h0M288.4 571.3h0M288.4 574.6h0M288.4 576.7h0M288.4 578.9h0M288.4 580h0M289.4 541.1h0M289.4 542.2h0M289.4 543.2h0M289.4 544.3h0M289.4 580h0M290.5 544.3h0M290.5 545.4h0M290.5 546.5h0M290.5 548.6h0M290.5 550.8h0M290.5 553h0M290.5 555.1h0M290.5 557.3h0M290.5 560.5h0M290.5 562.7h0M290.5 564.8h0M290.5 567h0M290.5 569.2h0M290.5 571.3h0M290.5 574.6h0M290.5 576.7h0M290.5 578.9h0M290.5 580h0M291.6 547.6h0M291.6 548.6h0M291.6 549.7h0M291.6 580h0M292.7 549.7h0M292.7 550.8h0M292.7 551.9h0M292.7 553h0M292.7 555.1h0M292.7 557.3h0M292.7 560.5h0M292.7 562.7h0M292.7 564.8h0M292.7 567h0M292.7 569.2h0M292.7 571.3h0M292.7 574.6h0M292.7 576.7h0M292.7 578.9h0M292.7 580h0M293.8 554h0M293.8 555.1h0M293.8 556.2h0M293.8 557.3h0M293.8 580h0M294.8 558.4h0M294.8 559.4h0M294.8 560.5h0M294.8 561.6h0M294.8 562.7h0M294.8 563.8h0M294.8 564.8h0M294.8 565.9h0M294.8 567h0M294.8 568.1h0M294.8 569.2h0M294.8 570.2h0M294.8 571.3h0M294.8 572.4h0M294.8 573.5h0M294.8 574.6h0M294.8 575.6h0M294.8 576.7h0M294.8 577.8h0M294.8 578.9h0M294.8 580h0"/></g>
    </g>
   </g>
   <g id="PathCollection_1"/>
   <g id="matplotlib.axis_1">
    <g id="xtick_19">
     <g id="line2d_22">
      <defs>
       <path id="m1504cfccaf" d="M 0 0 
L 0 3.5 
" style="stroke: #000000; stroke-width: 0.8"/>
      </defs>
      <g>
       <use href="#m1504cfccaf" x="212.04" y="577.08" style="stroke: #000000; stroke-width: 0.8"/>
      </g>
     </g>
     <g id="text_24">
      <text style="font-size: 10px; font-family: 'DejaVu Sans', 'Liberation Sans', sans-serif; text-anchor: middle" x="211.586419" y="591.318438" transform="rotate(-0 211.586419 591.318438)">−500</text>
     </g>
    </g>
    <g id="xtick_20">
     <g id="line2d_23">
      <g>
       <use href="#m1504cfccaf" x="253.8" y="577.08" style="stroke: #000000; stroke-width: 0.8"/>
      </g>
     </g>
     <g id="text_25">
      <text style="font-size: 10px; font-family: 'DejaVu Sans', 'Liberation Sans', sans-serif; text-anchor: middle" x="253.565217" y="591.318438" transform="rotate(-0 253.565217 591.318438)">0</text>
     </g>
    </g>
    <g id="xtick_21">
     <g id="line2d_24">
      <g>
       <use href="#m1504cfccaf" x="295.56" y="577.08" style="stroke: #000000; stroke-width: 0.8"/>
      </g>
     </g>
     <g id="text_26">
      <text style="font-size: 10px; font-family: 'DejaVu Sans', 'Liberation Sans', sans-serif; text-anchor: middle" x="295.544016" y="591.318438" transform="rotate(-0 295.544016 591.318438)">500</text>
     </g>
    </g>
    <g id="text_27">
     <text style="font-size: 10px; font-family: 'DejaVu Sans', 'Liberation Sans', sans-serif; text-anchor: middle" x="253.565217" y="604.996562" transform="rotate(-0 253.565217 604.996562)">X (cm)</text>
    </g>
   </g>
   <g id="matplotlib.axis_2">
    <g id="ytick_1">
     <g id="line2d_25">
      <defs>
       <path id="m5d545ce8f8" d="M 0 0 
L -3.5 0 
" style="stroke: #000000; stroke-width: 0.8"/>
      </defs>
      <g>
       <use href="#m5d545ce8f8" x="206.28" y="571.32" style="stroke: #000000; stroke-width: 0.8"/>
      </g>
     </g>
     <g id="text_28">
      <text style="font-size: 10px; font-family: 'DejaVu Sans', 'Liberation Sans', sans-serif; text-anchor: end" x="199.045217" y="574.978017" transform="rotate(-0 199.045217 574.978017)">−500</text>
     </g>
    </g>
    <g id="ytick_2">
     <g id="line2d_26">
      <g>
       <use href="#m5d545ce8f8" x="206.28" y="529.56" style="stroke: #000000; stroke-width: 0.8"/>
      </g>
     </g>
     <g id="text_29">
      <text style="font-size: 10px; font-family: 'DejaVu Sans', 'Liberation Sans', sans-serif; text-anchor: end" x="199.045217" y="532.999219" transform="rotate(-0 199.045217 532.999219)">0</text>
     </g>
    </g>
    <g id="ytick_3">
     <g id="line2d_27">
      <g>
       <use href="#m5d545ce8f8" x="206.28" y="487.8" style="stroke: #000000; stroke-width: 0.8"/>
      </g>
     </g>
     <g id="text_30">
      <text style="font-size: 10px; font-family: 'DejaVu Sans', 'Liberation Sans', sans-serif; text-anchor: end" x="199.045217" y="491.02042" transform="rotate(-0 199.045217 491.02042)">500</text>
     </g>
    </g>
    <g id="text_31">
     <text style="font-size: 10px; font-family: 'DejaVu Sans', 'Liberation Sans', sans-serif; text-anchor: middle" x="165.498342" y="529.2" transform="rotate(-90 165.498342 529.2)">Y (cm)</text>
    </g>
   </g>
   <g id="patch_8">
    <path d="M206.28 577.08L206.28 482.04" style="fill: none; stroke: #000000; stroke-width: 0.8; stroke-linejoin: miter; stroke-linecap: square"/>
   </g>
   <g id="patch_9">
    <path d="M301.32 577.08L301.32 482.04" style="fill: none; stroke: #000000; stroke-width: 0.8; stroke-linejoin: miter; stroke-linecap: square"/>
   </g>
   <g id="patch_10">
    <path d="M206.28 577.08L301.32 577.08" style="fill: none; stroke: #000000; stroke-width: 0.8; stroke-linejoin: miter; stroke-linecap: square"/>
   </g>
   <g id="patch_11">
    <path d="M206.28 482.04L301.32 482.04" style="fill: none; stroke: #000000; stroke-width: 0.8; stroke-linejoin: miter; stroke-linecap: square"/>
   </g>
   <g id="text_32">
    <text style="font-size: 12px; font-family: 'DejaVu Sans', 'Liberation Sans', sans-serif; text-anchor: middle" x="253.565217" y="475.68" transform="rotate(-0 253.565217 475.68)">LiDAR Point 2D Coordinate Graph</text>
   </g>
   <g id="legend_2" transform="translate(0,0.6)">
    <g id="patch_12">
     <path d="M 312.837217 519.79625 
L 370.740342 519.79625 
Q 372.740342 519.79625 372.740342 517.79625 
L 372.740342 488.68 
Q 372.740342 486.68 370.740342 486.68 
L 312.837217 486.68 
Q 310.837217 486.68 310.837217 488.68 
L 310.837217 517.79625 
Q 310.837217 519.79625 312.837217 519.79625 
z
" style="fill: #ffffff; opacity: 0.8; stroke: #cccccc; stroke-linejoin: miter"/>
    </g>
    <g id="PathCollection_2">
     <g>
      <use href="#m0f09bfcae3" x="325.037217" y="495.853437" style="fill: #90ee90; stroke: #90ee90"/>
     </g>
    </g>
    <g id="text_33">
     <text style="font-size: 10px; font-family: 'DejaVu Sans', 'Liberation Sans', sans-serif; text-anchor: start" x="343.037217" y="498.478437" transform="rotate(-0 343.037217 498.478437)">point</text>
    </g>
    <g id="PathCollection_3">
     <defs>
      <path id="m07ba7ed919" d="M 0 3 
C 0.795609 3 1.55874 2.683901 2.12132 2.12132 
C 2.683901 1.55874 3 0.795609 3 0 
C 3 -0.795609 2.683901 -1.55874 2.12132 -2.12132 
C 1.55874 -2.683901 0.795609 -3 0 -3 
C -0.795609 -3 -1.55874 -2.683901 -2.12132 -2.12132 
C -2.683901 -1.55874 -3 -0.795609 -3 0 
C -3 0.795609 -2.683901 1.55874 -2.12132 2.12132 
C -1.55874 2.683901 -0.795609 3 0 3 
z
" style="stroke: #0000ff"/>
     </defs>
     <g>
      <use href="#m07ba7ed919" x="325.037217" y="510.891562" style="fill: #0000ff; stroke: #0000ff"/>
     </g>
    </g>
    <g id="text_34">
     <text style="font-size: 10px; font-family: 'DejaVu Sans', 'Liberation Sans', sans-serif; text-anchor: start" x="343.037217" y="513.516562" transform="rotate(-0 343.037217 513.516562)">wall</text>
    </g>
   </g>
  </g>
  <g id="axes_3">
   <g id="patch_13">
    <path d="M 486.469565 576.72 
L 777.6 576.72 
L 777.6 481.68 
L 486.469565 481.68 
z
" style="fill: #ffffff"/>
   </g>
   <g id="patch_14">
    <path d="M486.72 576.72L503.28 576.72L503.28 573.84L486.72 573.84z" clip-path="url(#p1ca3901ace)" style="fill: #0000ff"/>
   </g>
   <g id="patch_15">
    <path d="M503.28 576.72L520.56 576.72L520.56 562.32L503.28 562.32z" clip-path="url(#p1ca3901ace)" style="fill: #0000ff"/>
   </g>
   <g id="patch_16">
    <path d="M520.56 576.72L537.84 576.72L537.84 564.48L520.56 564.48z" clip-path="url(#p1ca3901ace)" style="fill: #0000ff"/>
   </g>
   <g id="patch_17">
    <path d="M537.84 576.72L554.4 576.72L554.4 566.64L537.84 566.64z" clip-path="url(#p1ca3901ace)" style="fill: #0000ff"/>
   </g>
   <g id="patch_18">
    <path d="M554.4 576.72L571.68 576.72L571.68 568.8L554.4 568.8z" clip-path="url(#p1ca3901ace)" style="fill: #0000ff"/>
   </g>
   <g id="patch_19">
    <path d="M571.68 576.72L588.96 576.72L588.96 537.84L571.68 537.84z" clip-path="url(#p1ca3901ace)" style="fill: #0000ff"/>
   </g>
   <g id="patch_20">
    <path d="M588.96 576.72L605.52 576.72L605.52 486L588.96 486z" clip-path="url(#p1ca3901ace)" style="fill: #0000ff"/>
   </g>
   <g id="patch_21">
    <path d="M605.52 576.72L622.8 576.72L622.8 559.44L605.52 559.44z" clip-path="url(#p1ca3901ace)" style="fill: #0000ff"/>
   </g>
   <g id="patch_22">
    <path d="M622.8 576.72L640.08 576.72L640.08 568.8L622.8 568.8z" clip-path="url(#p1ca3901ace)" style="fill: #0000ff"/>
   </g>
   <g id="patch_23">
    <path d="M640.08 576.72L656.64 576.72L656.64 574.56L640.08 574.56z" clip-path="url(#p1ca3901ace)" style="fill: #0000ff"/>
   </g>
   <g id="matplotlib.axis_3">
    <g id="xtick_22">
     <g id="line2d_28">
      <g>
       <use href="#m1504cfccaf" x="487.08" y="577.08" style="stroke: #000000; stroke-width: 0.8"/>
      </g>
     </g>
     <g id="text_35">
      <text style="font-size: 10px; font-family: 'DejaVu Sans', 'Liberation Sans', sans-serif; text-anchor: middle" x="486.469565" y="591.318438" transform="rotate(-0 486.469565 591.318438)">0</text>
     </g>
    </g>
    <g id="xtick_23">
     <g id="line2d_29">
      <g>
       <use href="#m1504cfccaf" x="528.12" y="577.08" style="stroke: #000000; stroke-width: 0.8"/>
      </g>
     </g>
     <g id="text_36">
      <text style="font-size: 10px; font-family: 'DejaVu Sans', 'Liberation Sans', sans-serif; text-anchor: middle" x="528.059627" y="591.318438" transform="rotate(-0 528.059627 591.318438)">100</text>
     </g>
    </g>
    <g id="xtick_24">
     <g id="line2d_30">
      <g>
       <use href="#m1504cfccaf" x="569.88" y="577.08" style="stroke: #000000; stroke-width: 0.8"/>
      </g>
     </g>
     <g id="text_37">
      <text style="font-size: 10px; font-family: 'DejaVu Sans', 'Liberation Sans', sans-serif; text-anchor: middle" x="569.649689" y="591.318438" transform="rotate(-0 569.649689 591.318438)">200</text>
     </g>
    </g>
    <g id="xtick_25">
     <g id="line2d_31">
      <g>
       <use href="#m1504cfccaf" x="611.64" y="577.08" style="stroke: #000000; stroke-width: 0.8"/>
      </g>
     </g>
     <g id="text_38">
      <text style="font-size: 10px; font-family: 'DejaVu Sans', 'Liberation Sans', sans-serif; text-anchor: middle" x="611.239752" y="591.318438" transform="rotate(-0 611.239752 591.318438)">300</text>
     </g>
    </g>
    <g id="xtick_26">
     <g id="line2d_32">
      <g>
       <use href="#m1504cfccaf" x="653.4" y="577.08" style="stroke: #000000; stroke-width: 0.8"/>
      </g>
     </g>
     <g id="text_39">
      <text style="font-size: 10px; font-family: 'DejaVu Sans', 'Liberation Sans', sans-serif; text-anchor: middle" x="652.829814" y="591.318438" transform="rotate(-0 652.829814 591.318438)">400</text>
     </g>
    </g>
    <g id="xtick_27">
     <g id="line2d_33">
      <g>
       <use href="#m1504cfccaf" x="694.44" y="577.08" style="stroke: #000000; stroke-width: 0.8"/>
      </g>
     </g>
     <g id="text_40">
      <text style="font-size: 10px; font-family: 'DejaVu Sans', 'Liberation Sans', sans-serif; text-anchor: middle" x="694.419876" y="591.318438" transform="rotate(-0 694.419876 591.318438)">500</text>
     </g>
    </g>
    <g id="xtick_28">
     <g id="line2d_34">
      <g>
       <use href="#m1504cfccaf" x="736.2" y="577.08" style="stroke: #000000; stroke-width: 0.8"/>
      </g>
     </g>
     <g id="text_41">
      <text style="font-size: 10px; font-family: 'DejaVu Sans', 'Liberation Sans', sans-serif; text-anchor: middle" x="736.009938" y="591.318438" transform="rotate(-0 736.009938 591.318438)">600</text>
     </g>
    </g>
    <g id="xtick_29">
     <g id="line2d_35">
      <g>
       <use href="#m1504cfccaf" x="777.96" y="577.08" style="stroke: #000000; stroke-width: 0.8"/>
      </g>
     </g>
     <g id="text_42">
      <text style="font-size: 10px; font-family: 'DejaVu Sans', 'Liberation Sans', sans-serif; text-anchor: middle" x="777.6" y="591.318438" transform="rotate(-0 777.6 591.318438)">700</text>
     </g>
    </g>
   </g>
   <g id="matplotlib.axis_4">
    <g id="ytick_4">
     <g id="line2d_36">
      <g>
       <use href="#m5d545ce8f8" x="487.08" y="577.08" style="stroke: #000000; stroke-width: 0.8"/>
      </g>
     </g>
     <g id="text_43">
      <text style="font-size: 10px; font-family: 'DejaVu Sans', 'Liberation Sans', sans-serif; text-anchor: end" x="479.469565" y="580.519219" transform="rotate(-0 479.469565 580.519219)">0</text>
     </g>
    </g>
    <g id="ytick_5">
     <g id="line2d_37">
      <g>
       <use href="#m5d545ce8f8" x="487.08" y="553.32" style="stroke: #000000; stroke-width: 0.8"/>
      </g>
     </g>
     <g id="text_44">
      <text style="font-size: 10px; font-family: 'DejaVu Sans', 'Liberation Sans', sans-serif; text-anchor: end" x="479.469565" y="556.573641" transform="rotate(-0 479.469565 556.573641)">1000</text>
     </g>
    </g>
    <g id="ytick_6">
     <g id="line2d_38">
      <g>
       <use href="#m5d545ce8f8" x="487.08" y="528.84" style="stroke: #000000; stroke-width: 0.8"/>
      </g>
     </g>
     <g id="text_45">
      <text style="font-size: 10px; font-family: 'DejaVu Sans', 'Liberation Sans', sans-serif; text-anchor: end" x="479.469565" y="532.628062" transform="rotate(-0 479.469565 532.628062)">2000</text>
     </g>
    </g>
    <g id="ytick_7">
     <g id="line2d_39">
      <g>
       <use href="#m5d545ce8f8" x="487.08" y="505.08" style="stroke: #000000; stroke-width: 0.8"/>
      </g>
     </g>
     <g id="text_46">
      <text style="font-size: 10px; font-family: 'DejaVu Sans', 'Liberation Sans', sans-serif; text-anchor: end" x="479.469565" y="508.682484" transform="rotate(-0 479.469565 508.682484)">3000</text>
     </g>
    </g>
   </g>
   <g id="patch_24">
    <path d="M487.08 577.08L487.08 482.04" style="fill: none; stroke: #000000; stroke-width: 0.8; stroke-linejoin: miter; stroke-linecap: square"/>
   </g>
   <g id="patch_25">
    <path d="M777.96 577.08L777.96 482.04" style="fill: none; stroke: #000000; stroke-width: 0.8; stroke-linejoin: miter; stroke-linecap: square"/>
   </g>
   <g id="patch_26">
    <path d="M487.08 577.08L777.96 577.08" style="fill: none; stroke: #000000; stroke-width: 0.8; stroke-linejoin: miter; stroke-linecap: square"/>
   </g>
   <g id="patch_27">
    <path d="M487.08 482.04L777.96 482.04" style="fill: none; stroke: #000000; stroke-width: 0.8; stroke-linejoin: miter; stroke-linecap: square"/>
   </g>
   <g id="text_47">
    <text style="font-size: 12px; font-family: 'DejaVu Sans', 'Liberation Sans', sans-serif; text-anchor: middle" x="632.034783" y="475.68" transform="rotate(-0 632.034783 475.68)">Height Histogram</text>
   </g>
   <g id="legend_3" transform="translate(0,0.5)">
    <g id="patch_28">
     <path d="M 705.542188 504.358125 
L 770.6 504.358125 
Q 772.6 504.358125 772.6 502.358125 
L 772.6 488.68 
Q 772.6 486.68 770.6 486.68 
L 705.542188 486.68 
Q 703.542188 486.68 703.542188 488.68 
L 703.542188 502.358125 
Q 703.542188 504.358125 705.542188 504.358125 
z
" style="fill: #ffffff; opacity: 0.8; stroke: #cccccc; stroke-linejoin: miter"/>
    </g>
    <g id="patch_29">
     <path d="M 707.542188 498.278437 
L 727.542188 498.278437 
L 727.542188 491.278437 
L 707.542188 491.278437 
z
" style="fill: #0000ff"/>
    </g>
    <g id="text_48">
     <text style="font-size: 10px; font-family: 'DejaVu Sans', 'Liberation Sans', sans-serif; text-anchor: start" x="735.542188" y="498.278437" transform="rotate(-0 735.542188 498.278437)">Height</text>
    </g>
   </g>
  </g>
 </g>
 <defs>
  <clipPath id="pcbff7d88e8">
   <rect x="252.72" y="77.76" width="380.16" height="380.16"/>
  </clipPath>
  <clipPath id="pb62c29a046">
   <rect x="206.045217" y="481.68" width="95.04" height="95.04"/>
  </clipPath>
  <clipPath id="p1ca3901ace">
   <rect x="486.469565" y="481.68" width="291.130435" height="95.04"/>
  </clipPath>
 </defs>
</svg>

</body></html>
